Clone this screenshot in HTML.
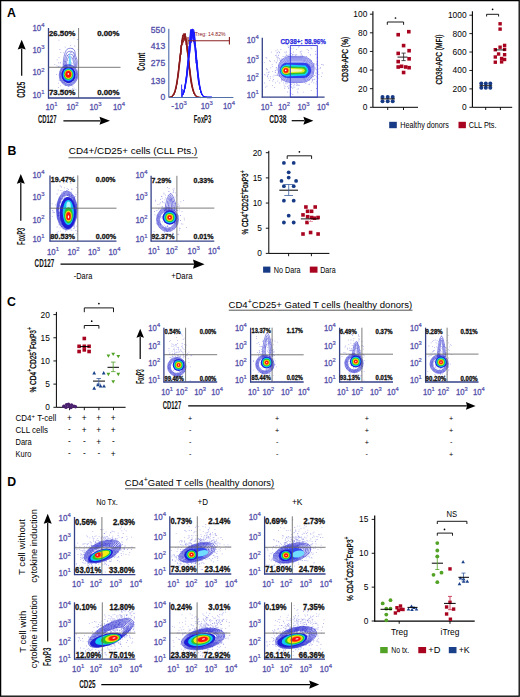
<!DOCTYPE html>
<html><head><meta charset="utf-8"><style>
html,body{margin:0;padding:0;background:#fff;}
body{width:520px;height:697px;overflow:hidden;font-family:"Liberation Sans", sans-serif;}
svg{display:block;}
</style></head><body>
<svg width="520" height="697" viewBox="0 0 520 697" font-family='"Liberation Sans", sans-serif'>
<rect x="0" y="0" width="520" height="697" fill="#fff"/>
<text x="7.00" y="17.20" font-size="12.3" font-weight="bold" fill="#000">A</text>
<path d="M66.7,76.1h0.8v0.8h-0.8zM66.9,66.2h0.8v0.8h-0.8zM63.3,67.4h0.8v0.8h-0.8zM73.6,75.1h0.8v0.8h-0.8zM73.2,73.0h0.8v0.8h-0.8zM70.0,72.2h0.8v0.8h-0.8zM59.7,80.3h0.8v0.8h-0.8zM70.5,76.0h0.8v0.8h-0.8zM59.5,49.1h0.8v0.8h-0.8zM63.6,64.4h0.8v0.8h-0.8zM69.5,69.4h0.8v0.8h-0.8zM70.6,62.3h0.8v0.8h-0.8zM69.5,74.7h0.8v0.8h-0.8zM64.7,90.6h0.8v0.8h-0.8zM70.8,84.4h0.8v0.8h-0.8zM64.9,61.1h0.8v0.8h-0.8zM66.3,68.7h0.8v0.8h-0.8zM71.2,73.0h0.8v0.8h-0.8zM65.8,58.5h0.8v0.8h-0.8zM65.4,84.7h0.8v0.8h-0.8zM64.0,72.9h0.8v0.8h-0.8zM70.1,52.1h0.8v0.8h-0.8zM68.2,85.7h0.8v0.8h-0.8zM57.9,66.1h0.8v0.8h-0.8zM67.5,60.2h0.8v0.8h-0.8zM70.5,69.3h0.8v0.8h-0.8zM60.7,79.9h0.8v0.8h-0.8zM71.3,81.4h0.8v0.8h-0.8zM75.2,74.3h0.8v0.8h-0.8zM68.6,54.4h0.8v0.8h-0.8zM71.1,62.7h0.8v0.8h-0.8zM65.7,54.8h0.8v0.8h-0.8zM63.2,63.6h0.8v0.8h-0.8zM74.4,45.6h0.8v0.8h-0.8zM60.7,72.9h0.8v0.8h-0.8zM75.2,76.9h0.8v0.8h-0.8zM58.5,39.8h0.8v0.8h-0.8zM69.8,61.2h0.8v0.8h-0.8zM62.4,81.7h0.8v0.8h-0.8zM73.5,71.9h0.8v0.8h-0.8zM69.2,75.2h0.8v0.8h-0.8zM76.0,77.4h0.8v0.8h-0.8zM70.6,76.6h0.8v0.8h-0.8zM60.2,85.4h0.8v0.8h-0.8zM72.8,76.4h0.8v0.8h-0.8zM58.1,62.4h0.8v0.8h-0.8zM72.2,48.3h0.8v0.8h-0.8zM67.1,82.2h0.8v0.8h-0.8zM61.4,89.3h0.8v0.8h-0.8zM70.8,68.2h0.8v0.8h-0.8zM69.6,77.8h0.8v0.8h-0.8zM68.6,83.7h0.8v0.8h-0.8zM64.7,65.0h0.8v0.8h-0.8zM73.2,70.3h0.8v0.8h-0.8zM63.6,81.4h0.8v0.8h-0.8zM75.3,64.7h0.8v0.8h-0.8zM61.1,68.4h0.8v0.8h-0.8zM67.3,66.4h0.8v0.8h-0.8zM75.0,57.7h0.8v0.8h-0.8zM74.3,54.8h0.8v0.8h-0.8zM64.1,77.6h0.8v0.8h-0.8zM73.6,80.3h0.8v0.8h-0.8zM69.7,71.7h0.8v0.8h-0.8zM68.8,76.9h0.8v0.8h-0.8zM67.1,73.3h0.8v0.8h-0.8zM70.9,70.0h0.8v0.8h-0.8zM71.8,76.8h0.8v0.8h-0.8zM65.9,65.5h0.8v0.8h-0.8zM67.9,81.1h0.8v0.8h-0.8zM66.3,74.6h0.8v0.8h-0.8zM77.2,39.2h0.8v0.8h-0.8zM62.4,72.9h0.8v0.8h-0.8zM70.0,72.9h0.8v0.8h-0.8zM65.8,77.9h0.8v0.8h-0.8zM69.4,63.7h0.8v0.8h-0.8zM65.2,68.8h0.8v0.8h-0.8zM66.9,69.2h0.8v0.8h-0.8zM54.4,64.2h0.8v0.8h-0.8zM73.0,56.0h0.8v0.8h-0.8zM67.7,81.4h0.8v0.8h-0.8zM72.3,87.9h0.8v0.8h-0.8zM59.5,65.8h0.8v0.8h-0.8zM66.3,77.5h0.8v0.8h-0.8zM73.5,37.8h0.8v0.8h-0.8zM73.4,52.6h0.8v0.8h-0.8zM71.4,52.1h0.8v0.8h-0.8zM68.9,84.3h0.8v0.8h-0.8zM67.3,72.3h0.8v0.8h-0.8zM72.0,71.7h0.8v0.8h-0.8zM67.6,88.4h0.8v0.8h-0.8zM73.2,66.5h0.8v0.8h-0.8zM72.6,66.8h0.8v0.8h-0.8zM68.7,78.5h0.8v0.8h-0.8zM69.1,77.7h0.8v0.8h-0.8zM60.4,51.9h0.8v0.8h-0.8zM71.1,58.4h0.8v0.8h-0.8zM62.9,52.4h0.8v0.8h-0.8zM74.3,79.0h0.8v0.8h-0.8zM75.4,58.7h0.8v0.8h-0.8zM68.0,56.3h0.8v0.8h-0.8zM71.8,89.1h0.8v0.8h-0.8zM63.5,88.7h0.8v0.8h-0.8zM72.9,67.9h0.8v0.8h-0.8zM58.1,86.9h0.8v0.8h-0.8zM67.5,62.8h0.8v0.8h-0.8zM70.0,74.9h0.8v0.8h-0.8zM75.5,57.8h0.8v0.8h-0.8zM73.7,87.8h0.8v0.8h-0.8zM75.3,67.8h0.8v0.8h-0.8zM64.3,82.2h0.8v0.8h-0.8zM68.6,71.5h0.8v0.8h-0.8zM75.1,66.8h0.8v0.8h-0.8zM56.5,65.4h0.8v0.8h-0.8zM58.7,79.8h0.8v0.8h-0.8zM69.6,62.7h0.8v0.8h-0.8zM68.0,80.0h0.8v0.8h-0.8zM68.4,85.9h0.8v0.8h-0.8zM67.7,82.5h0.8v0.8h-0.8zM75.5,89.3h0.8v0.8h-0.8zM64.6,80.6h0.8v0.8h-0.8zM58.6,57.0h0.8v0.8h-0.8zM58.2,82.8h0.8v0.8h-0.8zM61.8,69.8h0.8v0.8h-0.8zM67.0,69.7h0.8v0.8h-0.8zM65.0,72.8h0.8v0.8h-0.8zM77.0,70.5h0.8v0.8h-0.8zM70.7,82.0h0.8v0.8h-0.8zM67.0,54.9h0.8v0.8h-0.8zM65.2,82.9h0.8v0.8h-0.8zM59.8,62.8h0.8v0.8h-0.8zM73.0,79.5h0.8v0.8h-0.8zM68.0,79.7h0.8v0.8h-0.8zM68.8,55.9h0.8v0.8h-0.8zM60.2,62.3h0.8v0.8h-0.8zM72.6,63.2h0.8v0.8h-0.8zM63.5,60.7h0.8v0.8h-0.8zM60.3,68.6h0.8v0.8h-0.8zM62.1,74.4h0.8v0.8h-0.8zM56.2,73.9h0.8v0.8h-0.8zM64.8,46.7h0.8v0.8h-0.8zM71.6,66.7h0.8v0.8h-0.8zM56.8,59.5h0.8v0.8h-0.8zM69.5,64.5h0.8v0.8h-0.8zM71.9,79.0h0.8v0.8h-0.8zM71.3,73.9h0.8v0.8h-0.8zM74.7,77.9h0.8v0.8h-0.8zM70.3,45.0h0.8v0.8h-0.8zM72.5,85.7h0.8v0.8h-0.8zM66.5,64.4h0.8v0.8h-0.8zM77.7,48.9h0.8v0.8h-0.8zM63.4,78.3h0.8v0.8h-0.8zM77.4,68.6h0.8v0.8h-0.8zM70.8,80.8h0.8v0.8h-0.8zM63.5,68.9h0.8v0.8h-0.8zM69.5,79.9h0.8v0.8h-0.8zM67.8,67.7h0.8v0.8h-0.8z" fill="#3a3ad0" opacity="0.5"/>
<path d="M63.30,68.00 C62.80,60.00 64.50,52.00 67.00,49.30 C69.00,47.80 72.50,47.80 74.30,50.00 C75.50,52.00 74.80,55.00 76.20,57.50 C77.60,60.00 77.30,64.00 76.50,68.00" fill="none" stroke="#3030d0" stroke-width="0.55"/>
<path d="M64.33,68.00 C63.91,61.20 65.36,54.40 67.48,52.10 C69.18,50.83 72.16,50.83 73.69,52.70 C74.70,54.40 74.11,56.95 75.30,59.08 C76.49,61.20 76.23,64.60 75.56,68.00" fill="none" stroke="#3030d0" stroke-width="0.55"/>
<path d="M65.37,68.00 C65.02,62.40 66.21,56.80 67.96,54.91 C69.36,53.86 71.81,53.86 73.07,55.40 C73.91,56.80 73.42,58.90 74.40,60.65 C75.38,62.40 75.17,65.20 74.61,68.00" fill="none" stroke="#3030d0" stroke-width="0.55"/>
<path d="M66.34,68.00 C66.06,63.52 67.01,59.04 68.41,57.53 C69.53,56.69 71.49,56.69 72.50,57.92 C73.17,59.04 72.78,60.72 73.56,62.12 C74.34,63.52 74.18,65.76 73.73,68.00" fill="none" stroke="#3030d0" stroke-width="0.55"/>
<path d="M68.8,66 C68.6,61 69,56 69.8,52.5 C70.6,56 71.3,61 71.2,66 Z" fill="#70d8ff"/>
<ellipse cx="68.50" cy="75.20" rx="9.30" ry="10.80" transform="rotate(0 68.50 75.20)" fill="none" stroke="#2f2fd0" stroke-width="0.55" opacity="0.9"/>
<ellipse cx="68.49" cy="75.12" rx="8.79" ry="10.21" transform="rotate(0 68.49 75.12)" fill="none" stroke="#2f2fd0" stroke-width="0.55" opacity="0.9"/>
<ellipse cx="68.48" cy="75.05" rx="8.28" ry="9.61" transform="rotate(0 68.48 75.05)" fill="none" stroke="#2f2fd0" stroke-width="0.55" opacity="0.9"/>
<ellipse cx="68.47" cy="74.97" rx="7.77" ry="9.02" transform="rotate(0 68.47 74.97)" fill="none" stroke="#2f2fd0" stroke-width="0.55" opacity="0.9"/>
<ellipse cx="68.46" cy="74.89" rx="7.25" ry="8.42" transform="rotate(0 68.46 74.89)" fill="#1a1ad0" stroke="none" stroke-width="0.5" opacity="1"/>
<ellipse cx="68.42" cy="74.67" rx="5.77" ry="6.70" transform="rotate(0 68.42 74.67)" fill="#2a50ff" stroke="none" stroke-width="0.5" opacity="1"/>
<ellipse cx="68.41" cy="74.58" rx="5.21" ry="6.05" transform="rotate(0 68.41 74.58)" fill="#10d8f8" stroke="none" stroke-width="0.5" opacity="1"/>
<ellipse cx="68.40" cy="74.49" rx="4.56" ry="5.29" transform="rotate(0 68.40 74.49)" fill="#28c428" stroke="none" stroke-width="0.5" opacity="1"/>
<ellipse cx="68.38" cy="74.37" rx="3.81" ry="4.43" transform="rotate(0 68.38 74.37)" fill="#f0f010" stroke="none" stroke-width="0.5" opacity="1"/>
<ellipse cx="68.37" cy="74.29" rx="3.25" ry="3.78" transform="rotate(0 68.37 74.29)" fill="#ff8a10" stroke="none" stroke-width="0.5" opacity="1"/>
<ellipse cx="68.36" cy="74.23" rx="2.88" ry="3.35" transform="rotate(0 68.36 74.23)" fill="#ff1010" stroke="none" stroke-width="0.5" opacity="1"/>
<ellipse cx="68.32" cy="73.91" rx="0.74" ry="0.86" transform="rotate(0 68.32 73.91)" fill="#fff0f0" stroke="none" stroke-width="0.5" opacity="1"/>
<line x1="48.50" y1="28.00" x2="48.50" y2="98.50" stroke="#34428a" stroke-width="1.3"/>
<line x1="48.00" y1="98.00" x2="120.50" y2="98.00" stroke="#34428a" stroke-width="1.3"/>
<line x1="78.60" y1="28.00" x2="78.60" y2="98.00" stroke="#5a5a5a" stroke-width="0.8"/>
<line x1="48.50" y1="67.30" x2="120.50" y2="67.30" stroke="#5a5a5a" stroke-width="0.8"/>
<text x="32.39" y="30.90" font-size="8.40" textLength="8.74" lengthAdjust="spacingAndGlyphs" fill="#5450aa" stroke="#5450aa" stroke-width="0.3">10</text>
<text x="41.23" y="27.04" font-size="5.88" fill="#5450aa" stroke="#5450aa" stroke-width="0.22">4</text>
<text x="32.39" y="53.10" font-size="8.40" textLength="8.74" lengthAdjust="spacingAndGlyphs" fill="#5450aa" stroke="#5450aa" stroke-width="0.3">10</text>
<text x="41.23" y="49.24" font-size="5.88" fill="#5450aa" stroke="#5450aa" stroke-width="0.22">3</text>
<text x="32.39" y="75.40" font-size="8.40" textLength="8.74" lengthAdjust="spacingAndGlyphs" fill="#5450aa" stroke="#5450aa" stroke-width="0.3">10</text>
<text x="41.23" y="71.54" font-size="5.88" fill="#5450aa" stroke="#5450aa" stroke-width="0.22">2</text>
<text x="32.39" y="97.70" font-size="8.40" textLength="8.74" lengthAdjust="spacingAndGlyphs" fill="#5450aa" stroke="#5450aa" stroke-width="0.3">10</text>
<text x="41.23" y="93.84" font-size="5.88" fill="#5450aa" stroke="#5450aa" stroke-width="0.22">1</text>
<text x="45.45" y="109.80" font-size="8.40" textLength="8.74" lengthAdjust="spacingAndGlyphs" fill="#5450aa" stroke="#5450aa" stroke-width="0.3">10</text>
<text x="54.28" y="105.94" font-size="5.88" fill="#5450aa" stroke="#5450aa" stroke-width="0.22">1</text>
<text x="66.45" y="109.80" font-size="8.40" textLength="8.74" lengthAdjust="spacingAndGlyphs" fill="#5450aa" stroke="#5450aa" stroke-width="0.3">10</text>
<text x="75.28" y="105.94" font-size="5.88" fill="#5450aa" stroke="#5450aa" stroke-width="0.22">2</text>
<text x="89.45" y="109.80" font-size="8.40" textLength="8.74" lengthAdjust="spacingAndGlyphs" fill="#5450aa" stroke="#5450aa" stroke-width="0.3">10</text>
<text x="98.28" y="105.94" font-size="5.88" fill="#5450aa" stroke="#5450aa" stroke-width="0.22">3</text>
<text x="112.95" y="109.80" font-size="8.40" textLength="8.74" lengthAdjust="spacingAndGlyphs" fill="#5450aa" stroke="#5450aa" stroke-width="0.3">10</text>
<text x="121.78" y="105.94" font-size="5.88" fill="#5450aa" stroke="#5450aa" stroke-width="0.22">4</text>
<text x="49.00" y="36.30" font-size="7.8" font-weight="bold" textLength="26.4" lengthAdjust="spacingAndGlyphs" fill="#111" stroke="#111" stroke-width="0.3">26.50%</text>
<text x="97.20" y="36.30" font-size="7.8" font-weight="bold" textLength="22.2" lengthAdjust="spacingAndGlyphs" fill="#111" stroke="#111" stroke-width="0.3">0.00%</text>
<text x="49.00" y="94.90" font-size="7.8" font-weight="bold" textLength="26.4" lengthAdjust="spacingAndGlyphs" fill="#111" stroke="#111" stroke-width="0.3">73.50%</text>
<text x="97.20" y="94.90" font-size="7.8" font-weight="bold" textLength="22.2" lengthAdjust="spacingAndGlyphs" fill="#111" stroke="#111" stroke-width="0.3">0.00%</text>
<text x="37.90" y="123.00" font-size="10.5" font-weight="bold" textLength="18.6" lengthAdjust="spacingAndGlyphs" fill="#111">CD127</text>
<line x1="63.40" y1="120.80" x2="100.50" y2="120.80" stroke="#000" stroke-width="1.2"/>
<path d="M110.00,120.80 L99.50,116.80 L100.70,120.80 L99.50,124.80 Z" fill="#000"/>
<text x="25.00" y="97.80" font-size="10.5" font-weight="bold" textLength="16.1" lengthAdjust="spacingAndGlyphs" transform="rotate(-90 25.0 97.8)" fill="#111">CD25</text>
<line x1="21.70" y1="75.70" x2="21.70" y2="48.50" stroke="#000" stroke-width="1.2"/>
<path d="M21.70,39.80 L17.70,49.50 L21.70,48.30 L25.70,49.50 Z" fill="#000"/>
<path d="M169.0,97.4 169.8,97.3 170.6,97.2 171.4,96.9 172.2,96.4 173.0,95.7 173.8,94.6 174.6,92.9 175.4,90.5 176.2,87.5 177.0,83.8 177.8,79.1 178.6,74.1 179.4,66.5 180.2,61.2 181.0,45.4 181.8,43.6 182.6,44.7 183.4,37.7 184.2,40.1 185.0,33.5 185.8,38.5 186.6,41.0 187.4,50.8 188.2,58.1 189.0,61.2 189.8,70.0 190.6,76.8 191.4,84.3 192.2,87.8 193.0,90.5 193.8,92.9 194.6,94.6 195.4,95.7 196.2,96.4 197.0,96.9 197.8,97.2 198.6,97.3 199.4,97.4 200.2,97.5" fill="none" stroke="#8b1a1a" stroke-width="0.8" stroke-linejoin="round"/>
<path d="M169.0,97.4 169.8,97.3 170.6,97.2 171.4,96.9 172.2,96.4 173.0,95.7 173.8,94.6 174.6,92.9 175.4,90.5 176.2,86.5 177.0,84.0 177.8,76.2 178.6,72.3 179.4,62.0 180.2,53.0 181.0,54.3 181.8,40.5 182.6,35.2 183.4,42.3 184.2,39.7 185.0,33.5 185.8,44.9 186.6,44.5 187.4,52.2 188.2,54.8 189.0,67.9 189.8,72.7 190.6,79.8 191.4,84.3 192.2,86.8 193.0,90.5 193.8,92.9 194.6,94.6 195.4,95.7 196.2,96.4 197.0,96.9 197.8,97.2 198.6,97.3 199.4,97.4 200.2,97.5" fill="none" stroke="#8b1a1a" stroke-width="0.8" stroke-linejoin="round"/>
<path d="M169.0,97.4 169.8,97.3 170.6,97.2 171.4,96.9 172.2,96.4 173.0,95.7 173.8,94.6 174.6,92.9 175.4,90.5 176.2,86.9 177.0,81.9 177.8,76.2 178.6,69.1 179.4,63.3 180.2,58.4 181.0,45.2 181.8,46.1 182.6,36.8 183.4,33.5 184.2,39.0 185.0,35.4 185.8,36.5 186.6,43.8 187.4,52.5 188.2,53.5 189.0,68.2 189.8,68.9 190.6,78.9 191.4,84.1 192.2,86.1 193.0,90.5 193.8,92.9 194.6,94.6 195.4,95.7 196.2,96.4 197.0,96.9 197.8,97.2 198.6,97.3 199.4,97.4 200.2,97.5" fill="none" stroke="#8b1a1a" stroke-width="0.8" stroke-linejoin="round"/>
<path d="M169.0,97.4 169.8,97.3 170.6,97.2 171.4,96.9 172.2,96.4 173.0,95.7 173.8,94.6 174.6,92.9 175.4,90.5 176.2,87.9 177.0,82.6 177.8,78.1 178.6,68.8 179.4,61.4 180.2,54.6 181.0,55.1 181.8,40.4 182.6,42.2 183.4,41.5 184.2,40.7 185.0,33.5 185.8,37.0 186.6,44.3 187.4,53.3 188.2,54.0 189.0,66.5 189.8,73.3 190.6,79.3 191.4,81.5 192.2,88.2 193.0,90.5 193.8,92.9 194.6,94.6 195.4,95.7 196.2,96.4 197.0,96.9 197.8,97.2 198.6,97.3 199.4,97.4 200.2,97.5" fill="none" stroke="#8b1a1a" stroke-width="0.8" stroke-linejoin="round"/>
<path d="M169.0,97.3 169.5,97.3 170.0,97.2 170.5,97.0 171.0,96.8 171.5,96.5 172.0,96.2 172.5,95.7 173.0,95.0 173.5,94.2 174.0,93.2 174.5,92.0 175.0,90.4 175.5,88.6 176.0,86.4 176.5,83.9 177.0,81.0 177.5,77.7 178.0,74.2 178.5,70.3 179.0,66.2 179.5,61.9 180.0,57.6 180.5,53.3 181.0,49.1 181.5,45.3 182.0,41.9 182.5,39.0 183.0,36.8 183.5,35.3 184.0,34.6 184.5,34.6 185.0,35.5 185.5,37.2 186.0,39.6 186.5,42.5 187.0,46.0 187.5,49.9 188.0,54.1 188.5,58.4 189.0,62.8 189.5,67.0 190.0,71.1 190.5,74.9 191.0,78.4 191.5,81.6 192.0,84.4 192.5,86.9 193.0,89.0 193.5,90.8 194.0,92.2 194.5,93.4 195.0,94.4 195.5,95.2 196.0,95.8 196.5,96.2 197.0,96.6 197.5,96.8 198.0,97.0 198.5,97.2 199.0,97.3 199.5,97.4 200.0,97.4 200.5,97.4 201.0,97.5" fill="none" stroke="#8b1a1a" stroke-width="1.3"/>
<path d="M182.5,95.2 183.3,93.7 184.1,91.3 184.9,87.9 185.7,81.3 186.5,76.3 187.3,71.4 188.1,67.5 188.9,51.1 189.7,53.4 190.5,39.3 191.3,29.5 192.1,29.5 192.9,29.5 193.7,29.5 194.5,32.8 195.3,50.8 196.1,63.2 196.9,60.2 197.7,68.1 198.5,82.2 199.3,84.8 200.1,88.9 200.9,92.0 201.7,94.1 202.5,95.5 203.3,96.4 204.1,96.9 204.9,97.2 205.7,97.4 206.5,97.4 207.3,97.5 208.1,97.5 208.9,97.5 209.7,97.5 210.5,97.5 211.3,97.5" fill="none" stroke="#1a1aff" stroke-width="0.8" stroke-linejoin="round"/>
<path d="M182.5,95.2 183.3,93.7 184.1,91.3 184.9,87.9 185.7,82.9 186.5,75.5 187.3,71.2 188.1,66.3 188.9,53.0 189.7,44.0 190.5,29.5 191.3,42.8 192.1,29.5 192.9,30.9 193.7,42.0 194.5,32.4 195.3,51.6 196.1,62.5 196.9,65.8 197.7,74.8 198.5,76.4 199.3,84.3 200.1,88.9 200.9,92.0 201.7,94.1 202.5,95.5 203.3,96.4 204.1,96.9 204.9,97.2 205.7,97.4 206.5,97.4 207.3,97.5 208.1,97.5 208.9,97.5 209.7,97.5 210.5,97.5 211.3,97.5" fill="none" stroke="#1a1aff" stroke-width="0.8" stroke-linejoin="round"/>
<path d="M182.5,95.2 183.3,93.7 184.1,91.3 184.9,87.9 185.7,81.6 186.5,79.9 187.3,68.3 188.1,61.6 188.9,61.5 189.7,52.0 190.5,48.5 191.3,32.2 192.1,30.4 192.9,36.5 193.7,33.8 194.5,35.7 195.3,45.7 196.1,50.5 196.9,62.8 197.7,76.6 198.5,82.1 199.3,85.2 200.1,88.9 200.9,92.0 201.7,94.1 202.5,95.5 203.3,96.4 204.1,96.9 204.9,97.2 205.7,97.4 206.5,97.4 207.3,97.5 208.1,97.5 208.9,97.5 209.7,97.5 210.5,97.5 211.3,97.5" fill="none" stroke="#1a1aff" stroke-width="0.8" stroke-linejoin="round"/>
<path d="M182.5,95.2 183.3,93.7 184.1,91.3 184.9,87.9 185.7,83.3 186.5,76.3 187.3,66.3 188.1,59.3 188.9,58.1 189.7,52.3 190.5,35.4 191.3,39.8 192.1,37.3 192.9,35.7 193.7,38.0 194.5,45.3 195.3,45.0 196.1,58.8 196.9,61.7 197.7,72.0 198.5,80.8 199.3,85.5 200.1,88.9 200.9,92.0 201.7,94.1 202.5,95.5 203.3,96.4 204.1,96.9 204.9,97.2 205.7,97.4 206.5,97.4 207.3,97.5 208.1,97.5 208.9,97.5 209.7,97.5 210.5,97.5 211.3,97.5" fill="none" stroke="#1a1aff" stroke-width="0.8" stroke-linejoin="round"/>
<path d="M182.5,95.2 183.3,93.7 184.1,91.3 184.9,87.9 185.7,82.3 186.5,80.6 187.3,71.7 188.1,63.2 188.9,46.0 189.7,46.3 190.5,33.1 191.3,37.2 192.1,29.8 192.9,38.6 193.7,37.6 194.5,46.1 195.3,44.7 196.1,57.9 196.9,67.1 197.7,75.1 198.5,78.0 199.3,86.2 200.1,88.9 200.9,92.0 201.7,94.1 202.5,95.5 203.3,96.4 204.1,96.9 204.9,97.2 205.7,97.4 206.5,97.4 207.3,97.5 208.1,97.5 208.9,97.5 209.7,97.5 210.5,97.5 211.3,97.5" fill="none" stroke="#1a1aff" stroke-width="0.8" stroke-linejoin="round"/>
<path d="M182.5,95.2 183.3,93.7 184.1,91.3 184.9,87.9 185.7,85.2 186.5,78.8 187.3,74.9 188.1,68.0 188.9,53.9 189.7,46.0 190.5,31.3 191.3,41.0 192.1,41.2 192.9,30.5 193.7,38.6 194.5,44.5 195.3,51.6 196.1,50.9 196.9,67.6 197.7,72.9 198.5,80.1 199.3,84.2 200.1,88.9 200.9,92.0 201.7,94.1 202.5,95.5 203.3,96.4 204.1,96.9 204.9,97.2 205.7,97.4 206.5,97.4 207.3,97.5 208.1,97.5 208.9,97.5 209.7,97.5 210.5,97.5 211.3,97.5" fill="none" stroke="#1a1aff" stroke-width="0.8" stroke-linejoin="round"/>
<path d="M183.0,93.8 183.5,92.5 184.0,90.8 184.5,88.8 185.0,86.3 185.5,83.3 186.0,79.8 186.5,75.8 187.0,71.4 187.5,66.6 188.0,61.5 188.5,56.3 189.0,51.0 189.5,45.9 190.0,41.2 190.5,37.1 191.0,33.7 191.5,31.3 192.0,29.9 192.5,29.5 193.0,30.3 193.5,32.2 194.0,35.0 194.5,38.7 195.0,43.0 195.5,47.9 196.0,53.1 196.5,58.4 197.0,63.6 197.5,68.6 198.0,73.2 198.5,77.5 199.0,81.3 199.5,84.5 200.0,87.3 200.5,89.6 201.0,91.5 201.5,93.0 202.0,94.2 202.5,95.1 203.0,95.8 203.5,96.3 204.0,96.7 204.5,96.9 205.0,97.1 205.5,97.3 206.0,97.3 206.5,97.4 207.0,97.4 207.5,97.5 208.0,97.5 208.5,97.5 209.0,97.5 209.5,97.5 210.0,97.5 210.5,97.5 211.0,97.5 211.5,97.5" fill="none" stroke="#1a1aff" stroke-width="1.3"/>
<path d="M181.6,97.3 V84.5 M182.3,97.3 V89" stroke="#1a1aff" stroke-width="0.9"/>
<path d="M203,97 H212" stroke="#1a1aff" stroke-width="1"/>
<line x1="168.80" y1="28.70" x2="168.80" y2="97.50" stroke="#4a6aa8" stroke-width="1.1"/>
<line x1="168.80" y1="97.50" x2="233.40" y2="97.50" stroke="#5070a8" stroke-width="1.0"/>
<text x="165.20" y="32.60" font-size="8.6" text-anchor="end" fill="#5450aa" stroke="#5450aa" stroke-width="0.3">550</text>
<text x="165.20" y="49.00" font-size="8.6" text-anchor="end" fill="#5450aa" stroke="#5450aa" stroke-width="0.3">413</text>
<text x="165.20" y="66.30" font-size="8.6" text-anchor="end" fill="#5450aa" stroke="#5450aa" stroke-width="0.3">275</text>
<text x="165.20" y="83.60" font-size="8.6" text-anchor="end" fill="#5450aa" stroke="#5450aa" stroke-width="0.3">139</text>
<text x="165.20" y="100.40" font-size="8.6" text-anchor="end" fill="#5450aa" stroke="#5450aa" stroke-width="0.3">0</text>
<line x1="188.00" y1="40.80" x2="229.40" y2="40.80" stroke="#8b2020" stroke-width="1.1"/>
<line x1="188.00" y1="37.00" x2="188.00" y2="44.60" stroke="#8b2020" stroke-width="1.1"/>
<line x1="229.40" y1="37.00" x2="229.40" y2="44.60" stroke="#8b2020" stroke-width="1.1"/>
<text x="194.80" y="36.20" font-size="5.4" textLength="30.8" lengthAdjust="spacingAndGlyphs" fill="#8b2020">Treg: 14.82%</text>
<text x="171.20" y="109.30" font-size="8.4" fill="#5450aa" stroke="#5450aa" stroke-width="0.3">-</text>
<text x="174.60" y="109.30" font-size="8.40" textLength="8.74" lengthAdjust="spacingAndGlyphs" fill="#5450aa" stroke="#5450aa" stroke-width="0.3">10</text>
<text x="183.44" y="105.44" font-size="5.88" fill="#5450aa" stroke="#5450aa" stroke-width="0.22">3</text>
<text x="200.75" y="109.30" font-size="8.40" textLength="8.74" lengthAdjust="spacingAndGlyphs" fill="#5450aa" stroke="#5450aa" stroke-width="0.3">10</text>
<text x="209.58" y="105.44" font-size="5.88" fill="#5450aa" stroke="#5450aa" stroke-width="0.22">3</text>
<text x="222.95" y="109.30" font-size="8.40" textLength="8.74" lengthAdjust="spacingAndGlyphs" fill="#5450aa" stroke="#5450aa" stroke-width="0.3">10</text>
<text x="231.78" y="105.44" font-size="5.88" fill="#5450aa" stroke="#5450aa" stroke-width="0.22">4</text>
<text x="193.80" y="123.00" font-size="10.5" font-weight="bold" textLength="17.4" lengthAdjust="spacingAndGlyphs" fill="#111">FoxP3</text>
<text x="145.30" y="70.70" font-size="10.5" font-weight="bold" textLength="18" lengthAdjust="spacingAndGlyphs" transform="rotate(-90 145.3 70.7)" fill="#111">Count</text>
<path d="M279.0,57.9h0.8v0.8h-0.8zM281.5,57.9h0.8v0.8h-0.8zM302.6,71.0h0.8v0.8h-0.8zM277.4,75.2h0.8v0.8h-0.8zM298.8,84.9h0.8v0.8h-0.8zM292.4,67.9h0.8v0.8h-0.8zM285.8,71.3h0.8v0.8h-0.8zM301.6,71.8h0.8v0.8h-0.8zM291.6,75.8h0.8v0.8h-0.8zM296.2,72.5h0.8v0.8h-0.8zM282.6,72.1h0.8v0.8h-0.8zM281.7,61.4h0.8v0.8h-0.8zM297.1,91.5h0.8v0.8h-0.8zM308.3,70.0h0.8v0.8h-0.8zM292.6,80.1h0.8v0.8h-0.8zM313.4,82.5h0.8v0.8h-0.8zM292.5,71.9h0.8v0.8h-0.8zM290.6,67.1h0.8v0.8h-0.8zM283.6,67.4h0.8v0.8h-0.8zM266.4,57.7h0.8v0.8h-0.8zM300.7,60.5h0.8v0.8h-0.8zM302.2,56.8h0.8v0.8h-0.8zM290.1,74.0h0.8v0.8h-0.8zM281.2,62.7h0.8v0.8h-0.8zM285.6,64.1h0.8v0.8h-0.8zM295.4,69.7h0.8v0.8h-0.8zM308.1,78.1h0.8v0.8h-0.8zM289.6,66.4h0.8v0.8h-0.8zM276.2,54.7h0.8v0.8h-0.8zM285.2,77.5h0.8v0.8h-0.8zM296.6,78.2h0.8v0.8h-0.8zM307.5,68.3h0.8v0.8h-0.8zM322.9,64.6h0.8v0.8h-0.8zM286.7,65.6h0.8v0.8h-0.8zM310.1,68.6h0.8v0.8h-0.8zM285.2,74.4h0.8v0.8h-0.8zM310.1,68.9h0.8v0.8h-0.8zM291.6,81.1h0.8v0.8h-0.8zM308.1,79.7h0.8v0.8h-0.8zM284.8,72.9h0.8v0.8h-0.8zM299.8,51.6h0.8v0.8h-0.8zM311.0,71.0h0.8v0.8h-0.8zM290.5,93.1h0.8v0.8h-0.8zM296.9,62.6h0.8v0.8h-0.8zM294.2,75.8h0.8v0.8h-0.8zM305.8,69.4h0.8v0.8h-0.8zM283.5,62.9h0.8v0.8h-0.8zM284.1,59.3h0.8v0.8h-0.8zM294.7,65.0h0.8v0.8h-0.8zM295.7,61.6h0.8v0.8h-0.8zM283.5,68.1h0.8v0.8h-0.8zM290.4,81.8h0.8v0.8h-0.8zM283.0,72.1h0.8v0.8h-0.8zM294.5,56.6h0.8v0.8h-0.8zM304.7,71.7h0.8v0.8h-0.8zM267.1,76.1h0.8v0.8h-0.8zM307.4,61.9h0.8v0.8h-0.8zM317.5,71.6h0.8v0.8h-0.8zM279.7,75.7h0.8v0.8h-0.8zM290.2,56.3h0.8v0.8h-0.8zM266.5,72.5h0.8v0.8h-0.8zM285.2,76.6h0.8v0.8h-0.8zM300.1,64.7h0.8v0.8h-0.8zM288.0,88.0h0.8v0.8h-0.8zM317.6,77.7h0.8v0.8h-0.8zM290.3,60.0h0.8v0.8h-0.8zM289.9,87.0h0.8v0.8h-0.8zM301.1,67.0h0.8v0.8h-0.8zM278.7,71.7h0.8v0.8h-0.8zM283.4,70.1h0.8v0.8h-0.8zM304.8,80.9h0.8v0.8h-0.8zM296.9,66.5h0.8v0.8h-0.8zM298.0,88.4h0.8v0.8h-0.8zM300.0,55.7h0.8v0.8h-0.8zM315.6,72.6h0.8v0.8h-0.8zM293.8,67.0h0.8v0.8h-0.8zM300.0,64.1h0.8v0.8h-0.8zM275.5,50.4h0.8v0.8h-0.8zM293.4,64.8h0.8v0.8h-0.8zM287.3,91.6h0.8v0.8h-0.8zM305.5,81.1h0.8v0.8h-0.8zM288.4,73.1h0.8v0.8h-0.8zM292.2,67.9h0.8v0.8h-0.8zM304.9,76.1h0.8v0.8h-0.8zM299.0,71.5h0.8v0.8h-0.8zM275.9,62.5h0.8v0.8h-0.8zM300.0,66.3h0.8v0.8h-0.8zM284.7,73.6h0.8v0.8h-0.8zM282.8,63.2h0.8v0.8h-0.8zM306.7,66.4h0.8v0.8h-0.8zM313.9,75.3h0.8v0.8h-0.8zM305.7,81.5h0.8v0.8h-0.8zM266.5,69.2h0.8v0.8h-0.8zM278.0,65.3h0.8v0.8h-0.8zM293.6,82.6h0.8v0.8h-0.8zM294.4,86.7h0.8v0.8h-0.8zM288.1,69.4h0.8v0.8h-0.8zM296.2,79.6h0.8v0.8h-0.8zM294.3,63.7h0.8v0.8h-0.8zM290.7,55.8h0.8v0.8h-0.8zM311.6,77.6h0.8v0.8h-0.8zM300.6,72.8h0.8v0.8h-0.8zM287.0,65.9h0.8v0.8h-0.8zM305.6,62.0h0.8v0.8h-0.8zM284.7,86.0h0.8v0.8h-0.8zM315.5,73.0h0.8v0.8h-0.8zM302.0,71.9h0.8v0.8h-0.8zM313.8,65.5h0.8v0.8h-0.8zM296.1,74.9h0.8v0.8h-0.8zM313.9,67.5h0.8v0.8h-0.8zM298.1,65.0h0.8v0.8h-0.8zM286.4,63.4h0.8v0.8h-0.8zM296.1,79.0h0.8v0.8h-0.8zM285.9,63.9h0.8v0.8h-0.8zM289.7,73.6h0.8v0.8h-0.8zM304.2,57.4h0.8v0.8h-0.8zM299.7,60.0h0.8v0.8h-0.8zM304.4,60.3h0.8v0.8h-0.8zM280.8,62.8h0.8v0.8h-0.8zM294.2,60.0h0.8v0.8h-0.8zM297.8,71.5h0.8v0.8h-0.8zM296.1,72.7h0.8v0.8h-0.8zM306.4,62.7h0.8v0.8h-0.8zM295.0,69.7h0.8v0.8h-0.8zM268.2,73.9h0.8v0.8h-0.8zM284.9,62.8h0.8v0.8h-0.8zM289.2,71.0h0.8v0.8h-0.8zM299.3,74.9h0.8v0.8h-0.8zM285.9,77.0h0.8v0.8h-0.8zM300.5,66.1h0.8v0.8h-0.8zM294.7,78.1h0.8v0.8h-0.8zM300.6,77.0h0.8v0.8h-0.8zM296.4,81.4h0.8v0.8h-0.8zM274.2,87.3h0.8v0.8h-0.8zM287.6,56.2h0.8v0.8h-0.8zM264.1,74.3h0.8v0.8h-0.8zM309.3,80.0h0.8v0.8h-0.8zM290.0,84.5h0.8v0.8h-0.8zM294.0,64.1h0.8v0.8h-0.8zM295.9,72.1h0.8v0.8h-0.8zM295.6,74.0h0.8v0.8h-0.8zM266.5,85.7h0.8v0.8h-0.8zM287.6,76.5h0.8v0.8h-0.8zM284.6,71.6h0.8v0.8h-0.8zM292.7,54.2h0.8v0.8h-0.8zM300.0,76.3h0.8v0.8h-0.8zM280.5,49.0h0.8v0.8h-0.8zM286.6,61.6h0.8v0.8h-0.8zM296.4,69.8h0.8v0.8h-0.8zM316.0,76.5h0.8v0.8h-0.8zM291.7,71.6h0.8v0.8h-0.8zM283.0,68.9h0.8v0.8h-0.8zM299.2,72.1h0.8v0.8h-0.8zM307.2,63.1h0.8v0.8h-0.8zM299.0,68.7h0.8v0.8h-0.8zM295.2,73.2h0.8v0.8h-0.8zM291.3,72.1h0.8v0.8h-0.8zM294.5,80.2h0.8v0.8h-0.8zM293.5,73.0h0.8v0.8h-0.8zM301.7,80.8h0.8v0.8h-0.8zM281.9,77.1h0.8v0.8h-0.8zM304.7,74.4h0.8v0.8h-0.8zM307.6,77.8h0.8v0.8h-0.8zM310.5,63.6h0.8v0.8h-0.8zM300.6,64.6h0.8v0.8h-0.8zM311.1,71.4h0.8v0.8h-0.8zM278.1,71.1h0.8v0.8h-0.8zM282.0,79.8h0.8v0.8h-0.8zM290.6,48.2h0.8v0.8h-0.8zM290.0,80.2h0.8v0.8h-0.8zM299.3,63.7h0.8v0.8h-0.8zM303.4,75.7h0.8v0.8h-0.8zM314.1,79.0h0.8v0.8h-0.8zM299.8,62.1h0.8v0.8h-0.8zM298.7,73.0h0.8v0.8h-0.8zM295.2,74.2h0.8v0.8h-0.8zM279.6,75.7h0.8v0.8h-0.8zM295.1,73.6h0.8v0.8h-0.8zM293.8,67.0h0.8v0.8h-0.8zM298.3,77.8h0.8v0.8h-0.8zM290.8,73.2h0.8v0.8h-0.8zM285.1,74.2h0.8v0.8h-0.8zM295.2,57.3h0.8v0.8h-0.8zM310.0,61.1h0.8v0.8h-0.8zM296.0,56.9h0.8v0.8h-0.8zM272.6,76.5h0.8v0.8h-0.8zM276.9,49.4h0.8v0.8h-0.8zM292.2,54.6h0.8v0.8h-0.8zM292.4,88.2h0.8v0.8h-0.8zM289.9,73.6h0.8v0.8h-0.8zM302.2,72.5h0.8v0.8h-0.8zM293.5,85.0h0.8v0.8h-0.8zM294.0,73.5h0.8v0.8h-0.8zM296.4,57.3h0.8v0.8h-0.8zM299.1,70.6h0.8v0.8h-0.8zM303.4,76.9h0.8v0.8h-0.8zM315.2,51.2h0.8v0.8h-0.8zM287.8,65.3h0.8v0.8h-0.8zM283.9,74.1h0.8v0.8h-0.8zM294.0,71.4h0.8v0.8h-0.8zM274.0,60.5h0.8v0.8h-0.8zM294.2,65.6h0.8v0.8h-0.8zM287.2,68.8h0.8v0.8h-0.8zM291.4,59.5h0.8v0.8h-0.8zM316.4,63.3h0.8v0.8h-0.8zM303.4,75.9h0.8v0.8h-0.8zM307.4,64.3h0.8v0.8h-0.8zM282.2,74.3h0.8v0.8h-0.8zM298.3,46.7h0.8v0.8h-0.8zM290.0,67.3h0.8v0.8h-0.8zM300.3,60.4h0.8v0.8h-0.8zM311.7,72.7h0.8v0.8h-0.8zM268.3,72.3h0.8v0.8h-0.8zM287.9,74.4h0.8v0.8h-0.8zM293.5,76.6h0.8v0.8h-0.8zM283.7,66.4h0.8v0.8h-0.8zM295.1,62.6h0.8v0.8h-0.8zM289.1,76.1h0.8v0.8h-0.8zM319.7,67.9h0.8v0.8h-0.8zM305.6,58.8h0.8v0.8h-0.8zM289.1,73.2h0.8v0.8h-0.8zM302.4,59.9h0.8v0.8h-0.8zM302.7,71.4h0.8v0.8h-0.8zM311.8,79.2h0.8v0.8h-0.8zM302.0,66.1h0.8v0.8h-0.8zM298.4,61.5h0.8v0.8h-0.8zM284.4,51.8h0.8v0.8h-0.8zM278.3,57.5h0.8v0.8h-0.8zM293.7,71.0h0.8v0.8h-0.8zM277.8,69.0h0.8v0.8h-0.8zM300.1,79.1h0.8v0.8h-0.8zM293.8,72.1h0.8v0.8h-0.8zM290.1,79.1h0.8v0.8h-0.8zM275.0,72.3h0.8v0.8h-0.8zM265.2,86.8h0.8v0.8h-0.8zM306.8,49.2h0.8v0.8h-0.8zM288.2,56.1h0.8v0.8h-0.8zM272.3,65.9h0.8v0.8h-0.8zM283.6,80.2h0.8v0.8h-0.8zM288.2,59.0h0.8v0.8h-0.8zM293.9,73.9h0.8v0.8h-0.8zM305.4,74.9h0.8v0.8h-0.8zM275.8,61.8h0.8v0.8h-0.8zM292.5,61.7h0.8v0.8h-0.8zM304.4,66.6h0.8v0.8h-0.8zM293.9,66.2h0.8v0.8h-0.8zM295.4,55.1h0.8v0.8h-0.8zM321.7,64.3h0.8v0.8h-0.8zM285.5,52.4h0.8v0.8h-0.8zM293.7,56.3h0.8v0.8h-0.8zM299.0,81.7h0.8v0.8h-0.8zM302.6,65.5h0.8v0.8h-0.8zM311.1,68.0h0.8v0.8h-0.8zM294.2,70.5h0.8v0.8h-0.8zM288.7,74.0h0.8v0.8h-0.8zM279.1,52.4h0.8v0.8h-0.8zM310.1,62.6h0.8v0.8h-0.8zM290.3,73.1h0.8v0.8h-0.8zM288.8,58.2h0.8v0.8h-0.8zM292.3,60.6h0.8v0.8h-0.8zM301.8,65.5h0.8v0.8h-0.8zM291.5,77.4h0.8v0.8h-0.8zM275.0,55.2h0.8v0.8h-0.8zM304.1,82.3h0.8v0.8h-0.8zM296.0,62.9h0.8v0.8h-0.8zM310.5,75.0h0.8v0.8h-0.8zM307.9,52.0h0.8v0.8h-0.8zM293.1,59.7h0.8v0.8h-0.8zM280.8,75.5h0.8v0.8h-0.8zM304.1,65.2h0.8v0.8h-0.8zM291.6,83.4h0.8v0.8h-0.8zM303.2,68.7h0.8v0.8h-0.8zM301.3,70.9h0.8v0.8h-0.8zM278.7,64.8h0.8v0.8h-0.8zM298.4,75.9h0.8v0.8h-0.8zM279.5,61.9h0.8v0.8h-0.8zM287.3,55.0h0.8v0.8h-0.8zM308.9,74.3h0.8v0.8h-0.8zM311.5,48.4h0.8v0.8h-0.8zM284.4,87.7h0.8v0.8h-0.8zM276.8,51.9h0.8v0.8h-0.8zM297.6,85.3h0.8v0.8h-0.8zM303.0,60.4h0.8v0.8h-0.8zM301.9,73.9h0.8v0.8h-0.8zM298.2,73.7h0.8v0.8h-0.8zM305.4,81.3h0.8v0.8h-0.8zM312.3,80.3h0.8v0.8h-0.8zM292.9,51.7h0.8v0.8h-0.8zM301.8,55.1h0.8v0.8h-0.8zM271.2,51.7h0.8v0.8h-0.8zM299.8,72.8h0.8v0.8h-0.8zM303.1,72.7h0.8v0.8h-0.8zM284.9,77.9h0.8v0.8h-0.8zM285.9,55.1h0.8v0.8h-0.8zM306.4,75.1h0.8v0.8h-0.8zM282.9,67.4h0.8v0.8h-0.8zM308.0,79.1h0.8v0.8h-0.8zM281.1,80.8h0.8v0.8h-0.8zM299.7,68.7h0.8v0.8h-0.8zM296.3,54.0h0.8v0.8h-0.8zM293.2,74.8h0.8v0.8h-0.8zM282.9,71.2h0.8v0.8h-0.8zM292.7,47.7h0.8v0.8h-0.8zM287.1,75.6h0.8v0.8h-0.8zM274.9,70.1h0.8v0.8h-0.8zM299.1,57.3h0.8v0.8h-0.8zM291.6,78.7h0.8v0.8h-0.8zM304.1,60.1h0.8v0.8h-0.8zM307.9,73.3h0.8v0.8h-0.8zM296.5,84.8h0.8v0.8h-0.8zM304.3,73.5h0.8v0.8h-0.8zM307.2,76.5h0.8v0.8h-0.8zM311.2,68.8h0.8v0.8h-0.8zM272.1,85.3h0.8v0.8h-0.8zM305.2,75.1h0.8v0.8h-0.8zM295.5,69.1h0.8v0.8h-0.8zM296.2,60.6h0.8v0.8h-0.8zM304.8,70.8h0.8v0.8h-0.8zM282.7,72.5h0.8v0.8h-0.8zM290.7,69.7h0.8v0.8h-0.8zM281.3,74.0h0.8v0.8h-0.8zM304.0,74.1h0.8v0.8h-0.8zM314.0,65.7h0.8v0.8h-0.8zM290.7,69.8h0.8v0.8h-0.8zM277.4,80.8h0.8v0.8h-0.8zM279.0,75.4h0.8v0.8h-0.8zM310.3,61.7h0.8v0.8h-0.8zM292.7,68.0h0.8v0.8h-0.8zM317.0,72.6h0.8v0.8h-0.8zM272.4,80.6h0.8v0.8h-0.8zM308.2,50.2h0.8v0.8h-0.8zM296.1,48.9h0.8v0.8h-0.8zM308.5,84.0h0.8v0.8h-0.8zM264.3,82.6h0.8v0.8h-0.8zM304.1,69.7h0.8v0.8h-0.8zM285.9,73.8h0.8v0.8h-0.8zM284.5,71.5h0.8v0.8h-0.8zM291.7,65.6h0.8v0.8h-0.8zM302.0,79.7h0.8v0.8h-0.8zM306.4,74.4h0.8v0.8h-0.8zM316.6,57.5h0.8v0.8h-0.8zM295.8,71.8h0.8v0.8h-0.8zM310.6,47.6h0.8v0.8h-0.8zM289.3,66.8h0.8v0.8h-0.8zM297.5,92.4h0.8v0.8h-0.8zM298.0,69.0h0.8v0.8h-0.8zM300.5,79.7h0.8v0.8h-0.8zM292.7,86.7h0.8v0.8h-0.8zM279.3,82.4h0.8v0.8h-0.8zM304.1,79.9h0.8v0.8h-0.8zM315.0,67.6h0.8v0.8h-0.8zM300.3,72.6h0.8v0.8h-0.8zM287.2,62.4h0.8v0.8h-0.8zM284.9,78.4h0.8v0.8h-0.8zM265.6,57.2h0.8v0.8h-0.8zM296.0,82.9h0.8v0.8h-0.8zM293.7,82.5h0.8v0.8h-0.8zM294.2,64.7h0.8v0.8h-0.8zM274.8,71.8h0.8v0.8h-0.8zM317.3,70.9h0.8v0.8h-0.8zM281.6,75.8h0.8v0.8h-0.8zM277.3,58.6h0.8v0.8h-0.8zM309.4,74.1h0.8v0.8h-0.8zM307.5,72.4h0.8v0.8h-0.8zM293.5,71.7h0.8v0.8h-0.8zM290.8,80.4h0.8v0.8h-0.8zM278.4,51.2h0.8v0.8h-0.8zM284.0,78.9h0.8v0.8h-0.8zM288.0,47.1h0.8v0.8h-0.8zM292.5,75.7h0.8v0.8h-0.8zM299.7,68.3h0.8v0.8h-0.8zM274.9,75.2h0.8v0.8h-0.8zM282.3,68.2h0.8v0.8h-0.8zM304.8,66.1h0.8v0.8h-0.8zM271.8,64.0h0.8v0.8h-0.8zM302.8,77.1h0.8v0.8h-0.8zM278.2,70.5h0.8v0.8h-0.8zM298.8,80.6h0.8v0.8h-0.8zM300.2,71.6h0.8v0.8h-0.8zM291.0,74.7h0.8v0.8h-0.8zM305.0,68.4h0.8v0.8h-0.8zM291.3,87.3h0.8v0.8h-0.8zM294.4,62.2h0.8v0.8h-0.8zM303.7,57.7h0.8v0.8h-0.8zM281.0,79.1h0.8v0.8h-0.8zM295.3,77.8h0.8v0.8h-0.8zM305.0,62.5h0.8v0.8h-0.8zM301.5,66.2h0.8v0.8h-0.8zM297.8,72.5h0.8v0.8h-0.8zM293.9,57.2h0.8v0.8h-0.8zM298.9,70.2h0.8v0.8h-0.8zM301.8,59.6h0.8v0.8h-0.8zM297.6,67.9h0.8v0.8h-0.8zM289.5,67.4h0.8v0.8h-0.8zM291.8,56.5h0.8v0.8h-0.8zM288.0,65.4h0.8v0.8h-0.8zM301.0,68.5h0.8v0.8h-0.8zM313.2,75.9h0.8v0.8h-0.8zM299.0,72.0h0.8v0.8h-0.8zM276.8,73.6h0.8v0.8h-0.8zM311.2,60.0h0.8v0.8h-0.8zM311.9,76.1h0.8v0.8h-0.8zM298.7,65.8h0.8v0.8h-0.8zM295.3,62.3h0.8v0.8h-0.8zM294.8,70.5h0.8v0.8h-0.8zM295.8,58.0h0.8v0.8h-0.8zM306.9,63.5h0.8v0.8h-0.8zM300.1,75.8h0.8v0.8h-0.8zM292.4,94.1h0.8v0.8h-0.8zM296.6,74.1h0.8v0.8h-0.8zM291.8,73.2h0.8v0.8h-0.8zM278.8,76.3h0.8v0.8h-0.8zM290.3,65.0h0.8v0.8h-0.8zM304.7,78.9h0.8v0.8h-0.8zM289.6,59.9h0.8v0.8h-0.8zM269.3,60.2h0.8v0.8h-0.8zM301.3,76.2h0.8v0.8h-0.8zM278.9,70.5h0.8v0.8h-0.8zM308.4,62.5h0.8v0.8h-0.8zM287.9,61.1h0.8v0.8h-0.8zM300.3,51.4h0.8v0.8h-0.8zM293.3,74.6h0.8v0.8h-0.8zM294.3,79.4h0.8v0.8h-0.8zM302.8,65.0h0.8v0.8h-0.8zM282.2,59.6h0.8v0.8h-0.8zM301.2,68.6h0.8v0.8h-0.8zM296.5,61.0h0.8v0.8h-0.8zM309.7,78.5h0.8v0.8h-0.8zM304.6,59.0h0.8v0.8h-0.8zM281.2,79.5h0.8v0.8h-0.8zM293.4,62.3h0.8v0.8h-0.8zM285.3,74.9h0.8v0.8h-0.8zM298.9,72.1h0.8v0.8h-0.8zM292.2,59.9h0.8v0.8h-0.8zM298.2,67.4h0.8v0.8h-0.8zM292.4,76.0h0.8v0.8h-0.8zM316.5,63.8h0.8v0.8h-0.8zM307.3,62.8h0.8v0.8h-0.8zM305.7,76.3h0.8v0.8h-0.8zM295.5,72.3h0.8v0.8h-0.8zM285.1,66.7h0.8v0.8h-0.8zM307.1,77.5h0.8v0.8h-0.8zM289.1,71.0h0.8v0.8h-0.8zM295.8,65.1h0.8v0.8h-0.8zM289.7,69.0h0.8v0.8h-0.8zM311.2,69.0h0.8v0.8h-0.8zM285.4,73.1h0.8v0.8h-0.8zM287.0,73.0h0.8v0.8h-0.8zM266.0,67.9h0.8v0.8h-0.8zM281.4,79.6h0.8v0.8h-0.8zM305.1,65.7h0.8v0.8h-0.8zM301.0,58.6h0.8v0.8h-0.8zM297.8,72.6h0.8v0.8h-0.8zM308.5,65.8h0.8v0.8h-0.8zM267.8,77.8h0.8v0.8h-0.8zM281.3,64.7h0.8v0.8h-0.8zM290.4,86.1h0.8v0.8h-0.8zM294.4,81.3h0.8v0.8h-0.8zM295.9,56.4h0.8v0.8h-0.8zM300.8,75.0h0.8v0.8h-0.8zM287.9,54.8h0.8v0.8h-0.8zM300.3,74.5h0.8v0.8h-0.8zM306.9,75.8h0.8v0.8h-0.8zM276.3,56.5h0.8v0.8h-0.8zM305.4,83.2h0.8v0.8h-0.8zM308.5,78.1h0.8v0.8h-0.8zM294.9,79.4h0.8v0.8h-0.8zM314.6,75.2h0.8v0.8h-0.8zM310.9,81.8h0.8v0.8h-0.8zM286.0,81.5h0.8v0.8h-0.8zM285.3,61.1h0.8v0.8h-0.8zM315.5,54.0h0.8v0.8h-0.8zM292.7,78.8h0.8v0.8h-0.8zM300.0,66.3h0.8v0.8h-0.8zM283.2,75.0h0.8v0.8h-0.8zM301.7,69.2h0.8v0.8h-0.8zM282.7,56.1h0.8v0.8h-0.8zM294.9,69.5h0.8v0.8h-0.8zM305.6,67.0h0.8v0.8h-0.8zM306.5,58.3h0.8v0.8h-0.8zM273.2,79.1h0.8v0.8h-0.8zM289.7,61.9h0.8v0.8h-0.8zM293.2,58.2h0.8v0.8h-0.8zM290.7,56.6h0.8v0.8h-0.8zM297.2,64.4h0.8v0.8h-0.8zM294.4,70.0h0.8v0.8h-0.8zM300.7,53.4h0.8v0.8h-0.8zM297.0,67.5h0.8v0.8h-0.8zM280.5,67.5h0.8v0.8h-0.8zM301.4,74.6h0.8v0.8h-0.8zM320.1,66.9h0.8v0.8h-0.8zM296.8,88.7h0.8v0.8h-0.8zM287.5,62.0h0.8v0.8h-0.8zM289.2,64.3h0.8v0.8h-0.8zM294.7,71.4h0.8v0.8h-0.8zM285.5,59.0h0.8v0.8h-0.8zM294.4,58.2h0.8v0.8h-0.8zM284.8,73.4h0.8v0.8h-0.8zM293.8,60.4h0.8v0.8h-0.8zM277.0,60.4h0.8v0.8h-0.8zM276.4,75.2h0.8v0.8h-0.8zM304.4,72.9h0.8v0.8h-0.8zM299.0,65.2h0.8v0.8h-0.8zM297.1,70.6h0.8v0.8h-0.8zM295.6,65.3h0.8v0.8h-0.8zM281.5,72.8h0.8v0.8h-0.8zM299.8,59.2h0.8v0.8h-0.8zM292.1,69.7h0.8v0.8h-0.8zM301.2,53.6h0.8v0.8h-0.8zM277.4,56.7h0.8v0.8h-0.8zM279.4,59.6h0.8v0.8h-0.8zM305.7,58.8h0.8v0.8h-0.8zM321.8,72.6h0.8v0.8h-0.8zM303.7,69.6h0.8v0.8h-0.8zM305.8,73.7h0.8v0.8h-0.8zM305.1,75.7h0.8v0.8h-0.8zM302.8,73.7h0.8v0.8h-0.8zM308.8,70.2h0.8v0.8h-0.8zM288.5,85.4h0.8v0.8h-0.8zM289.0,73.9h0.8v0.8h-0.8zM321.4,63.9h0.8v0.8h-0.8zM291.6,63.5h0.8v0.8h-0.8zM283.3,76.3h0.8v0.8h-0.8zM292.5,71.3h0.8v0.8h-0.8zM273.6,74.7h0.8v0.8h-0.8zM286.0,51.4h0.8v0.8h-0.8zM286.0,54.5h0.8v0.8h-0.8zM315.0,53.8h0.8v0.8h-0.8zM298.6,60.0h0.8v0.8h-0.8zM284.8,57.6h0.8v0.8h-0.8zM310.2,59.4h0.8v0.8h-0.8zM287.1,72.3h0.8v0.8h-0.8zM290.4,76.7h0.8v0.8h-0.8zM285.8,54.4h0.8v0.8h-0.8zM300.7,81.5h0.8v0.8h-0.8zM301.7,62.0h0.8v0.8h-0.8zM309.7,77.6h0.8v0.8h-0.8zM290.3,74.2h0.8v0.8h-0.8zM294.6,71.1h0.8v0.8h-0.8zM303.1,78.5h0.8v0.8h-0.8zM296.1,70.7h0.8v0.8h-0.8zM263.9,62.2h0.8v0.8h-0.8zM300.8,62.3h0.8v0.8h-0.8zM299.7,68.1h0.8v0.8h-0.8zM295.9,70.9h0.8v0.8h-0.8zM311.5,74.9h0.8v0.8h-0.8zM295.6,58.6h0.8v0.8h-0.8zM299.7,59.7h0.8v0.8h-0.8zM310.5,63.3h0.8v0.8h-0.8zM287.3,68.6h0.8v0.8h-0.8zM282.5,74.8h0.8v0.8h-0.8zM299.1,63.5h0.8v0.8h-0.8zM288.4,87.7h0.8v0.8h-0.8zM309.6,75.3h0.8v0.8h-0.8zM298.6,84.5h0.8v0.8h-0.8zM290.2,67.5h0.8v0.8h-0.8zM293.4,59.9h0.8v0.8h-0.8zM284.0,87.8h0.8v0.8h-0.8zM297.0,61.5h0.8v0.8h-0.8zM292.1,65.4h0.8v0.8h-0.8zM289.6,69.5h0.8v0.8h-0.8zM276.7,52.8h0.8v0.8h-0.8zM292.5,67.8h0.8v0.8h-0.8zM280.4,69.1h0.8v0.8h-0.8zM288.0,72.0h0.8v0.8h-0.8zM292.5,80.8h0.8v0.8h-0.8zM312.6,76.5h0.8v0.8h-0.8zM295.4,78.3h0.8v0.8h-0.8zM304.3,74.6h0.8v0.8h-0.8zM304.8,66.5h0.8v0.8h-0.8zM304.9,75.2h0.8v0.8h-0.8zM300.2,68.5h0.8v0.8h-0.8zM290.1,75.7h0.8v0.8h-0.8zM289.0,59.9h0.8v0.8h-0.8zM316.1,81.5h0.8v0.8h-0.8zM285.7,83.4h0.8v0.8h-0.8zM269.8,75.9h0.8v0.8h-0.8zM303.7,72.6h0.8v0.8h-0.8zM292.7,77.6h0.8v0.8h-0.8zM301.7,59.4h0.8v0.8h-0.8zM286.2,79.8h0.8v0.8h-0.8zM304.6,59.3h0.8v0.8h-0.8zM276.9,74.4h0.8v0.8h-0.8zM285.1,63.3h0.8v0.8h-0.8zM288.8,72.4h0.8v0.8h-0.8zM270.2,77.7h0.8v0.8h-0.8zM290.7,78.9h0.8v0.8h-0.8zM281.2,61.9h0.8v0.8h-0.8zM301.4,79.7h0.8v0.8h-0.8zM294.6,67.1h0.8v0.8h-0.8zM311.9,80.6h0.8v0.8h-0.8zM299.0,67.9h0.8v0.8h-0.8zM310.9,76.9h0.8v0.8h-0.8zM290.9,84.3h0.8v0.8h-0.8zM309.0,72.4h0.8v0.8h-0.8zM301.2,77.6h0.8v0.8h-0.8zM289.6,58.8h0.8v0.8h-0.8zM310.1,54.7h0.8v0.8h-0.8zM276.6,56.8h0.8v0.8h-0.8zM301.5,80.2h0.8v0.8h-0.8zM287.3,82.7h0.8v0.8h-0.8zM315.7,83.4h0.8v0.8h-0.8zM279.4,82.7h0.8v0.8h-0.8zM275.2,82.5h0.8v0.8h-0.8zM301.9,69.9h0.8v0.8h-0.8zM294.7,53.9h0.8v0.8h-0.8zM284.9,72.1h0.8v0.8h-0.8zM301.2,79.1h0.8v0.8h-0.8zM307.0,65.8h0.8v0.8h-0.8zM294.4,83.9h0.8v0.8h-0.8zM278.4,75.3h0.8v0.8h-0.8zM284.8,72.3h0.8v0.8h-0.8zM318.4,74.1h0.8v0.8h-0.8zM289.7,63.7h0.8v0.8h-0.8zM277.9,70.1h0.8v0.8h-0.8zM267.1,69.5h0.8v0.8h-0.8zM297.0,61.6h0.8v0.8h-0.8zM285.5,81.7h0.8v0.8h-0.8zM310.9,89.9h0.8v0.8h-0.8zM309.7,73.3h0.8v0.8h-0.8zM292.7,82.1h0.8v0.8h-0.8zM303.9,72.0h0.8v0.8h-0.8zM317.8,68.8h0.8v0.8h-0.8zM297.6,80.9h0.8v0.8h-0.8zM301.5,71.0h0.8v0.8h-0.8zM291.3,77.0h0.8v0.8h-0.8zM300.8,71.9h0.8v0.8h-0.8zM316.3,69.5h0.8v0.8h-0.8zM316.7,60.9h0.8v0.8h-0.8zM297.0,62.5h0.8v0.8h-0.8zM300.0,76.9h0.8v0.8h-0.8zM302.4,72.5h0.8v0.8h-0.8zM292.2,58.6h0.8v0.8h-0.8zM306.1,70.6h0.8v0.8h-0.8zM309.9,54.2h0.8v0.8h-0.8zM292.3,53.9h0.8v0.8h-0.8zM309.1,63.3h0.8v0.8h-0.8zM282.4,78.7h0.8v0.8h-0.8zM294.3,72.7h0.8v0.8h-0.8zM294.1,81.0h0.8v0.8h-0.8zM298.9,72.8h0.8v0.8h-0.8zM295.2,79.6h0.8v0.8h-0.8zM309.5,66.9h0.8v0.8h-0.8zM306.2,55.9h0.8v0.8h-0.8zM285.4,65.2h0.8v0.8h-0.8zM286.1,75.5h0.8v0.8h-0.8zM278.0,55.3h0.8v0.8h-0.8zM297.7,61.9h0.8v0.8h-0.8zM296.0,71.1h0.8v0.8h-0.8zM286.9,66.4h0.8v0.8h-0.8zM306.0,70.3h0.8v0.8h-0.8zM296.2,76.7h0.8v0.8h-0.8zM286.2,58.6h0.8v0.8h-0.8zM290.8,85.9h0.8v0.8h-0.8zM302.9,91.7h0.8v0.8h-0.8zM307.8,79.1h0.8v0.8h-0.8zM289.1,54.4h0.8v0.8h-0.8zM268.7,71.6h0.8v0.8h-0.8zM281.3,58.9h0.8v0.8h-0.8zM302.3,73.1h0.8v0.8h-0.8zM279.1,72.7h0.8v0.8h-0.8zM312.7,79.3h0.8v0.8h-0.8zM286.6,79.3h0.8v0.8h-0.8zM270.4,67.4h0.8v0.8h-0.8zM289.6,82.1h0.8v0.8h-0.8zM280.0,61.0h0.8v0.8h-0.8zM291.0,77.5h0.8v0.8h-0.8zM277.7,72.5h0.8v0.8h-0.8zM290.7,65.8h0.8v0.8h-0.8zM279.3,74.3h0.8v0.8h-0.8zM297.1,74.4h0.8v0.8h-0.8zM297.4,69.1h0.8v0.8h-0.8zM284.1,70.1h0.8v0.8h-0.8zM305.1,71.5h0.8v0.8h-0.8zM301.9,78.6h0.8v0.8h-0.8zM299.5,67.8h0.8v0.8h-0.8zM283.1,82.4h0.8v0.8h-0.8zM293.1,68.6h0.8v0.8h-0.8zM296.4,78.1h0.8v0.8h-0.8zM306.1,63.4h0.8v0.8h-0.8zM294.3,81.4h0.8v0.8h-0.8zM287.6,70.5h0.8v0.8h-0.8zM284.7,56.1h0.8v0.8h-0.8zM279.0,71.8h0.8v0.8h-0.8zM299.2,45.2h0.8v0.8h-0.8zM292.0,68.0h0.8v0.8h-0.8zM275.9,69.5h0.8v0.8h-0.8zM285.4,83.3h0.8v0.8h-0.8zM282.9,80.2h0.8v0.8h-0.8zM280.4,60.2h0.8v0.8h-0.8zM313.2,62.9h0.8v0.8h-0.8zM289.9,54.9h0.8v0.8h-0.8zM297.2,83.7h0.8v0.8h-0.8zM291.6,67.6h0.8v0.8h-0.8zM295.3,62.8h0.8v0.8h-0.8zM279.2,70.6h0.8v0.8h-0.8zM291.2,53.2h0.8v0.8h-0.8zM264.8,74.7h0.8v0.8h-0.8zM279.3,74.5h0.8v0.8h-0.8zM306.5,69.5h0.8v0.8h-0.8zM287.7,45.6h0.8v0.8h-0.8zM314.4,78.8h0.8v0.8h-0.8zM285.6,59.8h0.8v0.8h-0.8zM301.3,50.8h0.8v0.8h-0.8zM304.1,79.2h0.8v0.8h-0.8zM279.9,59.7h0.8v0.8h-0.8zM317.6,65.3h0.8v0.8h-0.8zM297.2,66.8h0.8v0.8h-0.8zM269.3,79.9h0.8v0.8h-0.8zM315.6,64.4h0.8v0.8h-0.8zM283.8,84.8h0.8v0.8h-0.8zM276.1,67.1h0.8v0.8h-0.8zM278.1,54.8h0.8v0.8h-0.8zM287.3,44.1h0.8v0.8h-0.8zM279.8,70.5h0.8v0.8h-0.8zM285.8,59.3h0.8v0.8h-0.8zM288.6,80.7h0.8v0.8h-0.8zM303.2,71.7h0.8v0.8h-0.8zM304.4,66.5h0.8v0.8h-0.8zM287.9,87.4h0.8v0.8h-0.8zM296.0,84.8h0.8v0.8h-0.8zM269.8,61.1h0.8v0.8h-0.8zM283.5,71.3h0.8v0.8h-0.8zM294.3,79.5h0.8v0.8h-0.8zM301.6,70.0h0.8v0.8h-0.8zM301.7,77.0h0.8v0.8h-0.8zM298.6,46.3h0.8v0.8h-0.8zM289.0,76.0h0.8v0.8h-0.8zM290.1,83.6h0.8v0.8h-0.8zM288.6,70.7h0.8v0.8h-0.8zM284.8,68.8h0.8v0.8h-0.8zM309.1,83.8h0.8v0.8h-0.8zM306.0,76.6h0.8v0.8h-0.8zM296.6,57.6h0.8v0.8h-0.8zM303.0,63.8h0.8v0.8h-0.8zM298.7,69.0h0.8v0.8h-0.8zM305.8,63.6h0.8v0.8h-0.8zM305.1,70.2h0.8v0.8h-0.8zM315.6,68.9h0.8v0.8h-0.8zM293.1,51.8h0.8v0.8h-0.8zM306.1,70.3h0.8v0.8h-0.8zM267.2,74.7h0.8v0.8h-0.8zM301.2,66.9h0.8v0.8h-0.8zM311.5,69.0h0.8v0.8h-0.8zM293.2,73.9h0.8v0.8h-0.8zM280.9,75.4h0.8v0.8h-0.8zM284.3,72.5h0.8v0.8h-0.8zM309.0,66.3h0.8v0.8h-0.8zM287.0,86.2h0.8v0.8h-0.8zM295.5,80.5h0.8v0.8h-0.8zM302.6,74.5h0.8v0.8h-0.8zM313.1,69.7h0.8v0.8h-0.8zM275.8,67.8h0.8v0.8h-0.8zM287.6,59.3h0.8v0.8h-0.8zM290.1,74.2h0.8v0.8h-0.8zM301.5,70.9h0.8v0.8h-0.8zM293.5,70.8h0.8v0.8h-0.8zM289.6,61.9h0.8v0.8h-0.8zM296.2,78.6h0.8v0.8h-0.8zM286.1,70.3h0.8v0.8h-0.8zM304.0,60.8h0.8v0.8h-0.8zM300.0,71.8h0.8v0.8h-0.8zM308.2,61.6h0.8v0.8h-0.8zM289.7,85.3h0.8v0.8h-0.8zM321.1,76.0h0.8v0.8h-0.8zM312.7,64.3h0.8v0.8h-0.8zM308.0,73.3h0.8v0.8h-0.8zM304.1,58.5h0.8v0.8h-0.8zM297.4,77.1h0.8v0.8h-0.8zM309.5,74.7h0.8v0.8h-0.8zM300.9,79.9h0.8v0.8h-0.8zM317.1,56.9h0.8v0.8h-0.8zM272.3,70.9h0.8v0.8h-0.8zM316.0,88.1h0.8v0.8h-0.8zM304.9,61.4h0.8v0.8h-0.8zM303.2,64.5h0.8v0.8h-0.8zM306.4,68.9h0.8v0.8h-0.8zM317.0,61.3h0.8v0.8h-0.8zM314.2,63.6h0.8v0.8h-0.8zM304.4,73.6h0.8v0.8h-0.8zM279.1,51.9h0.8v0.8h-0.8z" fill="#3a3ad0" opacity="0.5"/>
<rect x="278.20" y="56.40" width="35.80" height="26.00" rx="12.00" ry="12.00" fill="#e8eaff" stroke="#3434d4" stroke-width="0.6" opacity="1"/>
<rect x="279.35" y="57.55" width="33.50" height="23.70" rx="10.85" ry="10.85" fill="none" stroke="#3434d4" stroke-width="0.55" opacity="1"/>
<rect x="280.50" y="58.70" width="31.20" height="21.40" rx="9.70" ry="9.70" fill="none" stroke="#3434d4" stroke-width="0.55" opacity="1"/>
<rect x="281.65" y="59.85" width="28.90" height="19.10" rx="8.55" ry="8.55" fill="none" stroke="#3434d4" stroke-width="0.55" opacity="1"/>
<rect x="282.80" y="61.00" width="26.60" height="16.80" rx="7.40" ry="7.40" fill="none" stroke="#3434d4" stroke-width="0.55" opacity="1"/>
<rect x="279.80" y="62.40" width="31.40" height="15.60" rx="7.80" ry="7.80" fill="#3040ea" stroke="none" stroke-width="0.6" opacity="1"/>
<circle cx="285.90" cy="70.50" r="5.40" fill="#10d0f8"/>
<path d="M286,64.6 L305.5,65.4 Q311.2,70.5 305.5,75.6 L286,76.4 Z" fill="#10d0f8"/>
<circle cx="285.90" cy="70.50" r="4.40" fill="#30c030"/>
<path d="M286,66.2 L304.5,67 Q309.2,70.5 304.5,74 L286,74.8 Z" fill="#30c030"/>
<circle cx="285.90" cy="70.50" r="3.60" fill="#f0f020"/>
<path d="M286,67.7 L303,68.5 Q306.8,70.5 303,72.5 L286,73.3 Z" fill="#e8ec20"/>
<path d="M290.5,69.1 L301.5,69.6 Q303.3,70.5 301.5,71.4 L290.5,71.9 Z" fill="#f6f6b8"/>
<circle cx="285.90" cy="70.50" r="2.90" fill="#ff8a10"/>
<circle cx="285.90" cy="70.50" r="2.30" fill="#ff1010"/>
<circle cx="285.70" cy="70.40" r="0.80" fill="#fff0f0"/>
<rect x="290.3" y="45.6" width="27" height="51.6" fill="none" stroke="#3030e0" stroke-width="0.9"/>
<line x1="262.30" y1="37.80" x2="262.30" y2="97.70" stroke="#34428a" stroke-width="1.3"/>
<line x1="261.80" y1="97.20" x2="324.60" y2="97.20" stroke="#34428a" stroke-width="1.3"/>
<text x="246.69" y="42.50" font-size="8.40" textLength="8.74" lengthAdjust="spacingAndGlyphs" fill="#5450aa" stroke="#5450aa" stroke-width="0.3">10</text>
<text x="255.53" y="38.64" font-size="5.88" fill="#5450aa" stroke="#5450aa" stroke-width="0.22">4</text>
<text x="246.69" y="62.50" font-size="8.40" textLength="8.74" lengthAdjust="spacingAndGlyphs" fill="#5450aa" stroke="#5450aa" stroke-width="0.3">10</text>
<text x="255.53" y="58.64" font-size="5.88" fill="#5450aa" stroke="#5450aa" stroke-width="0.22">3</text>
<text x="246.69" y="80.70" font-size="8.40" textLength="8.74" lengthAdjust="spacingAndGlyphs" fill="#5450aa" stroke="#5450aa" stroke-width="0.3">10</text>
<text x="255.53" y="76.84" font-size="5.88" fill="#5450aa" stroke="#5450aa" stroke-width="0.22">2</text>
<text x="246.69" y="98.00" font-size="8.40" textLength="8.74" lengthAdjust="spacingAndGlyphs" fill="#5450aa" stroke="#5450aa" stroke-width="0.3">10</text>
<text x="255.53" y="94.14" font-size="5.88" fill="#5450aa" stroke="#5450aa" stroke-width="0.22">1</text>
<text x="260.75" y="110.10" font-size="8.40" textLength="8.74" lengthAdjust="spacingAndGlyphs" fill="#5450aa" stroke="#5450aa" stroke-width="0.3">10</text>
<text x="269.58" y="106.24" font-size="5.88" fill="#5450aa" stroke="#5450aa" stroke-width="0.22">1</text>
<text x="277.95" y="110.10" font-size="8.40" textLength="8.74" lengthAdjust="spacingAndGlyphs" fill="#5450aa" stroke="#5450aa" stroke-width="0.3">10</text>
<text x="286.78" y="106.24" font-size="5.88" fill="#5450aa" stroke="#5450aa" stroke-width="0.22">2</text>
<text x="297.45" y="110.10" font-size="8.40" textLength="8.74" lengthAdjust="spacingAndGlyphs" fill="#5450aa" stroke="#5450aa" stroke-width="0.3">10</text>
<text x="306.28" y="106.24" font-size="5.88" fill="#5450aa" stroke="#5450aa" stroke-width="0.22">3</text>
<text x="316.95" y="110.10" font-size="8.40" textLength="8.74" lengthAdjust="spacingAndGlyphs" fill="#5450aa" stroke="#5450aa" stroke-width="0.3">10</text>
<text x="325.78" y="106.24" font-size="5.88" fill="#5450aa" stroke="#5450aa" stroke-width="0.22">4</text>
<text x="280.50" y="44.40" font-size="7.2" font-weight="bold" textLength="45.5" lengthAdjust="spacingAndGlyphs" fill="#2a2ae0" stroke="#2a2ae0" stroke-width="0.25">CD38+: 58.96%</text>
<text x="269.20" y="123.20" font-size="10.5" font-weight="bold" textLength="17.3" lengthAdjust="spacingAndGlyphs" fill="#111">CD38</text>
<line x1="291.70" y1="120.70" x2="304.40" y2="120.70" stroke="#000" stroke-width="1.2"/>
<path d="M313.40,120.70 L303.40,116.70 L304.60,120.70 L303.40,124.70 Z" fill="#000"/>
<line x1="372.90" y1="11.30" x2="372.90" y2="107.30" stroke="#000" stroke-width="1.1"/>
<line x1="372.90" y1="107.30" x2="418.00" y2="107.30" stroke="#000" stroke-width="1"/>
<line x1="369.90" y1="107.30" x2="372.90" y2="107.30" stroke="#000" stroke-width="0.9"/>
<text x="367.30" y="110.20" font-size="8.4" text-anchor="end" fill="#000">0</text>
<line x1="369.90" y1="88.68" x2="372.90" y2="88.68" stroke="#000" stroke-width="0.9"/>
<text x="367.30" y="91.58" font-size="8.4" text-anchor="end" fill="#000">20</text>
<line x1="369.90" y1="70.06" x2="372.90" y2="70.06" stroke="#000" stroke-width="0.9"/>
<text x="367.30" y="72.96" font-size="8.4" text-anchor="end" fill="#000">40</text>
<line x1="369.90" y1="51.44" x2="372.90" y2="51.44" stroke="#000" stroke-width="0.9"/>
<text x="367.30" y="54.34" font-size="8.4" text-anchor="end" fill="#000">60</text>
<line x1="369.90" y1="32.82" x2="372.90" y2="32.82" stroke="#000" stroke-width="0.9"/>
<text x="367.30" y="35.72" font-size="8.4" text-anchor="end" fill="#000">80</text>
<line x1="369.90" y1="14.20" x2="372.90" y2="14.20" stroke="#000" stroke-width="0.9"/>
<text x="367.30" y="17.10" font-size="8.4" text-anchor="end" fill="#000">100</text>
<line x1="387.70" y1="107.30" x2="387.70" y2="110.00" stroke="#000" stroke-width="0.9"/>
<line x1="403.50" y1="107.30" x2="403.50" y2="110.00" stroke="#000" stroke-width="0.9"/>
<text transform="translate(347.80 81.70) rotate(-90) scale(0.7122 1)" font-size="9.3" fill="#000" stroke="#000" stroke-width="0.3"><tspan>CD38-APC (%)</tspan></text>
<path d="M387.3,24.8 V22 H403.6 V24.8" fill="none" stroke="#000" stroke-width="0.9"/>
<circle cx="395.50" cy="18.00" r="0.85" fill="#000"/>
<rect x="396.40" y="32.90" width="3.60" height="3.60" fill="#a8041f"/>
<rect x="407.00" y="29.90" width="3.60" height="3.60" fill="#a8041f"/>
<rect x="401.80" y="43.80" width="3.60" height="3.60" fill="#a8041f"/>
<rect x="407.30" y="48.90" width="3.60" height="3.60" fill="#a8041f"/>
<rect x="396.40" y="51.60" width="3.60" height="3.60" fill="#a8041f"/>
<rect x="407.30" y="57.00" width="3.60" height="3.60" fill="#a8041f"/>
<rect x="396.40" y="59.80" width="3.60" height="3.60" fill="#a8041f"/>
<rect x="396.40" y="65.20" width="3.60" height="3.60" fill="#a8041f"/>
<rect x="399.80" y="64.50" width="3.60" height="3.60" fill="#a8041f"/>
<rect x="403.90" y="65.20" width="3.60" height="3.60" fill="#a8041f"/>
<rect x="407.30" y="65.90" width="3.60" height="3.60" fill="#a8041f"/>
<rect x="401.80" y="70.70" width="3.60" height="3.60" fill="#a8041f"/>
<line x1="397.50" y1="57.10" x2="407.50" y2="57.10" stroke="#000" stroke-width="0.9"/>
<path d="M401.5,53.1 H405.7 M403.6,53.1 V60.6 M401.5,60.6 H405.7" stroke="#222" stroke-width="0.8" fill="none"/>
<circle cx="382.50" cy="97.00" r="2.00" fill="#163a85"/>
<circle cx="387.70" cy="97.00" r="2.00" fill="#163a85"/>
<circle cx="392.70" cy="97.00" r="2.00" fill="#163a85"/>
<circle cx="382.50" cy="101.20" r="2.00" fill="#163a85"/>
<circle cx="387.70" cy="101.20" r="2.00" fill="#163a85"/>
<circle cx="392.70" cy="101.20" r="2.00" fill="#163a85"/>
<line x1="380.50" y1="98.90" x2="395.00" y2="98.90" stroke="#000" stroke-width="0.9"/>
<line x1="472.40" y1="11.30" x2="472.40" y2="107.30" stroke="#000" stroke-width="1.1"/>
<line x1="472.40" y1="107.30" x2="512.20" y2="107.30" stroke="#000" stroke-width="1"/>
<line x1="469.40" y1="107.30" x2="472.40" y2="107.30" stroke="#000" stroke-width="0.9"/>
<text x="466.60" y="110.20" font-size="8.4" text-anchor="end" fill="#000">0</text>
<line x1="469.40" y1="88.88" x2="472.40" y2="88.88" stroke="#000" stroke-width="0.9"/>
<text x="466.60" y="91.78" font-size="8.4" text-anchor="end" fill="#000">200</text>
<line x1="469.40" y1="70.46" x2="472.40" y2="70.46" stroke="#000" stroke-width="0.9"/>
<text x="466.60" y="73.36" font-size="8.4" text-anchor="end" fill="#000">400</text>
<line x1="469.40" y1="52.04" x2="472.40" y2="52.04" stroke="#000" stroke-width="0.9"/>
<text x="466.60" y="54.94" font-size="8.4" text-anchor="end" fill="#000">600</text>
<line x1="469.40" y1="33.62" x2="472.40" y2="33.62" stroke="#000" stroke-width="0.9"/>
<text x="466.60" y="36.52" font-size="8.4" text-anchor="end" fill="#000">800</text>
<line x1="469.40" y1="15.20" x2="472.40" y2="15.20" stroke="#000" stroke-width="0.9"/>
<text x="466.60" y="18.10" font-size="8.4" text-anchor="end" fill="#000">1000</text>
<line x1="485.70" y1="107.30" x2="485.70" y2="110.00" stroke="#000" stroke-width="0.9"/>
<line x1="500.40" y1="107.30" x2="500.40" y2="110.00" stroke="#000" stroke-width="0.9"/>
<text transform="translate(442.40 84.50) rotate(-90) scale(0.7063 1)" font-size="9.3" fill="#000" stroke="#000" stroke-width="0.3"><tspan>CD38-APC (MFI)</tspan></text>
<path d="M486.6,16.5 V14.3 H498.6 V16.5" fill="none" stroke="#000" stroke-width="0.9"/>
<circle cx="492.60" cy="9.30" r="0.85" fill="#000"/>
<rect x="498.40" y="22.10" width="3.40" height="3.40" fill="#a8041f"/>
<rect x="498.40" y="27.40" width="3.40" height="3.40" fill="#a8041f"/>
<rect x="502.90" y="43.70" width="3.40" height="3.40" fill="#a8041f"/>
<rect x="498.40" y="45.50" width="3.40" height="3.40" fill="#a8041f"/>
<rect x="493.60" y="48.00" width="3.40" height="3.40" fill="#a8041f"/>
<rect x="502.90" y="47.70" width="3.40" height="3.40" fill="#a8041f"/>
<rect x="496.90" y="52.30" width="3.40" height="3.40" fill="#a8041f"/>
<rect x="502.90" y="53.00" width="3.40" height="3.40" fill="#a8041f"/>
<rect x="493.60" y="55.30" width="3.40" height="3.40" fill="#a8041f"/>
<rect x="499.90" y="56.80" width="3.40" height="3.40" fill="#a8041f"/>
<rect x="502.90" y="57.80" width="3.40" height="3.40" fill="#a8041f"/>
<rect x="493.60" y="60.50" width="3.40" height="3.40" fill="#a8041f"/>
<rect x="499.90" y="60.20" width="3.40" height="3.40" fill="#a8041f"/>
<line x1="495.00" y1="49.90" x2="505.50" y2="49.90" stroke="#000" stroke-width="0.9"/>
<circle cx="481.30" cy="83.60" r="2.00" fill="#163a85"/>
<circle cx="485.80" cy="83.60" r="2.00" fill="#163a85"/>
<circle cx="490.30" cy="83.60" r="2.00" fill="#163a85"/>
<circle cx="481.30" cy="87.80" r="2.00" fill="#163a85"/>
<circle cx="485.80" cy="87.80" r="2.00" fill="#163a85"/>
<circle cx="490.30" cy="87.80" r="2.00" fill="#163a85"/>
<line x1="479.50" y1="85.70" x2="492.20" y2="85.70" stroke="#000" stroke-width="0.9"/>
<rect x="389.20" y="121.80" width="7.60" height="6.40" fill="#163a85"/>
<text x="400.30" y="128.00" font-size="8.2" textLength="48.5" lengthAdjust="spacingAndGlyphs" fill="#000">Healthy donors</text>
<rect x="458.50" y="121.80" width="7.40" height="6.40" fill="#a8041f"/>
<text x="468.80" y="128.00" font-size="8.2" textLength="27.7" lengthAdjust="spacingAndGlyphs" fill="#000">CLL Pts.</text>
<text x="7.40" y="155.00" font-size="12.3" font-weight="bold" fill="#000">B</text>
<text x="68.80" y="154.40" font-size="9.6" textLength="128.5" lengthAdjust="spacingAndGlyphs" fill="#000">CD4+/CD25+ cells (CLL Pts.)</text>
<line x1="68.50" y1="157.80" x2="197.70" y2="157.80" stroke="#555" stroke-width="1.1"/>
<path d="M66.3,206.9h0.8v0.8h-0.8zM63.8,219.0h0.8v0.8h-0.8zM69.0,217.5h0.8v0.8h-0.8zM61.2,208.8h0.8v0.8h-0.8zM66.3,222.3h0.8v0.8h-0.8zM74.6,204.7h0.8v0.8h-0.8zM67.2,182.1h0.8v0.8h-0.8zM70.3,214.5h0.8v0.8h-0.8zM66.3,190.0h0.8v0.8h-0.8zM61.9,201.0h0.8v0.8h-0.8zM65.9,197.5h0.8v0.8h-0.8zM68.4,217.9h0.8v0.8h-0.8zM68.2,212.1h0.8v0.8h-0.8zM63.4,220.1h0.8v0.8h-0.8zM65.1,230.6h0.8v0.8h-0.8zM63.3,210.4h0.8v0.8h-0.8zM77.3,191.7h0.8v0.8h-0.8zM73.4,213.8h0.8v0.8h-0.8zM68.6,226.8h0.8v0.8h-0.8zM63.8,217.8h0.8v0.8h-0.8zM64.3,225.5h0.8v0.8h-0.8zM60.1,209.7h0.8v0.8h-0.8zM64.1,197.7h0.8v0.8h-0.8zM73.1,205.8h0.8v0.8h-0.8zM70.6,183.2h0.8v0.8h-0.8zM61.2,198.9h0.8v0.8h-0.8zM69.3,191.7h0.8v0.8h-0.8zM69.2,221.7h0.8v0.8h-0.8zM67.7,212.1h0.8v0.8h-0.8zM64.9,200.1h0.8v0.8h-0.8zM67.0,212.8h0.8v0.8h-0.8zM75.9,212.5h0.8v0.8h-0.8zM63.0,220.0h0.8v0.8h-0.8zM61.1,186.6h0.8v0.8h-0.8zM65.7,202.0h0.8v0.8h-0.8zM70.8,209.5h0.8v0.8h-0.8zM59.5,201.6h0.8v0.8h-0.8zM64.1,234.5h0.8v0.8h-0.8zM59.7,198.0h0.8v0.8h-0.8zM74.3,227.3h0.8v0.8h-0.8zM65.1,226.2h0.8v0.8h-0.8zM66.6,199.5h0.8v0.8h-0.8zM66.5,220.7h0.8v0.8h-0.8zM75.7,207.6h0.8v0.8h-0.8zM59.4,212.8h0.8v0.8h-0.8zM64.4,202.2h0.8v0.8h-0.8zM69.6,212.6h0.8v0.8h-0.8zM59.9,202.0h0.8v0.8h-0.8zM75.3,207.7h0.8v0.8h-0.8zM60.7,210.3h0.8v0.8h-0.8zM61.3,212.1h0.8v0.8h-0.8zM67.5,194.3h0.8v0.8h-0.8zM57.2,206.7h0.8v0.8h-0.8zM59.4,205.3h0.8v0.8h-0.8zM64.4,207.3h0.8v0.8h-0.8zM73.6,224.2h0.8v0.8h-0.8zM65.2,215.1h0.8v0.8h-0.8zM71.0,191.7h0.8v0.8h-0.8zM67.5,198.2h0.8v0.8h-0.8zM73.9,224.9h0.8v0.8h-0.8zM68.9,227.4h0.8v0.8h-0.8zM65.4,200.9h0.8v0.8h-0.8zM75.0,210.2h0.8v0.8h-0.8zM69.0,194.5h0.8v0.8h-0.8zM71.3,209.2h0.8v0.8h-0.8zM66.2,197.3h0.8v0.8h-0.8zM62.5,205.1h0.8v0.8h-0.8zM67.9,225.0h0.8v0.8h-0.8zM56.7,193.6h0.8v0.8h-0.8zM61.4,201.4h0.8v0.8h-0.8zM62.1,196.3h0.8v0.8h-0.8zM63.0,215.2h0.8v0.8h-0.8zM64.6,199.2h0.8v0.8h-0.8zM70.6,211.7h0.8v0.8h-0.8zM61.2,224.2h0.8v0.8h-0.8zM63.1,198.4h0.8v0.8h-0.8zM69.2,200.2h0.8v0.8h-0.8zM61.1,226.1h0.8v0.8h-0.8zM64.3,198.6h0.8v0.8h-0.8zM68.1,208.2h0.8v0.8h-0.8zM55.4,204.6h0.8v0.8h-0.8zM69.8,204.6h0.8v0.8h-0.8zM69.6,196.1h0.8v0.8h-0.8zM71.9,205.8h0.8v0.8h-0.8zM62.6,195.2h0.8v0.8h-0.8zM72.5,209.3h0.8v0.8h-0.8zM64.6,214.0h0.8v0.8h-0.8zM66.1,205.8h0.8v0.8h-0.8zM69.0,204.5h0.8v0.8h-0.8zM72.4,237.4h0.8v0.8h-0.8zM56.9,210.2h0.8v0.8h-0.8zM64.5,217.4h0.8v0.8h-0.8zM55.4,235.1h0.8v0.8h-0.8zM71.6,234.3h0.8v0.8h-0.8zM73.7,197.8h0.8v0.8h-0.8zM66.0,229.3h0.8v0.8h-0.8zM73.7,201.0h0.8v0.8h-0.8zM68.5,226.2h0.8v0.8h-0.8zM74.7,205.7h0.8v0.8h-0.8zM69.4,216.5h0.8v0.8h-0.8zM65.7,207.3h0.8v0.8h-0.8zM72.8,210.1h0.8v0.8h-0.8zM66.7,224.0h0.8v0.8h-0.8zM73.9,216.8h0.8v0.8h-0.8zM64.6,200.6h0.8v0.8h-0.8zM60.6,202.8h0.8v0.8h-0.8zM68.9,194.7h0.8v0.8h-0.8zM62.0,198.2h0.8v0.8h-0.8zM68.2,205.2h0.8v0.8h-0.8zM76.1,225.8h0.8v0.8h-0.8zM67.4,208.7h0.8v0.8h-0.8zM73.5,199.8h0.8v0.8h-0.8zM72.8,195.3h0.8v0.8h-0.8zM64.9,214.1h0.8v0.8h-0.8zM67.9,191.2h0.8v0.8h-0.8zM62.3,211.8h0.8v0.8h-0.8zM57.8,231.2h0.8v0.8h-0.8zM63.0,211.9h0.8v0.8h-0.8zM68.8,217.1h0.8v0.8h-0.8zM66.2,198.2h0.8v0.8h-0.8zM58.0,213.0h0.8v0.8h-0.8zM65.8,225.9h0.8v0.8h-0.8zM68.2,218.1h0.8v0.8h-0.8zM60.9,206.4h0.8v0.8h-0.8zM69.6,205.9h0.8v0.8h-0.8zM71.0,205.3h0.8v0.8h-0.8zM65.4,214.7h0.8v0.8h-0.8zM59.6,227.4h0.8v0.8h-0.8zM76.2,207.3h0.8v0.8h-0.8zM69.6,221.7h0.8v0.8h-0.8zM69.3,217.9h0.8v0.8h-0.8zM65.2,216.2h0.8v0.8h-0.8zM63.9,196.8h0.8v0.8h-0.8zM65.8,218.9h0.8v0.8h-0.8zM68.9,214.6h0.8v0.8h-0.8zM64.8,211.8h0.8v0.8h-0.8zM62.4,208.7h0.8v0.8h-0.8zM67.7,200.6h0.8v0.8h-0.8zM75.9,187.3h0.8v0.8h-0.8zM70.9,206.3h0.8v0.8h-0.8zM73.1,204.2h0.8v0.8h-0.8zM72.0,201.1h0.8v0.8h-0.8zM62.5,207.6h0.8v0.8h-0.8zM67.3,198.5h0.8v0.8h-0.8zM74.0,197.5h0.8v0.8h-0.8zM65.6,211.3h0.8v0.8h-0.8zM66.3,222.4h0.8v0.8h-0.8zM61.6,221.5h0.8v0.8h-0.8zM73.7,210.4h0.8v0.8h-0.8zM63.6,193.1h0.8v0.8h-0.8zM68.7,197.1h0.8v0.8h-0.8zM52.8,210.8h0.8v0.8h-0.8zM59.3,204.8h0.8v0.8h-0.8zM63.9,226.6h0.8v0.8h-0.8zM52.7,212.1h0.8v0.8h-0.8zM68.7,208.9h0.8v0.8h-0.8zM71.9,214.8h0.8v0.8h-0.8zM70.6,196.4h0.8v0.8h-0.8zM66.9,215.5h0.8v0.8h-0.8zM67.0,216.3h0.8v0.8h-0.8zM73.1,225.6h0.8v0.8h-0.8zM68.3,216.8h0.8v0.8h-0.8zM64.7,205.7h0.8v0.8h-0.8zM71.3,194.9h0.8v0.8h-0.8zM73.9,196.6h0.8v0.8h-0.8zM66.4,200.6h0.8v0.8h-0.8zM61.8,215.5h0.8v0.8h-0.8zM56.7,226.6h0.8v0.8h-0.8zM57.1,218.4h0.8v0.8h-0.8zM65.3,206.3h0.8v0.8h-0.8zM68.9,225.3h0.8v0.8h-0.8zM68.1,201.5h0.8v0.8h-0.8zM67.0,221.7h0.8v0.8h-0.8zM60.9,213.2h0.8v0.8h-0.8zM74.3,202.5h0.8v0.8h-0.8zM66.0,220.8h0.8v0.8h-0.8zM63.5,209.7h0.8v0.8h-0.8zM65.3,212.8h0.8v0.8h-0.8zM60.3,189.9h0.8v0.8h-0.8zM73.5,200.4h0.8v0.8h-0.8zM61.2,220.2h0.8v0.8h-0.8zM63.5,207.4h0.8v0.8h-0.8zM60.2,206.5h0.8v0.8h-0.8zM69.1,222.3h0.8v0.8h-0.8zM71.4,195.3h0.8v0.8h-0.8zM64.9,217.8h0.8v0.8h-0.8zM61.8,198.9h0.8v0.8h-0.8zM65.0,222.9h0.8v0.8h-0.8zM60.0,219.3h0.8v0.8h-0.8zM71.2,202.0h0.8v0.8h-0.8zM59.5,206.3h0.8v0.8h-0.8zM64.8,202.2h0.8v0.8h-0.8zM67.3,237.1h0.8v0.8h-0.8zM72.5,224.4h0.8v0.8h-0.8zM66.6,223.9h0.8v0.8h-0.8zM62.8,212.7h0.8v0.8h-0.8zM73.7,237.0h0.8v0.8h-0.8zM70.2,211.6h0.8v0.8h-0.8zM66.6,198.5h0.8v0.8h-0.8zM70.5,229.5h0.8v0.8h-0.8zM71.1,209.1h0.8v0.8h-0.8zM65.4,198.4h0.8v0.8h-0.8zM75.1,209.8h0.8v0.8h-0.8zM74.0,199.1h0.8v0.8h-0.8zM71.4,219.5h0.8v0.8h-0.8zM66.0,203.4h0.8v0.8h-0.8zM74.7,202.0h0.8v0.8h-0.8zM75.6,217.2h0.8v0.8h-0.8zM77.5,208.5h0.8v0.8h-0.8zM65.6,197.4h0.8v0.8h-0.8zM57.8,189.8h0.8v0.8h-0.8zM64.6,210.0h0.8v0.8h-0.8zM76.1,233.4h0.8v0.8h-0.8zM63.5,182.8h0.8v0.8h-0.8zM68.7,214.5h0.8v0.8h-0.8zM64.4,198.4h0.8v0.8h-0.8zM62.8,212.0h0.8v0.8h-0.8zM67.9,189.1h0.8v0.8h-0.8zM66.0,197.4h0.8v0.8h-0.8zM61.0,210.7h0.8v0.8h-0.8zM61.8,212.3h0.8v0.8h-0.8zM51.9,216.0h0.8v0.8h-0.8zM68.0,203.9h0.8v0.8h-0.8zM61.7,190.5h0.8v0.8h-0.8zM59.9,230.8h0.8v0.8h-0.8zM69.1,208.3h0.8v0.8h-0.8zM62.9,201.7h0.8v0.8h-0.8zM59.6,213.2h0.8v0.8h-0.8zM72.4,196.9h0.8v0.8h-0.8zM70.5,204.1h0.8v0.8h-0.8zM68.7,198.5h0.8v0.8h-0.8zM71.5,229.7h0.8v0.8h-0.8zM63.2,206.0h0.8v0.8h-0.8zM72.5,201.3h0.8v0.8h-0.8zM59.0,179.0h0.8v0.8h-0.8zM63.5,223.3h0.8v0.8h-0.8zM62.3,207.2h0.8v0.8h-0.8zM51.8,203.4h0.8v0.8h-0.8zM65.5,201.1h0.8v0.8h-0.8zM63.6,194.8h0.8v0.8h-0.8zM60.9,223.1h0.8v0.8h-0.8zM59.6,224.7h0.8v0.8h-0.8zM58.5,224.5h0.8v0.8h-0.8zM65.9,217.0h0.8v0.8h-0.8zM65.5,215.5h0.8v0.8h-0.8zM63.2,214.5h0.8v0.8h-0.8zM75.6,194.2h0.8v0.8h-0.8zM67.2,220.2h0.8v0.8h-0.8zM63.8,210.1h0.8v0.8h-0.8zM68.5,221.7h0.8v0.8h-0.8zM69.5,214.6h0.8v0.8h-0.8zM63.0,203.8h0.8v0.8h-0.8zM64.7,201.6h0.8v0.8h-0.8zM67.3,199.1h0.8v0.8h-0.8zM71.3,200.8h0.8v0.8h-0.8zM63.4,191.3h0.8v0.8h-0.8zM64.1,190.8h0.8v0.8h-0.8zM65.1,215.8h0.8v0.8h-0.8zM56.7,232.3h0.8v0.8h-0.8zM71.8,212.2h0.8v0.8h-0.8zM64.6,222.0h0.8v0.8h-0.8zM69.5,204.6h0.8v0.8h-0.8zM67.9,211.4h0.8v0.8h-0.8zM61.8,226.3h0.8v0.8h-0.8zM58.7,215.1h0.8v0.8h-0.8zM61.3,209.1h0.8v0.8h-0.8zM65.6,211.9h0.8v0.8h-0.8zM76.3,204.2h0.8v0.8h-0.8zM70.3,214.6h0.8v0.8h-0.8zM68.5,196.0h0.8v0.8h-0.8zM66.9,190.0h0.8v0.8h-0.8zM73.8,227.7h0.8v0.8h-0.8zM68.0,216.2h0.8v0.8h-0.8zM66.8,188.0h0.8v0.8h-0.8zM65.1,221.2h0.8v0.8h-0.8zM66.5,200.0h0.8v0.8h-0.8zM76.9,230.9h0.8v0.8h-0.8zM67.1,218.0h0.8v0.8h-0.8zM63.6,212.8h0.8v0.8h-0.8zM73.9,202.9h0.8v0.8h-0.8zM70.8,198.3h0.8v0.8h-0.8zM52.0,210.3h0.8v0.8h-0.8zM70.0,216.1h0.8v0.8h-0.8zM72.0,197.4h0.8v0.8h-0.8zM68.1,193.7h0.8v0.8h-0.8zM67.1,195.2h0.8v0.8h-0.8zM68.0,220.4h0.8v0.8h-0.8zM73.5,203.3h0.8v0.8h-0.8zM75.4,213.4h0.8v0.8h-0.8zM75.4,209.3h0.8v0.8h-0.8zM60.4,210.7h0.8v0.8h-0.8zM61.4,197.9h0.8v0.8h-0.8zM54.1,211.9h0.8v0.8h-0.8zM74.9,196.3h0.8v0.8h-0.8zM65.5,191.1h0.8v0.8h-0.8zM69.3,223.2h0.8v0.8h-0.8zM66.6,218.1h0.8v0.8h-0.8zM71.1,207.3h0.8v0.8h-0.8zM71.5,189.1h0.8v0.8h-0.8zM65.9,211.5h0.8v0.8h-0.8zM70.8,225.5h0.8v0.8h-0.8zM65.6,199.1h0.8v0.8h-0.8zM64.1,205.8h0.8v0.8h-0.8zM61.3,192.5h0.8v0.8h-0.8zM68.6,194.9h0.8v0.8h-0.8zM66.7,209.7h0.8v0.8h-0.8zM66.4,222.2h0.8v0.8h-0.8zM69.1,212.1h0.8v0.8h-0.8zM75.8,205.2h0.8v0.8h-0.8zM58.5,203.0h0.8v0.8h-0.8zM72.8,197.5h0.8v0.8h-0.8zM61.6,215.3h0.8v0.8h-0.8zM73.4,228.1h0.8v0.8h-0.8zM63.6,201.4h0.8v0.8h-0.8zM65.4,201.0h0.8v0.8h-0.8zM66.8,194.7h0.8v0.8h-0.8zM65.2,207.9h0.8v0.8h-0.8zM67.3,200.0h0.8v0.8h-0.8zM66.5,204.1h0.8v0.8h-0.8zM61.7,206.8h0.8v0.8h-0.8zM62.1,211.8h0.8v0.8h-0.8zM72.8,215.5h0.8v0.8h-0.8zM67.3,217.4h0.8v0.8h-0.8zM65.5,215.4h0.8v0.8h-0.8zM64.3,212.9h0.8v0.8h-0.8zM60.6,216.2h0.8v0.8h-0.8zM74.1,215.1h0.8v0.8h-0.8zM72.0,210.5h0.8v0.8h-0.8zM64.2,187.5h0.8v0.8h-0.8zM69.7,221.0h0.8v0.8h-0.8zM71.9,206.6h0.8v0.8h-0.8zM70.3,216.1h0.8v0.8h-0.8zM70.7,201.8h0.8v0.8h-0.8zM59.8,185.6h0.8v0.8h-0.8zM64.1,204.5h0.8v0.8h-0.8zM61.7,211.3h0.8v0.8h-0.8zM58.8,212.1h0.8v0.8h-0.8zM76.1,207.3h0.8v0.8h-0.8zM56.1,208.8h0.8v0.8h-0.8zM63.1,209.6h0.8v0.8h-0.8zM64.7,201.6h0.8v0.8h-0.8zM68.4,221.6h0.8v0.8h-0.8zM65.5,210.3h0.8v0.8h-0.8zM57.2,233.5h0.8v0.8h-0.8zM61.3,209.3h0.8v0.8h-0.8zM58.0,215.0h0.8v0.8h-0.8zM60.9,209.8h0.8v0.8h-0.8zM62.8,205.3h0.8v0.8h-0.8zM64.4,198.5h0.8v0.8h-0.8zM65.5,199.3h0.8v0.8h-0.8zM64.4,203.9h0.8v0.8h-0.8zM60.0,211.3h0.8v0.8h-0.8zM70.1,210.6h0.8v0.8h-0.8zM57.1,215.0h0.8v0.8h-0.8zM71.4,188.6h0.8v0.8h-0.8zM72.4,180.6h0.8v0.8h-0.8zM68.1,216.5h0.8v0.8h-0.8zM73.9,226.3h0.8v0.8h-0.8zM68.9,219.7h0.8v0.8h-0.8zM75.5,230.1h0.8v0.8h-0.8zM68.1,218.5h0.8v0.8h-0.8z" fill="#3a3ad0" opacity="0.5"/>
<ellipse cx="66.80" cy="210.50" rx="10.30" ry="19.50" transform="rotate(0 66.80 210.50)" fill="none" stroke="#2828d0" stroke-width="0.6" opacity="0.9"/>
<ellipse cx="66.80" cy="210.50" rx="9.85" ry="18.64" transform="rotate(0 66.80 210.50)" fill="none" stroke="#2828d0" stroke-width="0.6" opacity="0.9"/>
<ellipse cx="66.80" cy="210.50" rx="9.39" ry="17.78" transform="rotate(0 66.80 210.50)" fill="none" stroke="#2828d0" stroke-width="0.6" opacity="0.9"/>
<ellipse cx="66.80" cy="210.50" rx="8.94" ry="16.93" transform="rotate(0 66.80 210.50)" fill="none" stroke="#2828d0" stroke-width="0.6" opacity="0.9"/>
<ellipse cx="66.80" cy="210.50" rx="8.49" ry="16.07" transform="rotate(0 66.80 210.50)" fill="none" stroke="#2828d0" stroke-width="0.6" opacity="0.9"/>
<ellipse cx="66.80" cy="210.50" rx="8.03" ry="15.21" transform="rotate(0 66.80 210.50)" fill="none" stroke="#2828d0" stroke-width="0.6" opacity="0.9"/>
<ellipse cx="67.80" cy="213.00" rx="8.20" ry="16.00" transform="rotate(0 67.80 213.00)" fill="#1e1ed6" stroke="none" stroke-width="0.5" opacity="1"/>
<ellipse cx="68.30" cy="212.50" rx="5.60" ry="12.50" transform="rotate(0 68.30 212.50)" fill="#10c8f0" stroke="none" stroke-width="0.5" opacity="1"/>
<ellipse cx="68.50" cy="206.00" rx="2.20" ry="4.50" transform="rotate(0 68.50 206.00)" fill="#b8f4ff" stroke="none" stroke-width="0.5" opacity="1"/>
<ellipse cx="68.50" cy="215.20" rx="4.30" ry="8.00" transform="rotate(0 68.50 215.20)" fill="#28c428" stroke="none" stroke-width="0.5" opacity="1"/>
<ellipse cx="68.50" cy="216.00" rx="3.30" ry="5.60" transform="rotate(0 68.50 216.00)" fill="#f0f010" stroke="none" stroke-width="0.5" opacity="1"/>
<ellipse cx="68.50" cy="216.00" rx="2.70" ry="4.60" transform="rotate(0 68.50 216.00)" fill="#ff8a10" stroke="none" stroke-width="0.5" opacity="1"/>
<ellipse cx="68.50" cy="216.20" rx="2.20" ry="3.90" transform="rotate(0 68.50 216.20)" fill="#ff1010" stroke="none" stroke-width="0.5" opacity="1"/>
<ellipse cx="68.50" cy="216.80" rx="0.70" ry="1.60" transform="rotate(0 68.50 216.80)" fill="#fff0f0" stroke="none" stroke-width="0.5" opacity="1"/>
<line x1="50.00" y1="175.40" x2="50.00" y2="241.60" stroke="#34428a" stroke-width="1.3"/>
<line x1="49.50" y1="241.10" x2="116.50" y2="241.10" stroke="#34428a" stroke-width="1.3"/>
<line x1="77.80" y1="175.40" x2="77.80" y2="241.10" stroke="#5a5a5a" stroke-width="0.8"/>
<line x1="50.00" y1="208.20" x2="116.50" y2="208.20" stroke="#5a5a5a" stroke-width="0.8"/>
<text x="32.39" y="178.20" font-size="8.40" textLength="8.74" lengthAdjust="spacingAndGlyphs" fill="#5450aa" stroke="#5450aa" stroke-width="0.3">10</text>
<text x="41.23" y="174.34" font-size="5.88" fill="#5450aa" stroke="#5450aa" stroke-width="0.22">4</text>
<text x="32.39" y="200.10" font-size="8.40" textLength="8.74" lengthAdjust="spacingAndGlyphs" fill="#5450aa" stroke="#5450aa" stroke-width="0.3">10</text>
<text x="41.23" y="196.24" font-size="5.88" fill="#5450aa" stroke="#5450aa" stroke-width="0.22">3</text>
<text x="32.39" y="223.20" font-size="8.40" textLength="8.74" lengthAdjust="spacingAndGlyphs" fill="#5450aa" stroke="#5450aa" stroke-width="0.3">10</text>
<text x="41.23" y="219.34" font-size="5.88" fill="#5450aa" stroke="#5450aa" stroke-width="0.22">2</text>
<text x="32.39" y="241.80" font-size="8.40" textLength="8.74" lengthAdjust="spacingAndGlyphs" fill="#5450aa" stroke="#5450aa" stroke-width="0.3">10</text>
<text x="41.23" y="237.94" font-size="5.88" fill="#5450aa" stroke="#5450aa" stroke-width="0.22">1</text>
<text x="46.95" y="254.70" font-size="8.40" textLength="8.74" lengthAdjust="spacingAndGlyphs" fill="#5450aa" stroke="#5450aa" stroke-width="0.3">10</text>
<text x="55.78" y="250.84" font-size="5.88" fill="#5450aa" stroke="#5450aa" stroke-width="0.22">1</text>
<text x="67.45" y="254.70" font-size="8.40" textLength="8.74" lengthAdjust="spacingAndGlyphs" fill="#5450aa" stroke="#5450aa" stroke-width="0.3">10</text>
<text x="76.28" y="250.84" font-size="5.88" fill="#5450aa" stroke="#5450aa" stroke-width="0.22">2</text>
<text x="87.95" y="254.70" font-size="8.40" textLength="8.74" lengthAdjust="spacingAndGlyphs" fill="#5450aa" stroke="#5450aa" stroke-width="0.3">10</text>
<text x="96.78" y="250.84" font-size="5.88" fill="#5450aa" stroke="#5450aa" stroke-width="0.22">3</text>
<text x="108.45" y="254.70" font-size="8.40" textLength="8.74" lengthAdjust="spacingAndGlyphs" fill="#5450aa" stroke="#5450aa" stroke-width="0.3">10</text>
<text x="117.28" y="250.84" font-size="5.88" fill="#5450aa" stroke="#5450aa" stroke-width="0.22">4</text>
<text x="50.80" y="182.30" font-size="7.8" font-weight="bold" textLength="24.2" lengthAdjust="spacingAndGlyphs" fill="#111" stroke="#111" stroke-width="0.3">19.47%</text>
<text x="95.80" y="182.30" font-size="7.8" font-weight="bold" textLength="19.6" lengthAdjust="spacingAndGlyphs" fill="#111" stroke="#111" stroke-width="0.3">0.00%</text>
<text x="50.30" y="238.80" font-size="7.8" font-weight="bold" textLength="24.7" lengthAdjust="spacingAndGlyphs" fill="#111" stroke="#111" stroke-width="0.3">80.53%</text>
<text x="95.80" y="238.80" font-size="7.8" font-weight="bold" textLength="20.2" lengthAdjust="spacingAndGlyphs" fill="#111" stroke="#111" stroke-width="0.3">0.00%</text>
<path d="M160.0,202.4h0.8v0.8h-0.8zM178.0,215.5h0.8v0.8h-0.8zM160.3,209.4h0.8v0.8h-0.8zM156.5,210.1h0.8v0.8h-0.8zM175.1,192.4h0.8v0.8h-0.8zM168.0,214.8h0.8v0.8h-0.8zM167.4,212.5h0.8v0.8h-0.8zM163.8,202.5h0.8v0.8h-0.8zM168.7,191.2h0.8v0.8h-0.8zM167.8,195.2h0.8v0.8h-0.8zM163.4,227.4h0.8v0.8h-0.8zM165.8,206.1h0.8v0.8h-0.8zM174.4,202.9h0.8v0.8h-0.8zM164.4,210.6h0.8v0.8h-0.8zM172.9,201.1h0.8v0.8h-0.8zM168.3,190.9h0.8v0.8h-0.8zM159.8,210.3h0.8v0.8h-0.8zM164.0,213.8h0.8v0.8h-0.8zM173.8,188.4h0.8v0.8h-0.8zM170.8,212.6h0.8v0.8h-0.8zM166.2,212.8h0.8v0.8h-0.8zM163.1,215.8h0.8v0.8h-0.8zM169.7,231.0h0.8v0.8h-0.8zM155.2,199.8h0.8v0.8h-0.8zM171.3,222.1h0.8v0.8h-0.8zM160.1,199.3h0.8v0.8h-0.8zM165.0,215.1h0.8v0.8h-0.8zM162.2,221.4h0.8v0.8h-0.8zM178.9,208.7h0.8v0.8h-0.8zM176.4,194.7h0.8v0.8h-0.8zM161.5,217.7h0.8v0.8h-0.8zM174.6,196.7h0.8v0.8h-0.8zM165.3,216.2h0.8v0.8h-0.8zM168.3,202.9h0.8v0.8h-0.8zM168.5,220.3h0.8v0.8h-0.8zM165.1,197.4h0.8v0.8h-0.8zM177.6,206.3h0.8v0.8h-0.8zM154.5,214.4h0.8v0.8h-0.8zM175.0,223.2h0.8v0.8h-0.8zM175.3,211.2h0.8v0.8h-0.8zM171.0,216.4h0.8v0.8h-0.8zM180.2,215.1h0.8v0.8h-0.8zM157.9,222.7h0.8v0.8h-0.8zM169.8,209.8h0.8v0.8h-0.8zM167.1,220.1h0.8v0.8h-0.8zM168.9,214.6h0.8v0.8h-0.8zM168.8,222.0h0.8v0.8h-0.8zM160.8,216.0h0.8v0.8h-0.8zM172.3,211.5h0.8v0.8h-0.8zM179.1,229.8h0.8v0.8h-0.8zM167.0,225.3h0.8v0.8h-0.8zM164.0,234.0h0.8v0.8h-0.8zM177.3,206.3h0.8v0.8h-0.8zM174.6,217.9h0.8v0.8h-0.8zM166.4,198.4h0.8v0.8h-0.8zM167.7,222.9h0.8v0.8h-0.8zM175.6,216.2h0.8v0.8h-0.8zM172.1,202.3h0.8v0.8h-0.8zM164.9,213.4h0.8v0.8h-0.8zM167.3,200.9h0.8v0.8h-0.8zM159.9,224.5h0.8v0.8h-0.8zM168.2,216.2h0.8v0.8h-0.8zM161.8,198.0h0.8v0.8h-0.8zM175.1,215.3h0.8v0.8h-0.8zM175.3,203.4h0.8v0.8h-0.8zM165.9,215.2h0.8v0.8h-0.8zM166.8,226.2h0.8v0.8h-0.8zM177.9,203.8h0.8v0.8h-0.8zM176.0,209.8h0.8v0.8h-0.8zM174.8,216.2h0.8v0.8h-0.8zM167.4,214.8h0.8v0.8h-0.8zM182.4,223.8h0.8v0.8h-0.8zM172.0,208.4h0.8v0.8h-0.8zM186.1,227.2h0.8v0.8h-0.8zM172.0,220.1h0.8v0.8h-0.8zM169.7,219.4h0.8v0.8h-0.8zM176.6,214.4h0.8v0.8h-0.8zM169.4,207.8h0.8v0.8h-0.8zM165.3,212.3h0.8v0.8h-0.8zM172.6,188.8h0.8v0.8h-0.8zM175.1,202.4h0.8v0.8h-0.8zM176.0,225.6h0.8v0.8h-0.8zM180.0,220.1h0.8v0.8h-0.8zM164.5,234.1h0.8v0.8h-0.8zM166.5,229.6h0.8v0.8h-0.8zM163.8,212.2h0.8v0.8h-0.8zM161.6,212.6h0.8v0.8h-0.8zM173.9,223.5h0.8v0.8h-0.8zM158.4,208.6h0.8v0.8h-0.8zM163.8,224.8h0.8v0.8h-0.8zM171.7,224.7h0.8v0.8h-0.8zM169.8,231.3h0.8v0.8h-0.8zM171.1,220.5h0.8v0.8h-0.8zM174.3,215.9h0.8v0.8h-0.8zM164.1,210.0h0.8v0.8h-0.8zM179.7,228.0h0.8v0.8h-0.8zM167.2,219.1h0.8v0.8h-0.8zM158.2,224.5h0.8v0.8h-0.8zM168.7,188.3h0.8v0.8h-0.8zM162.9,209.2h0.8v0.8h-0.8zM166.6,212.0h0.8v0.8h-0.8zM163.5,192.8h0.8v0.8h-0.8zM180.4,201.5h0.8v0.8h-0.8zM161.4,196.1h0.8v0.8h-0.8zM166.7,225.7h0.8v0.8h-0.8zM177.5,234.1h0.8v0.8h-0.8zM164.7,211.5h0.8v0.8h-0.8zM178.7,210.5h0.8v0.8h-0.8zM172.2,232.7h0.8v0.8h-0.8zM162.1,201.1h0.8v0.8h-0.8zM173.4,205.3h0.8v0.8h-0.8zM167.4,226.1h0.8v0.8h-0.8zM172.1,228.3h0.8v0.8h-0.8zM164.4,213.1h0.8v0.8h-0.8zM172.0,216.6h0.8v0.8h-0.8zM155.2,200.8h0.8v0.8h-0.8zM173.0,191.6h0.8v0.8h-0.8zM157.5,204.0h0.8v0.8h-0.8zM165.8,221.2h0.8v0.8h-0.8zM173.5,207.2h0.8v0.8h-0.8zM162.5,202.0h0.8v0.8h-0.8zM177.6,216.6h0.8v0.8h-0.8zM173.3,189.9h0.8v0.8h-0.8zM155.9,223.5h0.8v0.8h-0.8zM183.8,217.7h0.8v0.8h-0.8zM163.6,193.8h0.8v0.8h-0.8zM160.2,216.7h0.8v0.8h-0.8zM171.3,205.0h0.8v0.8h-0.8zM173.8,228.8h0.8v0.8h-0.8zM172.6,206.4h0.8v0.8h-0.8zM161.0,208.2h0.8v0.8h-0.8zM164.0,231.6h0.8v0.8h-0.8zM166.5,230.7h0.8v0.8h-0.8zM165.6,215.2h0.8v0.8h-0.8zM172.8,210.5h0.8v0.8h-0.8zM170.4,213.6h0.8v0.8h-0.8zM168.0,214.1h0.8v0.8h-0.8zM178.4,233.7h0.8v0.8h-0.8zM168.7,229.4h0.8v0.8h-0.8zM169.3,213.8h0.8v0.8h-0.8zM172.6,212.2h0.8v0.8h-0.8zM176.4,208.5h0.8v0.8h-0.8zM169.0,215.4h0.8v0.8h-0.8zM165.2,204.6h0.8v0.8h-0.8zM172.2,222.7h0.8v0.8h-0.8zM167.5,202.2h0.8v0.8h-0.8zM164.8,209.3h0.8v0.8h-0.8zM167.1,210.8h0.8v0.8h-0.8zM183.2,200.2h0.8v0.8h-0.8zM162.0,206.3h0.8v0.8h-0.8zM159.7,223.0h0.8v0.8h-0.8zM159.3,203.8h0.8v0.8h-0.8zM162.4,215.9h0.8v0.8h-0.8zM168.3,205.1h0.8v0.8h-0.8zM166.2,218.8h0.8v0.8h-0.8zM172.8,233.1h0.8v0.8h-0.8zM164.7,228.6h0.8v0.8h-0.8zM184.2,219.5h0.8v0.8h-0.8zM157.7,215.5h0.8v0.8h-0.8zM176.5,221.3h0.8v0.8h-0.8zM171.2,203.6h0.8v0.8h-0.8zM174.7,218.0h0.8v0.8h-0.8zM170.4,193.5h0.8v0.8h-0.8zM174.7,215.8h0.8v0.8h-0.8zM174.0,207.4h0.8v0.8h-0.8zM181.1,223.4h0.8v0.8h-0.8zM172.2,201.2h0.8v0.8h-0.8zM165.2,194.7h0.8v0.8h-0.8zM171.3,205.9h0.8v0.8h-0.8zM167.0,187.3h0.8v0.8h-0.8zM171.1,199.0h0.8v0.8h-0.8zM153.6,231.0h0.8v0.8h-0.8zM181.6,211.2h0.8v0.8h-0.8zM154.2,211.1h0.8v0.8h-0.8zM174.8,202.8h0.8v0.8h-0.8zM175.5,223.2h0.8v0.8h-0.8zM173.2,219.4h0.8v0.8h-0.8zM161.5,206.6h0.8v0.8h-0.8zM161.0,196.0h0.8v0.8h-0.8zM174.7,209.0h0.8v0.8h-0.8zM174.9,209.2h0.8v0.8h-0.8zM162.2,227.0h0.8v0.8h-0.8zM177.2,210.0h0.8v0.8h-0.8zM172.7,192.3h0.8v0.8h-0.8zM165.1,226.0h0.8v0.8h-0.8zM170.3,211.2h0.8v0.8h-0.8zM179.1,227.7h0.8v0.8h-0.8zM162.3,207.4h0.8v0.8h-0.8zM171.0,200.5h0.8v0.8h-0.8zM173.2,219.8h0.8v0.8h-0.8zM169.7,196.3h0.8v0.8h-0.8zM168.0,212.0h0.8v0.8h-0.8zM171.8,211.9h0.8v0.8h-0.8zM166.8,231.1h0.8v0.8h-0.8zM178.9,205.6h0.8v0.8h-0.8zM160.4,224.3h0.8v0.8h-0.8zM164.5,199.4h0.8v0.8h-0.8zM171.0,198.4h0.8v0.8h-0.8zM163.7,210.0h0.8v0.8h-0.8zM169.6,206.8h0.8v0.8h-0.8z" fill="#3a3ad0" opacity="0.5"/>
<path d="M165.10,211.00 C165.10,202.25 168.67,193.50 170.60,193.50 C172.53,193.50 176.10,202.25 176.10,211.00" fill="none" stroke="#2f2fd0" stroke-width="0.55"/>
<path d="M166.64,211.00 C166.64,203.11 169.21,195.22 170.60,195.22 C171.99,195.22 174.56,203.11 174.56,211.00" fill="none" stroke="#2f2fd0" stroke-width="0.55"/>
<path d="M168.18,211.00 C168.18,203.97 169.75,196.93 170.60,196.93 C171.45,196.93 173.02,203.97 173.02,211.00" fill="none" stroke="#2f2fd0" stroke-width="0.55"/>
<path d="M169.72,211.00 C169.72,204.82 170.29,198.65 170.60,198.65 C170.91,198.65 171.48,204.82 171.48,211.00" fill="none" stroke="#2f2fd0" stroke-width="0.55"/>
<ellipse cx="167.50" cy="219.50" rx="11.00" ry="12.00" transform="rotate(0 167.50 219.50)" fill="none" stroke="#2828d0" stroke-width="0.6" opacity="0.9"/>
<ellipse cx="167.50" cy="219.50" rx="10.23" ry="11.16" transform="rotate(0 167.50 219.50)" fill="none" stroke="#2828d0" stroke-width="0.6" opacity="0.9"/>
<ellipse cx="167.50" cy="219.50" rx="9.46" ry="10.32" transform="rotate(0 167.50 219.50)" fill="none" stroke="#2828d0" stroke-width="0.6" opacity="0.9"/>
<ellipse cx="167.50" cy="219.50" rx="8.69" ry="9.48" transform="rotate(0 167.50 219.50)" fill="none" stroke="#2828d0" stroke-width="0.6" opacity="0.9"/>
<ellipse cx="167.50" cy="219.50" rx="7.92" ry="8.64" transform="rotate(0 167.50 219.50)" fill="none" stroke="#2828d0" stroke-width="0.6" opacity="0.9"/>
<circle cx="169.70" cy="217.50" r="7.20" fill="#1e1ed6"/>
<circle cx="169.70" cy="217.50" r="5.76" fill="#10c8f0"/>
<circle cx="169.70" cy="217.50" r="4.54" fill="#28c428"/>
<circle cx="169.70" cy="217.50" r="3.46" fill="#f0f010"/>
<circle cx="169.70" cy="217.50" r="2.74" fill="#ff8a10"/>
<circle cx="169.70" cy="217.50" r="2.16" fill="#ff1010"/>
<circle cx="169.70" cy="217.50" r="0.72" fill="#fff0f0"/>
<line x1="151.10" y1="175.80" x2="151.10" y2="241.60" stroke="#34428a" stroke-width="1.3"/>
<line x1="150.60" y1="241.10" x2="214.30" y2="241.10" stroke="#34428a" stroke-width="1.3"/>
<line x1="176.90" y1="175.80" x2="176.90" y2="241.10" stroke="#5a5a5a" stroke-width="0.8"/>
<line x1="151.10" y1="208.10" x2="214.30" y2="208.10" stroke="#5a5a5a" stroke-width="0.8"/>
<text x="135.39" y="177.70" font-size="8.40" textLength="8.74" lengthAdjust="spacingAndGlyphs" fill="#5450aa" stroke="#5450aa" stroke-width="0.3">10</text>
<text x="144.23" y="173.84" font-size="5.88" fill="#5450aa" stroke="#5450aa" stroke-width="0.22">4</text>
<text x="135.39" y="200.10" font-size="8.40" textLength="8.74" lengthAdjust="spacingAndGlyphs" fill="#5450aa" stroke="#5450aa" stroke-width="0.3">10</text>
<text x="144.23" y="196.24" font-size="5.88" fill="#5450aa" stroke="#5450aa" stroke-width="0.22">3</text>
<text x="135.39" y="223.20" font-size="8.40" textLength="8.74" lengthAdjust="spacingAndGlyphs" fill="#5450aa" stroke="#5450aa" stroke-width="0.3">10</text>
<text x="144.23" y="219.34" font-size="5.88" fill="#5450aa" stroke="#5450aa" stroke-width="0.22">2</text>
<text x="135.39" y="241.80" font-size="8.40" textLength="8.74" lengthAdjust="spacingAndGlyphs" fill="#5450aa" stroke="#5450aa" stroke-width="0.3">10</text>
<text x="144.23" y="237.94" font-size="5.88" fill="#5450aa" stroke="#5450aa" stroke-width="0.22">1</text>
<text x="147.95" y="254.00" font-size="8.40" textLength="8.74" lengthAdjust="spacingAndGlyphs" fill="#5450aa" stroke="#5450aa" stroke-width="0.3">10</text>
<text x="156.78" y="250.14" font-size="5.88" fill="#5450aa" stroke="#5450aa" stroke-width="0.22">1</text>
<text x="165.65" y="254.00" font-size="8.40" textLength="8.74" lengthAdjust="spacingAndGlyphs" fill="#5450aa" stroke="#5450aa" stroke-width="0.3">10</text>
<text x="174.48" y="250.14" font-size="5.88" fill="#5450aa" stroke="#5450aa" stroke-width="0.22">2</text>
<text x="187.55" y="254.00" font-size="8.40" textLength="8.74" lengthAdjust="spacingAndGlyphs" fill="#5450aa" stroke="#5450aa" stroke-width="0.3">10</text>
<text x="196.38" y="250.14" font-size="5.88" fill="#5450aa" stroke="#5450aa" stroke-width="0.22">3</text>
<text x="207.95" y="254.00" font-size="8.40" textLength="8.74" lengthAdjust="spacingAndGlyphs" fill="#5450aa" stroke="#5450aa" stroke-width="0.3">10</text>
<text x="216.78" y="250.14" font-size="5.88" fill="#5450aa" stroke="#5450aa" stroke-width="0.22">4</text>
<text x="151.50" y="182.70" font-size="7.8" font-weight="bold" textLength="19.7" lengthAdjust="spacingAndGlyphs" fill="#111" stroke="#111" stroke-width="0.3">7.29%</text>
<text x="193.50" y="182.70" font-size="7.8" font-weight="bold" textLength="19.9" lengthAdjust="spacingAndGlyphs" fill="#111" stroke="#111" stroke-width="0.3">0.33%</text>
<text x="151.50" y="238.80" font-size="7.8" font-weight="bold" textLength="23.1" lengthAdjust="spacingAndGlyphs" fill="#111" stroke="#111" stroke-width="0.3">92.37%</text>
<text x="193.50" y="238.80" font-size="7.8" font-weight="bold" textLength="19.9" lengthAdjust="spacingAndGlyphs" fill="#111" stroke="#111" stroke-width="0.3">0.01%</text>
<text x="24.80" y="245.00" font-size="10.5" font-weight="bold" textLength="17.3" lengthAdjust="spacingAndGlyphs" transform="rotate(-90 24.8 245)" fill="#111">FoxP3</text>
<line x1="20.80" y1="220.80" x2="20.80" y2="182.70" stroke="#000" stroke-width="1.2"/>
<path d="M20.80,174.00 L16.80,183.70 L20.80,182.50 L24.80,183.70 Z" fill="#000"/>
<text x="34.60" y="267.20" font-size="10.5" font-weight="bold" textLength="19.6" lengthAdjust="spacingAndGlyphs" fill="#111">CD127</text>
<line x1="60.50" y1="264.20" x2="194.00" y2="264.20" stroke="#000" stroke-width="1.2"/>
<path d="M204.60,264.20 L193.00,259.55 L194.20,264.20 L193.00,268.85 Z" fill="#000"/>
<text x="73.80" y="279.00" font-size="8.6" textLength="18.5" lengthAdjust="spacingAndGlyphs" fill="#000">-Dara</text>
<text x="171.20" y="279.40" font-size="8.6" textLength="21.4" lengthAdjust="spacingAndGlyphs" fill="#000">+Dara</text>
<line x1="268.80" y1="150.80" x2="268.80" y2="253.40" stroke="#000" stroke-width="1"/>
<line x1="268.80" y1="253.40" x2="329.40" y2="253.40" stroke="#000" stroke-width="1"/>
<line x1="265.80" y1="253.40" x2="268.80" y2="253.40" stroke="#000" stroke-width="0.9"/>
<text x="262.00" y="256.30" font-size="8.4" text-anchor="end" fill="#000">0</text>
<line x1="265.80" y1="228.22" x2="268.80" y2="228.22" stroke="#000" stroke-width="0.9"/>
<text x="262.00" y="231.12" font-size="8.4" text-anchor="end" fill="#000">5</text>
<line x1="265.80" y1="203.05" x2="268.80" y2="203.05" stroke="#000" stroke-width="0.9"/>
<text x="262.00" y="205.95" font-size="8.4" text-anchor="end" fill="#000">10</text>
<line x1="265.80" y1="177.88" x2="268.80" y2="177.88" stroke="#000" stroke-width="0.9"/>
<text x="262.00" y="180.78" font-size="8.4" text-anchor="end" fill="#000">15</text>
<line x1="265.80" y1="152.70" x2="268.80" y2="152.70" stroke="#000" stroke-width="0.9"/>
<text x="262.00" y="155.60" font-size="8.4" text-anchor="end" fill="#000">20</text>
<line x1="288.60" y1="253.40" x2="288.60" y2="256.20" stroke="#000" stroke-width="0.9"/>
<line x1="311.40" y1="253.40" x2="311.40" y2="256.20" stroke="#000" stroke-width="0.9"/>
<path d="M287.2,158.9 V155.8 H311.6 V158.9" fill="none" stroke="#000" stroke-width="0.9"/>
<circle cx="299.40" cy="151.80" r="0.85" fill="#000"/>
<circle cx="283.90" cy="162.90" r="1.90" fill="#163a85"/>
<circle cx="293.70" cy="162.90" r="1.90" fill="#163a85"/>
<circle cx="288.70" cy="172.30" r="1.90" fill="#163a85"/>
<circle cx="288.70" cy="177.60" r="1.90" fill="#163a85"/>
<circle cx="281.50" cy="180.90" r="1.90" fill="#163a85"/>
<circle cx="296.10" cy="180.90" r="1.90" fill="#163a85"/>
<circle cx="283.90" cy="186.20" r="1.90" fill="#163a85"/>
<circle cx="293.70" cy="186.20" r="1.90" fill="#163a85"/>
<circle cx="283.90" cy="200.70" r="1.90" fill="#163a85"/>
<circle cx="293.70" cy="200.70" r="1.90" fill="#163a85"/>
<circle cx="288.70" cy="215.70" r="1.90" fill="#163a85"/>
<circle cx="283.90" cy="222.50" r="1.90" fill="#163a85"/>
<circle cx="293.70" cy="222.50" r="1.90" fill="#163a85"/>
<line x1="279.30" y1="190.20" x2="298.00" y2="190.20" stroke="#000" stroke-width="1"/>
<path d="M284.3,184.5 H293 M288.7,184.5 V195.5 M284.3,195.5 H293" stroke="#3a5ea0" stroke-width="0.8" fill="none"/>
<rect x="304.10" y="205.20" width="3.60" height="3.60" fill="#a8041f"/>
<rect x="313.40" y="205.20" width="3.60" height="3.60" fill="#a8041f"/>
<rect x="305.80" y="209.50" width="3.60" height="3.60" fill="#a8041f"/>
<rect x="309.80" y="209.50" width="3.60" height="3.60" fill="#a8041f"/>
<rect x="301.20" y="213.10" width="3.60" height="3.60" fill="#a8041f"/>
<rect x="305.80" y="214.90" width="3.60" height="3.60" fill="#a8041f"/>
<rect x="309.80" y="215.70" width="3.60" height="3.60" fill="#a8041f"/>
<rect x="316.30" y="215.70" width="3.60" height="3.60" fill="#a8041f"/>
<rect x="312.70" y="216.40" width="3.60" height="3.60" fill="#a8041f"/>
<rect x="305.20" y="220.70" width="3.60" height="3.60" fill="#a8041f"/>
<rect x="301.20" y="232.20" width="3.60" height="3.60" fill="#a8041f"/>
<rect x="308.80" y="230.70" width="3.60" height="3.60" fill="#a8041f"/>
<rect x="316.30" y="232.20" width="3.60" height="3.60" fill="#a8041f"/>
<line x1="300.80" y1="218.90" x2="318.80" y2="218.90" stroke="#000" stroke-width="0.9"/>
<path d="M308,221.5 H313 M310.5,219 V222" stroke="#e090a0" stroke-width="0.8" fill="none"/>
<text transform="translate(248.30 234.60) rotate(-90) scale(0.6953 1)" font-size="9.3" fill="#000" stroke="#000" stroke-width="0.3"><tspan>% CD4</tspan><tspan font-size="6.98" dy="-3.53">+</tspan><tspan font-size="9.30" dy="3.53">CD25</tspan><tspan font-size="6.98" dy="-3.53">+</tspan><tspan font-size="9.30" dy="3.53">FoxP3</tspan><tspan font-size="6.98" dy="-3.53">+</tspan></text>
<rect x="263.10" y="266.60" width="7.30" height="6.10" fill="#163a85"/>
<text x="273.70" y="273.00" font-size="8.3" textLength="26.9" lengthAdjust="spacingAndGlyphs" fill="#000">No Dara</text>
<rect x="309.80" y="266.60" width="7.70" height="6.10" fill="#a8041f"/>
<text x="320.20" y="273.00" font-size="8.3" textLength="15.4" lengthAdjust="spacingAndGlyphs" fill="#000">Dara</text>
<text x="6.90" y="306.40" font-size="12.3" font-weight="bold" fill="#000">C</text>
<line x1="56.40" y1="311.90" x2="56.40" y2="407.30" stroke="#000" stroke-width="1"/>
<line x1="56.40" y1="407.30" x2="125.60" y2="407.30" stroke="#000" stroke-width="1"/>
<line x1="53.40" y1="407.30" x2="56.40" y2="407.30" stroke="#000" stroke-width="0.9"/>
<text x="49.80" y="410.20" font-size="8.4" text-anchor="end" fill="#000">0</text>
<line x1="53.40" y1="384.12" x2="56.40" y2="384.12" stroke="#000" stroke-width="0.9"/>
<text x="49.80" y="387.02" font-size="8.4" text-anchor="end" fill="#000">5</text>
<line x1="53.40" y1="360.95" x2="56.40" y2="360.95" stroke="#000" stroke-width="0.9"/>
<text x="49.80" y="363.85" font-size="8.4" text-anchor="end" fill="#000">10</text>
<line x1="53.40" y1="337.78" x2="56.40" y2="337.78" stroke="#000" stroke-width="0.9"/>
<text x="49.80" y="340.68" font-size="8.4" text-anchor="end" fill="#000">15</text>
<line x1="53.40" y1="314.60" x2="56.40" y2="314.60" stroke="#000" stroke-width="0.9"/>
<text x="49.80" y="317.50" font-size="8.4" text-anchor="end" fill="#000">20</text>
<line x1="69.60" y1="407.30" x2="69.60" y2="410.20" stroke="#000" stroke-width="0.9"/>
<line x1="84.30" y1="407.30" x2="84.30" y2="410.20" stroke="#000" stroke-width="0.9"/>
<line x1="98.90" y1="407.30" x2="98.90" y2="410.20" stroke="#000" stroke-width="0.9"/>
<line x1="113.50" y1="407.30" x2="113.50" y2="410.20" stroke="#000" stroke-width="0.9"/>
<path d="M84.3,312.2 V307.9 H113.5 V312.2" fill="none" stroke="#000" stroke-width="0.9"/>
<circle cx="98.90" cy="303.60" r="0.85" fill="#000"/>
<path d="M84.3,328.6 V325.5 H98.9 V328.6" fill="none" stroke="#000" stroke-width="0.9"/>
<circle cx="91.70" cy="321.20" r="0.85" fill="#000"/>
<circle cx="63.80" cy="406.20" r="1.70" fill="#4a1f6e"/>
<circle cx="66.50" cy="404.60" r="1.70" fill="#4a1f6e"/>
<circle cx="69.00" cy="406.50" r="1.70" fill="#4a1f6e"/>
<circle cx="71.50" cy="405.00" r="1.70" fill="#4a1f6e"/>
<circle cx="74.00" cy="406.30" r="1.70" fill="#4a1f6e"/>
<circle cx="66.00" cy="407.40" r="1.70" fill="#4a1f6e"/>
<circle cx="71.00" cy="407.50" r="1.70" fill="#4a1f6e"/>
<circle cx="75.50" cy="406.80" r="1.70" fill="#4a1f6e"/>
<circle cx="68.50" cy="404.20" r="1.70" fill="#4a1f6e"/>
<rect x="82.50" y="336.70" width="3.60" height="3.60" fill="#a8041f"/>
<rect x="77.30" y="344.50" width="3.60" height="3.60" fill="#a8041f"/>
<rect x="82.50" y="344.50" width="3.60" height="3.60" fill="#a8041f"/>
<rect x="87.30" y="344.50" width="3.60" height="3.60" fill="#a8041f"/>
<rect x="77.30" y="349.70" width="3.60" height="3.60" fill="#a8041f"/>
<rect x="82.50" y="348.10" width="3.60" height="3.60" fill="#a8041f"/>
<rect x="87.30" y="349.70" width="3.60" height="3.60" fill="#a8041f"/>
<line x1="80.00" y1="346.60" x2="89.50" y2="346.60" stroke="#000" stroke-width="1"/>
<path d="M92.30,374.51 H96.10 L94.20,371.09 Z" fill="#1a408a"/>
<path d="M101.80,374.51 H105.60 L103.70,371.09 Z" fill="#1a408a"/>
<path d="M92.30,389.71 H96.10 L94.20,386.29 Z" fill="#1a408a"/>
<path d="M96.10,386.21 H99.90 L98.00,382.79 Z" fill="#1a408a"/>
<path d="M98.70,387.61 H102.50 L100.60,384.19 Z" fill="#1a408a"/>
<path d="M102.10,387.61 H105.90 L104.00,384.19 Z" fill="#1a408a"/>
<line x1="93.00" y1="381.10" x2="105.00" y2="381.10" stroke="#000" stroke-width="1"/>
<path d="M96.5,378.5 H101 M98.8,378.5 V384.2 M96.5,384.2 H101" stroke="#3a5ea0" stroke-width="0.8" fill="none"/>
<path d="M106.50,354.39 H110.30 L108.40,357.81 Z" fill="#52a226"/>
<path d="M111.30,352.69 H115.10 L113.20,356.11 Z" fill="#52a226"/>
<path d="M116.40,354.89 H120.20 L118.30,358.31 Z" fill="#52a226"/>
<path d="M106.50,372.79 H110.30 L108.40,376.21 Z" fill="#52a226"/>
<path d="M116.40,372.79 H120.20 L118.30,376.21 Z" fill="#52a226"/>
<path d="M111.30,380.19 H115.10 L113.20,383.61 Z" fill="#52a226"/>
<line x1="107.50" y1="367.30" x2="119.00" y2="367.30" stroke="#000" stroke-width="1"/>
<path d="M111,362.1 H115.5 M113.2,362.1 V371.6 M111,371.6 H115.5" stroke="#52a226" stroke-width="0.8" fill="none"/>
<text transform="translate(35.60 392.60) rotate(-90) scale(0.7094 1)" font-size="9.3" fill="#000" stroke="#000" stroke-width="0.3"><tspan>% CD4</tspan><tspan font-size="6.98" dy="-3.53">+</tspan><tspan font-size="9.30" dy="3.53">CD25</tspan><tspan font-size="6.98" dy="-3.53">+</tspan><tspan font-size="9.30" dy="3.53">FoxP3</tspan><tspan font-size="6.98" dy="-3.53">+</tspan></text>
<text transform="translate(15.50 421.00) rotate(0) scale(0.9662 1)" font-size="8.3" fill="#000"><tspan>CD4</tspan><tspan font-size="6.23" dy="-3.15">+</tspan><tspan font-size="8.30" dy="3.15"> T-cell</tspan></text>
<text x="69.50" y="421.00" font-size="8.3" text-anchor="middle" fill="#000">+</text>
<text x="84.30" y="421.00" font-size="8.3" text-anchor="middle" fill="#000">+</text>
<text x="98.80" y="421.00" font-size="8.3" text-anchor="middle" fill="#000">+</text>
<text x="113.30" y="421.00" font-size="8.3" text-anchor="middle" fill="#000">+</text>
<text x="190.20" y="420.80" font-size="7.2" text-anchor="middle" fill="#000">+</text>
<text x="277.20" y="420.80" font-size="7.2" text-anchor="middle" fill="#000">+</text>
<text x="366.80" y="420.80" font-size="7.2" text-anchor="middle" fill="#000">+</text>
<text x="451.10" y="420.80" font-size="7.2" text-anchor="middle" fill="#000">+</text>
<text transform="translate(15.50 433.00) rotate(0) scale(0.9607 1)" font-size="8.3" fill="#000"><tspan>CLL cells</tspan></text>
<text x="69.50" y="432.20" font-size="8.3" text-anchor="middle" fill="#000">-</text>
<text x="84.30" y="433.00" font-size="8.3" text-anchor="middle" fill="#000">+</text>
<text x="98.80" y="433.00" font-size="8.3" text-anchor="middle" fill="#000">+</text>
<text x="113.30" y="433.00" font-size="8.3" text-anchor="middle" fill="#000">+</text>
<text x="190.20" y="432.20" font-size="7.2" text-anchor="middle" fill="#000">-</text>
<text x="277.20" y="432.80" font-size="7.2" text-anchor="middle" fill="#000">+</text>
<text x="366.80" y="432.80" font-size="7.2" text-anchor="middle" fill="#000">+</text>
<text x="451.10" y="432.80" font-size="7.2" text-anchor="middle" fill="#000">+</text>
<text transform="translate(15.50 445.00) rotate(0) scale(0.9060 1)" font-size="8.3" fill="#000"><tspan>Dara</tspan></text>
<text x="69.50" y="444.20" font-size="8.3" text-anchor="middle" fill="#000">-</text>
<text x="84.30" y="444.20" font-size="8.3" text-anchor="middle" fill="#000">-</text>
<text x="98.80" y="445.00" font-size="8.3" text-anchor="middle" fill="#000">+</text>
<text x="113.30" y="444.20" font-size="8.3" text-anchor="middle" fill="#000">-</text>
<text x="190.20" y="444.20" font-size="7.2" text-anchor="middle" fill="#000">-</text>
<text x="277.20" y="444.20" font-size="7.2" text-anchor="middle" fill="#000">-</text>
<text x="366.80" y="444.80" font-size="7.2" text-anchor="middle" fill="#000">+</text>
<text x="451.10" y="444.20" font-size="7.2" text-anchor="middle" fill="#000">-</text>
<text transform="translate(15.50 456.80) rotate(0) scale(0.9012 1)" font-size="8.3" fill="#000"><tspan>Kuro</tspan></text>
<text x="69.50" y="456.00" font-size="8.3" text-anchor="middle" fill="#000">-</text>
<text x="84.30" y="456.00" font-size="8.3" text-anchor="middle" fill="#000">-</text>
<text x="98.80" y="456.00" font-size="8.3" text-anchor="middle" fill="#000">-</text>
<text x="113.30" y="456.80" font-size="8.3" text-anchor="middle" fill="#000">+</text>
<text x="190.20" y="456.00" font-size="7.2" text-anchor="middle" fill="#000">-</text>
<text x="277.20" y="456.00" font-size="7.2" text-anchor="middle" fill="#000">-</text>
<text x="366.80" y="456.00" font-size="7.2" text-anchor="middle" fill="#000">-</text>
<text x="451.10" y="456.60" font-size="7.2" text-anchor="middle" fill="#000">+</text>
<text transform="translate(228.50 307.60) rotate(0) scale(1.0296 1)" font-size="9.3" fill="#000"><tspan>CD4</tspan><tspan font-size="6.98" dy="-3.53">+</tspan><tspan font-size="9.30" dy="3.53">CD25+ Gated T cells (healthy donors)</tspan></text>
<line x1="228.80" y1="310.20" x2="412.50" y2="310.20" stroke="#555" stroke-width="1"/>
<path d="M171.5,363.5h0.8v0.8h-0.8zM182.6,352.8h0.8v0.8h-0.8zM171.0,358.2h0.8v0.8h-0.8zM180.0,372.2h0.8v0.8h-0.8zM171.5,343.5h0.8v0.8h-0.8zM181.1,364.7h0.8v0.8h-0.8zM185.3,370.8h0.8v0.8h-0.8zM177.1,355.7h0.8v0.8h-0.8zM190.5,355.5h0.8v0.8h-0.8zM173.7,345.3h0.8v0.8h-0.8zM178.1,360.7h0.8v0.8h-0.8zM175.9,358.3h0.8v0.8h-0.8zM179.0,367.3h0.8v0.8h-0.8zM183.1,361.5h0.8v0.8h-0.8zM168.7,367.4h0.8v0.8h-0.8zM170.5,356.9h0.8v0.8h-0.8zM170.2,359.0h0.8v0.8h-0.8zM173.7,361.6h0.8v0.8h-0.8zM181.8,343.1h0.8v0.8h-0.8zM176.2,366.9h0.8v0.8h-0.8zM177.1,363.4h0.8v0.8h-0.8zM178.1,346.9h0.8v0.8h-0.8zM180.4,349.3h0.8v0.8h-0.8zM187.0,352.9h0.8v0.8h-0.8zM181.0,359.0h0.8v0.8h-0.8zM182.4,351.8h0.8v0.8h-0.8zM182.6,357.5h0.8v0.8h-0.8zM183.9,366.5h0.8v0.8h-0.8zM178.3,349.6h0.8v0.8h-0.8zM181.4,364.6h0.8v0.8h-0.8zM185.8,354.5h0.8v0.8h-0.8zM180.4,365.1h0.8v0.8h-0.8zM179.0,361.5h0.8v0.8h-0.8zM178.5,351.8h0.8v0.8h-0.8zM172.5,354.2h0.8v0.8h-0.8zM180.6,377.1h0.8v0.8h-0.8zM182.5,371.6h0.8v0.8h-0.8zM181.5,367.4h0.8v0.8h-0.8zM178.5,368.3h0.8v0.8h-0.8zM186.5,355.1h0.8v0.8h-0.8zM178.8,370.7h0.8v0.8h-0.8zM182.0,345.4h0.8v0.8h-0.8zM189.8,380.3h0.8v0.8h-0.8zM178.5,368.0h0.8v0.8h-0.8zM178.2,348.4h0.8v0.8h-0.8zM177.0,363.5h0.8v0.8h-0.8zM183.2,367.5h0.8v0.8h-0.8zM177.9,375.3h0.8v0.8h-0.8zM173.8,368.5h0.8v0.8h-0.8zM183.2,355.5h0.8v0.8h-0.8zM168.6,348.1h0.8v0.8h-0.8zM178.8,365.3h0.8v0.8h-0.8zM185.3,346.9h0.8v0.8h-0.8zM177.6,366.8h0.8v0.8h-0.8zM182.6,348.0h0.8v0.8h-0.8zM175.5,361.7h0.8v0.8h-0.8zM190.0,366.4h0.8v0.8h-0.8zM178.2,377.7h0.8v0.8h-0.8zM174.2,353.3h0.8v0.8h-0.8zM181.2,376.1h0.8v0.8h-0.8zM180.9,362.6h0.8v0.8h-0.8zM168.5,350.4h0.8v0.8h-0.8zM174.5,352.6h0.8v0.8h-0.8zM180.5,355.0h0.8v0.8h-0.8zM181.5,360.0h0.8v0.8h-0.8zM175.9,360.4h0.8v0.8h-0.8zM179.7,369.3h0.8v0.8h-0.8zM175.2,356.2h0.8v0.8h-0.8zM170.8,378.2h0.8v0.8h-0.8zM184.9,356.9h0.8v0.8h-0.8zM175.2,344.2h0.8v0.8h-0.8zM178.4,361.5h0.8v0.8h-0.8zM188.5,362.0h0.8v0.8h-0.8zM184.6,361.3h0.8v0.8h-0.8zM169.6,361.2h0.8v0.8h-0.8zM183.2,365.9h0.8v0.8h-0.8zM176.7,333.3h0.8v0.8h-0.8zM177.0,340.3h0.8v0.8h-0.8zM180.6,333.3h0.8v0.8h-0.8zM173.1,373.6h0.8v0.8h-0.8zM185.8,344.8h0.8v0.8h-0.8zM169.9,369.6h0.8v0.8h-0.8zM181.9,347.2h0.8v0.8h-0.8zM174.1,350.7h0.8v0.8h-0.8zM171.7,350.8h0.8v0.8h-0.8zM183.9,367.3h0.8v0.8h-0.8zM187.9,358.0h0.8v0.8h-0.8zM176.9,347.2h0.8v0.8h-0.8zM177.0,343.2h0.8v0.8h-0.8zM168.7,367.4h0.8v0.8h-0.8zM184.8,369.0h0.8v0.8h-0.8zM184.3,362.0h0.8v0.8h-0.8zM174.0,360.0h0.8v0.8h-0.8zM175.7,345.7h0.8v0.8h-0.8zM169.1,341.2h0.8v0.8h-0.8zM177.6,360.8h0.8v0.8h-0.8zM175.2,376.1h0.8v0.8h-0.8zM178.5,366.0h0.8v0.8h-0.8zM183.7,349.2h0.8v0.8h-0.8zM167.8,368.0h0.8v0.8h-0.8zM174.2,374.7h0.8v0.8h-0.8zM179.3,371.1h0.8v0.8h-0.8zM181.4,334.0h0.8v0.8h-0.8zM181.2,350.9h0.8v0.8h-0.8zM173.8,353.8h0.8v0.8h-0.8zM181.4,369.6h0.8v0.8h-0.8zM182.7,339.1h0.8v0.8h-0.8zM177.1,366.2h0.8v0.8h-0.8zM173.8,361.9h0.8v0.8h-0.8zM178.8,371.1h0.8v0.8h-0.8zM173.5,349.1h0.8v0.8h-0.8zM173.8,380.0h0.8v0.8h-0.8zM183.1,357.5h0.8v0.8h-0.8zM178.7,360.4h0.8v0.8h-0.8zM178.6,356.5h0.8v0.8h-0.8zM175.9,343.9h0.8v0.8h-0.8zM174.4,378.8h0.8v0.8h-0.8zM180.3,359.8h0.8v0.8h-0.8zM176.5,359.8h0.8v0.8h-0.8zM179.4,351.2h0.8v0.8h-0.8zM178.6,361.9h0.8v0.8h-0.8zM173.9,349.5h0.8v0.8h-0.8zM172.6,346.2h0.8v0.8h-0.8zM176.3,351.7h0.8v0.8h-0.8zM174.5,360.2h0.8v0.8h-0.8zM183.2,359.9h0.8v0.8h-0.8zM176.9,351.7h0.8v0.8h-0.8zM177.0,369.9h0.8v0.8h-0.8zM175.6,345.2h0.8v0.8h-0.8zM171.3,345.7h0.8v0.8h-0.8zM170.7,372.2h0.8v0.8h-0.8zM179.4,356.2h0.8v0.8h-0.8zM184.9,351.1h0.8v0.8h-0.8zM181.4,368.6h0.8v0.8h-0.8zM169.9,340.3h0.8v0.8h-0.8zM173.0,369.9h0.8v0.8h-0.8zM184.1,344.3h0.8v0.8h-0.8zM182.8,354.4h0.8v0.8h-0.8zM175.6,352.4h0.8v0.8h-0.8zM176.0,337.2h0.8v0.8h-0.8zM172.6,344.2h0.8v0.8h-0.8zM191.3,355.0h0.8v0.8h-0.8zM169.0,354.1h0.8v0.8h-0.8zM180.5,350.3h0.8v0.8h-0.8zM182.3,365.4h0.8v0.8h-0.8zM169.5,352.6h0.8v0.8h-0.8zM176.4,359.2h0.8v0.8h-0.8zM178.3,354.9h0.8v0.8h-0.8zM178.5,352.0h0.8v0.8h-0.8zM173.1,377.2h0.8v0.8h-0.8zM179.4,364.3h0.8v0.8h-0.8zM169.6,357.0h0.8v0.8h-0.8zM181.7,343.5h0.8v0.8h-0.8zM183.1,354.3h0.8v0.8h-0.8zM179.6,357.4h0.8v0.8h-0.8zM178.7,373.4h0.8v0.8h-0.8zM175.6,377.8h0.8v0.8h-0.8zM173.7,347.8h0.8v0.8h-0.8zM181.2,346.2h0.8v0.8h-0.8zM175.7,369.9h0.8v0.8h-0.8zM183.7,337.7h0.8v0.8h-0.8zM183.6,356.1h0.8v0.8h-0.8zM174.6,355.4h0.8v0.8h-0.8zM171.8,355.8h0.8v0.8h-0.8zM176.7,357.3h0.8v0.8h-0.8zM183.5,356.2h0.8v0.8h-0.8zM170.3,371.6h0.8v0.8h-0.8zM172.2,353.6h0.8v0.8h-0.8zM176.9,354.9h0.8v0.8h-0.8zM172.6,356.0h0.8v0.8h-0.8zM188.5,351.7h0.8v0.8h-0.8zM176.9,372.5h0.8v0.8h-0.8zM181.3,368.2h0.8v0.8h-0.8zM181.9,335.4h0.8v0.8h-0.8zM173.3,360.5h0.8v0.8h-0.8zM180.1,374.5h0.8v0.8h-0.8zM179.9,356.1h0.8v0.8h-0.8zM177.8,356.5h0.8v0.8h-0.8zM178.8,367.1h0.8v0.8h-0.8zM175.9,349.2h0.8v0.8h-0.8zM173.3,372.2h0.8v0.8h-0.8zM184.0,370.9h0.8v0.8h-0.8zM181.9,369.0h0.8v0.8h-0.8zM177.6,367.0h0.8v0.8h-0.8zM172.3,356.6h0.8v0.8h-0.8zM173.9,367.7h0.8v0.8h-0.8zM174.7,357.7h0.8v0.8h-0.8zM179.6,375.3h0.8v0.8h-0.8z" fill="#3a3ad0" opacity="0.45"/>
<ellipse cx="176.80" cy="366.80" rx="9.20" ry="9.40" transform="rotate(0 176.80 366.80)" fill="none" stroke="#2828d0" stroke-width="0.6" opacity="0.9"/>
<ellipse cx="176.80" cy="366.80" rx="8.51" ry="8.70" transform="rotate(0 176.80 366.80)" fill="none" stroke="#2828d0" stroke-width="0.6" opacity="0.9"/>
<ellipse cx="176.80" cy="366.80" rx="7.82" ry="7.99" transform="rotate(0 176.80 366.80)" fill="none" stroke="#2828d0" stroke-width="0.6" opacity="0.9"/>
<ellipse cx="176.80" cy="366.80" rx="7.13" ry="7.28" transform="rotate(0 176.80 366.80)" fill="none" stroke="#2828d0" stroke-width="0.6" opacity="0.9"/>
<ellipse cx="176.80" cy="366.80" rx="6.44" ry="6.58" transform="rotate(0 176.80 366.80)" fill="none" stroke="#2828d0" stroke-width="0.6" opacity="0.9"/>
<circle cx="178.60" cy="365.00" r="5.90" fill="#1e1ed6"/>
<circle cx="178.60" cy="365.00" r="4.78" fill="#10c8f0"/>
<circle cx="178.60" cy="365.00" r="3.78" fill="#28c428"/>
<circle cx="178.60" cy="365.00" r="2.95" fill="#f0f010"/>
<circle cx="178.60" cy="365.00" r="2.36" fill="#ff8a10"/>
<circle cx="178.60" cy="365.00" r="1.83" fill="#ff1010"/>
<circle cx="178.60" cy="365.00" r="0.65" fill="#fff0f0"/>
<line x1="163.90" y1="327.70" x2="163.90" y2="382.50" stroke="#34428a" stroke-width="1.3"/>
<line x1="163.40" y1="382.00" x2="217.20" y2="382.00" stroke="#34428a" stroke-width="1.3"/>
<line x1="185.60" y1="327.70" x2="185.60" y2="382.00" stroke="#5a5a5a" stroke-width="0.8"/>
<line x1="163.90" y1="354.70" x2="217.20" y2="354.70" stroke="#5a5a5a" stroke-width="0.8"/>
<text x="148.29" y="330.80" font-size="8.19" textLength="8.52" lengthAdjust="spacingAndGlyphs" fill="#5450aa" stroke="#5450aa" stroke-width="0.3">10</text>
<text x="156.91" y="327.02" font-size="5.73" fill="#5450aa" stroke="#5450aa" stroke-width="0.22">4</text>
<text x="148.29" y="349.10" font-size="8.19" textLength="8.52" lengthAdjust="spacingAndGlyphs" fill="#5450aa" stroke="#5450aa" stroke-width="0.3">10</text>
<text x="156.91" y="345.32" font-size="5.73" fill="#5450aa" stroke="#5450aa" stroke-width="0.22">3</text>
<text x="148.29" y="366.00" font-size="8.19" textLength="8.52" lengthAdjust="spacingAndGlyphs" fill="#5450aa" stroke="#5450aa" stroke-width="0.3">10</text>
<text x="156.91" y="362.22" font-size="5.73" fill="#5450aa" stroke="#5450aa" stroke-width="0.22">2</text>
<text x="148.29" y="382.80" font-size="8.19" textLength="8.52" lengthAdjust="spacingAndGlyphs" fill="#5450aa" stroke="#5450aa" stroke-width="0.3">10</text>
<text x="156.91" y="379.02" font-size="5.73" fill="#5450aa" stroke="#5450aa" stroke-width="0.22">1</text>
<text x="161.20" y="394.90" font-size="8.19" textLength="8.52" lengthAdjust="spacingAndGlyphs" fill="#5450aa" stroke="#5450aa" stroke-width="0.3">10</text>
<text x="169.82" y="391.12" font-size="5.73" fill="#5450aa" stroke="#5450aa" stroke-width="0.22">1</text>
<text x="175.80" y="394.90" font-size="8.19" textLength="8.52" lengthAdjust="spacingAndGlyphs" fill="#5450aa" stroke="#5450aa" stroke-width="0.3">10</text>
<text x="184.42" y="391.12" font-size="5.73" fill="#5450aa" stroke="#5450aa" stroke-width="0.22">2</text>
<text x="194.20" y="394.90" font-size="8.19" textLength="8.52" lengthAdjust="spacingAndGlyphs" fill="#5450aa" stroke="#5450aa" stroke-width="0.3">10</text>
<text x="202.82" y="391.12" font-size="5.73" fill="#5450aa" stroke="#5450aa" stroke-width="0.22">3</text>
<text x="211.20" y="394.90" font-size="8.19" textLength="8.52" lengthAdjust="spacingAndGlyphs" fill="#5450aa" stroke="#5450aa" stroke-width="0.3">10</text>
<text x="219.82" y="391.12" font-size="5.73" fill="#5450aa" stroke="#5450aa" stroke-width="0.22">4</text>
<text x="164.50" y="333.50" font-size="6.5" font-weight="bold" textLength="16.2" lengthAdjust="spacingAndGlyphs" fill="#111" stroke="#111" stroke-width="0.3">0.54%</text>
<text x="199.80" y="333.50" font-size="6.5" font-weight="bold" textLength="16.5" lengthAdjust="spacingAndGlyphs" fill="#111" stroke="#111" stroke-width="0.3">0.00%</text>
<text x="164.50" y="380.60" font-size="6.5" font-weight="bold" textLength="19.3" lengthAdjust="spacingAndGlyphs" fill="#111" stroke="#111" stroke-width="0.3">99.46%</text>
<text x="199.80" y="380.60" font-size="6.5" font-weight="bold" textLength="16.5" lengthAdjust="spacingAndGlyphs" fill="#111" stroke="#111" stroke-width="0.3">0.00%</text>
<path d="M258.5,359.4h0.8v0.8h-0.8zM264.3,350.8h0.8v0.8h-0.8zM270.5,357.4h0.8v0.8h-0.8zM264.3,378.2h0.8v0.8h-0.8zM263.2,341.4h0.8v0.8h-0.8zM258.8,350.3h0.8v0.8h-0.8zM269.0,366.8h0.8v0.8h-0.8zM271.4,378.8h0.8v0.8h-0.8zM274.3,364.6h0.8v0.8h-0.8zM272.5,364.9h0.8v0.8h-0.8zM263.1,367.0h0.8v0.8h-0.8zM266.2,354.7h0.8v0.8h-0.8zM276.0,366.5h0.8v0.8h-0.8zM263.5,356.3h0.8v0.8h-0.8zM277.8,354.3h0.8v0.8h-0.8zM269.7,364.8h0.8v0.8h-0.8zM268.6,364.4h0.8v0.8h-0.8zM263.5,351.6h0.8v0.8h-0.8zM265.2,352.9h0.8v0.8h-0.8zM270.1,376.0h0.8v0.8h-0.8zM261.5,363.9h0.8v0.8h-0.8zM261.0,348.9h0.8v0.8h-0.8zM264.8,358.6h0.8v0.8h-0.8zM273.0,354.0h0.8v0.8h-0.8zM262.8,365.5h0.8v0.8h-0.8zM263.0,339.9h0.8v0.8h-0.8zM268.5,362.4h0.8v0.8h-0.8zM261.8,367.5h0.8v0.8h-0.8zM267.9,343.5h0.8v0.8h-0.8zM274.9,360.5h0.8v0.8h-0.8zM260.2,362.8h0.8v0.8h-0.8zM266.6,369.1h0.8v0.8h-0.8zM259.1,369.9h0.8v0.8h-0.8zM270.8,365.7h0.8v0.8h-0.8zM269.1,373.3h0.8v0.8h-0.8zM269.6,358.8h0.8v0.8h-0.8zM261.7,370.8h0.8v0.8h-0.8zM271.0,360.9h0.8v0.8h-0.8zM266.7,366.0h0.8v0.8h-0.8zM253.2,361.1h0.8v0.8h-0.8zM253.3,360.2h0.8v0.8h-0.8zM271.3,380.3h0.8v0.8h-0.8zM263.6,362.5h0.8v0.8h-0.8zM269.6,357.0h0.8v0.8h-0.8zM266.3,345.7h0.8v0.8h-0.8zM265.7,358.2h0.8v0.8h-0.8zM272.4,360.7h0.8v0.8h-0.8zM264.6,356.5h0.8v0.8h-0.8zM261.8,375.6h0.8v0.8h-0.8zM269.2,341.7h0.8v0.8h-0.8zM266.5,371.2h0.8v0.8h-0.8zM258.7,359.0h0.8v0.8h-0.8zM268.0,352.2h0.8v0.8h-0.8zM263.1,380.2h0.8v0.8h-0.8zM258.0,354.8h0.8v0.8h-0.8zM264.7,348.6h0.8v0.8h-0.8zM264.9,365.6h0.8v0.8h-0.8zM262.6,339.7h0.8v0.8h-0.8zM272.8,375.0h0.8v0.8h-0.8zM262.4,360.9h0.8v0.8h-0.8zM252.9,369.8h0.8v0.8h-0.8zM259.2,350.4h0.8v0.8h-0.8zM276.9,341.8h0.8v0.8h-0.8zM266.0,344.1h0.8v0.8h-0.8zM256.6,343.0h0.8v0.8h-0.8zM267.3,341.3h0.8v0.8h-0.8zM262.9,366.0h0.8v0.8h-0.8zM265.1,341.2h0.8v0.8h-0.8zM273.5,358.6h0.8v0.8h-0.8zM273.1,344.4h0.8v0.8h-0.8zM274.5,340.8h0.8v0.8h-0.8zM257.1,352.0h0.8v0.8h-0.8zM264.0,360.3h0.8v0.8h-0.8zM263.1,364.9h0.8v0.8h-0.8zM272.7,349.2h0.8v0.8h-0.8zM259.0,352.3h0.8v0.8h-0.8zM270.1,367.1h0.8v0.8h-0.8zM264.2,345.2h0.8v0.8h-0.8zM265.8,368.9h0.8v0.8h-0.8zM262.3,372.9h0.8v0.8h-0.8zM267.1,360.7h0.8v0.8h-0.8zM262.7,373.7h0.8v0.8h-0.8zM266.1,339.0h0.8v0.8h-0.8zM270.1,352.0h0.8v0.8h-0.8zM271.4,359.2h0.8v0.8h-0.8zM262.8,359.2h0.8v0.8h-0.8zM263.4,347.1h0.8v0.8h-0.8zM266.0,367.3h0.8v0.8h-0.8zM266.3,356.1h0.8v0.8h-0.8zM263.1,364.1h0.8v0.8h-0.8zM267.3,368.8h0.8v0.8h-0.8zM258.0,356.5h0.8v0.8h-0.8zM268.6,368.0h0.8v0.8h-0.8zM258.2,342.3h0.8v0.8h-0.8zM265.7,369.9h0.8v0.8h-0.8zM271.5,338.7h0.8v0.8h-0.8zM266.6,371.4h0.8v0.8h-0.8zM266.1,344.6h0.8v0.8h-0.8zM262.3,340.9h0.8v0.8h-0.8zM272.0,354.0h0.8v0.8h-0.8zM263.7,346.5h0.8v0.8h-0.8zM265.2,346.1h0.8v0.8h-0.8zM261.0,356.6h0.8v0.8h-0.8zM264.7,362.7h0.8v0.8h-0.8zM266.7,371.5h0.8v0.8h-0.8zM265.7,360.3h0.8v0.8h-0.8zM267.1,347.3h0.8v0.8h-0.8zM271.9,350.3h0.8v0.8h-0.8zM257.9,372.3h0.8v0.8h-0.8zM269.2,350.2h0.8v0.8h-0.8zM270.7,368.8h0.8v0.8h-0.8zM269.5,342.9h0.8v0.8h-0.8zM266.8,344.5h0.8v0.8h-0.8zM262.8,350.3h0.8v0.8h-0.8zM261.6,363.1h0.8v0.8h-0.8zM261.9,364.6h0.8v0.8h-0.8zM266.8,349.7h0.8v0.8h-0.8zM266.8,365.4h0.8v0.8h-0.8zM271.7,354.0h0.8v0.8h-0.8zM274.7,364.0h0.8v0.8h-0.8zM272.2,340.7h0.8v0.8h-0.8zM260.6,371.8h0.8v0.8h-0.8zM264.8,362.7h0.8v0.8h-0.8zM272.0,339.6h0.8v0.8h-0.8zM268.2,380.6h0.8v0.8h-0.8zM269.9,358.2h0.8v0.8h-0.8zM268.8,357.2h0.8v0.8h-0.8zM269.8,372.9h0.8v0.8h-0.8zM264.8,364.1h0.8v0.8h-0.8zM267.4,366.1h0.8v0.8h-0.8zM270.1,344.1h0.8v0.8h-0.8zM271.8,367.5h0.8v0.8h-0.8zM260.4,353.6h0.8v0.8h-0.8zM258.5,353.6h0.8v0.8h-0.8zM267.6,343.1h0.8v0.8h-0.8zM262.0,346.5h0.8v0.8h-0.8zM262.4,347.7h0.8v0.8h-0.8zM260.5,364.0h0.8v0.8h-0.8zM264.8,347.1h0.8v0.8h-0.8zM270.9,350.3h0.8v0.8h-0.8zM270.4,342.1h0.8v0.8h-0.8zM273.0,351.7h0.8v0.8h-0.8zM261.1,362.0h0.8v0.8h-0.8zM259.2,344.0h0.8v0.8h-0.8zM267.1,351.2h0.8v0.8h-0.8zM267.9,358.8h0.8v0.8h-0.8zM267.2,358.7h0.8v0.8h-0.8zM269.5,357.1h0.8v0.8h-0.8zM271.5,368.5h0.8v0.8h-0.8zM256.0,335.9h0.8v0.8h-0.8zM273.7,351.7h0.8v0.8h-0.8zM266.8,355.7h0.8v0.8h-0.8zM262.3,357.9h0.8v0.8h-0.8zM265.9,344.0h0.8v0.8h-0.8zM261.5,353.8h0.8v0.8h-0.8zM265.8,361.7h0.8v0.8h-0.8zM256.0,338.2h0.8v0.8h-0.8zM274.2,354.9h0.8v0.8h-0.8zM270.0,352.0h0.8v0.8h-0.8zM259.7,346.1h0.8v0.8h-0.8zM269.3,357.3h0.8v0.8h-0.8zM257.6,358.7h0.8v0.8h-0.8zM269.6,338.7h0.8v0.8h-0.8zM263.1,366.5h0.8v0.8h-0.8zM262.4,357.3h0.8v0.8h-0.8zM261.3,346.1h0.8v0.8h-0.8zM263.4,363.2h0.8v0.8h-0.8zM260.5,367.5h0.8v0.8h-0.8zM270.1,367.3h0.8v0.8h-0.8zM273.6,350.7h0.8v0.8h-0.8zM265.6,369.1h0.8v0.8h-0.8zM272.2,368.4h0.8v0.8h-0.8zM263.6,351.2h0.8v0.8h-0.8zM259.3,351.8h0.8v0.8h-0.8zM261.4,351.1h0.8v0.8h-0.8zM264.0,367.1h0.8v0.8h-0.8zM270.2,356.4h0.8v0.8h-0.8zM260.2,356.4h0.8v0.8h-0.8zM268.0,367.3h0.8v0.8h-0.8zM266.9,366.8h0.8v0.8h-0.8zM262.6,364.9h0.8v0.8h-0.8zM269.6,352.8h0.8v0.8h-0.8zM262.1,371.9h0.8v0.8h-0.8zM260.9,365.3h0.8v0.8h-0.8zM264.5,352.8h0.8v0.8h-0.8zM264.6,351.7h0.8v0.8h-0.8zM265.7,378.5h0.8v0.8h-0.8zM273.2,355.4h0.8v0.8h-0.8zM268.2,368.0h0.8v0.8h-0.8zM263.7,379.1h0.8v0.8h-0.8zM266.0,364.5h0.8v0.8h-0.8z" fill="#3a3ad0" opacity="0.45"/>
<path d="M262.30,357.00 C262.30,345.00 265.55,333.00 267.30,333.00 C269.05,333.00 272.30,345.00 272.30,357.00" fill="none" stroke="#2f2fd0" stroke-width="0.55"/>
<path d="M263.70,357.00 C263.70,346.18 266.04,335.35 267.30,335.35 C268.56,335.35 270.90,346.18 270.90,357.00" fill="none" stroke="#2f2fd0" stroke-width="0.55"/>
<path d="M265.10,357.00 C265.10,347.35 266.53,337.70 267.30,337.70 C268.07,337.70 269.50,347.35 269.50,357.00" fill="none" stroke="#2f2fd0" stroke-width="0.55"/>
<ellipse cx="264.90" cy="364.40" rx="9.20" ry="9.40" transform="rotate(0 264.90 364.40)" fill="none" stroke="#2828d0" stroke-width="0.6" opacity="0.9"/>
<ellipse cx="264.90" cy="364.40" rx="8.51" ry="8.70" transform="rotate(0 264.90 364.40)" fill="none" stroke="#2828d0" stroke-width="0.6" opacity="0.9"/>
<ellipse cx="264.90" cy="364.40" rx="7.82" ry="7.99" transform="rotate(0 264.90 364.40)" fill="none" stroke="#2828d0" stroke-width="0.6" opacity="0.9"/>
<ellipse cx="264.90" cy="364.40" rx="7.13" ry="7.28" transform="rotate(0 264.90 364.40)" fill="none" stroke="#2828d0" stroke-width="0.6" opacity="0.9"/>
<ellipse cx="264.90" cy="364.40" rx="6.44" ry="6.58" transform="rotate(0 264.90 364.40)" fill="none" stroke="#2828d0" stroke-width="0.6" opacity="0.9"/>
<circle cx="266.70" cy="362.60" r="5.90" fill="#1e1ed6"/>
<circle cx="266.70" cy="362.60" r="4.78" fill="#10c8f0"/>
<circle cx="266.70" cy="362.60" r="3.78" fill="#28c428"/>
<circle cx="266.70" cy="362.60" r="2.95" fill="#f0f010"/>
<circle cx="266.70" cy="362.60" r="2.36" fill="#ff8a10"/>
<circle cx="266.70" cy="362.60" r="1.83" fill="#ff1010"/>
<circle cx="266.70" cy="362.60" r="0.65" fill="#fff0f0"/>
<line x1="250.60" y1="327.70" x2="250.60" y2="382.50" stroke="#34428a" stroke-width="1.3"/>
<line x1="250.10" y1="382.00" x2="303.70" y2="382.00" stroke="#34428a" stroke-width="1.3"/>
<line x1="272.10" y1="327.70" x2="272.10" y2="382.00" stroke="#5a5a5a" stroke-width="0.8"/>
<line x1="250.60" y1="354.80" x2="303.70" y2="354.80" stroke="#5a5a5a" stroke-width="0.8"/>
<text x="234.99" y="330.80" font-size="8.19" textLength="8.52" lengthAdjust="spacingAndGlyphs" fill="#5450aa" stroke="#5450aa" stroke-width="0.3">10</text>
<text x="243.61" y="327.02" font-size="5.73" fill="#5450aa" stroke="#5450aa" stroke-width="0.22">4</text>
<text x="234.99" y="349.10" font-size="8.19" textLength="8.52" lengthAdjust="spacingAndGlyphs" fill="#5450aa" stroke="#5450aa" stroke-width="0.3">10</text>
<text x="243.61" y="345.32" font-size="5.73" fill="#5450aa" stroke="#5450aa" stroke-width="0.22">3</text>
<text x="234.99" y="366.00" font-size="8.19" textLength="8.52" lengthAdjust="spacingAndGlyphs" fill="#5450aa" stroke="#5450aa" stroke-width="0.3">10</text>
<text x="243.61" y="362.22" font-size="5.73" fill="#5450aa" stroke="#5450aa" stroke-width="0.22">2</text>
<text x="234.99" y="382.80" font-size="8.19" textLength="8.52" lengthAdjust="spacingAndGlyphs" fill="#5450aa" stroke="#5450aa" stroke-width="0.3">10</text>
<text x="243.61" y="379.02" font-size="5.73" fill="#5450aa" stroke="#5450aa" stroke-width="0.22">1</text>
<text x="247.90" y="394.90" font-size="8.19" textLength="8.52" lengthAdjust="spacingAndGlyphs" fill="#5450aa" stroke="#5450aa" stroke-width="0.3">10</text>
<text x="256.52" y="391.12" font-size="5.73" fill="#5450aa" stroke="#5450aa" stroke-width="0.22">1</text>
<text x="262.50" y="394.90" font-size="8.19" textLength="8.52" lengthAdjust="spacingAndGlyphs" fill="#5450aa" stroke="#5450aa" stroke-width="0.3">10</text>
<text x="271.12" y="391.12" font-size="5.73" fill="#5450aa" stroke="#5450aa" stroke-width="0.22">2</text>
<text x="280.90" y="394.90" font-size="8.19" textLength="8.52" lengthAdjust="spacingAndGlyphs" fill="#5450aa" stroke="#5450aa" stroke-width="0.3">10</text>
<text x="289.52" y="391.12" font-size="5.73" fill="#5450aa" stroke="#5450aa" stroke-width="0.22">3</text>
<text x="297.90" y="394.90" font-size="8.19" textLength="8.52" lengthAdjust="spacingAndGlyphs" fill="#5450aa" stroke="#5450aa" stroke-width="0.3">10</text>
<text x="306.52" y="391.12" font-size="5.73" fill="#5450aa" stroke="#5450aa" stroke-width="0.22">4</text>
<text x="251.50" y="333.30" font-size="6.5" font-weight="bold" textLength="19.3" lengthAdjust="spacingAndGlyphs" fill="#111" stroke="#111" stroke-width="0.3">13.37%</text>
<text x="286.70" y="333.30" font-size="6.5" font-weight="bold" textLength="16.2" lengthAdjust="spacingAndGlyphs" fill="#111" stroke="#111" stroke-width="0.3">1.17%</text>
<text x="251.50" y="380.40" font-size="6.5" font-weight="bold" textLength="19.3" lengthAdjust="spacingAndGlyphs" fill="#111" stroke="#111" stroke-width="0.3">85.44%</text>
<text x="286.70" y="380.40" font-size="6.5" font-weight="bold" textLength="16.2" lengthAdjust="spacingAndGlyphs" fill="#111" stroke="#111" stroke-width="0.3">0.02%</text>
<path d="M354.4,373.7h0.8v0.8h-0.8zM350.9,334.1h0.8v0.8h-0.8zM356.2,363.5h0.8v0.8h-0.8zM357.0,362.3h0.8v0.8h-0.8zM354.5,349.2h0.8v0.8h-0.8zM351.4,353.9h0.8v0.8h-0.8zM353.3,367.8h0.8v0.8h-0.8zM358.4,341.5h0.8v0.8h-0.8zM358.8,356.4h0.8v0.8h-0.8zM360.9,374.9h0.8v0.8h-0.8zM358.1,335.3h0.8v0.8h-0.8zM358.6,337.9h0.8v0.8h-0.8zM363.2,348.8h0.8v0.8h-0.8zM354.4,378.9h0.8v0.8h-0.8zM346.4,357.2h0.8v0.8h-0.8zM349.9,350.5h0.8v0.8h-0.8zM351.3,365.1h0.8v0.8h-0.8zM353.8,361.0h0.8v0.8h-0.8zM358.6,336.1h0.8v0.8h-0.8zM362.4,353.8h0.8v0.8h-0.8zM347.0,348.8h0.8v0.8h-0.8zM359.8,369.0h0.8v0.8h-0.8zM351.9,358.1h0.8v0.8h-0.8zM356.6,369.5h0.8v0.8h-0.8zM354.7,368.8h0.8v0.8h-0.8zM350.8,348.1h0.8v0.8h-0.8zM358.8,365.7h0.8v0.8h-0.8zM355.1,364.3h0.8v0.8h-0.8zM356.4,366.3h0.8v0.8h-0.8zM361.3,363.2h0.8v0.8h-0.8zM359.6,352.1h0.8v0.8h-0.8zM357.5,357.3h0.8v0.8h-0.8zM358.1,334.0h0.8v0.8h-0.8zM352.9,350.1h0.8v0.8h-0.8zM346.2,368.0h0.8v0.8h-0.8zM361.6,341.3h0.8v0.8h-0.8zM357.6,378.0h0.8v0.8h-0.8zM349.2,369.0h0.8v0.8h-0.8zM363.5,379.8h0.8v0.8h-0.8zM348.4,343.9h0.8v0.8h-0.8zM356.5,371.7h0.8v0.8h-0.8zM349.0,347.7h0.8v0.8h-0.8zM349.7,370.5h0.8v0.8h-0.8zM352.5,363.9h0.8v0.8h-0.8zM358.7,371.1h0.8v0.8h-0.8zM357.5,361.1h0.8v0.8h-0.8zM361.3,362.8h0.8v0.8h-0.8zM348.9,350.3h0.8v0.8h-0.8zM360.0,358.6h0.8v0.8h-0.8zM353.6,359.9h0.8v0.8h-0.8zM357.9,362.5h0.8v0.8h-0.8zM354.0,371.6h0.8v0.8h-0.8zM359.8,361.8h0.8v0.8h-0.8zM348.5,372.4h0.8v0.8h-0.8zM359.3,355.9h0.8v0.8h-0.8zM341.6,356.2h0.8v0.8h-0.8zM349.2,354.1h0.8v0.8h-0.8zM352.8,346.7h0.8v0.8h-0.8zM360.6,358.3h0.8v0.8h-0.8zM361.7,345.0h0.8v0.8h-0.8zM354.4,373.7h0.8v0.8h-0.8zM357.1,348.0h0.8v0.8h-0.8zM350.8,349.6h0.8v0.8h-0.8zM354.9,365.4h0.8v0.8h-0.8zM356.1,366.2h0.8v0.8h-0.8zM359.7,358.4h0.8v0.8h-0.8zM362.0,366.0h0.8v0.8h-0.8zM354.4,354.9h0.8v0.8h-0.8zM355.3,347.8h0.8v0.8h-0.8zM348.5,357.3h0.8v0.8h-0.8zM352.7,364.1h0.8v0.8h-0.8zM352.3,358.1h0.8v0.8h-0.8zM356.4,351.1h0.8v0.8h-0.8zM356.4,348.0h0.8v0.8h-0.8zM353.2,366.7h0.8v0.8h-0.8zM357.4,356.8h0.8v0.8h-0.8zM351.3,365.4h0.8v0.8h-0.8zM360.8,359.5h0.8v0.8h-0.8zM361.0,371.2h0.8v0.8h-0.8zM350.1,378.3h0.8v0.8h-0.8zM352.3,353.8h0.8v0.8h-0.8zM358.6,355.8h0.8v0.8h-0.8zM356.7,350.5h0.8v0.8h-0.8zM350.0,357.0h0.8v0.8h-0.8zM349.7,373.4h0.8v0.8h-0.8zM356.6,374.1h0.8v0.8h-0.8zM348.9,331.2h0.8v0.8h-0.8zM343.6,352.1h0.8v0.8h-0.8zM348.7,361.2h0.8v0.8h-0.8zM347.9,339.7h0.8v0.8h-0.8zM356.8,351.9h0.8v0.8h-0.8zM358.8,366.8h0.8v0.8h-0.8zM357.2,341.8h0.8v0.8h-0.8zM354.2,360.4h0.8v0.8h-0.8zM356.0,356.5h0.8v0.8h-0.8zM354.5,349.8h0.8v0.8h-0.8zM352.7,332.0h0.8v0.8h-0.8zM363.9,355.4h0.8v0.8h-0.8zM348.6,363.2h0.8v0.8h-0.8zM358.8,339.0h0.8v0.8h-0.8zM352.7,375.2h0.8v0.8h-0.8zM358.1,362.0h0.8v0.8h-0.8zM360.4,355.2h0.8v0.8h-0.8zM353.8,376.4h0.8v0.8h-0.8zM354.4,355.8h0.8v0.8h-0.8zM358.6,357.2h0.8v0.8h-0.8zM349.0,380.1h0.8v0.8h-0.8zM355.0,378.9h0.8v0.8h-0.8zM357.9,345.6h0.8v0.8h-0.8zM363.3,354.6h0.8v0.8h-0.8zM350.9,356.4h0.8v0.8h-0.8zM344.3,361.8h0.8v0.8h-0.8zM351.6,353.7h0.8v0.8h-0.8zM350.8,365.1h0.8v0.8h-0.8zM357.2,370.1h0.8v0.8h-0.8zM363.9,360.2h0.8v0.8h-0.8zM355.8,360.5h0.8v0.8h-0.8zM351.2,350.1h0.8v0.8h-0.8zM359.2,346.2h0.8v0.8h-0.8zM345.4,352.5h0.8v0.8h-0.8zM356.6,374.9h0.8v0.8h-0.8zM351.7,345.3h0.8v0.8h-0.8zM355.8,354.9h0.8v0.8h-0.8zM356.6,350.4h0.8v0.8h-0.8zM356.3,349.6h0.8v0.8h-0.8zM360.4,360.2h0.8v0.8h-0.8zM358.2,351.3h0.8v0.8h-0.8zM348.0,356.9h0.8v0.8h-0.8zM355.0,370.2h0.8v0.8h-0.8zM360.3,356.3h0.8v0.8h-0.8zM355.1,344.6h0.8v0.8h-0.8zM355.1,359.3h0.8v0.8h-0.8zM353.2,343.4h0.8v0.8h-0.8zM361.8,345.4h0.8v0.8h-0.8zM363.7,371.2h0.8v0.8h-0.8zM363.2,346.3h0.8v0.8h-0.8zM358.5,339.7h0.8v0.8h-0.8zM353.4,338.0h0.8v0.8h-0.8zM351.6,350.5h0.8v0.8h-0.8zM360.2,369.9h0.8v0.8h-0.8zM353.4,353.2h0.8v0.8h-0.8zM350.5,342.7h0.8v0.8h-0.8zM346.2,354.0h0.8v0.8h-0.8zM358.3,347.3h0.8v0.8h-0.8zM357.1,342.5h0.8v0.8h-0.8zM350.2,350.1h0.8v0.8h-0.8zM359.7,350.2h0.8v0.8h-0.8zM359.1,352.3h0.8v0.8h-0.8zM349.6,332.1h0.8v0.8h-0.8zM352.8,344.9h0.8v0.8h-0.8zM359.8,361.9h0.8v0.8h-0.8zM346.9,366.8h0.8v0.8h-0.8zM349.9,359.5h0.8v0.8h-0.8zM347.1,347.7h0.8v0.8h-0.8zM357.9,359.5h0.8v0.8h-0.8zM357.5,363.9h0.8v0.8h-0.8zM353.9,363.3h0.8v0.8h-0.8zM356.9,354.7h0.8v0.8h-0.8zM356.8,359.6h0.8v0.8h-0.8zM359.3,360.3h0.8v0.8h-0.8zM355.5,362.4h0.8v0.8h-0.8zM362.5,357.3h0.8v0.8h-0.8zM358.3,358.2h0.8v0.8h-0.8zM345.3,345.6h0.8v0.8h-0.8zM350.6,339.6h0.8v0.8h-0.8zM352.1,335.1h0.8v0.8h-0.8zM356.6,349.9h0.8v0.8h-0.8zM361.4,361.1h0.8v0.8h-0.8zM348.8,353.8h0.8v0.8h-0.8zM355.4,348.2h0.8v0.8h-0.8zM353.4,343.3h0.8v0.8h-0.8zM351.5,359.8h0.8v0.8h-0.8zM353.5,371.0h0.8v0.8h-0.8zM344.5,346.8h0.8v0.8h-0.8zM353.3,374.2h0.8v0.8h-0.8zM360.8,365.5h0.8v0.8h-0.8zM360.1,375.6h0.8v0.8h-0.8zM358.5,353.5h0.8v0.8h-0.8zM356.1,347.6h0.8v0.8h-0.8zM354.0,360.8h0.8v0.8h-0.8zM352.6,357.5h0.8v0.8h-0.8zM352.9,340.4h0.8v0.8h-0.8zM347.9,364.6h0.8v0.8h-0.8zM355.3,366.2h0.8v0.8h-0.8zM354.6,356.1h0.8v0.8h-0.8zM356.4,352.1h0.8v0.8h-0.8zM362.0,368.2h0.8v0.8h-0.8zM357.1,343.6h0.8v0.8h-0.8zM352.4,358.6h0.8v0.8h-0.8zM360.9,355.6h0.8v0.8h-0.8zM354.9,362.4h0.8v0.8h-0.8zM355.6,354.2h0.8v0.8h-0.8zM349.4,370.7h0.8v0.8h-0.8z" fill="#3a3ad0" opacity="0.45"/>
<path d="M352.30,357.00 C352.30,349.25 354.90,341.50 356.30,341.50 C357.70,341.50 360.30,349.25 360.30,357.00" fill="none" stroke="#2f2fd0" stroke-width="0.55"/>
<path d="M353.42,357.00 C353.42,350.01 355.29,343.02 356.30,343.02 C357.31,343.02 359.18,350.01 359.18,357.00" fill="none" stroke="#2f2fd0" stroke-width="0.55"/>
<path d="M354.54,357.00 C354.54,350.77 355.68,344.54 356.30,344.54 C356.92,344.54 358.06,350.77 358.06,357.00" fill="none" stroke="#2f2fd0" stroke-width="0.55"/>
<ellipse cx="354.00" cy="363.30" rx="9.20" ry="9.40" transform="rotate(0 354.00 363.30)" fill="none" stroke="#2828d0" stroke-width="0.6" opacity="0.9"/>
<ellipse cx="354.00" cy="363.30" rx="8.51" ry="8.70" transform="rotate(0 354.00 363.30)" fill="none" stroke="#2828d0" stroke-width="0.6" opacity="0.9"/>
<ellipse cx="354.00" cy="363.30" rx="7.82" ry="7.99" transform="rotate(0 354.00 363.30)" fill="none" stroke="#2828d0" stroke-width="0.6" opacity="0.9"/>
<ellipse cx="354.00" cy="363.30" rx="7.13" ry="7.28" transform="rotate(0 354.00 363.30)" fill="none" stroke="#2828d0" stroke-width="0.6" opacity="0.9"/>
<ellipse cx="354.00" cy="363.30" rx="6.44" ry="6.58" transform="rotate(0 354.00 363.30)" fill="none" stroke="#2828d0" stroke-width="0.6" opacity="0.9"/>
<circle cx="355.80" cy="361.50" r="5.90" fill="#1e1ed6"/>
<circle cx="355.80" cy="361.50" r="4.78" fill="#10c8f0"/>
<circle cx="355.80" cy="361.50" r="3.78" fill="#28c428"/>
<circle cx="355.80" cy="361.50" r="2.95" fill="#f0f010"/>
<circle cx="355.80" cy="361.50" r="2.36" fill="#ff8a10"/>
<circle cx="355.80" cy="361.50" r="1.83" fill="#ff1010"/>
<circle cx="355.80" cy="361.50" r="0.65" fill="#fff0f0"/>
<line x1="339.60" y1="327.70" x2="339.60" y2="382.50" stroke="#34428a" stroke-width="1.3"/>
<line x1="339.10" y1="382.00" x2="393.00" y2="382.00" stroke="#34428a" stroke-width="1.3"/>
<line x1="361.90" y1="327.70" x2="361.90" y2="382.00" stroke="#5a5a5a" stroke-width="0.8"/>
<line x1="339.60" y1="354.20" x2="393.00" y2="354.20" stroke="#5a5a5a" stroke-width="0.8"/>
<text x="323.99" y="330.80" font-size="8.19" textLength="8.52" lengthAdjust="spacingAndGlyphs" fill="#5450aa" stroke="#5450aa" stroke-width="0.3">10</text>
<text x="332.61" y="327.02" font-size="5.73" fill="#5450aa" stroke="#5450aa" stroke-width="0.22">4</text>
<text x="323.99" y="349.10" font-size="8.19" textLength="8.52" lengthAdjust="spacingAndGlyphs" fill="#5450aa" stroke="#5450aa" stroke-width="0.3">10</text>
<text x="332.61" y="345.32" font-size="5.73" fill="#5450aa" stroke="#5450aa" stroke-width="0.22">3</text>
<text x="323.99" y="366.00" font-size="8.19" textLength="8.52" lengthAdjust="spacingAndGlyphs" fill="#5450aa" stroke="#5450aa" stroke-width="0.3">10</text>
<text x="332.61" y="362.22" font-size="5.73" fill="#5450aa" stroke="#5450aa" stroke-width="0.22">2</text>
<text x="323.99" y="382.80" font-size="8.19" textLength="8.52" lengthAdjust="spacingAndGlyphs" fill="#5450aa" stroke="#5450aa" stroke-width="0.3">10</text>
<text x="332.61" y="379.02" font-size="5.73" fill="#5450aa" stroke="#5450aa" stroke-width="0.22">1</text>
<text x="336.90" y="394.90" font-size="8.19" textLength="8.52" lengthAdjust="spacingAndGlyphs" fill="#5450aa" stroke="#5450aa" stroke-width="0.3">10</text>
<text x="345.52" y="391.12" font-size="5.73" fill="#5450aa" stroke="#5450aa" stroke-width="0.22">1</text>
<text x="351.50" y="394.90" font-size="8.19" textLength="8.52" lengthAdjust="spacingAndGlyphs" fill="#5450aa" stroke="#5450aa" stroke-width="0.3">10</text>
<text x="360.12" y="391.12" font-size="5.73" fill="#5450aa" stroke="#5450aa" stroke-width="0.22">2</text>
<text x="369.90" y="394.90" font-size="8.19" textLength="8.52" lengthAdjust="spacingAndGlyphs" fill="#5450aa" stroke="#5450aa" stroke-width="0.3">10</text>
<text x="378.52" y="391.12" font-size="5.73" fill="#5450aa" stroke="#5450aa" stroke-width="0.22">3</text>
<text x="386.90" y="394.90" font-size="8.19" textLength="8.52" lengthAdjust="spacingAndGlyphs" fill="#5450aa" stroke="#5450aa" stroke-width="0.3">10</text>
<text x="395.52" y="391.12" font-size="5.73" fill="#5450aa" stroke="#5450aa" stroke-width="0.22">4</text>
<text x="339.80" y="333.50" font-size="6.5" font-weight="bold" textLength="16.9" lengthAdjust="spacingAndGlyphs" fill="#111" stroke="#111" stroke-width="0.3">6.49%</text>
<text x="375.60" y="333.50" font-size="6.5" font-weight="bold" textLength="16.9" lengthAdjust="spacingAndGlyphs" fill="#111" stroke="#111" stroke-width="0.3">0.37%</text>
<text x="339.80" y="380.40" font-size="6.5" font-weight="bold" textLength="20.2" lengthAdjust="spacingAndGlyphs" fill="#111" stroke="#111" stroke-width="0.3">93.13%</text>
<text x="375.60" y="380.40" font-size="6.5" font-weight="bold" textLength="16.9" lengthAdjust="spacingAndGlyphs" fill="#111" stroke="#111" stroke-width="0.3">0.01%</text>
<path d="M446.1,367.8h0.8v0.8h-0.8zM433.1,332.9h0.8v0.8h-0.8zM439.5,365.3h0.8v0.8h-0.8zM439.3,338.7h0.8v0.8h-0.8zM437.5,373.4h0.8v0.8h-0.8zM433.1,368.8h0.8v0.8h-0.8zM442.6,362.0h0.8v0.8h-0.8zM443.8,349.6h0.8v0.8h-0.8zM439.4,377.8h0.8v0.8h-0.8zM438.1,351.2h0.8v0.8h-0.8zM433.0,350.6h0.8v0.8h-0.8zM443.7,371.2h0.8v0.8h-0.8zM443.2,363.8h0.8v0.8h-0.8zM442.9,360.3h0.8v0.8h-0.8zM445.0,354.5h0.8v0.8h-0.8zM445.4,355.4h0.8v0.8h-0.8zM432.1,341.0h0.8v0.8h-0.8zM439.1,350.8h0.8v0.8h-0.8zM434.0,347.2h0.8v0.8h-0.8zM440.9,361.1h0.8v0.8h-0.8zM444.2,346.0h0.8v0.8h-0.8zM441.9,368.6h0.8v0.8h-0.8zM441.8,377.2h0.8v0.8h-0.8zM437.7,356.2h0.8v0.8h-0.8zM440.9,351.5h0.8v0.8h-0.8zM439.8,359.0h0.8v0.8h-0.8zM439.9,350.3h0.8v0.8h-0.8zM437.8,355.3h0.8v0.8h-0.8zM432.5,358.4h0.8v0.8h-0.8zM434.6,353.3h0.8v0.8h-0.8zM434.7,357.4h0.8v0.8h-0.8zM438.2,353.2h0.8v0.8h-0.8zM436.4,357.6h0.8v0.8h-0.8zM447.8,335.0h0.8v0.8h-0.8zM442.5,358.9h0.8v0.8h-0.8zM438.1,341.2h0.8v0.8h-0.8zM447.8,358.4h0.8v0.8h-0.8zM444.9,351.9h0.8v0.8h-0.8zM436.3,368.9h0.8v0.8h-0.8zM443.6,352.7h0.8v0.8h-0.8zM439.0,363.5h0.8v0.8h-0.8zM436.1,346.4h0.8v0.8h-0.8zM439.8,368.1h0.8v0.8h-0.8zM444.2,358.5h0.8v0.8h-0.8zM446.6,354.5h0.8v0.8h-0.8zM437.6,363.3h0.8v0.8h-0.8zM442.7,357.7h0.8v0.8h-0.8zM441.1,364.4h0.8v0.8h-0.8zM442.7,349.5h0.8v0.8h-0.8zM440.1,372.5h0.8v0.8h-0.8zM443.6,351.2h0.8v0.8h-0.8zM440.3,344.7h0.8v0.8h-0.8zM433.8,350.1h0.8v0.8h-0.8zM447.9,349.0h0.8v0.8h-0.8zM430.4,355.0h0.8v0.8h-0.8zM436.7,365.0h0.8v0.8h-0.8zM446.1,352.4h0.8v0.8h-0.8zM440.6,345.9h0.8v0.8h-0.8zM445.9,347.8h0.8v0.8h-0.8zM435.5,358.3h0.8v0.8h-0.8zM439.8,361.8h0.8v0.8h-0.8zM442.3,373.7h0.8v0.8h-0.8zM442.5,363.4h0.8v0.8h-0.8zM434.1,361.1h0.8v0.8h-0.8zM433.6,370.6h0.8v0.8h-0.8zM439.8,367.7h0.8v0.8h-0.8zM437.7,359.1h0.8v0.8h-0.8zM440.5,362.9h0.8v0.8h-0.8zM439.6,349.5h0.8v0.8h-0.8zM438.3,348.8h0.8v0.8h-0.8zM435.6,342.2h0.8v0.8h-0.8zM433.0,378.4h0.8v0.8h-0.8zM436.5,343.4h0.8v0.8h-0.8zM444.9,359.7h0.8v0.8h-0.8zM439.4,369.7h0.8v0.8h-0.8zM449.1,346.5h0.8v0.8h-0.8zM447.0,363.1h0.8v0.8h-0.8zM445.7,350.2h0.8v0.8h-0.8zM448.2,370.0h0.8v0.8h-0.8zM427.4,371.2h0.8v0.8h-0.8zM446.6,340.2h0.8v0.8h-0.8zM441.7,354.3h0.8v0.8h-0.8zM441.2,346.3h0.8v0.8h-0.8zM443.2,365.0h0.8v0.8h-0.8zM439.6,355.6h0.8v0.8h-0.8zM431.7,362.7h0.8v0.8h-0.8zM433.9,356.6h0.8v0.8h-0.8zM440.1,374.3h0.8v0.8h-0.8zM439.9,355.9h0.8v0.8h-0.8zM443.7,356.0h0.8v0.8h-0.8zM451.5,354.3h0.8v0.8h-0.8zM448.0,342.4h0.8v0.8h-0.8zM435.7,364.0h0.8v0.8h-0.8zM433.4,379.4h0.8v0.8h-0.8zM442.7,357.4h0.8v0.8h-0.8zM448.7,350.3h0.8v0.8h-0.8zM430.6,352.8h0.8v0.8h-0.8zM429.9,365.3h0.8v0.8h-0.8zM444.9,361.7h0.8v0.8h-0.8zM432.1,346.3h0.8v0.8h-0.8zM433.3,364.7h0.8v0.8h-0.8zM445.1,353.7h0.8v0.8h-0.8zM440.4,359.0h0.8v0.8h-0.8zM443.7,345.8h0.8v0.8h-0.8zM435.4,365.6h0.8v0.8h-0.8zM442.6,362.0h0.8v0.8h-0.8zM440.3,365.4h0.8v0.8h-0.8zM442.4,349.2h0.8v0.8h-0.8zM448.5,369.2h0.8v0.8h-0.8zM438.9,355.2h0.8v0.8h-0.8zM436.6,339.9h0.8v0.8h-0.8zM434.9,339.5h0.8v0.8h-0.8zM436.8,360.1h0.8v0.8h-0.8zM439.7,339.4h0.8v0.8h-0.8zM439.1,348.9h0.8v0.8h-0.8zM434.7,369.4h0.8v0.8h-0.8zM434.9,367.0h0.8v0.8h-0.8zM431.7,359.6h0.8v0.8h-0.8zM436.6,367.7h0.8v0.8h-0.8zM442.0,347.1h0.8v0.8h-0.8zM443.2,371.4h0.8v0.8h-0.8zM446.6,373.8h0.8v0.8h-0.8zM437.2,354.7h0.8v0.8h-0.8zM432.5,353.8h0.8v0.8h-0.8zM432.9,357.7h0.8v0.8h-0.8zM431.4,378.5h0.8v0.8h-0.8zM444.1,375.3h0.8v0.8h-0.8zM445.9,358.3h0.8v0.8h-0.8zM442.4,358.8h0.8v0.8h-0.8zM430.8,342.5h0.8v0.8h-0.8zM438.2,367.5h0.8v0.8h-0.8zM433.3,358.7h0.8v0.8h-0.8zM437.3,365.2h0.8v0.8h-0.8zM443.9,344.0h0.8v0.8h-0.8zM434.5,373.9h0.8v0.8h-0.8zM445.3,356.1h0.8v0.8h-0.8zM444.2,357.2h0.8v0.8h-0.8zM442.5,351.8h0.8v0.8h-0.8zM442.8,376.4h0.8v0.8h-0.8zM447.3,371.6h0.8v0.8h-0.8zM440.7,368.0h0.8v0.8h-0.8zM438.0,352.9h0.8v0.8h-0.8zM440.8,343.5h0.8v0.8h-0.8zM441.1,336.0h0.8v0.8h-0.8zM448.2,366.6h0.8v0.8h-0.8zM441.6,348.1h0.8v0.8h-0.8zM437.2,351.8h0.8v0.8h-0.8zM431.9,351.4h0.8v0.8h-0.8zM435.6,366.5h0.8v0.8h-0.8zM446.8,373.8h0.8v0.8h-0.8zM433.4,340.1h0.8v0.8h-0.8zM447.2,365.8h0.8v0.8h-0.8zM445.4,364.4h0.8v0.8h-0.8zM444.4,364.6h0.8v0.8h-0.8zM435.1,358.4h0.8v0.8h-0.8zM446.8,363.2h0.8v0.8h-0.8zM444.7,354.2h0.8v0.8h-0.8zM443.7,349.7h0.8v0.8h-0.8zM439.2,369.3h0.8v0.8h-0.8zM448.6,352.7h0.8v0.8h-0.8zM439.0,353.7h0.8v0.8h-0.8zM439.2,356.8h0.8v0.8h-0.8zM444.5,360.6h0.8v0.8h-0.8zM440.1,361.8h0.8v0.8h-0.8zM431.3,354.7h0.8v0.8h-0.8zM449.9,344.2h0.8v0.8h-0.8zM437.2,359.6h0.8v0.8h-0.8zM445.1,353.3h0.8v0.8h-0.8zM434.9,374.9h0.8v0.8h-0.8zM428.5,345.6h0.8v0.8h-0.8zM446.8,379.8h0.8v0.8h-0.8zM432.5,351.4h0.8v0.8h-0.8zM438.8,364.7h0.8v0.8h-0.8zM439.1,363.2h0.8v0.8h-0.8zM442.4,354.7h0.8v0.8h-0.8zM440.3,373.2h0.8v0.8h-0.8zM441.0,364.2h0.8v0.8h-0.8zM439.9,365.0h0.8v0.8h-0.8zM448.2,357.5h0.8v0.8h-0.8zM437.7,347.5h0.8v0.8h-0.8zM445.2,347.1h0.8v0.8h-0.8zM441.2,377.9h0.8v0.8h-0.8zM440.2,355.4h0.8v0.8h-0.8zM443.0,345.9h0.8v0.8h-0.8zM427.9,355.8h0.8v0.8h-0.8zM436.5,358.9h0.8v0.8h-0.8zM449.9,363.8h0.8v0.8h-0.8zM432.4,361.5h0.8v0.8h-0.8zM450.8,345.2h0.8v0.8h-0.8zM429.0,355.5h0.8v0.8h-0.8zM439.1,362.0h0.8v0.8h-0.8z" fill="#3a3ad0" opacity="0.45"/>
<path d="M437.50,357.00 C437.50,346.50 440.10,336.00 441.50,336.00 C442.90,336.00 445.50,346.50 445.50,357.00" fill="none" stroke="#2f2fd0" stroke-width="0.55"/>
<path d="M438.62,357.00 C438.62,347.53 440.49,338.06 441.50,338.06 C442.51,338.06 444.38,347.53 444.38,357.00" fill="none" stroke="#2f2fd0" stroke-width="0.55"/>
<path d="M439.74,357.00 C439.74,348.56 440.88,340.12 441.50,340.12 C442.12,340.12 443.26,348.56 443.26,357.00" fill="none" stroke="#2f2fd0" stroke-width="0.55"/>
<ellipse cx="439.20" cy="364.00" rx="9.20" ry="9.40" transform="rotate(0 439.20 364.00)" fill="none" stroke="#2828d0" stroke-width="0.6" opacity="0.9"/>
<ellipse cx="439.20" cy="364.00" rx="8.51" ry="8.70" transform="rotate(0 439.20 364.00)" fill="none" stroke="#2828d0" stroke-width="0.6" opacity="0.9"/>
<ellipse cx="439.20" cy="364.00" rx="7.82" ry="7.99" transform="rotate(0 439.20 364.00)" fill="none" stroke="#2828d0" stroke-width="0.6" opacity="0.9"/>
<ellipse cx="439.20" cy="364.00" rx="7.13" ry="7.28" transform="rotate(0 439.20 364.00)" fill="none" stroke="#2828d0" stroke-width="0.6" opacity="0.9"/>
<ellipse cx="439.20" cy="364.00" rx="6.44" ry="6.58" transform="rotate(0 439.20 364.00)" fill="none" stroke="#2828d0" stroke-width="0.6" opacity="0.9"/>
<circle cx="441.00" cy="362.20" r="5.90" fill="#1e1ed6"/>
<circle cx="441.00" cy="362.20" r="4.78" fill="#10c8f0"/>
<circle cx="441.00" cy="362.20" r="3.78" fill="#28c428"/>
<circle cx="441.00" cy="362.20" r="2.95" fill="#f0f010"/>
<circle cx="441.00" cy="362.20" r="2.36" fill="#ff8a10"/>
<circle cx="441.00" cy="362.20" r="1.83" fill="#ff1010"/>
<circle cx="441.00" cy="362.20" r="0.65" fill="#fff0f0"/>
<line x1="425.60" y1="327.70" x2="425.60" y2="382.50" stroke="#34428a" stroke-width="1.3"/>
<line x1="425.10" y1="382.00" x2="478.50" y2="382.00" stroke="#34428a" stroke-width="1.3"/>
<line x1="447.10" y1="327.70" x2="447.10" y2="382.00" stroke="#5a5a5a" stroke-width="0.8"/>
<line x1="425.60" y1="354.10" x2="478.50" y2="354.10" stroke="#5a5a5a" stroke-width="0.8"/>
<text x="409.99" y="330.80" font-size="8.19" textLength="8.52" lengthAdjust="spacingAndGlyphs" fill="#5450aa" stroke="#5450aa" stroke-width="0.3">10</text>
<text x="418.61" y="327.02" font-size="5.73" fill="#5450aa" stroke="#5450aa" stroke-width="0.22">4</text>
<text x="409.99" y="349.10" font-size="8.19" textLength="8.52" lengthAdjust="spacingAndGlyphs" fill="#5450aa" stroke="#5450aa" stroke-width="0.3">10</text>
<text x="418.61" y="345.32" font-size="5.73" fill="#5450aa" stroke="#5450aa" stroke-width="0.22">3</text>
<text x="409.99" y="366.00" font-size="8.19" textLength="8.52" lengthAdjust="spacingAndGlyphs" fill="#5450aa" stroke="#5450aa" stroke-width="0.3">10</text>
<text x="418.61" y="362.22" font-size="5.73" fill="#5450aa" stroke="#5450aa" stroke-width="0.22">2</text>
<text x="409.99" y="382.80" font-size="8.19" textLength="8.52" lengthAdjust="spacingAndGlyphs" fill="#5450aa" stroke="#5450aa" stroke-width="0.3">10</text>
<text x="418.61" y="379.02" font-size="5.73" fill="#5450aa" stroke="#5450aa" stroke-width="0.22">1</text>
<text x="422.90" y="394.90" font-size="8.19" textLength="8.52" lengthAdjust="spacingAndGlyphs" fill="#5450aa" stroke="#5450aa" stroke-width="0.3">10</text>
<text x="431.52" y="391.12" font-size="5.73" fill="#5450aa" stroke="#5450aa" stroke-width="0.22">1</text>
<text x="437.50" y="394.90" font-size="8.19" textLength="8.52" lengthAdjust="spacingAndGlyphs" fill="#5450aa" stroke="#5450aa" stroke-width="0.3">10</text>
<text x="446.12" y="391.12" font-size="5.73" fill="#5450aa" stroke="#5450aa" stroke-width="0.22">2</text>
<text x="455.90" y="394.90" font-size="8.19" textLength="8.52" lengthAdjust="spacingAndGlyphs" fill="#5450aa" stroke="#5450aa" stroke-width="0.3">10</text>
<text x="464.52" y="391.12" font-size="5.73" fill="#5450aa" stroke="#5450aa" stroke-width="0.22">3</text>
<text x="472.90" y="394.90" font-size="8.19" textLength="8.52" lengthAdjust="spacingAndGlyphs" fill="#5450aa" stroke="#5450aa" stroke-width="0.3">10</text>
<text x="481.52" y="391.12" font-size="5.73" fill="#5450aa" stroke="#5450aa" stroke-width="0.22">4</text>
<text x="425.60" y="334.10" font-size="6.5" font-weight="bold" textLength="17.1" lengthAdjust="spacingAndGlyphs" fill="#111" stroke="#111" stroke-width="0.3">9.28%</text>
<text x="460.50" y="334.10" font-size="6.5" font-weight="bold" textLength="17.1" lengthAdjust="spacingAndGlyphs" fill="#111" stroke="#111" stroke-width="0.3">0.51%</text>
<text x="425.60" y="380.50" font-size="6.5" font-weight="bold" textLength="20.7" lengthAdjust="spacingAndGlyphs" fill="#111" stroke="#111" stroke-width="0.3">90.20%</text>
<text x="460.50" y="380.50" font-size="6.5" font-weight="bold" textLength="17.1" lengthAdjust="spacingAndGlyphs" fill="#111" stroke="#111" stroke-width="0.3">0.00%</text>
<text x="143.60" y="383.70" font-size="10.5" font-weight="bold" textLength="14.4" lengthAdjust="spacingAndGlyphs" transform="rotate(-90 143.6 383.7)" fill="#111">FoxP3</text>
<line x1="140.20" y1="359.00" x2="140.20" y2="336.70" stroke="#000" stroke-width="1.2"/>
<path d="M140.20,328.70 L136.45,337.70 L140.20,336.50 L143.95,337.70 Z" fill="#000"/>
<text x="162.70" y="408.80" font-size="10.5" font-weight="bold" textLength="18.5" lengthAdjust="spacingAndGlyphs" fill="#111">CD127</text>
<line x1="188.20" y1="405.90" x2="466.90" y2="405.90" stroke="#000" stroke-width="1.2"/>
<path d="M475.60,405.90 L465.90,402.00 L467.10,405.90 L465.90,409.80 Z" fill="#000"/>
<text x="7.30" y="485.80" font-size="12.3" font-weight="bold" fill="#000">D</text>
<text transform="translate(124.80 485.70) rotate(0) scale(1.0176 1)" font-size="9.3" fill="#000"><tspan>CD4</tspan><tspan font-size="6.98" dy="-3.53">+</tspan><tspan font-size="9.30" dy="3.53">Gated T cells (healthy donors)</tspan></text>
<line x1="125.00" y1="488.80" x2="274.50" y2="488.80" stroke="#555" stroke-width="1"/>
<text x="96.20" y="505.20" font-size="8.2" textLength="21.5" lengthAdjust="spacingAndGlyphs" fill="#000">No Tx.</text>
<text x="197.60" y="505.20" font-size="8.2" textLength="10.5" lengthAdjust="spacingAndGlyphs" fill="#000">+D</text>
<text x="291.90" y="505.20" font-size="8.2" textLength="10.6" lengthAdjust="spacingAndGlyphs" fill="#000">+K</text>
<text transform="translate(25.20 575.00) rotate(-90) scale(0.9805 1)" font-size="9.8" fill="#000"><tspan>T cell without</tspan></text>
<text transform="translate(37.20 582.80) rotate(-90) scale(0.9473 1)" font-size="9.8" fill="#000"><tspan>cytokine induction</tspan></text>
<text transform="translate(25.90 652.80) rotate(-90) scale(0.9703 1)" font-size="9.8" fill="#000"><tspan>T cell with</tspan></text>
<text transform="translate(37.40 668.20) rotate(-90) scale(0.9409 1)" font-size="9.8" fill="#000"><tspan>cytokine induction</tspan></text>
<line x1="47.70" y1="641.50" x2="47.70" y2="522.80" stroke="#000" stroke-width="1.2"/>
<path d="M47.70,513.80 L43.70,523.80 L47.70,522.60 L51.70,523.80 Z" fill="#000"/>
<text x="51.40" y="666.00" font-size="10.5" font-weight="bold" textLength="18.3" lengthAdjust="spacingAndGlyphs" transform="rotate(-90 51.4 666)" fill="#111">FoxP3</text>
<text x="79.20" y="687.60" font-size="10.5" font-weight="bold" textLength="16.4" lengthAdjust="spacingAndGlyphs" fill="#111">CD25</text>
<line x1="101.30" y1="684.60" x2="310.20" y2="684.60" stroke="#000" stroke-width="1.2"/>
<path d="M319.20,684.60 L309.20,680.50 L310.40,684.60 L309.20,688.70 Z" fill="#000"/>
<path d="M114.6,556.1h0.8v0.8h-0.8zM90.8,550.5h0.8v0.8h-0.8zM110.8,560.6h0.8v0.8h-0.8zM104.4,543.2h0.8v0.8h-0.8zM93.1,555.4h0.8v0.8h-0.8zM113.7,547.4h0.8v0.8h-0.8zM97.6,552.4h0.8v0.8h-0.8zM102.7,546.8h0.8v0.8h-0.8zM103.1,553.6h0.8v0.8h-0.8zM121.7,543.9h0.8v0.8h-0.8zM111.4,541.3h0.8v0.8h-0.8zM113.0,548.9h0.8v0.8h-0.8zM96.0,554.5h0.8v0.8h-0.8zM112.3,545.8h0.8v0.8h-0.8zM118.2,556.1h0.8v0.8h-0.8zM125.5,553.9h0.8v0.8h-0.8zM88.3,560.1h0.8v0.8h-0.8zM96.7,560.9h0.8v0.8h-0.8zM103.9,553.0h0.8v0.8h-0.8zM106.5,546.3h0.8v0.8h-0.8zM101.9,547.3h0.8v0.8h-0.8zM126.0,539.4h0.8v0.8h-0.8zM98.5,541.5h0.8v0.8h-0.8zM83.0,554.1h0.8v0.8h-0.8zM113.8,552.8h0.8v0.8h-0.8zM104.3,546.9h0.8v0.8h-0.8zM122.0,537.1h0.8v0.8h-0.8zM93.6,559.0h0.8v0.8h-0.8zM91.4,558.4h0.8v0.8h-0.8zM113.8,547.0h0.8v0.8h-0.8zM107.4,550.3h0.8v0.8h-0.8zM87.0,536.5h0.8v0.8h-0.8zM88.1,557.8h0.8v0.8h-0.8zM81.7,556.6h0.8v0.8h-0.8zM108.2,559.0h0.8v0.8h-0.8zM85.0,555.5h0.8v0.8h-0.8zM106.5,554.1h0.8v0.8h-0.8zM90.6,569.7h0.8v0.8h-0.8zM95.4,562.4h0.8v0.8h-0.8zM101.1,555.4h0.8v0.8h-0.8zM124.0,548.2h0.8v0.8h-0.8zM101.6,545.4h0.8v0.8h-0.8zM91.3,546.7h0.8v0.8h-0.8zM122.8,533.1h0.8v0.8h-0.8zM116.9,543.7h0.8v0.8h-0.8zM110.5,543.1h0.8v0.8h-0.8zM96.8,557.8h0.8v0.8h-0.8zM106.1,547.4h0.8v0.8h-0.8zM123.6,548.6h0.8v0.8h-0.8zM101.3,544.3h0.8v0.8h-0.8zM103.4,549.5h0.8v0.8h-0.8zM103.5,557.2h0.8v0.8h-0.8zM96.3,556.4h0.8v0.8h-0.8zM112.9,550.3h0.8v0.8h-0.8zM125.7,530.5h0.8v0.8h-0.8zM98.9,545.3h0.8v0.8h-0.8zM107.7,567.4h0.8v0.8h-0.8zM82.2,558.2h0.8v0.8h-0.8zM110.5,549.4h0.8v0.8h-0.8zM109.6,538.3h0.8v0.8h-0.8zM111.8,541.6h0.8v0.8h-0.8zM89.2,561.3h0.8v0.8h-0.8zM106.3,545.4h0.8v0.8h-0.8zM92.1,554.8h0.8v0.8h-0.8zM101.9,551.1h0.8v0.8h-0.8zM84.6,543.0h0.8v0.8h-0.8zM118.5,546.7h0.8v0.8h-0.8zM83.7,548.6h0.8v0.8h-0.8zM93.0,552.9h0.8v0.8h-0.8zM80.2,570.7h0.8v0.8h-0.8zM106.6,548.0h0.8v0.8h-0.8zM107.0,551.7h0.8v0.8h-0.8zM115.4,547.8h0.8v0.8h-0.8zM121.1,555.2h0.8v0.8h-0.8zM97.4,550.8h0.8v0.8h-0.8zM91.1,554.9h0.8v0.8h-0.8zM93.6,555.6h0.8v0.8h-0.8zM107.2,553.8h0.8v0.8h-0.8zM91.0,564.1h0.8v0.8h-0.8zM98.2,552.9h0.8v0.8h-0.8zM91.2,542.5h0.8v0.8h-0.8zM101.0,540.2h0.8v0.8h-0.8zM115.6,546.9h0.8v0.8h-0.8zM122.5,548.4h0.8v0.8h-0.8zM114.0,557.0h0.8v0.8h-0.8zM105.4,561.4h0.8v0.8h-0.8zM101.3,554.2h0.8v0.8h-0.8zM95.4,558.5h0.8v0.8h-0.8zM109.0,545.8h0.8v0.8h-0.8zM86.7,558.0h0.8v0.8h-0.8zM106.8,549.0h0.8v0.8h-0.8zM88.7,552.4h0.8v0.8h-0.8zM92.6,537.6h0.8v0.8h-0.8zM98.6,563.5h0.8v0.8h-0.8zM86.2,556.9h0.8v0.8h-0.8zM124.1,548.1h0.8v0.8h-0.8zM112.8,546.7h0.8v0.8h-0.8zM106.3,552.0h0.8v0.8h-0.8zM123.8,548.9h0.8v0.8h-0.8zM100.2,545.1h0.8v0.8h-0.8zM99.9,551.9h0.8v0.8h-0.8zM91.9,550.1h0.8v0.8h-0.8zM89.8,556.2h0.8v0.8h-0.8zM96.0,557.3h0.8v0.8h-0.8zM115.0,549.0h0.8v0.8h-0.8zM106.1,561.3h0.8v0.8h-0.8zM106.4,540.0h0.8v0.8h-0.8zM94.0,556.6h0.8v0.8h-0.8zM93.4,560.8h0.8v0.8h-0.8zM76.5,549.1h0.8v0.8h-0.8zM115.3,550.7h0.8v0.8h-0.8zM83.1,560.2h0.8v0.8h-0.8zM115.5,538.8h0.8v0.8h-0.8zM84.9,550.5h0.8v0.8h-0.8zM86.1,546.4h0.8v0.8h-0.8zM92.7,545.7h0.8v0.8h-0.8zM108.2,565.1h0.8v0.8h-0.8zM91.7,562.5h0.8v0.8h-0.8zM110.5,532.5h0.8v0.8h-0.8zM103.3,551.4h0.8v0.8h-0.8zM99.9,558.4h0.8v0.8h-0.8zM97.6,556.3h0.8v0.8h-0.8zM97.0,553.1h0.8v0.8h-0.8zM98.1,569.5h0.8v0.8h-0.8zM98.6,545.6h0.8v0.8h-0.8zM129.3,552.0h0.8v0.8h-0.8zM98.1,549.0h0.8v0.8h-0.8zM96.2,563.0h0.8v0.8h-0.8zM96.4,549.3h0.8v0.8h-0.8zM111.5,546.3h0.8v0.8h-0.8zM106.1,563.9h0.8v0.8h-0.8zM115.4,555.3h0.8v0.8h-0.8zM110.2,557.7h0.8v0.8h-0.8zM102.3,558.6h0.8v0.8h-0.8zM113.6,544.5h0.8v0.8h-0.8zM87.9,561.4h0.8v0.8h-0.8zM102.1,556.2h0.8v0.8h-0.8zM96.1,558.1h0.8v0.8h-0.8zM119.3,561.5h0.8v0.8h-0.8zM124.4,545.7h0.8v0.8h-0.8zM117.7,541.3h0.8v0.8h-0.8zM116.5,547.1h0.8v0.8h-0.8zM118.8,547.6h0.8v0.8h-0.8zM97.5,548.9h0.8v0.8h-0.8zM117.2,546.3h0.8v0.8h-0.8zM111.8,551.4h0.8v0.8h-0.8zM79.0,565.5h0.8v0.8h-0.8zM98.5,556.2h0.8v0.8h-0.8zM103.4,538.8h0.8v0.8h-0.8zM98.1,553.2h0.8v0.8h-0.8zM109.0,555.8h0.8v0.8h-0.8zM93.3,553.9h0.8v0.8h-0.8zM105.1,538.0h0.8v0.8h-0.8zM122.0,537.3h0.8v0.8h-0.8zM118.2,546.5h0.8v0.8h-0.8zM127.1,549.1h0.8v0.8h-0.8zM97.5,542.0h0.8v0.8h-0.8zM104.4,553.3h0.8v0.8h-0.8zM105.5,541.8h0.8v0.8h-0.8zM90.2,551.3h0.8v0.8h-0.8zM103.3,545.4h0.8v0.8h-0.8zM102.9,558.1h0.8v0.8h-0.8zM100.2,562.1h0.8v0.8h-0.8zM105.0,549.1h0.8v0.8h-0.8zM116.4,549.7h0.8v0.8h-0.8zM97.2,549.9h0.8v0.8h-0.8zM102.3,554.3h0.8v0.8h-0.8zM116.4,548.1h0.8v0.8h-0.8zM91.4,547.0h0.8v0.8h-0.8zM106.0,553.1h0.8v0.8h-0.8zM114.3,543.4h0.8v0.8h-0.8zM88.5,563.3h0.8v0.8h-0.8zM97.0,545.5h0.8v0.8h-0.8zM124.1,549.3h0.8v0.8h-0.8zM103.5,553.4h0.8v0.8h-0.8zM95.5,561.5h0.8v0.8h-0.8zM95.8,551.4h0.8v0.8h-0.8zM95.7,546.6h0.8v0.8h-0.8zM118.4,557.0h0.8v0.8h-0.8zM106.2,536.0h0.8v0.8h-0.8zM96.8,549.7h0.8v0.8h-0.8zM101.3,537.4h0.8v0.8h-0.8zM113.3,546.1h0.8v0.8h-0.8zM126.4,536.3h0.8v0.8h-0.8zM102.1,550.9h0.8v0.8h-0.8zM94.8,562.7h0.8v0.8h-0.8zM83.6,552.1h0.8v0.8h-0.8zM96.5,550.9h0.8v0.8h-0.8zM114.3,543.4h0.8v0.8h-0.8zM106.9,546.8h0.8v0.8h-0.8zM117.3,545.7h0.8v0.8h-0.8zM101.2,541.0h0.8v0.8h-0.8zM108.9,544.7h0.8v0.8h-0.8zM113.9,550.7h0.8v0.8h-0.8zM111.3,556.1h0.8v0.8h-0.8zM104.4,544.9h0.8v0.8h-0.8zM104.3,552.3h0.8v0.8h-0.8zM89.4,561.4h0.8v0.8h-0.8zM120.2,546.4h0.8v0.8h-0.8zM104.5,554.2h0.8v0.8h-0.8zM113.9,543.5h0.8v0.8h-0.8zM111.7,542.9h0.8v0.8h-0.8zM109.7,552.5h0.8v0.8h-0.8zM88.3,562.1h0.8v0.8h-0.8zM100.6,541.0h0.8v0.8h-0.8zM95.1,550.4h0.8v0.8h-0.8zM92.4,558.8h0.8v0.8h-0.8zM92.7,556.1h0.8v0.8h-0.8zM88.4,555.7h0.8v0.8h-0.8zM124.9,545.6h0.8v0.8h-0.8zM81.1,553.9h0.8v0.8h-0.8zM96.4,542.9h0.8v0.8h-0.8zM113.6,547.0h0.8v0.8h-0.8zM101.3,552.7h0.8v0.8h-0.8zM91.1,548.5h0.8v0.8h-0.8zM106.5,554.9h0.8v0.8h-0.8zM95.4,541.9h0.8v0.8h-0.8zM98.1,553.8h0.8v0.8h-0.8zM89.8,566.5h0.8v0.8h-0.8zM88.6,557.4h0.8v0.8h-0.8zM91.2,562.7h0.8v0.8h-0.8zM84.7,552.7h0.8v0.8h-0.8zM112.3,539.1h0.8v0.8h-0.8zM96.8,557.9h0.8v0.8h-0.8zM102.0,539.8h0.8v0.8h-0.8zM108.5,547.3h0.8v0.8h-0.8zM112.4,535.7h0.8v0.8h-0.8zM112.1,550.7h0.8v0.8h-0.8zM96.5,551.3h0.8v0.8h-0.8zM104.9,546.0h0.8v0.8h-0.8zM96.0,549.1h0.8v0.8h-0.8zM105.3,555.4h0.8v0.8h-0.8zM83.0,559.8h0.8v0.8h-0.8zM109.3,559.5h0.8v0.8h-0.8zM96.1,563.1h0.8v0.8h-0.8zM97.8,557.1h0.8v0.8h-0.8zM105.3,552.5h0.8v0.8h-0.8zM95.5,547.8h0.8v0.8h-0.8zM123.3,553.5h0.8v0.8h-0.8zM100.2,551.5h0.8v0.8h-0.8zM96.2,545.0h0.8v0.8h-0.8zM89.7,559.8h0.8v0.8h-0.8zM112.8,546.0h0.8v0.8h-0.8zM88.2,550.1h0.8v0.8h-0.8zM96.3,559.1h0.8v0.8h-0.8zM99.1,543.2h0.8v0.8h-0.8zM88.8,559.6h0.8v0.8h-0.8zM109.8,561.1h0.8v0.8h-0.8zM119.6,546.1h0.8v0.8h-0.8zM94.3,556.5h0.8v0.8h-0.8zM86.7,553.4h0.8v0.8h-0.8zM115.4,550.8h0.8v0.8h-0.8zM116.7,556.9h0.8v0.8h-0.8zM98.9,558.8h0.8v0.8h-0.8zM103.6,553.5h0.8v0.8h-0.8zM106.0,554.1h0.8v0.8h-0.8zM82.1,550.5h0.8v0.8h-0.8zM104.2,554.5h0.8v0.8h-0.8zM95.9,553.7h0.8v0.8h-0.8zM87.4,564.5h0.8v0.8h-0.8zM111.0,558.8h0.8v0.8h-0.8zM96.8,553.4h0.8v0.8h-0.8zM106.1,559.8h0.8v0.8h-0.8zM109.6,551.6h0.8v0.8h-0.8zM80.2,554.8h0.8v0.8h-0.8zM83.9,558.0h0.8v0.8h-0.8zM112.3,548.2h0.8v0.8h-0.8zM95.8,568.6h0.8v0.8h-0.8zM92.1,565.6h0.8v0.8h-0.8zM116.4,547.9h0.8v0.8h-0.8zM115.4,539.0h0.8v0.8h-0.8zM94.6,552.9h0.8v0.8h-0.8zM106.0,549.1h0.8v0.8h-0.8zM121.4,541.5h0.8v0.8h-0.8zM96.3,545.9h0.8v0.8h-0.8zM109.6,554.4h0.8v0.8h-0.8zM89.9,548.1h0.8v0.8h-0.8zM88.2,565.7h0.8v0.8h-0.8zM112.0,549.8h0.8v0.8h-0.8zM112.2,551.2h0.8v0.8h-0.8zM103.4,540.1h0.8v0.8h-0.8zM109.8,553.7h0.8v0.8h-0.8zM117.8,552.3h0.8v0.8h-0.8zM94.4,556.9h0.8v0.8h-0.8zM88.5,567.4h0.8v0.8h-0.8zM87.2,562.8h0.8v0.8h-0.8zM90.5,550.9h0.8v0.8h-0.8zM90.4,554.4h0.8v0.8h-0.8zM109.2,556.9h0.8v0.8h-0.8zM100.4,558.5h0.8v0.8h-0.8zM117.3,560.1h0.8v0.8h-0.8zM95.5,556.7h0.8v0.8h-0.8zM110.5,549.5h0.8v0.8h-0.8zM107.8,545.0h0.8v0.8h-0.8zM96.1,550.0h0.8v0.8h-0.8zM92.1,549.8h0.8v0.8h-0.8zM97.8,545.1h0.8v0.8h-0.8zM96.5,558.2h0.8v0.8h-0.8zM80.5,553.3h0.8v0.8h-0.8zM94.5,547.6h0.8v0.8h-0.8zM94.5,568.0h0.8v0.8h-0.8zM104.7,547.7h0.8v0.8h-0.8zM89.3,546.2h0.8v0.8h-0.8zM82.4,543.8h0.8v0.8h-0.8zM107.3,546.2h0.8v0.8h-0.8zM112.7,547.6h0.8v0.8h-0.8zM82.5,573.0h0.8v0.8h-0.8zM110.1,554.8h0.8v0.8h-0.8zM93.9,551.3h0.8v0.8h-0.8zM104.0,563.6h0.8v0.8h-0.8zM84.3,551.7h0.8v0.8h-0.8zM103.3,537.7h0.8v0.8h-0.8zM116.8,537.9h0.8v0.8h-0.8zM115.7,545.4h0.8v0.8h-0.8zM94.9,546.8h0.8v0.8h-0.8zM118.6,543.3h0.8v0.8h-0.8zM87.4,562.3h0.8v0.8h-0.8zM101.5,555.8h0.8v0.8h-0.8zM97.9,556.1h0.8v0.8h-0.8zM107.3,549.9h0.8v0.8h-0.8zM83.5,562.8h0.8v0.8h-0.8zM119.4,548.0h0.8v0.8h-0.8zM114.9,552.2h0.8v0.8h-0.8zM100.8,559.8h0.8v0.8h-0.8zM96.6,547.1h0.8v0.8h-0.8zM89.3,564.2h0.8v0.8h-0.8zM111.8,552.3h0.8v0.8h-0.8zM90.8,543.8h0.8v0.8h-0.8zM111.0,547.7h0.8v0.8h-0.8zM93.1,551.3h0.8v0.8h-0.8zM90.6,543.7h0.8v0.8h-0.8zM111.0,553.2h0.8v0.8h-0.8zM111.5,545.6h0.8v0.8h-0.8zM83.7,549.9h0.8v0.8h-0.8zM102.4,563.9h0.8v0.8h-0.8zM113.0,547.7h0.8v0.8h-0.8zM109.5,554.6h0.8v0.8h-0.8zM103.2,553.1h0.8v0.8h-0.8zM103.0,547.5h0.8v0.8h-0.8zM86.9,554.1h0.8v0.8h-0.8zM111.8,537.0h0.8v0.8h-0.8zM95.7,551.6h0.8v0.8h-0.8zM101.3,549.1h0.8v0.8h-0.8zM110.4,546.0h0.8v0.8h-0.8zM103.6,556.3h0.8v0.8h-0.8zM87.7,565.3h0.8v0.8h-0.8zM111.0,539.2h0.8v0.8h-0.8zM99.0,548.0h0.8v0.8h-0.8zM99.4,558.4h0.8v0.8h-0.8zM81.6,566.1h0.8v0.8h-0.8zM107.0,549.9h0.8v0.8h-0.8zM127.1,538.4h0.8v0.8h-0.8zM84.9,561.5h0.8v0.8h-0.8zM102.1,547.5h0.8v0.8h-0.8zM117.7,535.1h0.8v0.8h-0.8zM120.4,550.2h0.8v0.8h-0.8zM76.1,563.7h0.8v0.8h-0.8zM112.2,555.5h0.8v0.8h-0.8zM120.8,553.1h0.8v0.8h-0.8zM100.9,550.7h0.8v0.8h-0.8zM100.8,556.1h0.8v0.8h-0.8zM88.2,550.1h0.8v0.8h-0.8zM131.6,546.6h0.8v0.8h-0.8zM114.1,545.5h0.8v0.8h-0.8zM90.7,553.6h0.8v0.8h-0.8zM90.9,552.1h0.8v0.8h-0.8zM84.8,563.2h0.8v0.8h-0.8zM107.8,555.1h0.8v0.8h-0.8zM101.0,547.4h0.8v0.8h-0.8zM128.4,547.8h0.8v0.8h-0.8zM110.8,554.5h0.8v0.8h-0.8zM100.1,557.8h0.8v0.8h-0.8zM95.4,561.6h0.8v0.8h-0.8zM115.1,552.5h0.8v0.8h-0.8zM106.9,550.9h0.8v0.8h-0.8zM106.4,555.2h0.8v0.8h-0.8zM98.3,558.4h0.8v0.8h-0.8zM108.1,540.8h0.8v0.8h-0.8zM82.3,562.0h0.8v0.8h-0.8zM95.9,548.8h0.8v0.8h-0.8zM84.4,551.4h0.8v0.8h-0.8zM81.5,557.8h0.8v0.8h-0.8zM79.3,549.3h0.8v0.8h-0.8zM104.0,561.6h0.8v0.8h-0.8zM116.2,545.0h0.8v0.8h-0.8zM105.8,548.7h0.8v0.8h-0.8zM98.5,548.0h0.8v0.8h-0.8zM99.5,545.7h0.8v0.8h-0.8zM92.7,554.6h0.8v0.8h-0.8zM105.8,564.5h0.8v0.8h-0.8zM88.8,549.6h0.8v0.8h-0.8zM110.8,552.3h0.8v0.8h-0.8zM109.6,548.0h0.8v0.8h-0.8zM83.0,557.1h0.8v0.8h-0.8zM86.5,557.7h0.8v0.8h-0.8zM121.9,541.7h0.8v0.8h-0.8zM105.6,558.0h0.8v0.8h-0.8zM87.8,562.9h0.8v0.8h-0.8zM96.1,549.5h0.8v0.8h-0.8zM95.0,547.8h0.8v0.8h-0.8zM112.2,548.5h0.8v0.8h-0.8zM97.4,557.1h0.8v0.8h-0.8zM77.3,542.7h0.8v0.8h-0.8zM116.0,542.2h0.8v0.8h-0.8zM108.5,543.0h0.8v0.8h-0.8zM77.5,554.2h0.8v0.8h-0.8zM113.5,549.8h0.8v0.8h-0.8zM95.8,559.0h0.8v0.8h-0.8zM98.6,554.4h0.8v0.8h-0.8zM83.5,543.6h0.8v0.8h-0.8zM104.3,555.5h0.8v0.8h-0.8zM94.8,565.7h0.8v0.8h-0.8zM109.2,561.0h0.8v0.8h-0.8zM112.5,556.1h0.8v0.8h-0.8zM95.2,544.4h0.8v0.8h-0.8zM131.1,549.1h0.8v0.8h-0.8zM107.7,543.1h0.8v0.8h-0.8zM109.8,541.5h0.8v0.8h-0.8zM110.1,554.9h0.8v0.8h-0.8zM105.3,543.6h0.8v0.8h-0.8zM109.4,550.1h0.8v0.8h-0.8zM111.2,556.8h0.8v0.8h-0.8zM91.8,550.1h0.8v0.8h-0.8zM80.1,571.1h0.8v0.8h-0.8zM95.1,563.5h0.8v0.8h-0.8zM108.9,557.3h0.8v0.8h-0.8zM105.6,553.6h0.8v0.8h-0.8zM99.9,555.8h0.8v0.8h-0.8zM91.5,563.2h0.8v0.8h-0.8zM80.2,557.0h0.8v0.8h-0.8zM97.1,554.4h0.8v0.8h-0.8zM97.8,546.7h0.8v0.8h-0.8zM95.7,535.5h0.8v0.8h-0.8zM92.7,555.0h0.8v0.8h-0.8zM95.4,561.1h0.8v0.8h-0.8zM100.7,555.5h0.8v0.8h-0.8zM90.0,563.0h0.8v0.8h-0.8zM106.5,539.3h0.8v0.8h-0.8zM115.3,538.3h0.8v0.8h-0.8zM89.1,562.5h0.8v0.8h-0.8zM123.6,547.4h0.8v0.8h-0.8zM97.7,548.4h0.8v0.8h-0.8zM92.9,556.7h0.8v0.8h-0.8zM103.1,544.5h0.8v0.8h-0.8zM101.9,536.4h0.8v0.8h-0.8zM101.7,545.4h0.8v0.8h-0.8zM90.9,570.6h0.8v0.8h-0.8zM107.6,547.2h0.8v0.8h-0.8zM91.5,565.6h0.8v0.8h-0.8zM100.4,546.9h0.8v0.8h-0.8zM111.2,551.3h0.8v0.8h-0.8zM84.0,546.2h0.8v0.8h-0.8zM113.9,544.6h0.8v0.8h-0.8zM103.8,533.1h0.8v0.8h-0.8zM99.4,557.5h0.8v0.8h-0.8zM105.0,563.0h0.8v0.8h-0.8zM114.1,553.9h0.8v0.8h-0.8zM108.6,547.3h0.8v0.8h-0.8zM89.6,550.8h0.8v0.8h-0.8zM115.5,544.8h0.8v0.8h-0.8zM76.3,563.3h0.8v0.8h-0.8zM100.7,548.6h0.8v0.8h-0.8zM103.7,544.6h0.8v0.8h-0.8zM131.1,536.7h0.8v0.8h-0.8zM89.6,557.3h0.8v0.8h-0.8zM105.3,556.2h0.8v0.8h-0.8zM105.4,554.7h0.8v0.8h-0.8zM100.7,550.3h0.8v0.8h-0.8zM86.9,552.6h0.8v0.8h-0.8zM97.4,544.8h0.8v0.8h-0.8zM109.9,546.3h0.8v0.8h-0.8zM117.1,551.0h0.8v0.8h-0.8zM104.8,571.6h0.8v0.8h-0.8zM116.5,541.1h0.8v0.8h-0.8zM105.0,546.3h0.8v0.8h-0.8zM90.4,557.3h0.8v0.8h-0.8zM97.4,559.5h0.8v0.8h-0.8zM85.1,560.2h0.8v0.8h-0.8zM117.3,547.2h0.8v0.8h-0.8zM128.6,554.5h0.8v0.8h-0.8zM85.7,555.6h0.8v0.8h-0.8zM98.0,563.7h0.8v0.8h-0.8zM90.2,541.8h0.8v0.8h-0.8zM92.7,553.1h0.8v0.8h-0.8zM98.8,551.7h0.8v0.8h-0.8zM99.5,547.0h0.8v0.8h-0.8zM99.5,549.3h0.8v0.8h-0.8zM95.1,552.3h0.8v0.8h-0.8zM111.6,549.4h0.8v0.8h-0.8zM107.0,544.3h0.8v0.8h-0.8zM80.3,559.0h0.8v0.8h-0.8zM111.0,547.6h0.8v0.8h-0.8zM90.8,545.1h0.8v0.8h-0.8zM102.9,545.4h0.8v0.8h-0.8z" fill="#3a3ad0" opacity="0.45"/>
<path d="M90.1,550.2h0.8v0.8h-0.8zM106.7,550.6h0.8v0.8h-0.8zM89.5,537.5h0.8v0.8h-0.8zM108.0,552.5h0.8v0.8h-0.8zM106.4,546.4h0.8v0.8h-0.8zM92.4,548.8h0.8v0.8h-0.8zM86.4,535.4h0.8v0.8h-0.8zM111.9,548.0h0.8v0.8h-0.8zM97.7,546.0h0.8v0.8h-0.8zM107.4,539.7h0.8v0.8h-0.8zM104.5,544.9h0.8v0.8h-0.8zM93.6,538.2h0.8v0.8h-0.8zM112.5,556.5h0.8v0.8h-0.8zM99.0,541.1h0.8v0.8h-0.8zM117.8,532.8h0.8v0.8h-0.8zM101.8,557.5h0.8v0.8h-0.8zM111.0,545.5h0.8v0.8h-0.8zM88.5,557.7h0.8v0.8h-0.8zM103.7,550.1h0.8v0.8h-0.8zM112.4,553.2h0.8v0.8h-0.8zM114.9,552.2h0.8v0.8h-0.8zM100.8,552.1h0.8v0.8h-0.8zM107.4,537.6h0.8v0.8h-0.8zM91.6,545.6h0.8v0.8h-0.8zM95.2,542.6h0.8v0.8h-0.8zM97.9,540.1h0.8v0.8h-0.8zM104.9,543.5h0.8v0.8h-0.8zM93.4,540.9h0.8v0.8h-0.8zM104.2,538.8h0.8v0.8h-0.8zM97.3,538.2h0.8v0.8h-0.8zM87.5,546.8h0.8v0.8h-0.8zM94.7,545.4h0.8v0.8h-0.8zM100.0,541.1h0.8v0.8h-0.8zM109.0,534.7h0.8v0.8h-0.8zM114.1,541.6h0.8v0.8h-0.8zM123.9,528.8h0.8v0.8h-0.8zM98.9,547.5h0.8v0.8h-0.8zM109.6,538.6h0.8v0.8h-0.8zM110.5,541.3h0.8v0.8h-0.8zM92.2,549.3h0.8v0.8h-0.8zM111.8,542.9h0.8v0.8h-0.8zM100.7,537.4h0.8v0.8h-0.8zM113.4,550.1h0.8v0.8h-0.8zM93.4,551.3h0.8v0.8h-0.8zM89.0,549.8h0.8v0.8h-0.8zM80.6,550.0h0.8v0.8h-0.8zM105.7,531.4h0.8v0.8h-0.8zM92.6,547.8h0.8v0.8h-0.8zM102.3,545.7h0.8v0.8h-0.8zM112.6,530.9h0.8v0.8h-0.8zM101.1,529.4h0.8v0.8h-0.8zM75.7,545.8h0.8v0.8h-0.8zM81.7,554.6h0.8v0.8h-0.8zM112.3,543.5h0.8v0.8h-0.8zM88.0,542.9h0.8v0.8h-0.8zM88.6,546.9h0.8v0.8h-0.8zM97.6,553.3h0.8v0.8h-0.8zM104.2,533.3h0.8v0.8h-0.8zM116.7,539.8h0.8v0.8h-0.8zM111.2,540.4h0.8v0.8h-0.8zM117.5,546.4h0.8v0.8h-0.8zM113.9,549.7h0.8v0.8h-0.8zM109.9,543.1h0.8v0.8h-0.8zM92.4,531.3h0.8v0.8h-0.8zM116.0,543.1h0.8v0.8h-0.8zM96.6,551.9h0.8v0.8h-0.8zM105.6,543.1h0.8v0.8h-0.8zM122.1,543.9h0.8v0.8h-0.8zM92.6,547.8h0.8v0.8h-0.8zM115.3,547.3h0.8v0.8h-0.8zM107.6,538.8h0.8v0.8h-0.8zM102.6,529.3h0.8v0.8h-0.8zM114.8,538.6h0.8v0.8h-0.8zM97.5,540.0h0.8v0.8h-0.8zM103.4,536.9h0.8v0.8h-0.8zM93.2,539.6h0.8v0.8h-0.8zM118.6,536.8h0.8v0.8h-0.8zM109.2,543.7h0.8v0.8h-0.8zM100.6,550.1h0.8v0.8h-0.8zM100.8,538.5h0.8v0.8h-0.8zM94.4,543.5h0.8v0.8h-0.8zM103.1,553.4h0.8v0.8h-0.8zM85.1,558.3h0.8v0.8h-0.8zM120.2,548.7h0.8v0.8h-0.8zM95.9,539.7h0.8v0.8h-0.8zM116.4,543.5h0.8v0.8h-0.8zM104.5,536.3h0.8v0.8h-0.8zM98.7,536.0h0.8v0.8h-0.8zM120.7,544.9h0.8v0.8h-0.8zM102.9,551.3h0.8v0.8h-0.8zM100.4,529.1h0.8v0.8h-0.8zM107.1,536.2h0.8v0.8h-0.8zM105.7,538.9h0.8v0.8h-0.8zM94.7,543.9h0.8v0.8h-0.8zM110.2,531.9h0.8v0.8h-0.8zM92.0,535.9h0.8v0.8h-0.8zM100.8,550.7h0.8v0.8h-0.8zM111.6,544.4h0.8v0.8h-0.8zM112.0,551.6h0.8v0.8h-0.8zM120.8,548.9h0.8v0.8h-0.8zM95.0,541.5h0.8v0.8h-0.8zM112.5,545.4h0.8v0.8h-0.8zM99.1,543.1h0.8v0.8h-0.8zM111.6,539.2h0.8v0.8h-0.8zM98.4,547.5h0.8v0.8h-0.8zM100.6,548.5h0.8v0.8h-0.8zM105.3,540.3h0.8v0.8h-0.8zM98.9,552.4h0.8v0.8h-0.8zM96.8,546.5h0.8v0.8h-0.8zM101.1,544.3h0.8v0.8h-0.8zM103.2,550.7h0.8v0.8h-0.8zM102.4,535.7h0.8v0.8h-0.8zM95.2,551.7h0.8v0.8h-0.8zM105.2,551.8h0.8v0.8h-0.8zM111.1,550.1h0.8v0.8h-0.8zM91.2,545.0h0.8v0.8h-0.8zM111.6,530.8h0.8v0.8h-0.8zM110.0,540.4h0.8v0.8h-0.8zM112.1,537.8h0.8v0.8h-0.8zM99.7,550.7h0.8v0.8h-0.8zM119.7,528.5h0.8v0.8h-0.8zM104.5,536.9h0.8v0.8h-0.8zM109.3,544.5h0.8v0.8h-0.8zM94.5,536.2h0.8v0.8h-0.8zM104.7,543.0h0.8v0.8h-0.8zM111.6,540.0h0.8v0.8h-0.8zM113.8,541.6h0.8v0.8h-0.8zM119.2,545.3h0.8v0.8h-0.8zM92.0,545.5h0.8v0.8h-0.8zM107.4,540.1h0.8v0.8h-0.8zM111.3,553.1h0.8v0.8h-0.8zM95.3,541.2h0.8v0.8h-0.8zM99.3,552.8h0.8v0.8h-0.8zM121.4,530.5h0.8v0.8h-0.8zM121.1,526.6h0.8v0.8h-0.8zM105.8,543.7h0.8v0.8h-0.8zM105.5,537.5h0.8v0.8h-0.8zM94.2,545.4h0.8v0.8h-0.8zM112.6,538.5h0.8v0.8h-0.8zM109.0,545.0h0.8v0.8h-0.8zM114.3,531.5h0.8v0.8h-0.8zM122.6,551.0h0.8v0.8h-0.8zM97.3,554.1h0.8v0.8h-0.8zM86.8,543.5h0.8v0.8h-0.8zM102.0,543.9h0.8v0.8h-0.8zM86.9,544.1h0.8v0.8h-0.8zM93.0,554.4h0.8v0.8h-0.8zM97.2,547.8h0.8v0.8h-0.8zM101.5,548.1h0.8v0.8h-0.8zM82.6,550.7h0.8v0.8h-0.8zM89.6,541.4h0.8v0.8h-0.8zM109.6,547.4h0.8v0.8h-0.8zM95.6,542.5h0.8v0.8h-0.8zM121.3,537.5h0.8v0.8h-0.8zM115.1,546.9h0.8v0.8h-0.8zM110.7,539.8h0.8v0.8h-0.8zM105.2,549.2h0.8v0.8h-0.8zM79.4,546.5h0.8v0.8h-0.8zM109.3,545.5h0.8v0.8h-0.8zM108.2,537.8h0.8v0.8h-0.8z" fill="#3a3ad0" opacity="0.45"/>
<ellipse cx="102.50" cy="551.50" rx="19.50" ry="9.50" transform="rotate(-22 102.50 551.50)" fill="none" stroke="#2828d0" stroke-width="0.6" opacity="0.9"/>
<ellipse cx="102.30" cy="551.70" rx="18.39" ry="8.96" transform="rotate(-22 102.30 551.70)" fill="none" stroke="#2828d0" stroke-width="0.6" opacity="0.9"/>
<ellipse cx="102.10" cy="551.90" rx="17.27" ry="8.41" transform="rotate(-22 102.10 551.90)" fill="none" stroke="#2828d0" stroke-width="0.6" opacity="0.9"/>
<ellipse cx="101.90" cy="552.10" rx="16.16" ry="7.87" transform="rotate(-22 101.90 552.10)" fill="none" stroke="#2828d0" stroke-width="0.6" opacity="0.9"/>
<ellipse cx="101.70" cy="552.30" rx="15.04" ry="7.33" transform="rotate(-22 101.70 552.30)" fill="none" stroke="#2828d0" stroke-width="0.6" opacity="0.9"/>
<ellipse cx="101.50" cy="552.50" rx="13.93" ry="6.79" transform="rotate(-22 101.50 552.50)" fill="none" stroke="#2828d0" stroke-width="0.6" opacity="0.9"/>
<ellipse cx="101.30" cy="552.70" rx="12.81" ry="6.24" transform="rotate(-22 101.30 552.70)" fill="none" stroke="#2828d0" stroke-width="0.6" opacity="0.9"/>
<ellipse cx="101.10" cy="552.90" rx="11.70" ry="5.70" transform="rotate(-22 101.10 552.90)" fill="none" stroke="#2828d0" stroke-width="0.6" opacity="0.9"/>
<ellipse cx="100.50" cy="555.50" rx="13.00" ry="5.60" transform="rotate(-20 100.50 555.50)" fill="#1e1ed6" stroke="none" stroke-width="0.5" opacity="1"/>
<ellipse cx="100.80" cy="555.20" rx="11.00" ry="4.60" transform="rotate(-20 100.80 555.20)" fill="#10c8f0" stroke="none" stroke-width="0.5" opacity="1"/>
<ellipse cx="101.50" cy="554.80" rx="9.50" ry="3.90" transform="rotate(-20 101.50 554.80)" fill="#28c428" stroke="none" stroke-width="0.5" opacity="1"/>
<ellipse cx="102.20" cy="554.50" rx="7.50" ry="2.90" transform="rotate(-20 102.20 554.50)" fill="#f0f010" stroke="none" stroke-width="0.5" opacity="1"/>
<ellipse cx="99.20" cy="555.00" rx="3.90" ry="2.60" transform="rotate(-20 99.20 555.00)" fill="#ff8a10" stroke="none" stroke-width="0.5" opacity="1"/>
<ellipse cx="97.80" cy="555.00" rx="2.90" ry="2.20" transform="rotate(-20 97.80 555.00)" fill="#ff1010" stroke="none" stroke-width="0.5" opacity="1"/>
<ellipse cx="97.40" cy="555.00" rx="0.90" ry="0.60" transform="rotate(-20 97.40 555.00)" fill="#fff0f0" stroke="none" stroke-width="0.5" opacity="1"/>
<line x1="74.50" y1="517.00" x2="74.50" y2="575.10" stroke="#34428a" stroke-width="1.3"/>
<line x1="74.00" y1="574.60" x2="135.40" y2="574.60" stroke="#34428a" stroke-width="1.3"/>
<line x1="101.90" y1="517.00" x2="101.90" y2="574.60" stroke="#5a5a5a" stroke-width="0.8"/>
<line x1="74.50" y1="547.80" x2="135.40" y2="547.80" stroke="#5a5a5a" stroke-width="0.8"/>
<text x="58.54" y="521.00" font-size="8.51" textLength="8.85" lengthAdjust="spacingAndGlyphs" fill="#5450aa" stroke="#5450aa" stroke-width="0.3">10</text>
<text x="67.49" y="517.10" font-size="5.95" fill="#5450aa" stroke="#5450aa" stroke-width="0.22">4</text>
<text x="58.54" y="540.60" font-size="8.51" textLength="8.85" lengthAdjust="spacingAndGlyphs" fill="#5450aa" stroke="#5450aa" stroke-width="0.3">10</text>
<text x="67.49" y="536.70" font-size="5.95" fill="#5450aa" stroke="#5450aa" stroke-width="0.22">3</text>
<text x="58.54" y="559.40" font-size="8.51" textLength="8.85" lengthAdjust="spacingAndGlyphs" fill="#5450aa" stroke="#5450aa" stroke-width="0.3">10</text>
<text x="67.49" y="555.50" font-size="5.95" fill="#5450aa" stroke="#5450aa" stroke-width="0.22">2</text>
<text x="58.54" y="575.80" font-size="8.51" textLength="8.85" lengthAdjust="spacingAndGlyphs" fill="#5450aa" stroke="#5450aa" stroke-width="0.3">10</text>
<text x="67.49" y="571.90" font-size="5.95" fill="#5450aa" stroke="#5450aa" stroke-width="0.22">1</text>
<text x="72.07" y="586.80" font-size="8.51" textLength="8.85" lengthAdjust="spacingAndGlyphs" fill="#5450aa" stroke="#5450aa" stroke-width="0.3">10</text>
<text x="81.02" y="582.90" font-size="5.95" fill="#5450aa" stroke="#5450aa" stroke-width="0.22">1</text>
<text x="89.87" y="586.80" font-size="8.51" textLength="8.85" lengthAdjust="spacingAndGlyphs" fill="#5450aa" stroke="#5450aa" stroke-width="0.3">10</text>
<text x="98.82" y="582.90" font-size="5.95" fill="#5450aa" stroke="#5450aa" stroke-width="0.22">2</text>
<text x="109.57" y="586.80" font-size="8.51" textLength="8.85" lengthAdjust="spacingAndGlyphs" fill="#5450aa" stroke="#5450aa" stroke-width="0.3">10</text>
<text x="118.52" y="582.90" font-size="5.95" fill="#5450aa" stroke="#5450aa" stroke-width="0.22">3</text>
<text x="129.77" y="586.80" font-size="8.51" textLength="8.85" lengthAdjust="spacingAndGlyphs" fill="#5450aa" stroke="#5450aa" stroke-width="0.3">10</text>
<text x="138.72" y="582.90" font-size="5.95" fill="#5450aa" stroke="#5450aa" stroke-width="0.22">4</text>
<text x="75.10" y="524.90" font-size="8.2" font-weight="bold" textLength="21.5" lengthAdjust="spacingAndGlyphs" fill="#111" stroke="#111" stroke-width="0.3">0.56%</text>
<text x="112.90" y="524.90" font-size="8.2" font-weight="bold" textLength="22.1" lengthAdjust="spacingAndGlyphs" fill="#111" stroke="#111" stroke-width="0.3">2.63%</text>
<text x="75.10" y="573.10" font-size="8.2" font-weight="bold" textLength="26.2" lengthAdjust="spacingAndGlyphs" fill="#111" stroke="#111" stroke-width="0.3">63.01%</text>
<text x="109.00" y="573.10" font-size="8.2" font-weight="bold" textLength="25.6" lengthAdjust="spacingAndGlyphs" fill="#111" stroke="#111" stroke-width="0.3">33.80%</text>
<path d="M203.3,548.9h0.8v0.8h-0.8zM200.5,554.3h0.8v0.8h-0.8zM188.8,549.2h0.8v0.8h-0.8zM202.9,546.7h0.8v0.8h-0.8zM207.0,547.1h0.8v0.8h-0.8zM170.9,550.3h0.8v0.8h-0.8zM181.4,541.7h0.8v0.8h-0.8zM195.3,550.3h0.8v0.8h-0.8zM207.2,542.0h0.8v0.8h-0.8zM195.3,557.0h0.8v0.8h-0.8zM204.3,541.8h0.8v0.8h-0.8zM215.3,541.2h0.8v0.8h-0.8zM211.8,544.9h0.8v0.8h-0.8zM188.8,545.1h0.8v0.8h-0.8zM200.8,569.2h0.8v0.8h-0.8zM192.2,565.4h0.8v0.8h-0.8zM213.3,543.7h0.8v0.8h-0.8zM214.6,557.0h0.8v0.8h-0.8zM191.9,549.6h0.8v0.8h-0.8zM212.3,549.8h0.8v0.8h-0.8zM225.6,546.1h0.8v0.8h-0.8zM182.0,556.5h0.8v0.8h-0.8zM183.4,562.3h0.8v0.8h-0.8zM205.2,546.2h0.8v0.8h-0.8zM187.6,562.0h0.8v0.8h-0.8zM194.9,562.1h0.8v0.8h-0.8zM183.7,554.2h0.8v0.8h-0.8zM187.6,547.1h0.8v0.8h-0.8zM190.7,560.2h0.8v0.8h-0.8zM176.5,568.4h0.8v0.8h-0.8zM210.4,545.0h0.8v0.8h-0.8zM193.0,555.2h0.8v0.8h-0.8zM202.2,547.6h0.8v0.8h-0.8zM185.5,553.8h0.8v0.8h-0.8zM193.3,559.3h0.8v0.8h-0.8zM198.8,553.3h0.8v0.8h-0.8zM174.7,556.4h0.8v0.8h-0.8zM190.8,550.1h0.8v0.8h-0.8zM194.9,550.4h0.8v0.8h-0.8zM179.5,565.0h0.8v0.8h-0.8zM207.9,544.6h0.8v0.8h-0.8zM203.2,542.9h0.8v0.8h-0.8zM180.4,555.9h0.8v0.8h-0.8zM217.2,544.8h0.8v0.8h-0.8zM177.9,560.2h0.8v0.8h-0.8zM188.2,549.5h0.8v0.8h-0.8zM198.0,538.4h0.8v0.8h-0.8zM211.8,548.2h0.8v0.8h-0.8zM188.0,549.9h0.8v0.8h-0.8zM208.9,558.1h0.8v0.8h-0.8zM188.7,557.0h0.8v0.8h-0.8zM229.7,546.4h0.8v0.8h-0.8zM194.2,555.9h0.8v0.8h-0.8zM200.6,556.3h0.8v0.8h-0.8zM201.2,547.2h0.8v0.8h-0.8zM197.0,555.3h0.8v0.8h-0.8zM189.0,555.5h0.8v0.8h-0.8zM188.7,564.7h0.8v0.8h-0.8zM216.0,539.5h0.8v0.8h-0.8zM209.2,549.7h0.8v0.8h-0.8zM198.4,550.0h0.8v0.8h-0.8zM203.6,558.0h0.8v0.8h-0.8zM184.2,564.4h0.8v0.8h-0.8zM191.9,545.6h0.8v0.8h-0.8zM198.6,556.8h0.8v0.8h-0.8zM197.3,554.6h0.8v0.8h-0.8zM192.2,549.8h0.8v0.8h-0.8zM208.7,541.4h0.8v0.8h-0.8zM211.5,550.3h0.8v0.8h-0.8zM193.7,551.8h0.8v0.8h-0.8zM194.0,553.1h0.8v0.8h-0.8zM196.9,551.4h0.8v0.8h-0.8zM200.8,546.3h0.8v0.8h-0.8zM190.1,553.4h0.8v0.8h-0.8zM187.1,567.5h0.8v0.8h-0.8zM197.4,551.0h0.8v0.8h-0.8zM186.2,562.7h0.8v0.8h-0.8zM210.5,559.4h0.8v0.8h-0.8zM207.5,542.8h0.8v0.8h-0.8zM184.7,566.9h0.8v0.8h-0.8zM188.9,554.2h0.8v0.8h-0.8zM197.0,556.3h0.8v0.8h-0.8zM202.6,542.7h0.8v0.8h-0.8zM185.7,542.8h0.8v0.8h-0.8zM204.7,548.7h0.8v0.8h-0.8zM178.6,566.4h0.8v0.8h-0.8zM195.8,545.1h0.8v0.8h-0.8zM191.3,549.8h0.8v0.8h-0.8zM199.7,553.1h0.8v0.8h-0.8zM191.5,557.5h0.8v0.8h-0.8zM208.3,556.0h0.8v0.8h-0.8zM205.8,541.7h0.8v0.8h-0.8zM175.6,556.8h0.8v0.8h-0.8zM227.6,544.5h0.8v0.8h-0.8zM184.7,543.7h0.8v0.8h-0.8zM198.7,548.5h0.8v0.8h-0.8zM204.6,551.4h0.8v0.8h-0.8zM206.5,544.8h0.8v0.8h-0.8zM180.0,549.1h0.8v0.8h-0.8zM185.7,572.6h0.8v0.8h-0.8zM214.4,542.1h0.8v0.8h-0.8zM212.8,539.2h0.8v0.8h-0.8zM189.2,549.2h0.8v0.8h-0.8zM196.8,557.4h0.8v0.8h-0.8zM225.1,548.8h0.8v0.8h-0.8zM196.6,553.7h0.8v0.8h-0.8zM195.6,555.6h0.8v0.8h-0.8zM187.2,557.4h0.8v0.8h-0.8zM205.5,556.7h0.8v0.8h-0.8zM188.1,558.4h0.8v0.8h-0.8zM199.4,545.4h0.8v0.8h-0.8zM171.4,556.5h0.8v0.8h-0.8zM208.1,546.6h0.8v0.8h-0.8zM227.7,546.6h0.8v0.8h-0.8zM188.2,554.4h0.8v0.8h-0.8zM204.5,553.5h0.8v0.8h-0.8zM195.6,556.2h0.8v0.8h-0.8zM198.6,548.2h0.8v0.8h-0.8zM175.4,560.6h0.8v0.8h-0.8zM192.3,553.4h0.8v0.8h-0.8zM192.3,559.6h0.8v0.8h-0.8zM209.6,542.9h0.8v0.8h-0.8zM180.9,559.9h0.8v0.8h-0.8zM215.9,549.2h0.8v0.8h-0.8zM200.6,540.6h0.8v0.8h-0.8zM191.9,558.3h0.8v0.8h-0.8zM202.2,550.5h0.8v0.8h-0.8zM206.6,555.5h0.8v0.8h-0.8zM197.0,546.9h0.8v0.8h-0.8zM180.2,559.3h0.8v0.8h-0.8zM194.9,551.6h0.8v0.8h-0.8zM210.0,543.1h0.8v0.8h-0.8zM195.5,557.6h0.8v0.8h-0.8zM181.6,541.1h0.8v0.8h-0.8zM192.4,559.8h0.8v0.8h-0.8zM189.3,552.9h0.8v0.8h-0.8zM176.8,567.7h0.8v0.8h-0.8zM174.0,554.7h0.8v0.8h-0.8zM199.5,566.0h0.8v0.8h-0.8zM197.3,546.8h0.8v0.8h-0.8zM178.0,556.1h0.8v0.8h-0.8zM180.6,552.9h0.8v0.8h-0.8zM200.7,560.1h0.8v0.8h-0.8zM186.6,565.8h0.8v0.8h-0.8zM188.5,552.2h0.8v0.8h-0.8zM192.0,555.6h0.8v0.8h-0.8zM196.0,550.1h0.8v0.8h-0.8zM187.5,551.2h0.8v0.8h-0.8zM197.0,548.2h0.8v0.8h-0.8zM185.6,545.1h0.8v0.8h-0.8zM198.8,555.3h0.8v0.8h-0.8zM186.8,563.0h0.8v0.8h-0.8zM197.2,552.9h0.8v0.8h-0.8zM177.4,563.2h0.8v0.8h-0.8zM217.4,560.0h0.8v0.8h-0.8zM189.6,554.2h0.8v0.8h-0.8zM207.9,552.6h0.8v0.8h-0.8zM189.6,555.1h0.8v0.8h-0.8zM210.9,551.9h0.8v0.8h-0.8zM199.0,559.3h0.8v0.8h-0.8zM179.8,561.0h0.8v0.8h-0.8zM188.4,552.3h0.8v0.8h-0.8zM211.3,560.5h0.8v0.8h-0.8zM203.4,551.1h0.8v0.8h-0.8zM219.7,550.5h0.8v0.8h-0.8zM187.8,550.3h0.8v0.8h-0.8zM180.3,562.5h0.8v0.8h-0.8zM203.5,563.1h0.8v0.8h-0.8zM194.3,554.1h0.8v0.8h-0.8zM190.5,562.0h0.8v0.8h-0.8zM217.0,558.2h0.8v0.8h-0.8zM209.1,544.1h0.8v0.8h-0.8zM210.8,541.2h0.8v0.8h-0.8zM189.7,553.4h0.8v0.8h-0.8zM222.1,539.0h0.8v0.8h-0.8zM186.0,557.7h0.8v0.8h-0.8zM213.7,551.1h0.8v0.8h-0.8zM202.8,544.3h0.8v0.8h-0.8zM195.8,562.2h0.8v0.8h-0.8zM197.8,547.4h0.8v0.8h-0.8zM196.5,562.5h0.8v0.8h-0.8zM220.0,548.0h0.8v0.8h-0.8zM191.4,566.6h0.8v0.8h-0.8zM190.2,555.4h0.8v0.8h-0.8zM203.1,550.4h0.8v0.8h-0.8zM199.3,563.6h0.8v0.8h-0.8zM198.8,541.4h0.8v0.8h-0.8zM193.6,563.3h0.8v0.8h-0.8zM193.6,546.1h0.8v0.8h-0.8zM210.3,551.7h0.8v0.8h-0.8zM199.8,555.8h0.8v0.8h-0.8zM193.8,554.9h0.8v0.8h-0.8zM204.0,546.2h0.8v0.8h-0.8zM211.1,540.2h0.8v0.8h-0.8zM223.7,544.4h0.8v0.8h-0.8zM200.0,542.6h0.8v0.8h-0.8zM205.9,543.5h0.8v0.8h-0.8zM204.2,550.3h0.8v0.8h-0.8zM191.9,567.2h0.8v0.8h-0.8zM199.0,548.1h0.8v0.8h-0.8zM194.3,555.8h0.8v0.8h-0.8zM200.6,557.6h0.8v0.8h-0.8zM191.6,555.9h0.8v0.8h-0.8zM190.6,549.5h0.8v0.8h-0.8zM206.3,543.6h0.8v0.8h-0.8zM179.5,563.0h0.8v0.8h-0.8zM193.0,558.0h0.8v0.8h-0.8zM205.7,553.5h0.8v0.8h-0.8zM202.5,562.2h0.8v0.8h-0.8zM187.8,564.1h0.8v0.8h-0.8zM197.1,554.7h0.8v0.8h-0.8zM194.9,559.6h0.8v0.8h-0.8zM203.2,547.4h0.8v0.8h-0.8zM199.9,555.2h0.8v0.8h-0.8zM201.9,569.1h0.8v0.8h-0.8zM204.4,547.4h0.8v0.8h-0.8zM211.3,550.0h0.8v0.8h-0.8zM191.3,552.0h0.8v0.8h-0.8zM180.4,563.6h0.8v0.8h-0.8zM216.7,545.7h0.8v0.8h-0.8zM184.9,544.1h0.8v0.8h-0.8zM183.4,557.1h0.8v0.8h-0.8zM190.2,553.7h0.8v0.8h-0.8zM187.7,554.5h0.8v0.8h-0.8zM196.0,554.3h0.8v0.8h-0.8zM199.9,553.1h0.8v0.8h-0.8zM187.8,553.6h0.8v0.8h-0.8zM182.4,553.8h0.8v0.8h-0.8zM198.8,555.2h0.8v0.8h-0.8zM179.9,551.3h0.8v0.8h-0.8zM189.2,546.4h0.8v0.8h-0.8zM194.4,552.1h0.8v0.8h-0.8zM192.9,565.7h0.8v0.8h-0.8zM193.6,555.5h0.8v0.8h-0.8zM178.4,564.7h0.8v0.8h-0.8zM202.5,552.3h0.8v0.8h-0.8zM172.0,560.3h0.8v0.8h-0.8zM190.8,557.5h0.8v0.8h-0.8zM196.7,548.9h0.8v0.8h-0.8zM195.1,562.2h0.8v0.8h-0.8zM207.9,536.6h0.8v0.8h-0.8zM194.1,558.1h0.8v0.8h-0.8zM193.7,555.9h0.8v0.8h-0.8zM197.7,564.2h0.8v0.8h-0.8zM206.5,548.1h0.8v0.8h-0.8zM216.8,550.9h0.8v0.8h-0.8zM217.7,542.5h0.8v0.8h-0.8zM181.4,563.4h0.8v0.8h-0.8zM194.8,540.6h0.8v0.8h-0.8zM197.2,546.7h0.8v0.8h-0.8zM192.5,554.8h0.8v0.8h-0.8zM183.7,565.9h0.8v0.8h-0.8zM182.2,557.6h0.8v0.8h-0.8zM197.0,548.9h0.8v0.8h-0.8zM190.4,560.9h0.8v0.8h-0.8zM178.4,558.5h0.8v0.8h-0.8zM216.0,540.7h0.8v0.8h-0.8zM178.1,555.0h0.8v0.8h-0.8zM181.7,551.3h0.8v0.8h-0.8zM188.1,559.5h0.8v0.8h-0.8zM196.0,545.3h0.8v0.8h-0.8zM211.4,540.6h0.8v0.8h-0.8zM214.7,543.1h0.8v0.8h-0.8zM185.4,552.8h0.8v0.8h-0.8zM215.4,547.2h0.8v0.8h-0.8zM193.7,541.3h0.8v0.8h-0.8zM196.6,550.1h0.8v0.8h-0.8zM191.4,548.4h0.8v0.8h-0.8zM180.8,566.8h0.8v0.8h-0.8zM186.9,559.9h0.8v0.8h-0.8zM204.9,550.9h0.8v0.8h-0.8zM200.6,555.8h0.8v0.8h-0.8zM193.1,552.9h0.8v0.8h-0.8zM201.9,552.1h0.8v0.8h-0.8zM187.9,535.5h0.8v0.8h-0.8zM194.4,544.0h0.8v0.8h-0.8zM214.5,555.7h0.8v0.8h-0.8zM201.0,552.8h0.8v0.8h-0.8zM172.1,559.0h0.8v0.8h-0.8zM191.8,567.3h0.8v0.8h-0.8zM186.0,572.2h0.8v0.8h-0.8zM190.9,539.3h0.8v0.8h-0.8zM219.3,543.4h0.8v0.8h-0.8zM204.4,558.0h0.8v0.8h-0.8zM177.0,555.2h0.8v0.8h-0.8zM201.9,560.0h0.8v0.8h-0.8zM196.7,556.7h0.8v0.8h-0.8zM177.0,562.6h0.8v0.8h-0.8zM185.4,553.5h0.8v0.8h-0.8zM200.8,557.6h0.8v0.8h-0.8zM190.1,557.7h0.8v0.8h-0.8zM195.1,557.5h0.8v0.8h-0.8zM195.1,563.2h0.8v0.8h-0.8zM182.6,549.4h0.8v0.8h-0.8zM211.8,542.2h0.8v0.8h-0.8zM207.2,554.1h0.8v0.8h-0.8zM176.2,556.9h0.8v0.8h-0.8zM191.5,553.2h0.8v0.8h-0.8zM179.6,559.3h0.8v0.8h-0.8zM197.7,544.0h0.8v0.8h-0.8zM198.3,553.5h0.8v0.8h-0.8zM176.3,558.5h0.8v0.8h-0.8zM210.2,553.4h0.8v0.8h-0.8zM182.4,551.3h0.8v0.8h-0.8zM198.6,554.7h0.8v0.8h-0.8zM207.7,549.4h0.8v0.8h-0.8zM205.9,544.5h0.8v0.8h-0.8zM219.7,543.5h0.8v0.8h-0.8zM184.3,552.1h0.8v0.8h-0.8zM173.5,554.2h0.8v0.8h-0.8zM194.4,556.5h0.8v0.8h-0.8zM209.2,541.9h0.8v0.8h-0.8zM189.5,559.6h0.8v0.8h-0.8zM211.5,552.9h0.8v0.8h-0.8zM197.8,543.3h0.8v0.8h-0.8zM187.1,543.8h0.8v0.8h-0.8zM191.1,563.1h0.8v0.8h-0.8zM215.7,543.9h0.8v0.8h-0.8zM207.4,558.5h0.8v0.8h-0.8zM180.9,547.2h0.8v0.8h-0.8zM184.3,540.6h0.8v0.8h-0.8zM205.2,548.6h0.8v0.8h-0.8zM193.3,553.5h0.8v0.8h-0.8zM202.8,549.8h0.8v0.8h-0.8zM183.0,561.1h0.8v0.8h-0.8zM190.7,556.0h0.8v0.8h-0.8zM188.2,554.8h0.8v0.8h-0.8zM177.7,559.0h0.8v0.8h-0.8zM195.2,560.2h0.8v0.8h-0.8zM184.7,549.3h0.8v0.8h-0.8zM200.9,536.0h0.8v0.8h-0.8zM204.0,548.8h0.8v0.8h-0.8zM191.0,554.4h0.8v0.8h-0.8zM191.0,546.9h0.8v0.8h-0.8zM203.3,543.1h0.8v0.8h-0.8zM197.4,550.1h0.8v0.8h-0.8zM185.9,550.7h0.8v0.8h-0.8zM199.0,548.4h0.8v0.8h-0.8zM214.7,552.2h0.8v0.8h-0.8zM193.0,560.3h0.8v0.8h-0.8zM170.9,572.6h0.8v0.8h-0.8zM177.5,548.6h0.8v0.8h-0.8zM206.4,536.6h0.8v0.8h-0.8zM187.9,556.9h0.8v0.8h-0.8zM205.8,543.5h0.8v0.8h-0.8zM212.4,540.1h0.8v0.8h-0.8zM214.7,548.9h0.8v0.8h-0.8zM197.4,549.8h0.8v0.8h-0.8zM186.4,562.8h0.8v0.8h-0.8zM181.7,556.6h0.8v0.8h-0.8zM206.0,552.1h0.8v0.8h-0.8zM203.3,544.9h0.8v0.8h-0.8zM181.0,558.5h0.8v0.8h-0.8zM196.6,559.6h0.8v0.8h-0.8zM171.9,559.6h0.8v0.8h-0.8zM200.1,547.2h0.8v0.8h-0.8zM176.3,558.5h0.8v0.8h-0.8zM207.5,543.1h0.8v0.8h-0.8zM182.6,548.9h0.8v0.8h-0.8zM180.1,544.0h0.8v0.8h-0.8zM213.3,554.9h0.8v0.8h-0.8zM190.5,558.0h0.8v0.8h-0.8zM221.8,553.4h0.8v0.8h-0.8zM207.3,543.1h0.8v0.8h-0.8zM188.6,554.8h0.8v0.8h-0.8zM214.1,541.0h0.8v0.8h-0.8zM207.5,556.9h0.8v0.8h-0.8zM206.6,548.7h0.8v0.8h-0.8zM190.3,559.2h0.8v0.8h-0.8zM193.5,555.8h0.8v0.8h-0.8zM189.4,550.5h0.8v0.8h-0.8zM188.9,547.1h0.8v0.8h-0.8zM205.3,539.1h0.8v0.8h-0.8zM200.5,547.5h0.8v0.8h-0.8zM199.3,539.0h0.8v0.8h-0.8zM197.0,552.3h0.8v0.8h-0.8zM216.4,553.1h0.8v0.8h-0.8zM201.4,550.0h0.8v0.8h-0.8zM199.7,558.6h0.8v0.8h-0.8zM214.4,550.7h0.8v0.8h-0.8zM208.7,537.2h0.8v0.8h-0.8zM213.1,561.4h0.8v0.8h-0.8zM197.4,547.7h0.8v0.8h-0.8zM210.3,534.1h0.8v0.8h-0.8zM209.5,539.5h0.8v0.8h-0.8zM200.8,542.5h0.8v0.8h-0.8zM215.8,546.5h0.8v0.8h-0.8zM190.0,554.3h0.8v0.8h-0.8zM217.5,556.7h0.8v0.8h-0.8zM199.9,549.7h0.8v0.8h-0.8zM216.4,547.0h0.8v0.8h-0.8zM194.8,567.1h0.8v0.8h-0.8zM178.8,560.6h0.8v0.8h-0.8zM218.6,548.7h0.8v0.8h-0.8zM203.3,557.4h0.8v0.8h-0.8zM186.3,556.1h0.8v0.8h-0.8zM199.9,559.1h0.8v0.8h-0.8zM204.3,551.0h0.8v0.8h-0.8zM216.7,556.1h0.8v0.8h-0.8zM202.3,547.7h0.8v0.8h-0.8zM214.5,529.3h0.8v0.8h-0.8zM184.6,559.0h0.8v0.8h-0.8zM188.2,547.3h0.8v0.8h-0.8zM198.9,563.3h0.8v0.8h-0.8zM201.4,557.7h0.8v0.8h-0.8zM208.1,549.3h0.8v0.8h-0.8zM198.2,547.8h0.8v0.8h-0.8zM203.6,556.7h0.8v0.8h-0.8zM196.8,552.9h0.8v0.8h-0.8zM205.3,551.0h0.8v0.8h-0.8zM199.1,539.0h0.8v0.8h-0.8zM200.5,540.2h0.8v0.8h-0.8zM206.5,548.8h0.8v0.8h-0.8zM191.2,546.1h0.8v0.8h-0.8zM209.4,546.0h0.8v0.8h-0.8zM189.8,541.8h0.8v0.8h-0.8zM216.7,542.8h0.8v0.8h-0.8zM191.4,563.2h0.8v0.8h-0.8zM200.6,534.2h0.8v0.8h-0.8zM200.9,562.6h0.8v0.8h-0.8zM194.5,548.6h0.8v0.8h-0.8zM210.5,554.0h0.8v0.8h-0.8zM186.9,551.5h0.8v0.8h-0.8zM191.0,551.1h0.8v0.8h-0.8zM182.1,552.8h0.8v0.8h-0.8zM203.6,539.6h0.8v0.8h-0.8zM212.2,551.6h0.8v0.8h-0.8zM209.5,554.4h0.8v0.8h-0.8zM185.6,545.4h0.8v0.8h-0.8zM212.4,547.5h0.8v0.8h-0.8zM206.0,556.9h0.8v0.8h-0.8zM182.8,557.0h0.8v0.8h-0.8zM196.1,546.1h0.8v0.8h-0.8zM188.0,555.7h0.8v0.8h-0.8zM205.5,559.1h0.8v0.8h-0.8zM212.3,558.1h0.8v0.8h-0.8zM193.5,555.7h0.8v0.8h-0.8zM197.2,550.5h0.8v0.8h-0.8zM195.0,563.0h0.8v0.8h-0.8zM216.5,546.8h0.8v0.8h-0.8zM191.9,566.5h0.8v0.8h-0.8zM211.1,546.4h0.8v0.8h-0.8zM207.9,551.6h0.8v0.8h-0.8zM197.0,551.9h0.8v0.8h-0.8zM185.0,549.3h0.8v0.8h-0.8zM194.2,545.8h0.8v0.8h-0.8zM202.2,548.9h0.8v0.8h-0.8zM188.8,557.8h0.8v0.8h-0.8zM188.4,552.9h0.8v0.8h-0.8zM188.3,560.1h0.8v0.8h-0.8zM199.4,550.4h0.8v0.8h-0.8zM196.7,556.2h0.8v0.8h-0.8zM188.7,542.3h0.8v0.8h-0.8zM218.9,546.2h0.8v0.8h-0.8zM205.5,543.7h0.8v0.8h-0.8zM176.7,551.2h0.8v0.8h-0.8zM204.2,547.3h0.8v0.8h-0.8zM194.8,549.8h0.8v0.8h-0.8zM182.7,568.8h0.8v0.8h-0.8zM184.5,549.5h0.8v0.8h-0.8zM184.9,558.6h0.8v0.8h-0.8zM213.1,548.6h0.8v0.8h-0.8zM202.4,548.9h0.8v0.8h-0.8zM214.6,548.5h0.8v0.8h-0.8zM200.7,543.8h0.8v0.8h-0.8zM213.9,551.8h0.8v0.8h-0.8zM190.7,549.6h0.8v0.8h-0.8zM200.5,542.4h0.8v0.8h-0.8zM197.5,546.6h0.8v0.8h-0.8zM187.6,563.3h0.8v0.8h-0.8zM181.6,544.6h0.8v0.8h-0.8zM214.3,542.3h0.8v0.8h-0.8zM211.0,548.0h0.8v0.8h-0.8zM182.9,545.5h0.8v0.8h-0.8zM196.0,554.7h0.8v0.8h-0.8zM189.2,552.2h0.8v0.8h-0.8zM187.9,554.4h0.8v0.8h-0.8zM198.8,550.1h0.8v0.8h-0.8zM171.7,554.8h0.8v0.8h-0.8zM191.7,550.5h0.8v0.8h-0.8zM173.7,555.5h0.8v0.8h-0.8zM175.3,547.3h0.8v0.8h-0.8zM199.9,544.4h0.8v0.8h-0.8zM212.8,554.8h0.8v0.8h-0.8zM174.8,560.8h0.8v0.8h-0.8z" fill="#3a3ad0" opacity="0.45"/>
<path d="M186.5,547.5h0.8v0.8h-0.8zM212.4,546.2h0.8v0.8h-0.8zM209.2,527.6h0.8v0.8h-0.8zM199.6,529.4h0.8v0.8h-0.8zM205.6,544.2h0.8v0.8h-0.8zM199.9,545.9h0.8v0.8h-0.8zM191.2,538.9h0.8v0.8h-0.8zM185.7,531.0h0.8v0.8h-0.8zM200.8,539.7h0.8v0.8h-0.8zM188.7,537.0h0.8v0.8h-0.8zM186.9,548.4h0.8v0.8h-0.8zM204.4,535.1h0.8v0.8h-0.8zM195.5,538.0h0.8v0.8h-0.8zM192.2,544.6h0.8v0.8h-0.8zM205.4,524.1h0.8v0.8h-0.8zM206.5,531.9h0.8v0.8h-0.8zM194.0,531.4h0.8v0.8h-0.8zM194.7,540.4h0.8v0.8h-0.8zM201.6,557.6h0.8v0.8h-0.8zM195.5,539.2h0.8v0.8h-0.8zM197.6,543.7h0.8v0.8h-0.8zM207.9,542.9h0.8v0.8h-0.8zM199.9,541.4h0.8v0.8h-0.8zM177.9,546.4h0.8v0.8h-0.8zM190.9,544.1h0.8v0.8h-0.8zM195.4,545.1h0.8v0.8h-0.8zM198.1,544.7h0.8v0.8h-0.8zM182.4,551.7h0.8v0.8h-0.8zM189.6,553.9h0.8v0.8h-0.8zM186.3,543.7h0.8v0.8h-0.8zM190.6,543.3h0.8v0.8h-0.8zM208.1,531.4h0.8v0.8h-0.8zM204.5,544.6h0.8v0.8h-0.8zM191.7,548.1h0.8v0.8h-0.8zM195.6,545.2h0.8v0.8h-0.8zM195.2,563.0h0.8v0.8h-0.8zM195.1,526.9h0.8v0.8h-0.8zM203.6,536.6h0.8v0.8h-0.8zM184.2,541.6h0.8v0.8h-0.8zM188.4,543.8h0.8v0.8h-0.8zM188.9,535.4h0.8v0.8h-0.8zM202.0,541.6h0.8v0.8h-0.8zM200.1,541.9h0.8v0.8h-0.8zM199.5,542.0h0.8v0.8h-0.8zM212.8,543.1h0.8v0.8h-0.8zM207.9,548.7h0.8v0.8h-0.8zM185.6,550.6h0.8v0.8h-0.8zM180.4,540.0h0.8v0.8h-0.8zM191.9,545.6h0.8v0.8h-0.8zM212.0,532.0h0.8v0.8h-0.8zM184.0,550.7h0.8v0.8h-0.8zM195.6,530.9h0.8v0.8h-0.8zM220.6,537.1h0.8v0.8h-0.8zM201.6,540.4h0.8v0.8h-0.8zM197.6,544.7h0.8v0.8h-0.8zM202.7,547.6h0.8v0.8h-0.8zM185.4,543.7h0.8v0.8h-0.8zM207.8,529.6h0.8v0.8h-0.8zM205.4,532.8h0.8v0.8h-0.8zM211.4,546.1h0.8v0.8h-0.8zM205.8,538.3h0.8v0.8h-0.8zM191.6,537.5h0.8v0.8h-0.8zM202.4,539.2h0.8v0.8h-0.8zM191.2,543.3h0.8v0.8h-0.8zM191.3,551.1h0.8v0.8h-0.8zM207.8,537.9h0.8v0.8h-0.8zM210.1,535.6h0.8v0.8h-0.8zM213.6,537.2h0.8v0.8h-0.8zM184.3,530.3h0.8v0.8h-0.8zM214.7,524.4h0.8v0.8h-0.8zM200.8,546.1h0.8v0.8h-0.8zM195.5,534.9h0.8v0.8h-0.8zM198.4,541.9h0.8v0.8h-0.8zM202.6,543.0h0.8v0.8h-0.8zM191.6,550.3h0.8v0.8h-0.8zM204.2,544.5h0.8v0.8h-0.8zM209.5,541.1h0.8v0.8h-0.8zM187.6,538.2h0.8v0.8h-0.8zM191.0,535.3h0.8v0.8h-0.8zM191.1,530.1h0.8v0.8h-0.8zM200.1,539.7h0.8v0.8h-0.8zM209.1,534.0h0.8v0.8h-0.8zM216.2,535.1h0.8v0.8h-0.8zM197.3,541.3h0.8v0.8h-0.8zM215.5,543.0h0.8v0.8h-0.8zM203.1,539.3h0.8v0.8h-0.8zM193.5,532.4h0.8v0.8h-0.8zM197.8,538.2h0.8v0.8h-0.8zM214.7,532.9h0.8v0.8h-0.8zM212.7,537.3h0.8v0.8h-0.8zM197.9,545.2h0.8v0.8h-0.8zM175.8,532.9h0.8v0.8h-0.8zM217.8,537.8h0.8v0.8h-0.8zM203.4,537.8h0.8v0.8h-0.8zM201.1,539.0h0.8v0.8h-0.8zM199.4,541.6h0.8v0.8h-0.8zM203.6,543.0h0.8v0.8h-0.8zM189.7,539.8h0.8v0.8h-0.8zM215.3,533.5h0.8v0.8h-0.8zM203.6,540.3h0.8v0.8h-0.8zM200.1,553.1h0.8v0.8h-0.8zM202.6,526.2h0.8v0.8h-0.8zM208.2,529.0h0.8v0.8h-0.8zM181.5,539.9h0.8v0.8h-0.8zM204.9,526.7h0.8v0.8h-0.8zM207.1,532.0h0.8v0.8h-0.8zM212.9,541.8h0.8v0.8h-0.8zM188.6,526.2h0.8v0.8h-0.8zM195.8,525.7h0.8v0.8h-0.8zM206.5,534.9h0.8v0.8h-0.8zM210.2,533.1h0.8v0.8h-0.8zM191.2,545.5h0.8v0.8h-0.8zM190.1,542.8h0.8v0.8h-0.8zM197.3,535.2h0.8v0.8h-0.8zM188.2,547.3h0.8v0.8h-0.8zM214.8,533.9h0.8v0.8h-0.8zM190.6,540.1h0.8v0.8h-0.8zM184.8,530.2h0.8v0.8h-0.8zM209.7,538.2h0.8v0.8h-0.8zM199.6,552.4h0.8v0.8h-0.8zM199.5,539.7h0.8v0.8h-0.8zM206.8,533.7h0.8v0.8h-0.8zM203.5,541.6h0.8v0.8h-0.8zM207.2,540.5h0.8v0.8h-0.8zM214.5,541.7h0.8v0.8h-0.8zM208.1,543.7h0.8v0.8h-0.8zM192.6,535.4h0.8v0.8h-0.8zM199.2,547.9h0.8v0.8h-0.8zM188.3,545.5h0.8v0.8h-0.8zM192.0,538.8h0.8v0.8h-0.8zM188.8,530.1h0.8v0.8h-0.8zM212.6,534.5h0.8v0.8h-0.8zM200.0,540.2h0.8v0.8h-0.8zM175.9,555.8h0.8v0.8h-0.8zM215.0,535.3h0.8v0.8h-0.8zM203.4,543.7h0.8v0.8h-0.8zM207.4,544.4h0.8v0.8h-0.8zM205.9,536.9h0.8v0.8h-0.8zM202.8,530.9h0.8v0.8h-0.8zM200.8,547.7h0.8v0.8h-0.8zM213.8,539.7h0.8v0.8h-0.8zM206.1,534.7h0.8v0.8h-0.8zM207.5,536.8h0.8v0.8h-0.8zM193.2,550.7h0.8v0.8h-0.8zM201.1,541.7h0.8v0.8h-0.8zM188.8,543.0h0.8v0.8h-0.8zM204.1,542.7h0.8v0.8h-0.8zM205.5,541.6h0.8v0.8h-0.8zM210.3,545.7h0.8v0.8h-0.8zM208.5,531.5h0.8v0.8h-0.8zM203.9,548.0h0.8v0.8h-0.8zM208.3,535.9h0.8v0.8h-0.8zM199.7,539.3h0.8v0.8h-0.8zM198.3,526.2h0.8v0.8h-0.8zM179.2,541.4h0.8v0.8h-0.8zM184.3,537.0h0.8v0.8h-0.8zM190.6,543.0h0.8v0.8h-0.8zM200.6,549.0h0.8v0.8h-0.8zM199.9,538.1h0.8v0.8h-0.8zM198.4,538.8h0.8v0.8h-0.8z" fill="#3a3ad0" opacity="0.45"/>
<ellipse cx="197.00" cy="552.50" rx="19.00" ry="8.50" transform="rotate(-18 197.00 552.50)" fill="none" stroke="#2828d0" stroke-width="0.6" opacity="0.9"/>
<ellipse cx="196.64" cy="552.64" rx="17.64" ry="7.89" transform="rotate(-18 196.64 552.64)" fill="none" stroke="#2828d0" stroke-width="0.6" opacity="0.9"/>
<ellipse cx="196.29" cy="552.79" rx="16.29" ry="7.29" transform="rotate(-18 196.29 552.79)" fill="none" stroke="#2828d0" stroke-width="0.6" opacity="0.9"/>
<ellipse cx="195.93" cy="552.93" rx="14.93" ry="6.68" transform="rotate(-18 195.93 552.93)" fill="none" stroke="#2828d0" stroke-width="0.6" opacity="0.9"/>
<ellipse cx="195.57" cy="553.07" rx="13.57" ry="6.07" transform="rotate(-18 195.57 553.07)" fill="none" stroke="#2828d0" stroke-width="0.6" opacity="0.9"/>
<ellipse cx="195.21" cy="553.21" rx="12.21" ry="5.46" transform="rotate(-18 195.21 553.21)" fill="none" stroke="#2828d0" stroke-width="0.6" opacity="0.9"/>
<ellipse cx="194.86" cy="553.36" rx="10.86" ry="4.86" transform="rotate(-18 194.86 553.36)" fill="none" stroke="#2828d0" stroke-width="0.6" opacity="0.9"/>
<ellipse cx="194.50" cy="553.50" rx="9.50" ry="4.25" transform="rotate(-18 194.50 553.50)" fill="none" stroke="#2828d0" stroke-width="0.6" opacity="0.9"/>
<ellipse cx="197.00" cy="553.50" rx="11.00" ry="5.20" transform="rotate(-15 197.00 553.50)" fill="#3448f0" stroke="none" stroke-width="0.5" opacity="1"/>
<ellipse cx="202.00" cy="553.30" rx="6.50" ry="2.90" transform="rotate(-15 202.00 553.30)" fill="#70dcff" stroke="none" stroke-width="0.5" opacity="1"/>
<ellipse cx="191.20" cy="554.80" rx="7.00" ry="5.60" transform="rotate(-10 191.20 554.80)" fill="#1e1ed6" stroke="none" stroke-width="0.5" opacity="1"/>
<ellipse cx="191.30" cy="554.70" rx="4.90" ry="4.40" transform="rotate(-10 191.30 554.70)" fill="#10c8f0" stroke="none" stroke-width="0.5" opacity="1"/>
<ellipse cx="191.40" cy="554.60" rx="4.10" ry="3.70" transform="rotate(-10 191.40 554.60)" fill="#28c428" stroke="none" stroke-width="0.5" opacity="1"/>
<ellipse cx="191.50" cy="554.60" rx="3.20" ry="2.90" transform="rotate(-10 191.50 554.60)" fill="#f0f010" stroke="none" stroke-width="0.5" opacity="1"/>
<ellipse cx="191.50" cy="554.60" rx="2.60" ry="2.40" transform="rotate(-10 191.50 554.60)" fill="#ff8a10" stroke="none" stroke-width="0.5" opacity="1"/>
<ellipse cx="191.50" cy="554.60" rx="2.10" ry="1.90" transform="rotate(-10 191.50 554.60)" fill="#ff1010" stroke="none" stroke-width="0.5" opacity="1"/>
<ellipse cx="191.50" cy="554.60" rx="0.70" ry="0.60" transform="rotate(-10 191.50 554.60)" fill="#fff0f0" stroke="none" stroke-width="0.5" opacity="1"/>
<line x1="169.80" y1="516.30" x2="169.80" y2="574.50" stroke="#34428a" stroke-width="1.3"/>
<line x1="169.30" y1="574.00" x2="231.30" y2="574.00" stroke="#34428a" stroke-width="1.3"/>
<line x1="197.30" y1="516.30" x2="197.30" y2="574.00" stroke="#5a5a5a" stroke-width="0.8"/>
<line x1="169.80" y1="547.10" x2="231.30" y2="547.10" stroke="#5a5a5a" stroke-width="0.8"/>
<text x="153.84" y="520.30" font-size="8.51" textLength="8.85" lengthAdjust="spacingAndGlyphs" fill="#5450aa" stroke="#5450aa" stroke-width="0.3">10</text>
<text x="162.79" y="516.40" font-size="5.95" fill="#5450aa" stroke="#5450aa" stroke-width="0.22">4</text>
<text x="153.84" y="539.90" font-size="8.51" textLength="8.85" lengthAdjust="spacingAndGlyphs" fill="#5450aa" stroke="#5450aa" stroke-width="0.3">10</text>
<text x="162.79" y="536.00" font-size="5.95" fill="#5450aa" stroke="#5450aa" stroke-width="0.22">3</text>
<text x="153.84" y="558.80" font-size="8.51" textLength="8.85" lengthAdjust="spacingAndGlyphs" fill="#5450aa" stroke="#5450aa" stroke-width="0.3">10</text>
<text x="162.79" y="554.90" font-size="5.95" fill="#5450aa" stroke="#5450aa" stroke-width="0.22">2</text>
<text x="153.84" y="575.20" font-size="8.51" textLength="8.85" lengthAdjust="spacingAndGlyphs" fill="#5450aa" stroke="#5450aa" stroke-width="0.3">10</text>
<text x="162.79" y="571.30" font-size="5.95" fill="#5450aa" stroke="#5450aa" stroke-width="0.22">1</text>
<text x="167.37" y="586.70" font-size="8.51" textLength="8.85" lengthAdjust="spacingAndGlyphs" fill="#5450aa" stroke="#5450aa" stroke-width="0.3">10</text>
<text x="176.32" y="582.80" font-size="5.95" fill="#5450aa" stroke="#5450aa" stroke-width="0.22">1</text>
<text x="185.17" y="586.70" font-size="8.51" textLength="8.85" lengthAdjust="spacingAndGlyphs" fill="#5450aa" stroke="#5450aa" stroke-width="0.3">10</text>
<text x="194.12" y="582.80" font-size="5.95" fill="#5450aa" stroke="#5450aa" stroke-width="0.22">2</text>
<text x="204.87" y="586.70" font-size="8.51" textLength="8.85" lengthAdjust="spacingAndGlyphs" fill="#5450aa" stroke="#5450aa" stroke-width="0.3">10</text>
<text x="213.82" y="582.80" font-size="5.95" fill="#5450aa" stroke="#5450aa" stroke-width="0.22">3</text>
<text x="225.07" y="586.70" font-size="8.51" textLength="8.85" lengthAdjust="spacingAndGlyphs" fill="#5450aa" stroke="#5450aa" stroke-width="0.3">10</text>
<text x="234.02" y="582.80" font-size="5.95" fill="#5450aa" stroke="#5450aa" stroke-width="0.22">4</text>
<text x="170.40" y="524.30" font-size="8.2" font-weight="bold" textLength="21.5" lengthAdjust="spacingAndGlyphs" fill="#111" stroke="#111" stroke-width="0.3">0.73%</text>
<text x="208.30" y="524.30" font-size="8.2" font-weight="bold" textLength="22.1" lengthAdjust="spacingAndGlyphs" fill="#111" stroke="#111" stroke-width="0.3">2.14%</text>
<text x="170.40" y="572.20" font-size="8.2" font-weight="bold" textLength="26.3" lengthAdjust="spacingAndGlyphs" fill="#111" stroke="#111" stroke-width="0.3">73.99%</text>
<text x="204.40" y="572.20" font-size="8.2" font-weight="bold" textLength="26" lengthAdjust="spacingAndGlyphs" fill="#111" stroke="#111" stroke-width="0.3">23.14%</text>
<path d="M316.4,535.9h0.8v0.8h-0.8zM295.5,549.0h0.8v0.8h-0.8zM279.9,551.7h0.8v0.8h-0.8zM285.4,553.4h0.8v0.8h-0.8zM299.0,557.2h0.8v0.8h-0.8zM296.8,558.4h0.8v0.8h-0.8zM297.3,550.8h0.8v0.8h-0.8zM286.6,546.3h0.8v0.8h-0.8zM271.7,557.7h0.8v0.8h-0.8zM289.9,554.7h0.8v0.8h-0.8zM292.6,542.2h0.8v0.8h-0.8zM280.1,547.3h0.8v0.8h-0.8zM303.2,547.1h0.8v0.8h-0.8zM290.7,545.4h0.8v0.8h-0.8zM274.3,553.0h0.8v0.8h-0.8zM290.8,555.3h0.8v0.8h-0.8zM273.1,560.0h0.8v0.8h-0.8zM279.4,551.8h0.8v0.8h-0.8zM286.0,550.3h0.8v0.8h-0.8zM298.5,555.8h0.8v0.8h-0.8zM294.0,546.9h0.8v0.8h-0.8zM296.9,552.6h0.8v0.8h-0.8zM302.1,550.2h0.8v0.8h-0.8zM269.7,553.2h0.8v0.8h-0.8zM288.0,559.5h0.8v0.8h-0.8zM291.3,558.3h0.8v0.8h-0.8zM292.0,542.9h0.8v0.8h-0.8zM292.7,555.3h0.8v0.8h-0.8zM292.8,540.5h0.8v0.8h-0.8zM294.9,546.3h0.8v0.8h-0.8zM313.8,562.3h0.8v0.8h-0.8zM304.8,550.5h0.8v0.8h-0.8zM314.9,546.5h0.8v0.8h-0.8zM273.8,539.6h0.8v0.8h-0.8zM297.2,533.4h0.8v0.8h-0.8zM289.9,545.9h0.8v0.8h-0.8zM303.5,547.1h0.8v0.8h-0.8zM294.5,553.9h0.8v0.8h-0.8zM284.3,555.5h0.8v0.8h-0.8zM317.6,536.4h0.8v0.8h-0.8zM294.2,554.6h0.8v0.8h-0.8zM284.3,553.7h0.8v0.8h-0.8zM269.1,555.8h0.8v0.8h-0.8zM294.0,559.0h0.8v0.8h-0.8zM301.5,544.2h0.8v0.8h-0.8zM281.4,568.4h0.8v0.8h-0.8zM298.0,535.7h0.8v0.8h-0.8zM285.1,547.2h0.8v0.8h-0.8zM280.0,542.9h0.8v0.8h-0.8zM284.9,550.1h0.8v0.8h-0.8zM290.6,559.7h0.8v0.8h-0.8zM291.4,542.9h0.8v0.8h-0.8zM268.7,555.3h0.8v0.8h-0.8zM307.5,553.5h0.8v0.8h-0.8zM286.6,562.0h0.8v0.8h-0.8zM295.4,546.1h0.8v0.8h-0.8zM296.5,549.6h0.8v0.8h-0.8zM276.7,553.5h0.8v0.8h-0.8zM296.2,560.0h0.8v0.8h-0.8zM279.1,557.6h0.8v0.8h-0.8zM291.6,551.5h0.8v0.8h-0.8zM279.1,565.2h0.8v0.8h-0.8zM311.0,557.3h0.8v0.8h-0.8zM300.5,559.9h0.8v0.8h-0.8zM300.4,556.4h0.8v0.8h-0.8zM287.9,554.8h0.8v0.8h-0.8zM285.2,546.2h0.8v0.8h-0.8zM283.7,546.2h0.8v0.8h-0.8zM276.9,553.8h0.8v0.8h-0.8zM288.6,568.2h0.8v0.8h-0.8zM315.9,552.0h0.8v0.8h-0.8zM299.6,543.0h0.8v0.8h-0.8zM291.9,541.2h0.8v0.8h-0.8zM282.8,551.2h0.8v0.8h-0.8zM289.0,559.2h0.8v0.8h-0.8zM287.1,571.3h0.8v0.8h-0.8zM287.2,559.7h0.8v0.8h-0.8zM274.0,564.4h0.8v0.8h-0.8zM276.8,558.2h0.8v0.8h-0.8zM293.4,557.5h0.8v0.8h-0.8zM300.1,552.1h0.8v0.8h-0.8zM294.1,565.7h0.8v0.8h-0.8zM286.0,553.9h0.8v0.8h-0.8zM286.1,554.8h0.8v0.8h-0.8zM278.8,553.1h0.8v0.8h-0.8zM296.7,546.0h0.8v0.8h-0.8zM296.2,546.2h0.8v0.8h-0.8zM309.1,545.3h0.8v0.8h-0.8zM314.7,548.2h0.8v0.8h-0.8zM292.1,558.8h0.8v0.8h-0.8zM309.5,557.5h0.8v0.8h-0.8zM311.0,552.3h0.8v0.8h-0.8zM279.2,562.9h0.8v0.8h-0.8zM291.5,555.0h0.8v0.8h-0.8zM305.9,542.0h0.8v0.8h-0.8zM313.5,562.6h0.8v0.8h-0.8zM298.0,547.6h0.8v0.8h-0.8zM309.2,547.6h0.8v0.8h-0.8zM307.6,556.1h0.8v0.8h-0.8zM273.6,560.2h0.8v0.8h-0.8zM271.2,553.4h0.8v0.8h-0.8zM296.7,541.5h0.8v0.8h-0.8zM281.7,551.8h0.8v0.8h-0.8zM296.3,553.0h0.8v0.8h-0.8zM296.1,546.8h0.8v0.8h-0.8zM283.2,557.7h0.8v0.8h-0.8zM279.0,550.0h0.8v0.8h-0.8zM298.6,543.8h0.8v0.8h-0.8zM282.8,563.1h0.8v0.8h-0.8zM286.2,537.1h0.8v0.8h-0.8zM286.4,568.0h0.8v0.8h-0.8zM301.9,554.0h0.8v0.8h-0.8zM291.5,538.5h0.8v0.8h-0.8zM304.5,549.7h0.8v0.8h-0.8zM285.0,542.0h0.8v0.8h-0.8zM283.4,553.7h0.8v0.8h-0.8zM288.8,554.4h0.8v0.8h-0.8zM288.9,560.1h0.8v0.8h-0.8zM296.7,541.7h0.8v0.8h-0.8zM284.9,557.2h0.8v0.8h-0.8zM287.6,563.5h0.8v0.8h-0.8zM285.3,555.7h0.8v0.8h-0.8zM296.5,541.9h0.8v0.8h-0.8zM306.5,545.4h0.8v0.8h-0.8zM281.1,550.1h0.8v0.8h-0.8zM267.4,549.6h0.8v0.8h-0.8zM309.7,545.0h0.8v0.8h-0.8zM288.3,554.3h0.8v0.8h-0.8zM296.8,544.3h0.8v0.8h-0.8zM289.4,554.6h0.8v0.8h-0.8zM304.5,549.5h0.8v0.8h-0.8zM311.5,543.8h0.8v0.8h-0.8zM284.2,544.0h0.8v0.8h-0.8zM292.2,556.4h0.8v0.8h-0.8zM287.9,551.7h0.8v0.8h-0.8zM278.0,551.9h0.8v0.8h-0.8zM285.6,553.1h0.8v0.8h-0.8zM305.8,551.0h0.8v0.8h-0.8zM305.3,556.0h0.8v0.8h-0.8zM288.5,562.7h0.8v0.8h-0.8zM289.1,542.9h0.8v0.8h-0.8zM283.7,553.7h0.8v0.8h-0.8zM292.6,557.8h0.8v0.8h-0.8zM276.6,557.4h0.8v0.8h-0.8zM292.9,545.8h0.8v0.8h-0.8zM294.4,550.8h0.8v0.8h-0.8zM293.3,542.3h0.8v0.8h-0.8zM297.1,547.9h0.8v0.8h-0.8zM276.0,540.6h0.8v0.8h-0.8zM288.1,550.2h0.8v0.8h-0.8zM318.0,534.3h0.8v0.8h-0.8zM312.4,554.2h0.8v0.8h-0.8zM296.9,551.9h0.8v0.8h-0.8zM294.2,540.0h0.8v0.8h-0.8zM308.0,544.0h0.8v0.8h-0.8zM282.0,554.8h0.8v0.8h-0.8zM273.2,546.1h0.8v0.8h-0.8zM301.9,560.1h0.8v0.8h-0.8zM290.6,549.6h0.8v0.8h-0.8zM294.1,547.2h0.8v0.8h-0.8zM293.6,554.0h0.8v0.8h-0.8zM287.4,550.0h0.8v0.8h-0.8zM292.1,552.0h0.8v0.8h-0.8zM296.2,539.1h0.8v0.8h-0.8zM276.2,553.1h0.8v0.8h-0.8zM294.3,541.3h0.8v0.8h-0.8zM309.1,556.5h0.8v0.8h-0.8zM284.3,562.2h0.8v0.8h-0.8zM273.4,565.4h0.8v0.8h-0.8zM302.5,551.8h0.8v0.8h-0.8zM281.2,546.6h0.8v0.8h-0.8zM294.9,546.7h0.8v0.8h-0.8zM295.7,538.4h0.8v0.8h-0.8zM297.2,553.5h0.8v0.8h-0.8zM280.6,550.6h0.8v0.8h-0.8zM269.3,558.8h0.8v0.8h-0.8zM276.4,555.8h0.8v0.8h-0.8zM295.4,537.5h0.8v0.8h-0.8zM293.2,561.5h0.8v0.8h-0.8zM297.6,539.7h0.8v0.8h-0.8zM316.8,539.1h0.8v0.8h-0.8zM304.1,554.4h0.8v0.8h-0.8zM287.9,557.2h0.8v0.8h-0.8zM291.7,548.8h0.8v0.8h-0.8zM294.2,558.3h0.8v0.8h-0.8zM300.7,543.8h0.8v0.8h-0.8zM302.7,556.4h0.8v0.8h-0.8zM292.7,553.8h0.8v0.8h-0.8zM291.8,540.2h0.8v0.8h-0.8zM303.4,556.0h0.8v0.8h-0.8zM275.6,547.9h0.8v0.8h-0.8zM288.4,554.0h0.8v0.8h-0.8zM300.0,546.9h0.8v0.8h-0.8zM288.6,544.9h0.8v0.8h-0.8zM292.1,545.4h0.8v0.8h-0.8zM304.2,552.3h0.8v0.8h-0.8zM270.7,560.5h0.8v0.8h-0.8zM278.8,562.5h0.8v0.8h-0.8zM280.1,564.2h0.8v0.8h-0.8zM307.6,560.4h0.8v0.8h-0.8zM294.4,550.7h0.8v0.8h-0.8zM302.6,538.6h0.8v0.8h-0.8zM289.0,549.7h0.8v0.8h-0.8zM286.0,541.4h0.8v0.8h-0.8zM265.7,547.0h0.8v0.8h-0.8zM307.6,543.5h0.8v0.8h-0.8zM297.6,548.3h0.8v0.8h-0.8zM290.0,561.3h0.8v0.8h-0.8zM278.4,548.7h0.8v0.8h-0.8zM266.8,547.9h0.8v0.8h-0.8zM277.6,563.7h0.8v0.8h-0.8zM280.6,551.3h0.8v0.8h-0.8zM289.3,556.5h0.8v0.8h-0.8zM303.3,548.8h0.8v0.8h-0.8zM291.3,555.1h0.8v0.8h-0.8zM280.7,556.3h0.8v0.8h-0.8zM309.6,540.5h0.8v0.8h-0.8zM276.2,544.9h0.8v0.8h-0.8zM292.1,555.6h0.8v0.8h-0.8zM284.2,551.2h0.8v0.8h-0.8zM304.7,547.1h0.8v0.8h-0.8zM297.9,546.4h0.8v0.8h-0.8zM308.1,552.5h0.8v0.8h-0.8zM287.1,548.3h0.8v0.8h-0.8zM319.2,534.4h0.8v0.8h-0.8zM273.0,539.0h0.8v0.8h-0.8zM298.8,549.3h0.8v0.8h-0.8zM285.9,541.9h0.8v0.8h-0.8zM288.8,546.4h0.8v0.8h-0.8zM275.4,554.8h0.8v0.8h-0.8zM293.8,549.5h0.8v0.8h-0.8zM285.7,558.6h0.8v0.8h-0.8zM292.5,548.3h0.8v0.8h-0.8zM298.1,551.4h0.8v0.8h-0.8zM303.4,553.5h0.8v0.8h-0.8zM298.2,544.8h0.8v0.8h-0.8zM308.7,553.1h0.8v0.8h-0.8zM286.5,562.1h0.8v0.8h-0.8zM289.4,544.7h0.8v0.8h-0.8zM287.2,543.4h0.8v0.8h-0.8zM301.6,538.9h0.8v0.8h-0.8zM306.6,540.2h0.8v0.8h-0.8zM291.6,560.7h0.8v0.8h-0.8zM291.3,539.5h0.8v0.8h-0.8zM284.9,540.2h0.8v0.8h-0.8zM296.6,542.3h0.8v0.8h-0.8zM289.2,551.2h0.8v0.8h-0.8zM272.8,559.9h0.8v0.8h-0.8zM310.4,538.6h0.8v0.8h-0.8zM284.3,556.5h0.8v0.8h-0.8zM303.5,541.2h0.8v0.8h-0.8zM293.8,553.3h0.8v0.8h-0.8zM301.7,542.2h0.8v0.8h-0.8zM272.3,551.9h0.8v0.8h-0.8zM293.7,546.1h0.8v0.8h-0.8zM284.3,553.9h0.8v0.8h-0.8zM280.5,550.6h0.8v0.8h-0.8zM292.5,548.3h0.8v0.8h-0.8zM297.4,557.2h0.8v0.8h-0.8zM304.7,548.0h0.8v0.8h-0.8zM315.1,541.1h0.8v0.8h-0.8zM305.6,560.1h0.8v0.8h-0.8zM295.0,556.4h0.8v0.8h-0.8zM283.9,549.9h0.8v0.8h-0.8zM294.4,554.2h0.8v0.8h-0.8zM296.9,554.7h0.8v0.8h-0.8zM294.7,550.0h0.8v0.8h-0.8zM283.4,553.5h0.8v0.8h-0.8zM291.7,551.5h0.8v0.8h-0.8zM280.6,564.4h0.8v0.8h-0.8zM304.9,549.0h0.8v0.8h-0.8zM287.7,560.9h0.8v0.8h-0.8zM287.9,551.2h0.8v0.8h-0.8zM297.2,545.9h0.8v0.8h-0.8zM291.8,548.2h0.8v0.8h-0.8zM299.5,552.2h0.8v0.8h-0.8zM300.9,551.9h0.8v0.8h-0.8zM296.1,553.1h0.8v0.8h-0.8zM298.9,542.5h0.8v0.8h-0.8zM277.3,557.0h0.8v0.8h-0.8zM292.8,549.6h0.8v0.8h-0.8zM310.5,549.1h0.8v0.8h-0.8zM306.8,547.6h0.8v0.8h-0.8zM272.0,548.4h0.8v0.8h-0.8zM304.5,548.0h0.8v0.8h-0.8zM288.4,562.1h0.8v0.8h-0.8zM313.0,547.7h0.8v0.8h-0.8zM306.3,544.9h0.8v0.8h-0.8zM276.7,544.9h0.8v0.8h-0.8zM301.4,537.6h0.8v0.8h-0.8zM286.8,553.9h0.8v0.8h-0.8zM294.6,537.5h0.8v0.8h-0.8zM286.9,547.5h0.8v0.8h-0.8zM308.6,545.0h0.8v0.8h-0.8zM287.2,565.5h0.8v0.8h-0.8zM295.1,556.4h0.8v0.8h-0.8zM295.0,549.6h0.8v0.8h-0.8zM298.9,544.4h0.8v0.8h-0.8zM273.5,553.1h0.8v0.8h-0.8zM298.3,547.0h0.8v0.8h-0.8zM305.8,552.4h0.8v0.8h-0.8zM296.3,558.2h0.8v0.8h-0.8zM296.7,552.5h0.8v0.8h-0.8zM288.0,552.3h0.8v0.8h-0.8zM292.9,559.0h0.8v0.8h-0.8zM312.7,552.8h0.8v0.8h-0.8zM294.3,550.2h0.8v0.8h-0.8zM293.4,547.2h0.8v0.8h-0.8zM290.7,549.8h0.8v0.8h-0.8zM286.2,536.8h0.8v0.8h-0.8zM292.9,556.1h0.8v0.8h-0.8zM282.4,567.4h0.8v0.8h-0.8zM292.1,547.7h0.8v0.8h-0.8zM306.5,540.3h0.8v0.8h-0.8zM322.4,536.9h0.8v0.8h-0.8zM305.8,557.5h0.8v0.8h-0.8zM300.2,550.1h0.8v0.8h-0.8zM282.9,553.7h0.8v0.8h-0.8zM296.3,557.4h0.8v0.8h-0.8zM266.5,564.4h0.8v0.8h-0.8zM276.9,552.3h0.8v0.8h-0.8zM289.1,548.3h0.8v0.8h-0.8zM295.4,539.1h0.8v0.8h-0.8zM295.1,543.6h0.8v0.8h-0.8zM287.1,552.8h0.8v0.8h-0.8zM275.6,560.0h0.8v0.8h-0.8zM315.6,539.5h0.8v0.8h-0.8zM284.0,565.1h0.8v0.8h-0.8zM307.2,532.3h0.8v0.8h-0.8zM285.6,548.1h0.8v0.8h-0.8zM293.3,550.6h0.8v0.8h-0.8zM278.5,553.0h0.8v0.8h-0.8zM302.7,541.6h0.8v0.8h-0.8zM295.5,555.1h0.8v0.8h-0.8zM312.9,548.0h0.8v0.8h-0.8zM292.4,544.9h0.8v0.8h-0.8zM297.3,559.5h0.8v0.8h-0.8zM299.6,558.0h0.8v0.8h-0.8zM287.6,558.8h0.8v0.8h-0.8zM287.1,548.4h0.8v0.8h-0.8zM286.6,562.0h0.8v0.8h-0.8zM298.1,548.5h0.8v0.8h-0.8zM290.2,558.1h0.8v0.8h-0.8zM288.6,560.9h0.8v0.8h-0.8zM294.1,547.1h0.8v0.8h-0.8zM287.2,545.9h0.8v0.8h-0.8zM277.7,552.8h0.8v0.8h-0.8zM285.0,551.5h0.8v0.8h-0.8zM281.2,550.5h0.8v0.8h-0.8zM292.7,542.1h0.8v0.8h-0.8zM293.2,552.7h0.8v0.8h-0.8zM307.8,554.7h0.8v0.8h-0.8zM310.8,552.4h0.8v0.8h-0.8zM301.8,552.1h0.8v0.8h-0.8zM289.9,551.6h0.8v0.8h-0.8zM288.2,546.0h0.8v0.8h-0.8zM303.9,542.9h0.8v0.8h-0.8zM294.4,545.0h0.8v0.8h-0.8zM280.1,563.6h0.8v0.8h-0.8zM290.0,541.4h0.8v0.8h-0.8zM301.4,555.2h0.8v0.8h-0.8zM289.7,557.6h0.8v0.8h-0.8zM309.7,554.4h0.8v0.8h-0.8zM300.8,554.5h0.8v0.8h-0.8zM311.6,547.0h0.8v0.8h-0.8zM287.9,551.2h0.8v0.8h-0.8zM288.1,539.9h0.8v0.8h-0.8zM290.8,550.9h0.8v0.8h-0.8zM292.3,557.3h0.8v0.8h-0.8zM309.9,547.6h0.8v0.8h-0.8zM281.0,551.8h0.8v0.8h-0.8zM290.3,547.2h0.8v0.8h-0.8zM291.9,555.6h0.8v0.8h-0.8zM298.4,564.2h0.8v0.8h-0.8zM272.1,559.2h0.8v0.8h-0.8zM302.0,540.7h0.8v0.8h-0.8zM275.5,572.1h0.8v0.8h-0.8zM304.3,551.7h0.8v0.8h-0.8zM303.9,540.8h0.8v0.8h-0.8zM281.2,566.5h0.8v0.8h-0.8zM289.5,541.0h0.8v0.8h-0.8zM293.3,562.6h0.8v0.8h-0.8zM275.4,545.7h0.8v0.8h-0.8zM289.0,548.0h0.8v0.8h-0.8zM284.1,552.3h0.8v0.8h-0.8zM282.6,550.7h0.8v0.8h-0.8zM303.3,548.2h0.8v0.8h-0.8zM293.8,537.8h0.8v0.8h-0.8zM282.5,562.1h0.8v0.8h-0.8zM295.4,558.0h0.8v0.8h-0.8zM275.2,561.8h0.8v0.8h-0.8zM284.6,554.2h0.8v0.8h-0.8zM281.1,548.4h0.8v0.8h-0.8zM278.4,555.2h0.8v0.8h-0.8zM301.7,540.9h0.8v0.8h-0.8zM282.1,547.8h0.8v0.8h-0.8zM282.7,559.5h0.8v0.8h-0.8zM284.2,547.4h0.8v0.8h-0.8zM300.6,551.4h0.8v0.8h-0.8zM295.9,551.5h0.8v0.8h-0.8zM286.0,559.5h0.8v0.8h-0.8zM284.4,555.8h0.8v0.8h-0.8zM295.8,558.7h0.8v0.8h-0.8zM291.2,557.8h0.8v0.8h-0.8zM271.2,559.4h0.8v0.8h-0.8zM294.0,551.8h0.8v0.8h-0.8zM268.7,564.6h0.8v0.8h-0.8zM282.5,549.9h0.8v0.8h-0.8zM309.8,544.3h0.8v0.8h-0.8zM299.1,537.1h0.8v0.8h-0.8zM300.2,550.5h0.8v0.8h-0.8zM293.0,544.6h0.8v0.8h-0.8zM295.4,549.2h0.8v0.8h-0.8zM306.8,543.3h0.8v0.8h-0.8zM274.4,565.0h0.8v0.8h-0.8zM278.1,554.7h0.8v0.8h-0.8zM304.2,559.9h0.8v0.8h-0.8zM299.8,554.4h0.8v0.8h-0.8zM294.1,552.0h0.8v0.8h-0.8zM291.5,554.3h0.8v0.8h-0.8zM281.2,556.8h0.8v0.8h-0.8zM306.0,548.4h0.8v0.8h-0.8zM291.5,557.4h0.8v0.8h-0.8zM280.8,554.0h0.8v0.8h-0.8zM320.6,548.4h0.8v0.8h-0.8zM300.7,548.2h0.8v0.8h-0.8zM280.7,547.4h0.8v0.8h-0.8zM294.8,560.2h0.8v0.8h-0.8zM292.8,557.6h0.8v0.8h-0.8zM288.6,553.8h0.8v0.8h-0.8zM302.6,569.5h0.8v0.8h-0.8zM291.5,545.6h0.8v0.8h-0.8zM303.0,548.3h0.8v0.8h-0.8zM296.9,545.2h0.8v0.8h-0.8zM301.2,544.0h0.8v0.8h-0.8zM295.8,547.9h0.8v0.8h-0.8zM284.3,558.7h0.8v0.8h-0.8zM292.7,537.3h0.8v0.8h-0.8zM302.0,554.4h0.8v0.8h-0.8zM294.8,553.5h0.8v0.8h-0.8zM295.9,552.8h0.8v0.8h-0.8zM290.0,560.1h0.8v0.8h-0.8zM305.1,541.7h0.8v0.8h-0.8zM290.8,545.8h0.8v0.8h-0.8zM288.5,560.0h0.8v0.8h-0.8zM292.7,553.2h0.8v0.8h-0.8zM292.4,568.6h0.8v0.8h-0.8zM306.7,550.0h0.8v0.8h-0.8zM298.0,562.4h0.8v0.8h-0.8zM307.0,549.2h0.8v0.8h-0.8zM287.5,545.4h0.8v0.8h-0.8zM311.6,557.7h0.8v0.8h-0.8zM320.7,544.7h0.8v0.8h-0.8zM298.6,536.0h0.8v0.8h-0.8zM298.3,544.7h0.8v0.8h-0.8zM280.5,549.8h0.8v0.8h-0.8zM280.5,552.1h0.8v0.8h-0.8zM297.0,545.4h0.8v0.8h-0.8zM287.4,552.5h0.8v0.8h-0.8zM317.6,549.2h0.8v0.8h-0.8zM286.2,559.5h0.8v0.8h-0.8zM311.4,544.6h0.8v0.8h-0.8zM302.9,556.1h0.8v0.8h-0.8zM275.6,558.4h0.8v0.8h-0.8zM292.3,557.8h0.8v0.8h-0.8zM306.7,543.9h0.8v0.8h-0.8zM273.0,554.6h0.8v0.8h-0.8zM290.7,547.8h0.8v0.8h-0.8zM292.5,543.6h0.8v0.8h-0.8zM299.8,554.7h0.8v0.8h-0.8zM315.6,543.5h0.8v0.8h-0.8zM302.5,543.6h0.8v0.8h-0.8zM282.2,549.6h0.8v0.8h-0.8zM287.9,544.3h0.8v0.8h-0.8zM288.4,553.1h0.8v0.8h-0.8zM293.3,548.5h0.8v0.8h-0.8zM291.8,560.0h0.8v0.8h-0.8zM297.5,558.0h0.8v0.8h-0.8zM278.9,559.6h0.8v0.8h-0.8zM278.5,547.3h0.8v0.8h-0.8zM301.1,550.7h0.8v0.8h-0.8zM301.6,553.3h0.8v0.8h-0.8z" fill="#3a3ad0" opacity="0.45"/>
<path d="M278.8,548.4h0.8v0.8h-0.8zM313.8,536.4h0.8v0.8h-0.8zM307.3,546.8h0.8v0.8h-0.8zM308.1,519.5h0.8v0.8h-0.8zM292.8,539.7h0.8v0.8h-0.8zM295.5,547.7h0.8v0.8h-0.8zM280.2,527.3h0.8v0.8h-0.8zM298.0,537.6h0.8v0.8h-0.8zM307.6,544.5h0.8v0.8h-0.8zM301.7,547.7h0.8v0.8h-0.8zM283.8,542.8h0.8v0.8h-0.8zM286.9,555.4h0.8v0.8h-0.8zM295.2,546.8h0.8v0.8h-0.8zM301.5,543.6h0.8v0.8h-0.8zM307.2,544.7h0.8v0.8h-0.8zM303.3,538.7h0.8v0.8h-0.8zM299.4,525.8h0.8v0.8h-0.8zM290.1,551.6h0.8v0.8h-0.8zM298.7,529.5h0.8v0.8h-0.8zM282.2,535.3h0.8v0.8h-0.8zM293.8,546.5h0.8v0.8h-0.8zM297.0,545.0h0.8v0.8h-0.8zM283.8,542.5h0.8v0.8h-0.8zM298.2,542.3h0.8v0.8h-0.8zM302.8,539.0h0.8v0.8h-0.8zM305.6,545.8h0.8v0.8h-0.8zM298.4,531.0h0.8v0.8h-0.8zM288.3,536.1h0.8v0.8h-0.8zM311.7,541.2h0.8v0.8h-0.8zM295.5,536.1h0.8v0.8h-0.8zM293.1,551.0h0.8v0.8h-0.8zM293.4,536.5h0.8v0.8h-0.8zM289.9,546.3h0.8v0.8h-0.8zM277.9,541.0h0.8v0.8h-0.8zM303.1,543.7h0.8v0.8h-0.8zM300.8,536.6h0.8v0.8h-0.8zM306.4,548.6h0.8v0.8h-0.8zM286.7,536.7h0.8v0.8h-0.8zM292.8,541.5h0.8v0.8h-0.8zM290.1,537.2h0.8v0.8h-0.8zM276.8,551.1h0.8v0.8h-0.8zM286.4,542.8h0.8v0.8h-0.8zM292.4,545.7h0.8v0.8h-0.8zM282.7,535.8h0.8v0.8h-0.8zM296.8,540.2h0.8v0.8h-0.8zM292.1,543.7h0.8v0.8h-0.8zM290.7,538.9h0.8v0.8h-0.8zM285.0,542.7h0.8v0.8h-0.8zM304.1,536.8h0.8v0.8h-0.8zM297.0,546.3h0.8v0.8h-0.8zM291.0,536.8h0.8v0.8h-0.8zM299.6,550.4h0.8v0.8h-0.8zM292.2,540.5h0.8v0.8h-0.8zM298.1,536.3h0.8v0.8h-0.8zM294.7,549.1h0.8v0.8h-0.8zM281.0,547.3h0.8v0.8h-0.8zM306.5,545.7h0.8v0.8h-0.8zM298.9,542.5h0.8v0.8h-0.8zM287.8,530.3h0.8v0.8h-0.8zM298.3,540.6h0.8v0.8h-0.8zM302.1,547.4h0.8v0.8h-0.8zM320.1,537.1h0.8v0.8h-0.8zM312.1,537.0h0.8v0.8h-0.8zM297.5,532.9h0.8v0.8h-0.8zM297.4,535.5h0.8v0.8h-0.8zM295.6,530.7h0.8v0.8h-0.8zM303.6,527.6h0.8v0.8h-0.8zM296.9,525.7h0.8v0.8h-0.8zM296.4,541.7h0.8v0.8h-0.8zM306.3,547.8h0.8v0.8h-0.8zM284.6,542.1h0.8v0.8h-0.8zM293.9,540.8h0.8v0.8h-0.8zM306.1,533.1h0.8v0.8h-0.8zM285.2,538.6h0.8v0.8h-0.8zM302.8,532.7h0.8v0.8h-0.8zM278.4,541.6h0.8v0.8h-0.8zM309.5,547.3h0.8v0.8h-0.8zM288.7,537.4h0.8v0.8h-0.8zM304.7,544.7h0.8v0.8h-0.8zM295.9,540.4h0.8v0.8h-0.8zM300.6,528.0h0.8v0.8h-0.8zM307.4,529.7h0.8v0.8h-0.8zM280.5,553.1h0.8v0.8h-0.8zM297.9,545.1h0.8v0.8h-0.8zM282.3,545.8h0.8v0.8h-0.8zM299.1,540.6h0.8v0.8h-0.8zM297.3,539.1h0.8v0.8h-0.8zM293.4,532.5h0.8v0.8h-0.8zM313.6,531.7h0.8v0.8h-0.8zM284.7,545.1h0.8v0.8h-0.8zM292.2,535.7h0.8v0.8h-0.8zM278.4,541.2h0.8v0.8h-0.8zM292.1,540.4h0.8v0.8h-0.8zM302.4,541.5h0.8v0.8h-0.8zM312.6,532.7h0.8v0.8h-0.8zM295.1,547.8h0.8v0.8h-0.8zM306.8,535.4h0.8v0.8h-0.8zM293.2,548.9h0.8v0.8h-0.8zM304.2,546.0h0.8v0.8h-0.8zM307.5,540.7h0.8v0.8h-0.8zM298.4,540.7h0.8v0.8h-0.8zM294.2,531.9h0.8v0.8h-0.8zM302.8,544.3h0.8v0.8h-0.8zM301.8,534.0h0.8v0.8h-0.8zM296.5,548.1h0.8v0.8h-0.8zM305.0,531.4h0.8v0.8h-0.8zM283.0,545.2h0.8v0.8h-0.8zM285.8,556.2h0.8v0.8h-0.8zM296.3,545.0h0.8v0.8h-0.8zM279.0,545.6h0.8v0.8h-0.8zM295.3,529.6h0.8v0.8h-0.8zM313.4,535.5h0.8v0.8h-0.8zM299.8,537.0h0.8v0.8h-0.8zM299.4,543.9h0.8v0.8h-0.8zM300.4,541.8h0.8v0.8h-0.8zM281.1,543.9h0.8v0.8h-0.8zM284.8,545.0h0.8v0.8h-0.8zM285.9,530.2h0.8v0.8h-0.8zM310.4,534.2h0.8v0.8h-0.8zM292.7,540.9h0.8v0.8h-0.8zM295.4,544.7h0.8v0.8h-0.8zM310.3,533.2h0.8v0.8h-0.8zM303.3,542.8h0.8v0.8h-0.8zM285.2,547.7h0.8v0.8h-0.8zM304.3,536.7h0.8v0.8h-0.8zM291.1,534.2h0.8v0.8h-0.8zM304.2,533.0h0.8v0.8h-0.8zM295.0,530.7h0.8v0.8h-0.8zM290.0,529.7h0.8v0.8h-0.8zM289.1,546.8h0.8v0.8h-0.8zM282.9,535.6h0.8v0.8h-0.8zM287.4,538.5h0.8v0.8h-0.8zM284.6,543.6h0.8v0.8h-0.8zM290.8,545.7h0.8v0.8h-0.8zM299.6,540.1h0.8v0.8h-0.8zM298.9,541.8h0.8v0.8h-0.8zM281.7,557.5h0.8v0.8h-0.8zM281.0,553.4h0.8v0.8h-0.8zM283.7,527.8h0.8v0.8h-0.8zM278.2,529.9h0.8v0.8h-0.8zM296.6,537.1h0.8v0.8h-0.8zM320.7,533.7h0.8v0.8h-0.8zM290.6,550.3h0.8v0.8h-0.8zM321.6,527.0h0.8v0.8h-0.8zM287.2,541.3h0.8v0.8h-0.8zM281.9,537.7h0.8v0.8h-0.8zM312.3,542.9h0.8v0.8h-0.8zM305.6,537.6h0.8v0.8h-0.8zM304.1,525.3h0.8v0.8h-0.8zM305.7,526.3h0.8v0.8h-0.8zM286.8,544.6h0.8v0.8h-0.8zM284.7,544.2h0.8v0.8h-0.8zM299.6,545.9h0.8v0.8h-0.8zM294.2,540.7h0.8v0.8h-0.8zM292.5,539.8h0.8v0.8h-0.8zM292.6,540.0h0.8v0.8h-0.8zM302.1,545.7h0.8v0.8h-0.8zM292.4,519.4h0.8v0.8h-0.8zM294.4,527.1h0.8v0.8h-0.8z" fill="#3a3ad0" opacity="0.45"/>
<ellipse cx="292.00" cy="553.00" rx="19.50" ry="9.00" transform="rotate(-16 292.00 553.00)" fill="none" stroke="#2828d0" stroke-width="0.6" opacity="0.9"/>
<ellipse cx="291.64" cy="553.14" rx="18.11" ry="8.36" transform="rotate(-16 291.64 553.14)" fill="none" stroke="#2828d0" stroke-width="0.6" opacity="0.9"/>
<ellipse cx="291.29" cy="553.29" rx="16.71" ry="7.71" transform="rotate(-16 291.29 553.29)" fill="none" stroke="#2828d0" stroke-width="0.6" opacity="0.9"/>
<ellipse cx="290.93" cy="553.43" rx="15.32" ry="7.07" transform="rotate(-16 290.93 553.43)" fill="none" stroke="#2828d0" stroke-width="0.6" opacity="0.9"/>
<ellipse cx="290.57" cy="553.57" rx="13.93" ry="6.43" transform="rotate(-16 290.57 553.57)" fill="none" stroke="#2828d0" stroke-width="0.6" opacity="0.9"/>
<ellipse cx="290.21" cy="553.71" rx="12.54" ry="5.79" transform="rotate(-16 290.21 553.71)" fill="none" stroke="#2828d0" stroke-width="0.6" opacity="0.9"/>
<ellipse cx="289.86" cy="553.86" rx="11.14" ry="5.14" transform="rotate(-16 289.86 553.86)" fill="none" stroke="#2828d0" stroke-width="0.6" opacity="0.9"/>
<ellipse cx="289.50" cy="554.00" rx="9.75" ry="4.50" transform="rotate(-16 289.50 554.00)" fill="none" stroke="#2828d0" stroke-width="0.6" opacity="0.9"/>
<ellipse cx="292.00" cy="554.00" rx="11.50" ry="5.50" transform="rotate(-12 292.00 554.00)" fill="#3448f0" stroke="none" stroke-width="0.5" opacity="1"/>
<ellipse cx="298.00" cy="554.00" rx="6.50" ry="3.20" transform="rotate(-12 298.00 554.00)" fill="#70dcff" stroke="none" stroke-width="0.5" opacity="1"/>
<ellipse cx="285.60" cy="555.30" rx="7.00" ry="5.70" transform="rotate(-10 285.60 555.30)" fill="#1e1ed6" stroke="none" stroke-width="0.5" opacity="1"/>
<ellipse cx="285.80" cy="555.40" rx="4.90" ry="4.40" transform="rotate(-10 285.80 555.40)" fill="#10c8f0" stroke="none" stroke-width="0.5" opacity="1"/>
<ellipse cx="285.90" cy="555.40" rx="4.10" ry="3.70" transform="rotate(-10 285.90 555.40)" fill="#28c428" stroke="none" stroke-width="0.5" opacity="1"/>
<ellipse cx="286.00" cy="555.40" rx="3.20" ry="2.90" transform="rotate(-10 286.00 555.40)" fill="#f0f010" stroke="none" stroke-width="0.5" opacity="1"/>
<ellipse cx="286.10" cy="555.40" rx="2.60" ry="2.40" transform="rotate(-10 286.10 555.40)" fill="#ff8a10" stroke="none" stroke-width="0.5" opacity="1"/>
<ellipse cx="286.10" cy="555.40" rx="2.10" ry="1.90" transform="rotate(-10 286.10 555.40)" fill="#ff1010" stroke="none" stroke-width="0.5" opacity="1"/>
<ellipse cx="286.10" cy="555.40" rx="0.70" ry="0.60" transform="rotate(-10 286.10 555.40)" fill="#fff0f0" stroke="none" stroke-width="0.5" opacity="1"/>
<line x1="264.60" y1="516.30" x2="264.60" y2="574.50" stroke="#34428a" stroke-width="1.3"/>
<line x1="264.10" y1="574.00" x2="325.60" y2="574.00" stroke="#34428a" stroke-width="1.3"/>
<line x1="292.30" y1="516.30" x2="292.30" y2="574.00" stroke="#5a5a5a" stroke-width="0.8"/>
<line x1="264.60" y1="547.30" x2="325.60" y2="547.30" stroke="#5a5a5a" stroke-width="0.8"/>
<text x="248.64" y="520.30" font-size="8.51" textLength="8.85" lengthAdjust="spacingAndGlyphs" fill="#5450aa" stroke="#5450aa" stroke-width="0.3">10</text>
<text x="257.59" y="516.40" font-size="5.95" fill="#5450aa" stroke="#5450aa" stroke-width="0.22">4</text>
<text x="248.64" y="539.90" font-size="8.51" textLength="8.85" lengthAdjust="spacingAndGlyphs" fill="#5450aa" stroke="#5450aa" stroke-width="0.3">10</text>
<text x="257.59" y="536.00" font-size="5.95" fill="#5450aa" stroke="#5450aa" stroke-width="0.22">3</text>
<text x="248.64" y="558.80" font-size="8.51" textLength="8.85" lengthAdjust="spacingAndGlyphs" fill="#5450aa" stroke="#5450aa" stroke-width="0.3">10</text>
<text x="257.59" y="554.90" font-size="5.95" fill="#5450aa" stroke="#5450aa" stroke-width="0.22">2</text>
<text x="248.64" y="575.20" font-size="8.51" textLength="8.85" lengthAdjust="spacingAndGlyphs" fill="#5450aa" stroke="#5450aa" stroke-width="0.3">10</text>
<text x="257.59" y="571.30" font-size="5.95" fill="#5450aa" stroke="#5450aa" stroke-width="0.22">1</text>
<text x="262.17" y="586.70" font-size="8.51" textLength="8.85" lengthAdjust="spacingAndGlyphs" fill="#5450aa" stroke="#5450aa" stroke-width="0.3">10</text>
<text x="271.12" y="582.80" font-size="5.95" fill="#5450aa" stroke="#5450aa" stroke-width="0.22">1</text>
<text x="279.97" y="586.70" font-size="8.51" textLength="8.85" lengthAdjust="spacingAndGlyphs" fill="#5450aa" stroke="#5450aa" stroke-width="0.3">10</text>
<text x="288.92" y="582.80" font-size="5.95" fill="#5450aa" stroke="#5450aa" stroke-width="0.22">2</text>
<text x="299.67" y="586.70" font-size="8.51" textLength="8.85" lengthAdjust="spacingAndGlyphs" fill="#5450aa" stroke="#5450aa" stroke-width="0.3">10</text>
<text x="308.62" y="582.80" font-size="5.95" fill="#5450aa" stroke="#5450aa" stroke-width="0.22">3</text>
<text x="319.87" y="586.70" font-size="8.51" textLength="8.85" lengthAdjust="spacingAndGlyphs" fill="#5450aa" stroke="#5450aa" stroke-width="0.3">10</text>
<text x="328.82" y="582.80" font-size="5.95" fill="#5450aa" stroke="#5450aa" stroke-width="0.22">4</text>
<text x="265.00" y="524.30" font-size="8.2" font-weight="bold" textLength="22.1" lengthAdjust="spacingAndGlyphs" fill="#111" stroke="#111" stroke-width="0.3">0.69%</text>
<text x="303.50" y="524.30" font-size="8.2" font-weight="bold" textLength="21.5" lengthAdjust="spacingAndGlyphs" fill="#111" stroke="#111" stroke-width="0.3">2.73%</text>
<text x="265.00" y="572.20" font-size="8.2" font-weight="bold" textLength="27" lengthAdjust="spacingAndGlyphs" fill="#111" stroke="#111" stroke-width="0.3">71.80%</text>
<text x="298.70" y="572.20" font-size="8.2" font-weight="bold" textLength="26.3" lengthAdjust="spacingAndGlyphs" fill="#111" stroke="#111" stroke-width="0.3">24.78%</text>
<path d="M97.5,625.9h0.8v0.8h-0.8zM121.8,638.8h0.8v0.8h-0.8zM133.0,629.1h0.8v0.8h-0.8zM127.0,635.0h0.8v0.8h-0.8zM100.6,625.6h0.8v0.8h-0.8zM86.0,652.5h0.8v0.8h-0.8zM116.9,630.1h0.8v0.8h-0.8zM105.4,627.9h0.8v0.8h-0.8zM105.9,654.6h0.8v0.8h-0.8zM133.4,628.4h0.8v0.8h-0.8zM113.0,628.5h0.8v0.8h-0.8zM106.9,641.7h0.8v0.8h-0.8zM96.1,639.4h0.8v0.8h-0.8zM130.6,611.9h0.8v0.8h-0.8zM104.3,652.4h0.8v0.8h-0.8zM116.4,632.1h0.8v0.8h-0.8zM92.1,631.3h0.8v0.8h-0.8zM119.2,606.8h0.8v0.8h-0.8zM115.1,626.5h0.8v0.8h-0.8zM101.1,620.7h0.8v0.8h-0.8zM125.9,630.7h0.8v0.8h-0.8zM115.9,634.5h0.8v0.8h-0.8zM89.8,646.3h0.8v0.8h-0.8zM117.1,629.5h0.8v0.8h-0.8zM107.6,625.5h0.8v0.8h-0.8zM115.6,642.2h0.8v0.8h-0.8zM113.3,643.6h0.8v0.8h-0.8zM99.0,633.5h0.8v0.8h-0.8zM110.8,625.8h0.8v0.8h-0.8zM85.0,650.2h0.8v0.8h-0.8zM112.1,638.0h0.8v0.8h-0.8zM95.0,638.2h0.8v0.8h-0.8zM115.8,626.7h0.8v0.8h-0.8zM107.5,637.3h0.8v0.8h-0.8zM99.2,641.8h0.8v0.8h-0.8zM89.0,649.4h0.8v0.8h-0.8zM98.0,626.3h0.8v0.8h-0.8zM91.0,641.6h0.8v0.8h-0.8zM99.8,643.7h0.8v0.8h-0.8zM114.9,638.0h0.8v0.8h-0.8zM109.4,641.2h0.8v0.8h-0.8zM127.9,616.7h0.8v0.8h-0.8zM107.9,634.0h0.8v0.8h-0.8zM112.7,642.4h0.8v0.8h-0.8zM101.6,630.8h0.8v0.8h-0.8zM84.1,635.0h0.8v0.8h-0.8zM111.7,640.8h0.8v0.8h-0.8zM107.9,628.2h0.8v0.8h-0.8zM104.2,629.2h0.8v0.8h-0.8zM126.1,626.5h0.8v0.8h-0.8zM116.4,622.5h0.8v0.8h-0.8zM116.5,627.3h0.8v0.8h-0.8zM102.4,639.7h0.8v0.8h-0.8zM87.7,641.6h0.8v0.8h-0.8zM110.3,630.3h0.8v0.8h-0.8zM114.8,635.4h0.8v0.8h-0.8zM104.2,637.0h0.8v0.8h-0.8zM111.3,624.5h0.8v0.8h-0.8zM104.5,631.1h0.8v0.8h-0.8zM98.2,633.1h0.8v0.8h-0.8zM98.6,633.5h0.8v0.8h-0.8zM113.8,625.7h0.8v0.8h-0.8zM114.7,635.8h0.8v0.8h-0.8zM110.8,649.3h0.8v0.8h-0.8zM116.7,641.4h0.8v0.8h-0.8zM112.9,639.3h0.8v0.8h-0.8zM105.2,625.7h0.8v0.8h-0.8zM119.0,627.3h0.8v0.8h-0.8zM110.5,636.6h0.8v0.8h-0.8zM127.9,646.2h0.8v0.8h-0.8zM93.8,639.1h0.8v0.8h-0.8zM101.8,649.6h0.8v0.8h-0.8zM105.2,632.3h0.8v0.8h-0.8zM118.9,630.7h0.8v0.8h-0.8zM114.5,619.8h0.8v0.8h-0.8zM113.9,637.7h0.8v0.8h-0.8zM107.1,646.7h0.8v0.8h-0.8zM107.5,629.5h0.8v0.8h-0.8zM107.2,640.6h0.8v0.8h-0.8zM125.5,622.4h0.8v0.8h-0.8zM118.9,627.1h0.8v0.8h-0.8zM94.5,634.6h0.8v0.8h-0.8zM120.9,625.1h0.8v0.8h-0.8zM119.5,643.4h0.8v0.8h-0.8zM125.0,623.3h0.8v0.8h-0.8zM108.2,637.8h0.8v0.8h-0.8zM82.4,654.9h0.8v0.8h-0.8zM103.2,644.4h0.8v0.8h-0.8zM99.5,637.3h0.8v0.8h-0.8zM125.8,631.7h0.8v0.8h-0.8zM107.5,648.5h0.8v0.8h-0.8zM115.4,622.0h0.8v0.8h-0.8zM105.8,640.3h0.8v0.8h-0.8zM99.0,628.3h0.8v0.8h-0.8zM113.5,636.4h0.8v0.8h-0.8zM134.1,631.0h0.8v0.8h-0.8zM120.2,622.3h0.8v0.8h-0.8zM89.7,636.8h0.8v0.8h-0.8zM122.8,635.2h0.8v0.8h-0.8zM85.1,652.4h0.8v0.8h-0.8zM129.6,636.8h0.8v0.8h-0.8zM125.7,634.2h0.8v0.8h-0.8zM113.5,630.1h0.8v0.8h-0.8zM108.7,634.8h0.8v0.8h-0.8zM93.5,642.2h0.8v0.8h-0.8zM124.8,623.8h0.8v0.8h-0.8zM126.4,618.4h0.8v0.8h-0.8zM114.6,625.4h0.8v0.8h-0.8zM129.2,630.2h0.8v0.8h-0.8zM128.1,631.6h0.8v0.8h-0.8zM122.3,637.2h0.8v0.8h-0.8zM105.3,616.4h0.8v0.8h-0.8zM114.6,636.2h0.8v0.8h-0.8zM113.3,641.3h0.8v0.8h-0.8zM107.1,637.5h0.8v0.8h-0.8zM97.6,638.9h0.8v0.8h-0.8zM88.3,648.0h0.8v0.8h-0.8zM102.6,632.8h0.8v0.8h-0.8zM96.2,633.5h0.8v0.8h-0.8zM109.8,633.4h0.8v0.8h-0.8zM110.7,645.2h0.8v0.8h-0.8zM93.0,639.7h0.8v0.8h-0.8zM89.9,642.7h0.8v0.8h-0.8zM101.4,623.6h0.8v0.8h-0.8zM108.4,617.9h0.8v0.8h-0.8zM101.4,636.4h0.8v0.8h-0.8zM95.6,653.2h0.8v0.8h-0.8zM108.2,624.0h0.8v0.8h-0.8zM117.2,633.5h0.8v0.8h-0.8zM98.9,633.0h0.8v0.8h-0.8zM132.3,641.6h0.8v0.8h-0.8zM121.2,646.0h0.8v0.8h-0.8zM78.9,636.9h0.8v0.8h-0.8zM109.3,629.1h0.8v0.8h-0.8zM120.4,644.1h0.8v0.8h-0.8zM96.3,645.1h0.8v0.8h-0.8zM105.2,625.8h0.8v0.8h-0.8zM102.8,628.4h0.8v0.8h-0.8zM111.6,645.7h0.8v0.8h-0.8zM129.7,632.6h0.8v0.8h-0.8zM110.5,629.5h0.8v0.8h-0.8zM120.5,637.4h0.8v0.8h-0.8zM109.8,638.3h0.8v0.8h-0.8zM111.0,636.6h0.8v0.8h-0.8zM119.2,618.0h0.8v0.8h-0.8zM109.9,629.7h0.8v0.8h-0.8zM108.5,638.0h0.8v0.8h-0.8zM125.1,608.4h0.8v0.8h-0.8zM133.8,616.5h0.8v0.8h-0.8zM94.9,636.0h0.8v0.8h-0.8zM113.3,633.6h0.8v0.8h-0.8zM77.8,637.3h0.8v0.8h-0.8zM124.2,625.5h0.8v0.8h-0.8zM80.2,647.6h0.8v0.8h-0.8zM110.5,646.3h0.8v0.8h-0.8zM95.7,636.6h0.8v0.8h-0.8zM104.8,639.7h0.8v0.8h-0.8zM119.4,634.3h0.8v0.8h-0.8zM134.0,622.0h0.8v0.8h-0.8zM125.0,634.1h0.8v0.8h-0.8zM133.5,613.2h0.8v0.8h-0.8zM107.0,634.1h0.8v0.8h-0.8zM114.4,643.5h0.8v0.8h-0.8zM80.2,639.9h0.8v0.8h-0.8zM130.1,637.8h0.8v0.8h-0.8zM91.2,639.0h0.8v0.8h-0.8zM121.7,632.9h0.8v0.8h-0.8zM85.9,645.6h0.8v0.8h-0.8zM97.1,630.6h0.8v0.8h-0.8zM103.8,630.1h0.8v0.8h-0.8zM97.6,631.7h0.8v0.8h-0.8zM94.0,620.9h0.8v0.8h-0.8zM91.0,656.2h0.8v0.8h-0.8zM95.2,638.0h0.8v0.8h-0.8zM106.9,637.1h0.8v0.8h-0.8zM133.1,607.8h0.8v0.8h-0.8zM90.9,657.5h0.8v0.8h-0.8zM123.4,633.3h0.8v0.8h-0.8zM129.8,623.0h0.8v0.8h-0.8zM125.0,635.4h0.8v0.8h-0.8zM133.1,623.8h0.8v0.8h-0.8zM90.2,638.6h0.8v0.8h-0.8zM105.8,633.0h0.8v0.8h-0.8zM124.0,617.5h0.8v0.8h-0.8zM116.5,627.0h0.8v0.8h-0.8zM118.4,642.1h0.8v0.8h-0.8zM124.2,621.6h0.8v0.8h-0.8zM114.2,640.3h0.8v0.8h-0.8zM114.7,640.6h0.8v0.8h-0.8zM129.3,620.7h0.8v0.8h-0.8zM126.2,642.3h0.8v0.8h-0.8zM118.0,624.1h0.8v0.8h-0.8zM131.0,622.9h0.8v0.8h-0.8zM108.2,638.7h0.8v0.8h-0.8zM120.2,624.2h0.8v0.8h-0.8zM118.2,635.2h0.8v0.8h-0.8zM123.0,626.8h0.8v0.8h-0.8zM99.9,640.5h0.8v0.8h-0.8zM117.4,632.1h0.8v0.8h-0.8zM125.8,628.8h0.8v0.8h-0.8zM92.1,648.7h0.8v0.8h-0.8zM118.6,615.5h0.8v0.8h-0.8zM124.7,634.0h0.8v0.8h-0.8zM119.5,634.1h0.8v0.8h-0.8zM101.5,643.7h0.8v0.8h-0.8zM115.4,624.2h0.8v0.8h-0.8zM124.0,635.6h0.8v0.8h-0.8zM115.2,648.4h0.8v0.8h-0.8zM117.6,632.9h0.8v0.8h-0.8zM122.0,630.3h0.8v0.8h-0.8zM109.9,630.9h0.8v0.8h-0.8zM82.2,638.1h0.8v0.8h-0.8zM118.1,642.7h0.8v0.8h-0.8zM95.6,621.6h0.8v0.8h-0.8zM118.2,620.7h0.8v0.8h-0.8zM99.4,643.1h0.8v0.8h-0.8zM114.1,633.6h0.8v0.8h-0.8zM100.8,633.8h0.8v0.8h-0.8zM122.0,635.1h0.8v0.8h-0.8zM126.0,634.4h0.8v0.8h-0.8zM122.1,625.3h0.8v0.8h-0.8zM118.8,630.3h0.8v0.8h-0.8zM105.0,652.0h0.8v0.8h-0.8zM126.6,621.5h0.8v0.8h-0.8zM105.8,638.4h0.8v0.8h-0.8zM111.0,632.0h0.8v0.8h-0.8zM113.9,644.8h0.8v0.8h-0.8zM104.9,632.0h0.8v0.8h-0.8zM130.2,622.5h0.8v0.8h-0.8zM103.9,631.9h0.8v0.8h-0.8zM110.2,632.1h0.8v0.8h-0.8zM107.3,634.5h0.8v0.8h-0.8zM110.1,623.7h0.8v0.8h-0.8zM96.3,638.1h0.8v0.8h-0.8zM109.9,632.0h0.8v0.8h-0.8zM111.7,634.1h0.8v0.8h-0.8zM105.5,634.3h0.8v0.8h-0.8zM107.6,642.2h0.8v0.8h-0.8zM113.8,625.3h0.8v0.8h-0.8zM124.8,606.0h0.8v0.8h-0.8zM119.6,632.5h0.8v0.8h-0.8zM121.2,628.5h0.8v0.8h-0.8zM111.3,621.2h0.8v0.8h-0.8zM90.0,650.2h0.8v0.8h-0.8zM131.4,642.8h0.8v0.8h-0.8zM102.9,642.1h0.8v0.8h-0.8zM119.9,619.8h0.8v0.8h-0.8zM99.5,644.6h0.8v0.8h-0.8zM105.8,628.5h0.8v0.8h-0.8zM93.0,641.4h0.8v0.8h-0.8zM101.3,643.0h0.8v0.8h-0.8zM114.6,645.6h0.8v0.8h-0.8zM103.5,633.3h0.8v0.8h-0.8zM119.9,635.6h0.8v0.8h-0.8zM93.9,637.3h0.8v0.8h-0.8zM92.7,633.4h0.8v0.8h-0.8zM109.7,637.0h0.8v0.8h-0.8zM97.0,632.6h0.8v0.8h-0.8zM100.8,653.1h0.8v0.8h-0.8zM115.6,634.1h0.8v0.8h-0.8zM98.0,634.7h0.8v0.8h-0.8zM105.3,633.7h0.8v0.8h-0.8zM91.0,645.1h0.8v0.8h-0.8zM103.5,639.2h0.8v0.8h-0.8zM122.1,630.8h0.8v0.8h-0.8zM109.0,650.4h0.8v0.8h-0.8zM133.6,626.8h0.8v0.8h-0.8zM125.3,623.2h0.8v0.8h-0.8zM123.6,636.2h0.8v0.8h-0.8zM121.5,624.3h0.8v0.8h-0.8zM106.4,630.5h0.8v0.8h-0.8zM112.3,640.2h0.8v0.8h-0.8zM79.2,638.5h0.8v0.8h-0.8zM113.0,634.4h0.8v0.8h-0.8zM114.1,643.2h0.8v0.8h-0.8zM99.1,630.8h0.8v0.8h-0.8zM103.4,628.6h0.8v0.8h-0.8zM109.4,635.1h0.8v0.8h-0.8zM117.5,635.4h0.8v0.8h-0.8zM104.8,630.2h0.8v0.8h-0.8zM124.4,637.1h0.8v0.8h-0.8zM94.7,632.4h0.8v0.8h-0.8zM113.7,649.2h0.8v0.8h-0.8zM97.2,633.8h0.8v0.8h-0.8zM117.8,626.9h0.8v0.8h-0.8zM108.5,644.7h0.8v0.8h-0.8zM92.2,638.7h0.8v0.8h-0.8zM132.7,629.4h0.8v0.8h-0.8zM122.8,626.1h0.8v0.8h-0.8zM112.0,629.3h0.8v0.8h-0.8zM127.4,631.5h0.8v0.8h-0.8zM125.0,621.9h0.8v0.8h-0.8zM112.7,637.0h0.8v0.8h-0.8zM126.4,619.0h0.8v0.8h-0.8zM120.9,627.8h0.8v0.8h-0.8zM108.5,630.0h0.8v0.8h-0.8zM122.4,633.1h0.8v0.8h-0.8zM100.6,650.0h0.8v0.8h-0.8zM100.2,642.3h0.8v0.8h-0.8zM126.7,614.6h0.8v0.8h-0.8zM88.7,649.7h0.8v0.8h-0.8zM122.1,630.9h0.8v0.8h-0.8zM119.2,622.6h0.8v0.8h-0.8zM119.1,632.8h0.8v0.8h-0.8zM118.7,624.4h0.8v0.8h-0.8zM82.6,640.7h0.8v0.8h-0.8zM99.2,650.8h0.8v0.8h-0.8zM126.6,628.4h0.8v0.8h-0.8zM121.4,628.6h0.8v0.8h-0.8zM126.5,620.9h0.8v0.8h-0.8zM129.0,609.9h0.8v0.8h-0.8zM103.3,639.1h0.8v0.8h-0.8zM108.1,624.5h0.8v0.8h-0.8zM126.9,627.8h0.8v0.8h-0.8zM88.0,636.6h0.8v0.8h-0.8zM99.2,634.9h0.8v0.8h-0.8zM114.3,633.0h0.8v0.8h-0.8zM123.0,632.5h0.8v0.8h-0.8zM90.6,655.7h0.8v0.8h-0.8zM83.5,647.9h0.8v0.8h-0.8zM95.9,630.4h0.8v0.8h-0.8zM120.0,615.6h0.8v0.8h-0.8zM100.7,630.3h0.8v0.8h-0.8zM114.3,626.8h0.8v0.8h-0.8zM111.3,637.4h0.8v0.8h-0.8zM114.0,635.5h0.8v0.8h-0.8zM117.5,636.4h0.8v0.8h-0.8zM88.9,623.0h0.8v0.8h-0.8zM91.9,634.0h0.8v0.8h-0.8zM101.8,637.3h0.8v0.8h-0.8zM103.0,627.3h0.8v0.8h-0.8zM85.4,651.1h0.8v0.8h-0.8zM117.5,628.5h0.8v0.8h-0.8zM124.0,627.4h0.8v0.8h-0.8zM93.4,638.5h0.8v0.8h-0.8zM109.4,640.2h0.8v0.8h-0.8zM104.7,638.0h0.8v0.8h-0.8zM80.4,650.7h0.8v0.8h-0.8zM123.9,617.2h0.8v0.8h-0.8zM118.8,636.5h0.8v0.8h-0.8zM118.4,633.1h0.8v0.8h-0.8zM115.3,631.9h0.8v0.8h-0.8zM105.6,630.2h0.8v0.8h-0.8zM99.0,631.7h0.8v0.8h-0.8zM113.9,643.6h0.8v0.8h-0.8zM100.9,639.2h0.8v0.8h-0.8zM111.6,642.4h0.8v0.8h-0.8zM114.9,640.5h0.8v0.8h-0.8zM93.0,657.0h0.8v0.8h-0.8zM129.1,635.3h0.8v0.8h-0.8zM112.9,634.5h0.8v0.8h-0.8zM117.3,618.5h0.8v0.8h-0.8zM89.5,654.7h0.8v0.8h-0.8zM109.5,641.7h0.8v0.8h-0.8zM120.6,616.9h0.8v0.8h-0.8zM121.2,625.8h0.8v0.8h-0.8zM99.5,621.9h0.8v0.8h-0.8zM104.0,630.2h0.8v0.8h-0.8zM130.7,616.8h0.8v0.8h-0.8zM126.7,627.7h0.8v0.8h-0.8zM133.8,618.6h0.8v0.8h-0.8zM107.0,632.6h0.8v0.8h-0.8zM114.2,626.7h0.8v0.8h-0.8zM120.0,641.4h0.8v0.8h-0.8zM111.9,630.2h0.8v0.8h-0.8zM119.1,630.5h0.8v0.8h-0.8zM121.4,630.8h0.8v0.8h-0.8zM108.6,635.9h0.8v0.8h-0.8zM99.9,625.1h0.8v0.8h-0.8zM100.7,645.3h0.8v0.8h-0.8zM108.5,629.6h0.8v0.8h-0.8zM97.7,638.2h0.8v0.8h-0.8zM129.7,614.4h0.8v0.8h-0.8zM78.2,655.3h0.8v0.8h-0.8zM109.8,619.7h0.8v0.8h-0.8zM98.3,651.8h0.8v0.8h-0.8zM129.2,636.6h0.8v0.8h-0.8zM92.2,655.4h0.8v0.8h-0.8zM99.5,641.0h0.8v0.8h-0.8zM111.7,640.4h0.8v0.8h-0.8zM118.8,623.1h0.8v0.8h-0.8zM99.5,657.6h0.8v0.8h-0.8zM110.0,631.4h0.8v0.8h-0.8zM76.2,651.4h0.8v0.8h-0.8zM109.2,634.8h0.8v0.8h-0.8zM86.7,641.0h0.8v0.8h-0.8zM106.0,624.7h0.8v0.8h-0.8zM98.9,644.2h0.8v0.8h-0.8zM117.0,630.0h0.8v0.8h-0.8zM112.8,633.9h0.8v0.8h-0.8zM98.2,650.1h0.8v0.8h-0.8zM104.3,641.4h0.8v0.8h-0.8zM92.2,646.4h0.8v0.8h-0.8zM93.2,639.0h0.8v0.8h-0.8zM98.6,644.5h0.8v0.8h-0.8zM100.4,633.7h0.8v0.8h-0.8zM130.2,622.2h0.8v0.8h-0.8zM117.4,620.5h0.8v0.8h-0.8zM112.2,632.8h0.8v0.8h-0.8zM109.3,644.0h0.8v0.8h-0.8zM122.5,623.9h0.8v0.8h-0.8zM120.1,638.9h0.8v0.8h-0.8zM112.1,632.8h0.8v0.8h-0.8zM129.5,628.9h0.8v0.8h-0.8zM132.3,638.0h0.8v0.8h-0.8zM132.9,624.0h0.8v0.8h-0.8zM108.0,645.2h0.8v0.8h-0.8zM98.3,632.2h0.8v0.8h-0.8zM95.8,657.8h0.8v0.8h-0.8zM101.7,640.3h0.8v0.8h-0.8zM130.0,623.9h0.8v0.8h-0.8zM117.5,639.7h0.8v0.8h-0.8zM111.8,636.9h0.8v0.8h-0.8zM90.4,645.8h0.8v0.8h-0.8zM122.0,619.8h0.8v0.8h-0.8zM93.5,627.2h0.8v0.8h-0.8zM83.3,656.1h0.8v0.8h-0.8zM118.6,648.3h0.8v0.8h-0.8zM113.4,629.5h0.8v0.8h-0.8zM129.4,624.0h0.8v0.8h-0.8zM101.1,644.5h0.8v0.8h-0.8zM125.5,628.6h0.8v0.8h-0.8zM88.4,636.7h0.8v0.8h-0.8zM88.3,639.6h0.8v0.8h-0.8zM82.1,656.3h0.8v0.8h-0.8zM115.6,640.2h0.8v0.8h-0.8zM96.9,652.9h0.8v0.8h-0.8zM106.0,638.8h0.8v0.8h-0.8zM102.6,626.3h0.8v0.8h-0.8zM108.9,652.0h0.8v0.8h-0.8zM121.1,628.3h0.8v0.8h-0.8zM126.2,615.1h0.8v0.8h-0.8zM97.8,638.6h0.8v0.8h-0.8zM133.5,625.8h0.8v0.8h-0.8zM116.5,635.7h0.8v0.8h-0.8zM124.2,628.7h0.8v0.8h-0.8zM86.8,649.2h0.8v0.8h-0.8zM114.1,634.8h0.8v0.8h-0.8zM104.9,653.7h0.8v0.8h-0.8zM109.5,641.6h0.8v0.8h-0.8zM134.1,617.1h0.8v0.8h-0.8zM91.0,649.5h0.8v0.8h-0.8zM97.8,647.2h0.8v0.8h-0.8zM104.8,630.6h0.8v0.8h-0.8zM132.8,626.1h0.8v0.8h-0.8zM95.9,625.9h0.8v0.8h-0.8zM126.7,629.8h0.8v0.8h-0.8zM99.4,639.1h0.8v0.8h-0.8zM94.8,646.7h0.8v0.8h-0.8zM115.2,629.5h0.8v0.8h-0.8zM94.7,641.7h0.8v0.8h-0.8zM121.1,610.7h0.8v0.8h-0.8zM95.0,638.3h0.8v0.8h-0.8zM100.5,629.7h0.8v0.8h-0.8zM106.5,632.7h0.8v0.8h-0.8zM111.2,628.0h0.8v0.8h-0.8zM108.9,645.1h0.8v0.8h-0.8zM93.2,636.6h0.8v0.8h-0.8zM116.7,636.7h0.8v0.8h-0.8zM97.3,634.6h0.8v0.8h-0.8zM121.2,631.5h0.8v0.8h-0.8zM91.5,643.6h0.8v0.8h-0.8zM128.2,623.0h0.8v0.8h-0.8zM126.8,614.2h0.8v0.8h-0.8zM113.0,633.9h0.8v0.8h-0.8zM118.8,623.8h0.8v0.8h-0.8zM76.2,633.6h0.8v0.8h-0.8zM125.6,626.4h0.8v0.8h-0.8zM105.9,628.6h0.8v0.8h-0.8zM105.3,630.3h0.8v0.8h-0.8zM118.5,620.5h0.8v0.8h-0.8zM128.5,630.3h0.8v0.8h-0.8zM108.5,639.6h0.8v0.8h-0.8zM116.4,628.7h0.8v0.8h-0.8zM96.2,638.5h0.8v0.8h-0.8zM94.1,639.2h0.8v0.8h-0.8zM95.3,648.9h0.8v0.8h-0.8zM121.4,637.4h0.8v0.8h-0.8zM98.1,636.7h0.8v0.8h-0.8zM132.9,628.5h0.8v0.8h-0.8zM80.3,639.9h0.8v0.8h-0.8zM114.2,628.3h0.8v0.8h-0.8zM122.4,626.3h0.8v0.8h-0.8zM97.8,640.5h0.8v0.8h-0.8zM88.8,638.4h0.8v0.8h-0.8zM110.4,639.7h0.8v0.8h-0.8zM94.3,636.5h0.8v0.8h-0.8zM103.0,636.0h0.8v0.8h-0.8zM120.1,633.3h0.8v0.8h-0.8zM115.5,631.8h0.8v0.8h-0.8zM119.4,629.7h0.8v0.8h-0.8zM78.2,640.6h0.8v0.8h-0.8zM101.9,637.9h0.8v0.8h-0.8zM112.8,629.0h0.8v0.8h-0.8zM97.3,634.8h0.8v0.8h-0.8zM103.5,638.7h0.8v0.8h-0.8zM128.4,632.0h0.8v0.8h-0.8zM99.8,631.6h0.8v0.8h-0.8zM101.4,649.4h0.8v0.8h-0.8zM86.4,652.5h0.8v0.8h-0.8zM106.3,634.2h0.8v0.8h-0.8zM120.5,633.8h0.8v0.8h-0.8zM131.4,623.4h0.8v0.8h-0.8zM124.3,615.8h0.8v0.8h-0.8zM91.1,640.9h0.8v0.8h-0.8zM119.1,625.1h0.8v0.8h-0.8zM114.9,629.9h0.8v0.8h-0.8zM133.6,625.2h0.8v0.8h-0.8zM111.7,628.9h0.8v0.8h-0.8zM99.2,652.2h0.8v0.8h-0.8zM90.4,642.8h0.8v0.8h-0.8zM127.2,640.1h0.8v0.8h-0.8zM125.1,621.6h0.8v0.8h-0.8zM113.8,640.4h0.8v0.8h-0.8zM103.9,623.1h0.8v0.8h-0.8zM105.7,637.2h0.8v0.8h-0.8zM118.8,633.3h0.8v0.8h-0.8zM108.1,641.9h0.8v0.8h-0.8zM98.4,643.7h0.8v0.8h-0.8zM107.0,644.0h0.8v0.8h-0.8zM122.9,627.7h0.8v0.8h-0.8zM107.1,620.6h0.8v0.8h-0.8zM127.5,628.1h0.8v0.8h-0.8zM105.4,633.6h0.8v0.8h-0.8zM95.8,646.7h0.8v0.8h-0.8zM113.8,638.0h0.8v0.8h-0.8zM126.8,626.5h0.8v0.8h-0.8z" fill="#3a3ad0" opacity="0.45"/>
<path d="M110.7,624.9h0.8v0.8h-0.8zM107.5,624.5h0.8v0.8h-0.8zM131.6,619.8h0.8v0.8h-0.8zM124.5,610.1h0.8v0.8h-0.8zM127.9,611.0h0.8v0.8h-0.8zM120.6,626.4h0.8v0.8h-0.8zM126.1,627.2h0.8v0.8h-0.8zM113.1,628.1h0.8v0.8h-0.8zM123.2,621.8h0.8v0.8h-0.8zM116.2,627.2h0.8v0.8h-0.8zM128.6,617.8h0.8v0.8h-0.8zM104.5,625.3h0.8v0.8h-0.8zM121.4,617.0h0.8v0.8h-0.8zM110.1,618.5h0.8v0.8h-0.8zM116.6,626.0h0.8v0.8h-0.8zM121.6,621.2h0.8v0.8h-0.8zM130.1,630.6h0.8v0.8h-0.8zM112.8,621.7h0.8v0.8h-0.8zM104.5,619.1h0.8v0.8h-0.8zM109.2,624.1h0.8v0.8h-0.8zM124.7,611.5h0.8v0.8h-0.8zM106.6,642.5h0.8v0.8h-0.8zM115.6,610.4h0.8v0.8h-0.8zM89.8,637.5h0.8v0.8h-0.8zM114.3,628.6h0.8v0.8h-0.8zM119.6,614.1h0.8v0.8h-0.8zM125.8,614.0h0.8v0.8h-0.8zM105.0,626.2h0.8v0.8h-0.8zM107.2,629.6h0.8v0.8h-0.8zM133.7,612.7h0.8v0.8h-0.8zM112.6,619.3h0.8v0.8h-0.8zM124.0,635.5h0.8v0.8h-0.8zM114.7,625.1h0.8v0.8h-0.8zM99.4,639.7h0.8v0.8h-0.8zM121.2,629.0h0.8v0.8h-0.8zM106.0,624.3h0.8v0.8h-0.8zM105.5,627.7h0.8v0.8h-0.8zM121.7,624.2h0.8v0.8h-0.8zM121.8,619.2h0.8v0.8h-0.8zM121.2,616.0h0.8v0.8h-0.8zM119.6,633.1h0.8v0.8h-0.8zM96.9,627.1h0.8v0.8h-0.8zM115.4,633.7h0.8v0.8h-0.8zM129.9,617.9h0.8v0.8h-0.8zM108.7,633.6h0.8v0.8h-0.8zM122.2,607.6h0.8v0.8h-0.8zM126.9,618.9h0.8v0.8h-0.8zM113.6,618.1h0.8v0.8h-0.8zM126.0,634.6h0.8v0.8h-0.8zM121.6,611.9h0.8v0.8h-0.8zM99.9,631.7h0.8v0.8h-0.8zM106.9,629.0h0.8v0.8h-0.8zM115.9,627.4h0.8v0.8h-0.8zM121.6,611.2h0.8v0.8h-0.8zM108.6,615.1h0.8v0.8h-0.8zM127.4,625.7h0.8v0.8h-0.8zM124.9,618.3h0.8v0.8h-0.8zM98.1,624.1h0.8v0.8h-0.8zM117.3,608.3h0.8v0.8h-0.8zM129.3,620.0h0.8v0.8h-0.8zM108.0,624.1h0.8v0.8h-0.8zM123.7,614.5h0.8v0.8h-0.8zM120.7,608.6h0.8v0.8h-0.8zM106.7,623.5h0.8v0.8h-0.8zM94.6,636.1h0.8v0.8h-0.8zM118.0,624.7h0.8v0.8h-0.8zM116.7,629.4h0.8v0.8h-0.8zM115.6,628.2h0.8v0.8h-0.8zM111.7,622.3h0.8v0.8h-0.8zM112.5,620.0h0.8v0.8h-0.8zM134.2,624.0h0.8v0.8h-0.8zM129.9,606.3h0.8v0.8h-0.8zM111.4,616.8h0.8v0.8h-0.8zM98.5,629.3h0.8v0.8h-0.8zM123.7,625.2h0.8v0.8h-0.8zM126.4,617.0h0.8v0.8h-0.8zM113.2,627.2h0.8v0.8h-0.8zM109.1,630.2h0.8v0.8h-0.8zM110.9,628.4h0.8v0.8h-0.8zM113.6,620.1h0.8v0.8h-0.8zM131.7,611.1h0.8v0.8h-0.8zM111.7,617.9h0.8v0.8h-0.8zM126.0,636.4h0.8v0.8h-0.8zM116.1,629.8h0.8v0.8h-0.8zM118.5,618.9h0.8v0.8h-0.8zM122.6,626.6h0.8v0.8h-0.8zM122.7,623.3h0.8v0.8h-0.8zM129.5,618.3h0.8v0.8h-0.8zM107.4,620.9h0.8v0.8h-0.8zM114.6,631.1h0.8v0.8h-0.8zM105.5,624.9h0.8v0.8h-0.8zM112.6,614.4h0.8v0.8h-0.8zM116.6,614.9h0.8v0.8h-0.8zM105.3,628.4h0.8v0.8h-0.8zM129.2,621.4h0.8v0.8h-0.8zM107.3,636.0h0.8v0.8h-0.8zM123.0,609.9h0.8v0.8h-0.8zM114.0,625.7h0.8v0.8h-0.8zM110.4,635.7h0.8v0.8h-0.8zM128.9,612.4h0.8v0.8h-0.8zM117.9,620.8h0.8v0.8h-0.8zM117.6,634.6h0.8v0.8h-0.8zM120.7,622.8h0.8v0.8h-0.8zM115.5,624.0h0.8v0.8h-0.8zM121.9,620.4h0.8v0.8h-0.8zM103.4,626.6h0.8v0.8h-0.8zM116.0,616.5h0.8v0.8h-0.8zM91.8,622.3h0.8v0.8h-0.8zM130.3,613.2h0.8v0.8h-0.8zM111.4,620.6h0.8v0.8h-0.8zM128.4,630.1h0.8v0.8h-0.8zM100.1,636.6h0.8v0.8h-0.8zM123.2,632.3h0.8v0.8h-0.8zM111.1,622.1h0.8v0.8h-0.8zM113.7,630.6h0.8v0.8h-0.8zM101.9,624.8h0.8v0.8h-0.8zM115.0,626.9h0.8v0.8h-0.8zM102.1,634.4h0.8v0.8h-0.8zM126.0,614.9h0.8v0.8h-0.8zM120.0,633.1h0.8v0.8h-0.8zM120.7,614.9h0.8v0.8h-0.8zM120.2,643.6h0.8v0.8h-0.8zM133.0,620.9h0.8v0.8h-0.8zM101.0,624.7h0.8v0.8h-0.8zM102.0,625.4h0.8v0.8h-0.8zM119.2,621.9h0.8v0.8h-0.8zM110.6,616.3h0.8v0.8h-0.8zM131.4,615.1h0.8v0.8h-0.8zM114.4,614.2h0.8v0.8h-0.8zM111.8,636.2h0.8v0.8h-0.8zM128.2,619.6h0.8v0.8h-0.8zM115.9,621.7h0.8v0.8h-0.8zM114.7,625.4h0.8v0.8h-0.8zM105.6,635.1h0.8v0.8h-0.8zM112.5,624.0h0.8v0.8h-0.8zM107.8,628.0h0.8v0.8h-0.8zM119.8,629.8h0.8v0.8h-0.8zM103.5,628.9h0.8v0.8h-0.8zM113.5,626.1h0.8v0.8h-0.8zM121.2,615.3h0.8v0.8h-0.8zM120.7,619.8h0.8v0.8h-0.8zM127.8,621.5h0.8v0.8h-0.8zM113.3,629.8h0.8v0.8h-0.8zM111.2,630.9h0.8v0.8h-0.8zM114.5,634.6h0.8v0.8h-0.8zM108.1,625.5h0.8v0.8h-0.8zM117.5,616.7h0.8v0.8h-0.8zM114.6,619.2h0.8v0.8h-0.8zM100.0,628.5h0.8v0.8h-0.8zM108.7,649.0h0.8v0.8h-0.8zM121.9,616.4h0.8v0.8h-0.8zM120.7,609.7h0.8v0.8h-0.8zM103.4,638.5h0.8v0.8h-0.8zM121.6,615.4h0.8v0.8h-0.8zM116.8,608.7h0.8v0.8h-0.8zM104.4,614.6h0.8v0.8h-0.8zM117.9,623.9h0.8v0.8h-0.8zM106.9,626.6h0.8v0.8h-0.8zM111.2,631.3h0.8v0.8h-0.8zM130.1,606.9h0.8v0.8h-0.8zM104.1,624.0h0.8v0.8h-0.8zM104.2,637.9h0.8v0.8h-0.8zM116.2,626.9h0.8v0.8h-0.8zM116.0,622.3h0.8v0.8h-0.8zM111.2,626.4h0.8v0.8h-0.8z" fill="#3a3ad0" opacity="0.45"/>
<ellipse cx="111.00" cy="633.00" rx="25.00" ry="9.50" transform="rotate(-28 111.00 633.00)" fill="none" stroke="#2828d0" stroke-width="0.6" opacity="0.9"/>
<ellipse cx="110.95" cy="633.35" rx="23.75" ry="9.03" transform="rotate(-28 110.95 633.35)" fill="none" stroke="#2828d0" stroke-width="0.6" opacity="0.9"/>
<ellipse cx="110.90" cy="633.70" rx="22.50" ry="8.55" transform="rotate(-28 110.90 633.70)" fill="none" stroke="#2828d0" stroke-width="0.6" opacity="0.9"/>
<ellipse cx="110.85" cy="634.05" rx="21.25" ry="8.07" transform="rotate(-28 110.85 634.05)" fill="none" stroke="#2828d0" stroke-width="0.6" opacity="0.9"/>
<ellipse cx="110.80" cy="634.40" rx="20.00" ry="7.60" transform="rotate(-28 110.80 634.40)" fill="none" stroke="#2828d0" stroke-width="0.6" opacity="0.9"/>
<ellipse cx="110.75" cy="634.75" rx="18.75" ry="7.12" transform="rotate(-28 110.75 634.75)" fill="none" stroke="#2828d0" stroke-width="0.6" opacity="0.9"/>
<ellipse cx="110.70" cy="635.10" rx="17.50" ry="6.65" transform="rotate(-28 110.70 635.10)" fill="none" stroke="#2828d0" stroke-width="0.6" opacity="0.9"/>
<ellipse cx="110.65" cy="635.45" rx="16.25" ry="6.17" transform="rotate(-28 110.65 635.45)" fill="none" stroke="#2828d0" stroke-width="0.6" opacity="0.9"/>
<ellipse cx="110.60" cy="635.80" rx="15.00" ry="5.70" transform="rotate(-28 110.60 635.80)" fill="none" stroke="#2828d0" stroke-width="0.6" opacity="0.9"/>
<ellipse cx="106.00" cy="640.00" rx="16.50" ry="6.00" transform="rotate(-15 106.00 640.00)" fill="#1e1ed6" stroke="none" stroke-width="0.5" opacity="1"/>
<ellipse cx="108.00" cy="639.50" rx="13.00" ry="4.90" transform="rotate(-12 108.00 639.50)" fill="#10c8f0" stroke="none" stroke-width="0.5" opacity="1"/>
<ellipse cx="110.50" cy="639.00" rx="9.80" ry="4.30" transform="rotate(-12 110.50 639.00)" fill="#28c428" stroke="none" stroke-width="0.5" opacity="1"/>
<ellipse cx="112.00" cy="638.50" rx="7.00" ry="3.40" transform="rotate(-10 112.00 638.50)" fill="#f0f010" stroke="none" stroke-width="0.5" opacity="1"/>
<ellipse cx="113.00" cy="638.30" rx="5.50" ry="2.80" transform="rotate(-10 113.00 638.30)" fill="#ff8a10" stroke="none" stroke-width="0.5" opacity="1"/>
<ellipse cx="113.30" cy="638.20" rx="4.30" ry="2.20" transform="rotate(-10 113.30 638.20)" fill="#ff1010" stroke="none" stroke-width="0.5" opacity="1"/>
<ellipse cx="114.00" cy="638.00" rx="1.60" ry="0.60" transform="rotate(-10 114.00 638.00)" fill="#fff0f0" stroke="none" stroke-width="0.5" opacity="1"/>
<line x1="74.50" y1="602.30" x2="74.50" y2="659.70" stroke="#34428a" stroke-width="1.3"/>
<line x1="74.00" y1="659.20" x2="135.40" y2="659.20" stroke="#34428a" stroke-width="1.3"/>
<line x1="102.30" y1="602.30" x2="102.30" y2="659.20" stroke="#5a5a5a" stroke-width="0.8"/>
<line x1="74.50" y1="633.10" x2="135.40" y2="633.10" stroke="#5a5a5a" stroke-width="0.8"/>
<text x="58.54" y="608.40" font-size="8.51" textLength="8.85" lengthAdjust="spacingAndGlyphs" fill="#5450aa" stroke="#5450aa" stroke-width="0.3">10</text>
<text x="67.49" y="604.50" font-size="5.95" fill="#5450aa" stroke="#5450aa" stroke-width="0.22">4</text>
<text x="58.54" y="626.70" font-size="8.51" textLength="8.85" lengthAdjust="spacingAndGlyphs" fill="#5450aa" stroke="#5450aa" stroke-width="0.3">10</text>
<text x="67.49" y="622.80" font-size="5.95" fill="#5450aa" stroke="#5450aa" stroke-width="0.22">3</text>
<text x="58.54" y="645.10" font-size="8.51" textLength="8.85" lengthAdjust="spacingAndGlyphs" fill="#5450aa" stroke="#5450aa" stroke-width="0.3">10</text>
<text x="67.49" y="641.20" font-size="5.95" fill="#5450aa" stroke="#5450aa" stroke-width="0.22">2</text>
<text x="58.54" y="661.80" font-size="8.51" textLength="8.85" lengthAdjust="spacingAndGlyphs" fill="#5450aa" stroke="#5450aa" stroke-width="0.3">10</text>
<text x="67.49" y="657.90" font-size="5.95" fill="#5450aa" stroke="#5450aa" stroke-width="0.22">1</text>
<text x="72.07" y="671.80" font-size="8.51" textLength="8.85" lengthAdjust="spacingAndGlyphs" fill="#5450aa" stroke="#5450aa" stroke-width="0.3">10</text>
<text x="81.02" y="667.90" font-size="5.95" fill="#5450aa" stroke="#5450aa" stroke-width="0.22">1</text>
<text x="89.87" y="671.80" font-size="8.51" textLength="8.85" lengthAdjust="spacingAndGlyphs" fill="#5450aa" stroke="#5450aa" stroke-width="0.3">10</text>
<text x="98.82" y="667.90" font-size="5.95" fill="#5450aa" stroke="#5450aa" stroke-width="0.22">2</text>
<text x="109.57" y="671.80" font-size="8.51" textLength="8.85" lengthAdjust="spacingAndGlyphs" fill="#5450aa" stroke="#5450aa" stroke-width="0.3">10</text>
<text x="118.52" y="667.90" font-size="5.95" fill="#5450aa" stroke="#5450aa" stroke-width="0.22">3</text>
<text x="129.77" y="671.80" font-size="8.51" textLength="8.85" lengthAdjust="spacingAndGlyphs" fill="#5450aa" stroke="#5450aa" stroke-width="0.3">10</text>
<text x="138.72" y="667.90" font-size="5.95" fill="#5450aa" stroke="#5450aa" stroke-width="0.22">4</text>
<text x="75.10" y="610.20" font-size="8.2" font-weight="bold" textLength="21.4" lengthAdjust="spacingAndGlyphs" fill="#111" stroke="#111" stroke-width="0.3">0.10%</text>
<text x="109.60" y="610.20" font-size="8.2" font-weight="bold" textLength="25" lengthAdjust="spacingAndGlyphs" fill="#111" stroke="#111" stroke-width="0.3">12.80%</text>
<text x="75.80" y="658.20" font-size="8.2" font-weight="bold" textLength="25.5" lengthAdjust="spacingAndGlyphs" fill="#111" stroke="#111" stroke-width="0.3">12.09%</text>
<text x="109.00" y="658.20" font-size="8.2" font-weight="bold" textLength="25.6" lengthAdjust="spacingAndGlyphs" fill="#111" stroke="#111" stroke-width="0.3">75.01%</text>
<path d="M184.5,653.4h0.8v0.8h-0.8zM207.0,633.0h0.8v0.8h-0.8zM214.0,628.3h0.8v0.8h-0.8zM203.9,643.9h0.8v0.8h-0.8zM188.8,645.4h0.8v0.8h-0.8zM218.3,642.4h0.8v0.8h-0.8zM209.0,629.3h0.8v0.8h-0.8zM206.0,627.7h0.8v0.8h-0.8zM205.8,633.4h0.8v0.8h-0.8zM195.2,645.9h0.8v0.8h-0.8zM198.7,636.5h0.8v0.8h-0.8zM190.8,636.9h0.8v0.8h-0.8zM206.6,641.2h0.8v0.8h-0.8zM198.4,639.6h0.8v0.8h-0.8zM188.2,637.8h0.8v0.8h-0.8zM223.2,644.2h0.8v0.8h-0.8zM210.8,637.5h0.8v0.8h-0.8zM205.7,632.8h0.8v0.8h-0.8zM189.4,645.1h0.8v0.8h-0.8zM190.0,644.0h0.8v0.8h-0.8zM188.4,640.9h0.8v0.8h-0.8zM225.8,637.8h0.8v0.8h-0.8zM202.6,640.3h0.8v0.8h-0.8zM184.9,649.0h0.8v0.8h-0.8zM192.1,634.6h0.8v0.8h-0.8zM194.3,640.5h0.8v0.8h-0.8zM193.4,635.6h0.8v0.8h-0.8zM209.5,638.1h0.8v0.8h-0.8zM220.4,640.3h0.8v0.8h-0.8zM217.1,626.9h0.8v0.8h-0.8zM205.2,641.5h0.8v0.8h-0.8zM214.3,633.5h0.8v0.8h-0.8zM212.9,644.0h0.8v0.8h-0.8zM190.1,634.7h0.8v0.8h-0.8zM193.0,641.9h0.8v0.8h-0.8zM189.0,641.2h0.8v0.8h-0.8zM195.8,632.4h0.8v0.8h-0.8zM221.0,641.9h0.8v0.8h-0.8zM184.3,648.4h0.8v0.8h-0.8zM196.9,630.4h0.8v0.8h-0.8zM195.3,636.3h0.8v0.8h-0.8zM224.2,634.7h0.8v0.8h-0.8zM203.4,641.4h0.8v0.8h-0.8zM207.6,628.2h0.8v0.8h-0.8zM218.4,636.5h0.8v0.8h-0.8zM218.7,646.9h0.8v0.8h-0.8zM202.5,654.9h0.8v0.8h-0.8zM198.7,637.0h0.8v0.8h-0.8zM177.2,653.6h0.8v0.8h-0.8zM200.0,634.7h0.8v0.8h-0.8zM197.0,643.5h0.8v0.8h-0.8zM218.3,640.1h0.8v0.8h-0.8zM199.0,634.1h0.8v0.8h-0.8zM178.1,638.7h0.8v0.8h-0.8zM208.5,634.1h0.8v0.8h-0.8zM200.2,642.4h0.8v0.8h-0.8zM204.9,632.2h0.8v0.8h-0.8zM196.9,628.5h0.8v0.8h-0.8zM200.8,646.1h0.8v0.8h-0.8zM199.9,651.2h0.8v0.8h-0.8zM202.0,643.8h0.8v0.8h-0.8zM208.5,632.3h0.8v0.8h-0.8zM189.6,644.2h0.8v0.8h-0.8zM213.5,635.8h0.8v0.8h-0.8zM197.5,619.0h0.8v0.8h-0.8zM196.5,646.2h0.8v0.8h-0.8zM217.4,637.8h0.8v0.8h-0.8zM194.8,646.3h0.8v0.8h-0.8zM200.9,644.4h0.8v0.8h-0.8zM220.5,627.8h0.8v0.8h-0.8zM200.3,640.7h0.8v0.8h-0.8zM208.6,637.8h0.8v0.8h-0.8zM215.9,642.2h0.8v0.8h-0.8zM196.2,638.9h0.8v0.8h-0.8zM215.2,628.0h0.8v0.8h-0.8zM193.2,625.4h0.8v0.8h-0.8zM195.2,653.9h0.8v0.8h-0.8zM227.6,636.7h0.8v0.8h-0.8zM208.9,636.4h0.8v0.8h-0.8zM216.5,625.3h0.8v0.8h-0.8zM223.0,636.0h0.8v0.8h-0.8zM201.8,626.4h0.8v0.8h-0.8zM208.1,638.3h0.8v0.8h-0.8zM216.2,632.5h0.8v0.8h-0.8zM209.9,643.0h0.8v0.8h-0.8zM195.0,635.7h0.8v0.8h-0.8zM218.3,629.3h0.8v0.8h-0.8zM194.7,644.2h0.8v0.8h-0.8zM195.7,655.3h0.8v0.8h-0.8zM187.3,639.1h0.8v0.8h-0.8zM211.3,643.8h0.8v0.8h-0.8zM215.2,639.9h0.8v0.8h-0.8zM178.9,632.5h0.8v0.8h-0.8zM205.4,642.0h0.8v0.8h-0.8zM203.8,634.1h0.8v0.8h-0.8zM209.5,644.3h0.8v0.8h-0.8zM227.8,638.5h0.8v0.8h-0.8zM196.4,640.3h0.8v0.8h-0.8zM208.2,652.5h0.8v0.8h-0.8zM210.3,643.2h0.8v0.8h-0.8zM217.7,636.9h0.8v0.8h-0.8zM194.3,628.7h0.8v0.8h-0.8zM197.1,645.6h0.8v0.8h-0.8zM212.2,623.0h0.8v0.8h-0.8zM199.1,639.6h0.8v0.8h-0.8zM213.3,633.3h0.8v0.8h-0.8zM199.2,639.1h0.8v0.8h-0.8zM209.3,637.1h0.8v0.8h-0.8zM193.2,638.6h0.8v0.8h-0.8zM204.1,633.9h0.8v0.8h-0.8zM201.3,637.1h0.8v0.8h-0.8zM186.5,654.7h0.8v0.8h-0.8zM203.8,644.0h0.8v0.8h-0.8zM228.9,635.3h0.8v0.8h-0.8zM193.4,640.3h0.8v0.8h-0.8zM193.3,638.0h0.8v0.8h-0.8zM212.2,631.2h0.8v0.8h-0.8zM211.5,638.2h0.8v0.8h-0.8zM224.2,637.5h0.8v0.8h-0.8zM215.7,640.2h0.8v0.8h-0.8zM197.9,637.3h0.8v0.8h-0.8zM190.1,632.9h0.8v0.8h-0.8zM228.8,625.5h0.8v0.8h-0.8zM218.2,633.6h0.8v0.8h-0.8zM189.7,641.5h0.8v0.8h-0.8zM216.0,642.3h0.8v0.8h-0.8zM218.0,634.8h0.8v0.8h-0.8zM208.1,632.4h0.8v0.8h-0.8zM194.6,645.1h0.8v0.8h-0.8zM214.7,634.2h0.8v0.8h-0.8zM202.6,634.0h0.8v0.8h-0.8zM202.1,630.1h0.8v0.8h-0.8zM205.3,637.4h0.8v0.8h-0.8zM204.1,652.7h0.8v0.8h-0.8zM193.9,642.1h0.8v0.8h-0.8zM211.1,630.8h0.8v0.8h-0.8zM213.3,629.6h0.8v0.8h-0.8zM208.7,638.0h0.8v0.8h-0.8zM219.5,622.8h0.8v0.8h-0.8zM227.0,653.0h0.8v0.8h-0.8zM209.8,629.0h0.8v0.8h-0.8zM203.4,629.2h0.8v0.8h-0.8zM213.6,637.0h0.8v0.8h-0.8zM191.1,653.3h0.8v0.8h-0.8zM202.3,649.1h0.8v0.8h-0.8zM198.2,636.4h0.8v0.8h-0.8zM187.9,643.5h0.8v0.8h-0.8zM199.8,632.1h0.8v0.8h-0.8zM225.7,632.1h0.8v0.8h-0.8zM229.4,634.7h0.8v0.8h-0.8zM177.6,632.5h0.8v0.8h-0.8zM208.4,649.1h0.8v0.8h-0.8zM198.8,631.8h0.8v0.8h-0.8zM194.0,647.6h0.8v0.8h-0.8zM221.9,632.5h0.8v0.8h-0.8zM189.2,632.4h0.8v0.8h-0.8zM210.7,628.4h0.8v0.8h-0.8zM201.8,636.3h0.8v0.8h-0.8zM221.9,620.2h0.8v0.8h-0.8zM187.4,636.9h0.8v0.8h-0.8zM217.3,631.3h0.8v0.8h-0.8zM214.4,630.0h0.8v0.8h-0.8zM175.9,637.0h0.8v0.8h-0.8zM217.3,630.5h0.8v0.8h-0.8zM187.0,639.0h0.8v0.8h-0.8zM191.3,641.8h0.8v0.8h-0.8zM205.7,643.3h0.8v0.8h-0.8zM211.8,653.0h0.8v0.8h-0.8zM183.0,650.3h0.8v0.8h-0.8zM192.6,636.6h0.8v0.8h-0.8zM194.6,642.4h0.8v0.8h-0.8zM199.1,644.0h0.8v0.8h-0.8zM202.2,645.1h0.8v0.8h-0.8zM205.9,631.3h0.8v0.8h-0.8zM204.7,635.7h0.8v0.8h-0.8zM189.1,634.6h0.8v0.8h-0.8zM226.3,619.5h0.8v0.8h-0.8zM182.7,633.8h0.8v0.8h-0.8zM200.6,635.5h0.8v0.8h-0.8zM208.3,639.1h0.8v0.8h-0.8zM201.8,630.2h0.8v0.8h-0.8zM195.4,646.3h0.8v0.8h-0.8zM215.9,632.2h0.8v0.8h-0.8zM208.0,631.1h0.8v0.8h-0.8zM188.4,630.8h0.8v0.8h-0.8zM217.3,649.3h0.8v0.8h-0.8zM206.3,641.3h0.8v0.8h-0.8zM211.9,635.1h0.8v0.8h-0.8zM177.2,650.7h0.8v0.8h-0.8zM209.9,646.7h0.8v0.8h-0.8zM201.4,635.5h0.8v0.8h-0.8zM209.8,627.1h0.8v0.8h-0.8zM191.7,634.3h0.8v0.8h-0.8zM205.2,636.7h0.8v0.8h-0.8zM202.0,644.0h0.8v0.8h-0.8zM181.3,629.5h0.8v0.8h-0.8zM203.8,641.3h0.8v0.8h-0.8zM207.0,651.2h0.8v0.8h-0.8zM197.2,636.5h0.8v0.8h-0.8zM198.2,631.9h0.8v0.8h-0.8zM213.9,637.9h0.8v0.8h-0.8zM219.1,620.6h0.8v0.8h-0.8zM187.7,649.3h0.8v0.8h-0.8zM208.2,635.5h0.8v0.8h-0.8zM208.4,642.9h0.8v0.8h-0.8zM196.0,648.4h0.8v0.8h-0.8zM211.3,635.8h0.8v0.8h-0.8zM202.1,646.7h0.8v0.8h-0.8zM201.3,634.3h0.8v0.8h-0.8zM185.9,637.8h0.8v0.8h-0.8zM203.2,631.3h0.8v0.8h-0.8zM197.6,647.6h0.8v0.8h-0.8zM194.3,645.3h0.8v0.8h-0.8zM205.0,618.6h0.8v0.8h-0.8zM210.8,636.1h0.8v0.8h-0.8zM187.2,639.1h0.8v0.8h-0.8zM194.7,638.2h0.8v0.8h-0.8zM198.6,645.4h0.8v0.8h-0.8zM209.7,644.3h0.8v0.8h-0.8zM217.5,629.2h0.8v0.8h-0.8zM209.2,641.2h0.8v0.8h-0.8zM189.2,650.9h0.8v0.8h-0.8zM208.4,637.4h0.8v0.8h-0.8zM208.4,631.1h0.8v0.8h-0.8zM211.1,644.5h0.8v0.8h-0.8zM223.0,636.6h0.8v0.8h-0.8zM206.1,635.7h0.8v0.8h-0.8zM173.5,641.7h0.8v0.8h-0.8zM200.1,644.2h0.8v0.8h-0.8zM203.4,637.7h0.8v0.8h-0.8zM220.1,637.0h0.8v0.8h-0.8zM208.9,628.5h0.8v0.8h-0.8zM196.5,632.6h0.8v0.8h-0.8zM213.4,634.3h0.8v0.8h-0.8zM195.4,637.9h0.8v0.8h-0.8zM199.1,648.2h0.8v0.8h-0.8zM223.3,639.0h0.8v0.8h-0.8zM206.8,649.8h0.8v0.8h-0.8zM216.2,642.8h0.8v0.8h-0.8zM193.5,640.2h0.8v0.8h-0.8zM205.3,626.9h0.8v0.8h-0.8zM190.7,645.7h0.8v0.8h-0.8zM184.8,647.4h0.8v0.8h-0.8zM207.2,637.6h0.8v0.8h-0.8zM198.6,637.8h0.8v0.8h-0.8zM220.3,624.0h0.8v0.8h-0.8zM204.7,642.1h0.8v0.8h-0.8zM205.9,635.5h0.8v0.8h-0.8zM196.7,639.1h0.8v0.8h-0.8zM216.2,634.8h0.8v0.8h-0.8zM197.1,634.0h0.8v0.8h-0.8zM215.8,627.1h0.8v0.8h-0.8zM208.2,637.0h0.8v0.8h-0.8zM200.4,644.5h0.8v0.8h-0.8zM220.9,635.8h0.8v0.8h-0.8zM218.9,636.0h0.8v0.8h-0.8zM201.9,632.4h0.8v0.8h-0.8zM197.6,652.5h0.8v0.8h-0.8zM203.3,625.8h0.8v0.8h-0.8zM211.6,639.3h0.8v0.8h-0.8zM194.3,646.0h0.8v0.8h-0.8zM201.2,623.0h0.8v0.8h-0.8zM198.5,637.7h0.8v0.8h-0.8zM215.9,636.7h0.8v0.8h-0.8zM207.5,636.1h0.8v0.8h-0.8zM205.1,637.4h0.8v0.8h-0.8zM217.5,636.1h0.8v0.8h-0.8zM214.0,638.5h0.8v0.8h-0.8zM205.8,627.0h0.8v0.8h-0.8zM196.2,645.2h0.8v0.8h-0.8zM191.3,639.4h0.8v0.8h-0.8zM196.4,635.9h0.8v0.8h-0.8zM190.0,639.9h0.8v0.8h-0.8zM208.8,640.0h0.8v0.8h-0.8zM191.9,642.4h0.8v0.8h-0.8zM183.4,652.9h0.8v0.8h-0.8zM201.7,645.1h0.8v0.8h-0.8zM183.6,654.4h0.8v0.8h-0.8zM223.8,632.6h0.8v0.8h-0.8zM218.6,634.9h0.8v0.8h-0.8zM211.9,634.6h0.8v0.8h-0.8zM202.4,627.4h0.8v0.8h-0.8zM172.7,640.0h0.8v0.8h-0.8zM202.3,656.3h0.8v0.8h-0.8zM198.4,652.4h0.8v0.8h-0.8zM195.3,631.0h0.8v0.8h-0.8zM196.4,640.9h0.8v0.8h-0.8zM190.8,652.7h0.8v0.8h-0.8zM196.1,638.4h0.8v0.8h-0.8zM189.0,636.4h0.8v0.8h-0.8zM221.2,624.1h0.8v0.8h-0.8zM207.7,634.2h0.8v0.8h-0.8zM188.0,640.6h0.8v0.8h-0.8zM181.0,648.7h0.8v0.8h-0.8zM209.1,635.5h0.8v0.8h-0.8zM205.4,630.4h0.8v0.8h-0.8zM200.8,639.4h0.8v0.8h-0.8zM185.4,641.1h0.8v0.8h-0.8zM200.5,634.8h0.8v0.8h-0.8zM200.9,647.0h0.8v0.8h-0.8zM202.9,652.5h0.8v0.8h-0.8zM200.1,639.2h0.8v0.8h-0.8zM195.3,638.5h0.8v0.8h-0.8zM200.1,631.3h0.8v0.8h-0.8zM209.0,634.6h0.8v0.8h-0.8zM194.9,629.4h0.8v0.8h-0.8zM189.0,651.2h0.8v0.8h-0.8zM215.7,619.7h0.8v0.8h-0.8zM195.4,636.7h0.8v0.8h-0.8zM206.1,633.4h0.8v0.8h-0.8zM199.7,632.8h0.8v0.8h-0.8zM195.3,643.7h0.8v0.8h-0.8zM182.2,632.7h0.8v0.8h-0.8zM203.8,636.8h0.8v0.8h-0.8zM213.0,627.0h0.8v0.8h-0.8zM186.2,651.7h0.8v0.8h-0.8zM202.0,651.9h0.8v0.8h-0.8zM221.3,630.8h0.8v0.8h-0.8zM197.4,644.9h0.8v0.8h-0.8zM200.9,645.7h0.8v0.8h-0.8zM219.9,646.2h0.8v0.8h-0.8zM198.8,643.1h0.8v0.8h-0.8zM209.7,645.8h0.8v0.8h-0.8zM225.1,637.9h0.8v0.8h-0.8zM208.8,631.9h0.8v0.8h-0.8zM221.9,650.6h0.8v0.8h-0.8zM175.2,654.2h0.8v0.8h-0.8zM193.6,630.4h0.8v0.8h-0.8zM198.1,637.9h0.8v0.8h-0.8zM217.8,644.2h0.8v0.8h-0.8zM197.3,644.1h0.8v0.8h-0.8zM211.5,634.1h0.8v0.8h-0.8zM188.8,640.7h0.8v0.8h-0.8zM206.9,633.3h0.8v0.8h-0.8zM198.3,644.6h0.8v0.8h-0.8zM212.7,642.5h0.8v0.8h-0.8zM201.3,626.5h0.8v0.8h-0.8zM196.6,648.8h0.8v0.8h-0.8zM190.9,641.4h0.8v0.8h-0.8zM200.6,628.8h0.8v0.8h-0.8zM212.8,640.6h0.8v0.8h-0.8zM196.0,634.7h0.8v0.8h-0.8zM195.8,636.6h0.8v0.8h-0.8zM202.9,642.9h0.8v0.8h-0.8zM207.4,629.8h0.8v0.8h-0.8zM217.0,641.4h0.8v0.8h-0.8zM204.2,639.4h0.8v0.8h-0.8zM207.9,636.0h0.8v0.8h-0.8zM214.7,633.3h0.8v0.8h-0.8zM223.3,643.4h0.8v0.8h-0.8zM191.2,632.4h0.8v0.8h-0.8zM224.8,647.2h0.8v0.8h-0.8zM209.8,629.0h0.8v0.8h-0.8zM172.2,656.0h0.8v0.8h-0.8zM212.9,633.4h0.8v0.8h-0.8zM189.6,645.0h0.8v0.8h-0.8zM179.0,622.4h0.8v0.8h-0.8zM203.4,632.9h0.8v0.8h-0.8zM206.2,638.7h0.8v0.8h-0.8zM207.9,639.1h0.8v0.8h-0.8zM193.6,646.5h0.8v0.8h-0.8zM186.1,640.6h0.8v0.8h-0.8zM202.9,637.2h0.8v0.8h-0.8zM200.4,634.8h0.8v0.8h-0.8zM199.8,624.4h0.8v0.8h-0.8zM218.8,640.3h0.8v0.8h-0.8zM213.6,643.1h0.8v0.8h-0.8zM212.2,646.8h0.8v0.8h-0.8zM186.6,655.8h0.8v0.8h-0.8zM179.1,639.0h0.8v0.8h-0.8zM198.3,652.3h0.8v0.8h-0.8zM221.6,641.4h0.8v0.8h-0.8zM205.7,635.2h0.8v0.8h-0.8zM195.0,638.5h0.8v0.8h-0.8zM212.3,649.3h0.8v0.8h-0.8zM221.6,642.5h0.8v0.8h-0.8zM196.1,640.0h0.8v0.8h-0.8zM202.3,647.7h0.8v0.8h-0.8zM211.9,646.2h0.8v0.8h-0.8zM206.3,638.6h0.8v0.8h-0.8zM189.0,650.7h0.8v0.8h-0.8zM214.9,631.6h0.8v0.8h-0.8zM197.2,643.8h0.8v0.8h-0.8zM205.8,627.4h0.8v0.8h-0.8zM192.2,646.7h0.8v0.8h-0.8zM180.1,643.8h0.8v0.8h-0.8zM221.5,620.3h0.8v0.8h-0.8zM204.5,628.4h0.8v0.8h-0.8zM205.0,632.8h0.8v0.8h-0.8zM205.0,633.9h0.8v0.8h-0.8zM214.6,626.4h0.8v0.8h-0.8zM217.1,646.3h0.8v0.8h-0.8zM191.4,645.6h0.8v0.8h-0.8zM212.1,642.2h0.8v0.8h-0.8zM188.4,642.5h0.8v0.8h-0.8zM201.6,638.7h0.8v0.8h-0.8zM197.1,622.9h0.8v0.8h-0.8zM189.3,647.4h0.8v0.8h-0.8zM202.5,633.5h0.8v0.8h-0.8zM187.4,635.6h0.8v0.8h-0.8zM212.8,626.6h0.8v0.8h-0.8zM194.1,638.4h0.8v0.8h-0.8zM208.7,637.4h0.8v0.8h-0.8zM218.1,622.1h0.8v0.8h-0.8zM207.0,648.9h0.8v0.8h-0.8zM208.1,644.8h0.8v0.8h-0.8zM212.1,642.4h0.8v0.8h-0.8zM220.7,643.1h0.8v0.8h-0.8zM193.6,640.3h0.8v0.8h-0.8zM209.5,633.4h0.8v0.8h-0.8zM200.9,647.5h0.8v0.8h-0.8zM218.0,651.6h0.8v0.8h-0.8zM198.9,641.5h0.8v0.8h-0.8zM207.1,642.8h0.8v0.8h-0.8zM209.8,635.9h0.8v0.8h-0.8zM201.8,640.3h0.8v0.8h-0.8zM220.7,630.4h0.8v0.8h-0.8zM225.5,634.5h0.8v0.8h-0.8zM200.5,646.3h0.8v0.8h-0.8zM206.9,638.4h0.8v0.8h-0.8zM203.7,627.0h0.8v0.8h-0.8zM188.5,633.5h0.8v0.8h-0.8zM199.6,634.9h0.8v0.8h-0.8zM189.2,642.8h0.8v0.8h-0.8zM186.4,648.2h0.8v0.8h-0.8zM196.9,648.2h0.8v0.8h-0.8zM207.8,637.1h0.8v0.8h-0.8zM180.9,640.9h0.8v0.8h-0.8zM219.4,618.9h0.8v0.8h-0.8zM188.7,650.4h0.8v0.8h-0.8zM215.3,626.3h0.8v0.8h-0.8zM192.5,645.9h0.8v0.8h-0.8zM198.1,634.4h0.8v0.8h-0.8zM203.4,639.7h0.8v0.8h-0.8zM210.3,632.0h0.8v0.8h-0.8zM215.2,640.6h0.8v0.8h-0.8zM200.7,640.6h0.8v0.8h-0.8zM199.4,629.4h0.8v0.8h-0.8zM176.8,632.8h0.8v0.8h-0.8zM199.3,633.6h0.8v0.8h-0.8zM206.1,617.1h0.8v0.8h-0.8zM193.4,633.6h0.8v0.8h-0.8zM198.7,640.5h0.8v0.8h-0.8zM205.1,626.2h0.8v0.8h-0.8zM208.3,641.6h0.8v0.8h-0.8zM185.2,647.3h0.8v0.8h-0.8zM211.8,648.8h0.8v0.8h-0.8zM209.0,634.4h0.8v0.8h-0.8zM204.8,640.6h0.8v0.8h-0.8zM183.6,644.9h0.8v0.8h-0.8zM212.4,640.6h0.8v0.8h-0.8zM196.1,645.0h0.8v0.8h-0.8zM200.2,639.6h0.8v0.8h-0.8zM210.9,624.7h0.8v0.8h-0.8zM208.3,638.1h0.8v0.8h-0.8zM219.4,644.5h0.8v0.8h-0.8zM224.4,636.1h0.8v0.8h-0.8zM192.3,652.8h0.8v0.8h-0.8zM193.4,650.7h0.8v0.8h-0.8zM215.2,637.1h0.8v0.8h-0.8zM209.6,644.6h0.8v0.8h-0.8zM221.7,627.9h0.8v0.8h-0.8zM197.3,642.7h0.8v0.8h-0.8zM219.3,640.1h0.8v0.8h-0.8zM207.0,630.3h0.8v0.8h-0.8zM208.4,634.7h0.8v0.8h-0.8zM206.5,640.1h0.8v0.8h-0.8zM196.9,639.1h0.8v0.8h-0.8zM196.2,627.1h0.8v0.8h-0.8zM200.1,655.3h0.8v0.8h-0.8zM222.9,633.9h0.8v0.8h-0.8zM188.8,638.6h0.8v0.8h-0.8zM190.2,652.9h0.8v0.8h-0.8zM223.9,637.2h0.8v0.8h-0.8zM186.5,641.3h0.8v0.8h-0.8zM220.4,642.0h0.8v0.8h-0.8zM195.5,641.5h0.8v0.8h-0.8zM184.6,645.1h0.8v0.8h-0.8zM174.0,626.8h0.8v0.8h-0.8zM172.3,625.9h0.8v0.8h-0.8zM221.4,636.2h0.8v0.8h-0.8zM210.4,631.6h0.8v0.8h-0.8zM205.2,639.5h0.8v0.8h-0.8zM196.1,650.3h0.8v0.8h-0.8zM209.6,642.1h0.8v0.8h-0.8zM199.4,639.6h0.8v0.8h-0.8zM210.3,641.5h0.8v0.8h-0.8zM204.2,625.5h0.8v0.8h-0.8zM197.6,644.2h0.8v0.8h-0.8zM204.7,645.8h0.8v0.8h-0.8zM188.8,628.8h0.8v0.8h-0.8zM214.1,633.7h0.8v0.8h-0.8zM197.4,643.0h0.8v0.8h-0.8zM198.1,639.3h0.8v0.8h-0.8zM201.2,640.7h0.8v0.8h-0.8zM193.5,652.3h0.8v0.8h-0.8zM211.7,627.8h0.8v0.8h-0.8zM215.2,630.2h0.8v0.8h-0.8zM209.9,633.0h0.8v0.8h-0.8zM201.8,652.7h0.8v0.8h-0.8zM192.6,632.3h0.8v0.8h-0.8zM203.4,646.7h0.8v0.8h-0.8zM202.5,640.4h0.8v0.8h-0.8zM196.2,628.6h0.8v0.8h-0.8zM173.5,646.2h0.8v0.8h-0.8zM221.6,639.1h0.8v0.8h-0.8z" fill="#3a3ad0" opacity="0.45"/>
<path d="M221.0,629.4h0.8v0.8h-0.8zM207.5,624.0h0.8v0.8h-0.8zM218.8,616.7h0.8v0.8h-0.8zM192.1,628.3h0.8v0.8h-0.8zM208.4,624.9h0.8v0.8h-0.8zM200.6,623.5h0.8v0.8h-0.8zM213.0,629.4h0.8v0.8h-0.8zM187.8,626.3h0.8v0.8h-0.8zM198.0,618.4h0.8v0.8h-0.8zM228.8,622.1h0.8v0.8h-0.8zM189.3,630.1h0.8v0.8h-0.8zM197.0,622.9h0.8v0.8h-0.8zM194.3,617.4h0.8v0.8h-0.8zM208.0,637.7h0.8v0.8h-0.8zM199.3,629.3h0.8v0.8h-0.8zM202.1,635.9h0.8v0.8h-0.8zM208.0,631.1h0.8v0.8h-0.8zM208.3,624.7h0.8v0.8h-0.8zM216.0,620.6h0.8v0.8h-0.8zM217.0,615.0h0.8v0.8h-0.8zM210.4,620.6h0.8v0.8h-0.8zM183.4,628.9h0.8v0.8h-0.8zM200.3,629.8h0.8v0.8h-0.8zM215.2,617.7h0.8v0.8h-0.8zM203.9,620.2h0.8v0.8h-0.8zM206.9,617.5h0.8v0.8h-0.8zM213.0,617.5h0.8v0.8h-0.8zM200.9,627.9h0.8v0.8h-0.8zM209.7,619.1h0.8v0.8h-0.8zM197.3,618.9h0.8v0.8h-0.8zM194.4,628.7h0.8v0.8h-0.8zM206.3,627.7h0.8v0.8h-0.8zM205.7,630.2h0.8v0.8h-0.8zM211.5,640.0h0.8v0.8h-0.8zM216.2,620.1h0.8v0.8h-0.8zM207.2,624.7h0.8v0.8h-0.8zM217.9,626.7h0.8v0.8h-0.8zM208.9,634.7h0.8v0.8h-0.8zM199.2,627.7h0.8v0.8h-0.8zM202.9,637.0h0.8v0.8h-0.8zM203.4,625.2h0.8v0.8h-0.8zM209.0,620.1h0.8v0.8h-0.8zM206.0,627.4h0.8v0.8h-0.8zM185.8,634.4h0.8v0.8h-0.8zM212.4,625.7h0.8v0.8h-0.8zM194.2,633.2h0.8v0.8h-0.8zM203.0,633.5h0.8v0.8h-0.8zM205.9,644.3h0.8v0.8h-0.8zM195.0,639.8h0.8v0.8h-0.8zM208.8,642.8h0.8v0.8h-0.8zM181.6,614.4h0.8v0.8h-0.8zM209.6,625.5h0.8v0.8h-0.8zM210.1,624.2h0.8v0.8h-0.8zM205.7,642.6h0.8v0.8h-0.8zM219.1,629.9h0.8v0.8h-0.8zM208.9,631.6h0.8v0.8h-0.8zM217.2,633.5h0.8v0.8h-0.8zM212.1,630.7h0.8v0.8h-0.8zM221.3,630.2h0.8v0.8h-0.8zM213.9,618.0h0.8v0.8h-0.8zM209.4,613.3h0.8v0.8h-0.8zM191.8,614.8h0.8v0.8h-0.8zM216.5,623.1h0.8v0.8h-0.8zM183.7,632.7h0.8v0.8h-0.8zM199.5,626.4h0.8v0.8h-0.8zM206.1,623.8h0.8v0.8h-0.8zM223.0,619.2h0.8v0.8h-0.8zM223.5,618.7h0.8v0.8h-0.8zM193.2,637.4h0.8v0.8h-0.8zM200.4,625.4h0.8v0.8h-0.8zM210.0,631.2h0.8v0.8h-0.8zM197.4,622.1h0.8v0.8h-0.8zM204.6,622.7h0.8v0.8h-0.8zM192.3,636.5h0.8v0.8h-0.8zM219.1,610.0h0.8v0.8h-0.8zM182.1,622.2h0.8v0.8h-0.8zM196.3,617.4h0.8v0.8h-0.8zM210.9,630.9h0.8v0.8h-0.8zM206.0,612.4h0.8v0.8h-0.8zM198.5,624.2h0.8v0.8h-0.8zM199.0,621.0h0.8v0.8h-0.8zM205.7,633.9h0.8v0.8h-0.8zM206.6,619.3h0.8v0.8h-0.8zM220.0,622.2h0.8v0.8h-0.8zM201.0,627.8h0.8v0.8h-0.8zM205.8,622.6h0.8v0.8h-0.8zM204.3,633.1h0.8v0.8h-0.8zM207.4,629.5h0.8v0.8h-0.8zM206.7,640.4h0.8v0.8h-0.8zM204.0,629.2h0.8v0.8h-0.8zM202.7,626.9h0.8v0.8h-0.8zM190.8,624.1h0.8v0.8h-0.8zM204.3,621.3h0.8v0.8h-0.8zM226.2,621.0h0.8v0.8h-0.8zM211.9,616.3h0.8v0.8h-0.8zM222.4,613.3h0.8v0.8h-0.8zM190.4,629.6h0.8v0.8h-0.8zM209.1,632.9h0.8v0.8h-0.8zM210.3,634.4h0.8v0.8h-0.8zM206.0,631.0h0.8v0.8h-0.8zM203.0,619.4h0.8v0.8h-0.8zM221.8,614.7h0.8v0.8h-0.8zM214.4,622.7h0.8v0.8h-0.8zM190.5,634.5h0.8v0.8h-0.8zM221.8,621.1h0.8v0.8h-0.8zM207.2,627.1h0.8v0.8h-0.8zM204.7,632.7h0.8v0.8h-0.8zM206.7,623.8h0.8v0.8h-0.8zM191.6,617.9h0.8v0.8h-0.8zM208.6,631.0h0.8v0.8h-0.8zM211.6,619.9h0.8v0.8h-0.8zM203.6,614.9h0.8v0.8h-0.8zM212.3,630.3h0.8v0.8h-0.8zM195.5,616.1h0.8v0.8h-0.8zM185.0,620.7h0.8v0.8h-0.8zM208.4,629.8h0.8v0.8h-0.8zM221.6,614.2h0.8v0.8h-0.8zM204.5,624.3h0.8v0.8h-0.8zM206.0,617.7h0.8v0.8h-0.8zM207.8,645.5h0.8v0.8h-0.8zM205.4,616.0h0.8v0.8h-0.8zM197.8,621.2h0.8v0.8h-0.8zM219.4,614.1h0.8v0.8h-0.8zM212.5,628.0h0.8v0.8h-0.8zM205.7,639.4h0.8v0.8h-0.8zM194.8,621.0h0.8v0.8h-0.8zM222.0,621.0h0.8v0.8h-0.8zM201.9,628.7h0.8v0.8h-0.8zM215.4,625.3h0.8v0.8h-0.8zM194.1,628.4h0.8v0.8h-0.8zM213.9,623.5h0.8v0.8h-0.8zM178.5,630.2h0.8v0.8h-0.8zM208.2,615.0h0.8v0.8h-0.8zM191.6,625.0h0.8v0.8h-0.8zM185.4,617.6h0.8v0.8h-0.8zM225.1,611.7h0.8v0.8h-0.8zM217.5,619.2h0.8v0.8h-0.8zM182.4,626.4h0.8v0.8h-0.8zM209.7,621.7h0.8v0.8h-0.8zM216.4,621.8h0.8v0.8h-0.8zM198.0,633.8h0.8v0.8h-0.8zM205.5,627.7h0.8v0.8h-0.8zM217.1,624.3h0.8v0.8h-0.8zM192.3,633.6h0.8v0.8h-0.8zM205.3,634.0h0.8v0.8h-0.8zM196.3,621.4h0.8v0.8h-0.8zM179.7,627.5h0.8v0.8h-0.8zM185.0,623.7h0.8v0.8h-0.8zM217.8,616.2h0.8v0.8h-0.8zM218.4,620.5h0.8v0.8h-0.8zM201.2,621.4h0.8v0.8h-0.8zM206.0,620.0h0.8v0.8h-0.8zM207.8,632.1h0.8v0.8h-0.8zM202.6,613.6h0.8v0.8h-0.8zM196.0,638.6h0.8v0.8h-0.8zM204.8,632.9h0.8v0.8h-0.8zM204.6,631.7h0.8v0.8h-0.8zM182.2,634.5h0.8v0.8h-0.8zM206.3,622.9h0.8v0.8h-0.8zM222.8,612.2h0.8v0.8h-0.8zM217.0,622.9h0.8v0.8h-0.8zM214.2,622.2h0.8v0.8h-0.8zM207.4,616.9h0.8v0.8h-0.8zM212.4,625.6h0.8v0.8h-0.8zM184.6,632.8h0.8v0.8h-0.8zM215.9,628.5h0.8v0.8h-0.8zM215.3,632.5h0.8v0.8h-0.8zM207.7,624.0h0.8v0.8h-0.8zM184.9,632.2h0.8v0.8h-0.8zM216.7,633.6h0.8v0.8h-0.8zM189.8,613.5h0.8v0.8h-0.8zM204.4,631.4h0.8v0.8h-0.8zM199.5,630.1h0.8v0.8h-0.8zM206.9,630.5h0.8v0.8h-0.8zM207.3,628.7h0.8v0.8h-0.8zM202.7,623.8h0.8v0.8h-0.8zM209.9,627.1h0.8v0.8h-0.8zM204.5,626.7h0.8v0.8h-0.8zM221.9,619.6h0.8v0.8h-0.8zM201.7,629.3h0.8v0.8h-0.8zM200.7,624.7h0.8v0.8h-0.8zM225.3,628.0h0.8v0.8h-0.8zM212.3,623.2h0.8v0.8h-0.8zM205.5,625.6h0.8v0.8h-0.8zM209.9,629.9h0.8v0.8h-0.8zM209.9,629.0h0.8v0.8h-0.8zM208.0,625.1h0.8v0.8h-0.8zM204.6,626.8h0.8v0.8h-0.8zM194.4,634.7h0.8v0.8h-0.8zM214.2,628.4h0.8v0.8h-0.8zM204.9,624.6h0.8v0.8h-0.8zM195.4,622.9h0.8v0.8h-0.8zM202.8,618.6h0.8v0.8h-0.8zM195.7,627.6h0.8v0.8h-0.8zM212.2,635.7h0.8v0.8h-0.8zM204.6,621.2h0.8v0.8h-0.8z" fill="#3a3ad0" opacity="0.45"/>
<ellipse cx="203.00" cy="639.00" rx="22.00" ry="10.00" transform="rotate(-12 203.00 639.00)" fill="none" stroke="#2828d0" stroke-width="0.6" opacity="0.9"/>
<ellipse cx="202.91" cy="639.05" rx="20.99" ry="9.54" transform="rotate(-12 202.91 639.05)" fill="none" stroke="#2828d0" stroke-width="0.6" opacity="0.9"/>
<ellipse cx="202.82" cy="639.09" rx="19.99" ry="9.09" transform="rotate(-12 202.82 639.09)" fill="none" stroke="#2828d0" stroke-width="0.6" opacity="0.9"/>
<ellipse cx="202.73" cy="639.14" rx="18.98" ry="8.63" transform="rotate(-12 202.73 639.14)" fill="none" stroke="#2828d0" stroke-width="0.6" opacity="0.9"/>
<ellipse cx="202.63" cy="639.18" rx="17.98" ry="8.17" transform="rotate(-12 202.63 639.18)" fill="none" stroke="#2828d0" stroke-width="0.6" opacity="0.9"/>
<ellipse cx="202.54" cy="639.23" rx="16.97" ry="7.71" transform="rotate(-12 202.54 639.23)" fill="none" stroke="#2828d0" stroke-width="0.6" opacity="0.9"/>
<ellipse cx="202.45" cy="639.27" rx="15.97" ry="7.26" transform="rotate(-12 202.45 639.27)" fill="none" stroke="#2828d0" stroke-width="0.6" opacity="0.9"/>
<ellipse cx="202.36" cy="639.32" rx="14.96" ry="6.80" transform="rotate(-12 202.36 639.32)" fill="none" stroke="#2828d0" stroke-width="0.6" opacity="0.9"/>
<ellipse cx="199.80" cy="640.20" rx="16.00" ry="6.80" transform="rotate(-10 199.80 640.20)" fill="#1e1ed6" stroke="none" stroke-width="0.5" opacity="1"/>
<ellipse cx="200.50" cy="640.00" rx="12.50" ry="5.80" transform="rotate(-10 200.50 640.00)" fill="#10c8f0" stroke="none" stroke-width="0.5" opacity="1"/>
<ellipse cx="201.00" cy="639.80" rx="10.00" ry="4.80" transform="rotate(-10 201.00 639.80)" fill="#28c428" stroke="none" stroke-width="0.5" opacity="1"/>
<ellipse cx="201.50" cy="639.50" rx="8.20" ry="3.80" transform="rotate(-10 201.50 639.50)" fill="#f0f010" stroke="none" stroke-width="0.5" opacity="1"/>
<ellipse cx="202.50" cy="639.40" rx="6.30" ry="3.00" transform="rotate(-10 202.50 639.40)" fill="#ff8a10" stroke="none" stroke-width="0.5" opacity="1"/>
<ellipse cx="202.80" cy="639.30" rx="5.00" ry="2.40" transform="rotate(-10 202.80 639.30)" fill="#ff1010" stroke="none" stroke-width="0.5" opacity="1"/>
<ellipse cx="203.50" cy="639.00" rx="1.60" ry="0.60" transform="rotate(-10 203.50 639.00)" fill="#fff0f0" stroke="none" stroke-width="0.5" opacity="1"/>
<line x1="169.80" y1="602.30" x2="169.80" y2="659.70" stroke="#34428a" stroke-width="1.3"/>
<line x1="169.30" y1="659.20" x2="230.40" y2="659.20" stroke="#34428a" stroke-width="1.3"/>
<line x1="197.10" y1="602.30" x2="197.10" y2="659.20" stroke="#5a5a5a" stroke-width="0.8"/>
<line x1="169.80" y1="633.10" x2="230.40" y2="633.10" stroke="#5a5a5a" stroke-width="0.8"/>
<text x="153.84" y="608.40" font-size="8.51" textLength="8.85" lengthAdjust="spacingAndGlyphs" fill="#5450aa" stroke="#5450aa" stroke-width="0.3">10</text>
<text x="162.79" y="604.50" font-size="5.95" fill="#5450aa" stroke="#5450aa" stroke-width="0.22">4</text>
<text x="153.84" y="626.70" font-size="8.51" textLength="8.85" lengthAdjust="spacingAndGlyphs" fill="#5450aa" stroke="#5450aa" stroke-width="0.3">10</text>
<text x="162.79" y="622.80" font-size="5.95" fill="#5450aa" stroke="#5450aa" stroke-width="0.22">3</text>
<text x="153.84" y="645.10" font-size="8.51" textLength="8.85" lengthAdjust="spacingAndGlyphs" fill="#5450aa" stroke="#5450aa" stroke-width="0.3">10</text>
<text x="162.79" y="641.20" font-size="5.95" fill="#5450aa" stroke="#5450aa" stroke-width="0.22">2</text>
<text x="153.84" y="661.80" font-size="8.51" textLength="8.85" lengthAdjust="spacingAndGlyphs" fill="#5450aa" stroke="#5450aa" stroke-width="0.3">10</text>
<text x="162.79" y="657.90" font-size="5.95" fill="#5450aa" stroke="#5450aa" stroke-width="0.22">1</text>
<text x="167.37" y="671.80" font-size="8.51" textLength="8.85" lengthAdjust="spacingAndGlyphs" fill="#5450aa" stroke="#5450aa" stroke-width="0.3">10</text>
<text x="176.32" y="667.90" font-size="5.95" fill="#5450aa" stroke="#5450aa" stroke-width="0.22">1</text>
<text x="185.17" y="671.80" font-size="8.51" textLength="8.85" lengthAdjust="spacingAndGlyphs" fill="#5450aa" stroke="#5450aa" stroke-width="0.3">10</text>
<text x="194.12" y="667.90" font-size="5.95" fill="#5450aa" stroke="#5450aa" stroke-width="0.22">2</text>
<text x="204.87" y="671.80" font-size="8.51" textLength="8.85" lengthAdjust="spacingAndGlyphs" fill="#5450aa" stroke="#5450aa" stroke-width="0.3">10</text>
<text x="213.82" y="667.90" font-size="5.95" fill="#5450aa" stroke="#5450aa" stroke-width="0.22">3</text>
<text x="225.07" y="671.80" font-size="8.51" textLength="8.85" lengthAdjust="spacingAndGlyphs" fill="#5450aa" stroke="#5450aa" stroke-width="0.3">10</text>
<text x="234.02" y="667.90" font-size="5.95" fill="#5450aa" stroke="#5450aa" stroke-width="0.22">4</text>
<text x="170.40" y="610.20" font-size="8.2" font-weight="bold" textLength="21.5" lengthAdjust="spacingAndGlyphs" fill="#111" stroke="#111" stroke-width="0.3">0.24%</text>
<text x="208.30" y="610.20" font-size="8.2" font-weight="bold" textLength="22.1" lengthAdjust="spacingAndGlyphs" fill="#111" stroke="#111" stroke-width="0.3">3.01%</text>
<text x="170.40" y="658.20" font-size="8.2" font-weight="bold" textLength="26.3" lengthAdjust="spacingAndGlyphs" fill="#111" stroke="#111" stroke-width="0.3">23.83%</text>
<text x="203.50" y="658.20" font-size="8.2" font-weight="bold" textLength="26.9" lengthAdjust="spacingAndGlyphs" fill="#111" stroke="#111" stroke-width="0.3">72.92%</text>
<path d="M294.6,632.5h0.8v0.8h-0.8zM303.1,644.5h0.8v0.8h-0.8zM317.5,635.6h0.8v0.8h-0.8zM295.8,634.9h0.8v0.8h-0.8zM288.0,631.3h0.8v0.8h-0.8zM272.1,629.9h0.8v0.8h-0.8zM308.7,633.0h0.8v0.8h-0.8zM305.7,623.8h0.8v0.8h-0.8zM298.9,635.9h0.8v0.8h-0.8zM303.7,633.0h0.8v0.8h-0.8zM309.4,640.5h0.8v0.8h-0.8zM308.8,618.2h0.8v0.8h-0.8zM283.1,650.7h0.8v0.8h-0.8zM293.9,646.3h0.8v0.8h-0.8zM299.1,637.7h0.8v0.8h-0.8zM313.1,632.9h0.8v0.8h-0.8zM273.3,638.1h0.8v0.8h-0.8zM302.3,629.2h0.8v0.8h-0.8zM299.8,632.0h0.8v0.8h-0.8zM302.1,631.6h0.8v0.8h-0.8zM306.8,631.5h0.8v0.8h-0.8zM283.3,644.2h0.8v0.8h-0.8zM300.9,636.7h0.8v0.8h-0.8zM276.1,639.1h0.8v0.8h-0.8zM308.8,635.6h0.8v0.8h-0.8zM283.3,649.6h0.8v0.8h-0.8zM301.4,635.4h0.8v0.8h-0.8zM290.1,637.7h0.8v0.8h-0.8zM298.1,619.5h0.8v0.8h-0.8zM289.2,629.6h0.8v0.8h-0.8zM301.7,636.3h0.8v0.8h-0.8zM297.1,639.7h0.8v0.8h-0.8zM320.6,644.1h0.8v0.8h-0.8zM283.4,653.3h0.8v0.8h-0.8zM294.4,624.9h0.8v0.8h-0.8zM311.1,627.1h0.8v0.8h-0.8zM289.5,645.4h0.8v0.8h-0.8zM293.8,638.8h0.8v0.8h-0.8zM312.3,635.2h0.8v0.8h-0.8zM276.8,632.9h0.8v0.8h-0.8zM279.9,642.7h0.8v0.8h-0.8zM296.9,635.0h0.8v0.8h-0.8zM309.4,634.3h0.8v0.8h-0.8zM294.4,644.8h0.8v0.8h-0.8zM303.5,636.7h0.8v0.8h-0.8zM311.5,638.6h0.8v0.8h-0.8zM298.6,636.6h0.8v0.8h-0.8zM288.7,632.1h0.8v0.8h-0.8zM266.8,645.8h0.8v0.8h-0.8zM284.8,632.7h0.8v0.8h-0.8zM291.9,640.1h0.8v0.8h-0.8zM308.8,631.9h0.8v0.8h-0.8zM294.5,641.2h0.8v0.8h-0.8zM279.3,649.1h0.8v0.8h-0.8zM289.2,630.5h0.8v0.8h-0.8zM282.0,631.1h0.8v0.8h-0.8zM299.2,635.2h0.8v0.8h-0.8zM302.8,639.4h0.8v0.8h-0.8zM305.9,636.8h0.8v0.8h-0.8zM288.4,641.0h0.8v0.8h-0.8zM294.5,637.4h0.8v0.8h-0.8zM311.6,626.9h0.8v0.8h-0.8zM303.7,638.0h0.8v0.8h-0.8zM295.3,633.2h0.8v0.8h-0.8zM295.2,635.2h0.8v0.8h-0.8zM280.4,633.6h0.8v0.8h-0.8zM273.6,639.7h0.8v0.8h-0.8zM310.3,635.9h0.8v0.8h-0.8zM313.5,640.3h0.8v0.8h-0.8zM299.1,640.4h0.8v0.8h-0.8zM298.2,636.9h0.8v0.8h-0.8zM296.6,641.6h0.8v0.8h-0.8zM272.5,641.3h0.8v0.8h-0.8zM292.4,631.7h0.8v0.8h-0.8zM298.3,649.0h0.8v0.8h-0.8zM295.7,647.4h0.8v0.8h-0.8zM311.8,631.0h0.8v0.8h-0.8zM292.2,638.4h0.8v0.8h-0.8zM298.1,654.1h0.8v0.8h-0.8zM300.1,636.7h0.8v0.8h-0.8zM286.5,635.8h0.8v0.8h-0.8zM287.8,636.1h0.8v0.8h-0.8zM299.2,641.6h0.8v0.8h-0.8zM289.0,628.0h0.8v0.8h-0.8zM315.9,633.7h0.8v0.8h-0.8zM295.1,629.1h0.8v0.8h-0.8zM297.9,637.2h0.8v0.8h-0.8zM301.6,635.1h0.8v0.8h-0.8zM300.4,635.8h0.8v0.8h-0.8zM293.7,620.5h0.8v0.8h-0.8zM297.1,634.1h0.8v0.8h-0.8zM284.8,647.2h0.8v0.8h-0.8zM285.1,628.5h0.8v0.8h-0.8zM292.9,634.4h0.8v0.8h-0.8zM274.6,653.4h0.8v0.8h-0.8zM290.0,634.9h0.8v0.8h-0.8zM271.0,652.6h0.8v0.8h-0.8zM296.4,640.2h0.8v0.8h-0.8zM300.4,626.1h0.8v0.8h-0.8zM287.9,645.1h0.8v0.8h-0.8zM296.8,647.8h0.8v0.8h-0.8zM293.2,646.5h0.8v0.8h-0.8zM311.0,628.0h0.8v0.8h-0.8zM292.7,641.0h0.8v0.8h-0.8zM292.0,638.1h0.8v0.8h-0.8zM296.0,629.0h0.8v0.8h-0.8zM286.5,641.5h0.8v0.8h-0.8zM290.0,631.1h0.8v0.8h-0.8zM288.5,640.8h0.8v0.8h-0.8zM300.8,637.1h0.8v0.8h-0.8zM301.2,647.4h0.8v0.8h-0.8zM290.7,634.4h0.8v0.8h-0.8zM306.0,635.5h0.8v0.8h-0.8zM290.9,633.4h0.8v0.8h-0.8zM290.1,639.5h0.8v0.8h-0.8zM297.7,627.3h0.8v0.8h-0.8zM285.9,639.4h0.8v0.8h-0.8zM279.4,625.2h0.8v0.8h-0.8zM273.0,631.6h0.8v0.8h-0.8zM285.5,637.9h0.8v0.8h-0.8zM292.5,635.8h0.8v0.8h-0.8zM310.6,632.3h0.8v0.8h-0.8zM306.8,635.4h0.8v0.8h-0.8zM275.9,632.4h0.8v0.8h-0.8zM305.6,631.1h0.8v0.8h-0.8zM306.4,628.8h0.8v0.8h-0.8zM271.6,637.0h0.8v0.8h-0.8zM290.3,629.4h0.8v0.8h-0.8zM307.5,634.6h0.8v0.8h-0.8zM293.7,630.1h0.8v0.8h-0.8zM321.1,632.7h0.8v0.8h-0.8zM284.9,649.0h0.8v0.8h-0.8zM290.5,644.1h0.8v0.8h-0.8zM282.1,636.0h0.8v0.8h-0.8zM309.7,628.9h0.8v0.8h-0.8zM288.1,646.4h0.8v0.8h-0.8zM293.4,625.9h0.8v0.8h-0.8zM311.4,633.7h0.8v0.8h-0.8zM305.9,629.3h0.8v0.8h-0.8zM300.6,639.2h0.8v0.8h-0.8zM272.9,640.3h0.8v0.8h-0.8zM295.4,629.9h0.8v0.8h-0.8zM306.7,636.2h0.8v0.8h-0.8zM282.6,636.0h0.8v0.8h-0.8zM289.9,641.6h0.8v0.8h-0.8zM289.2,640.1h0.8v0.8h-0.8zM290.5,635.4h0.8v0.8h-0.8zM316.6,645.3h0.8v0.8h-0.8zM307.9,634.8h0.8v0.8h-0.8zM290.1,638.7h0.8v0.8h-0.8zM282.0,652.3h0.8v0.8h-0.8zM295.7,630.6h0.8v0.8h-0.8zM289.2,642.5h0.8v0.8h-0.8zM300.2,630.4h0.8v0.8h-0.8zM292.7,619.3h0.8v0.8h-0.8zM294.5,647.4h0.8v0.8h-0.8zM299.9,627.7h0.8v0.8h-0.8zM304.5,632.2h0.8v0.8h-0.8zM284.7,641.2h0.8v0.8h-0.8zM292.8,655.3h0.8v0.8h-0.8zM307.6,636.4h0.8v0.8h-0.8zM305.7,633.9h0.8v0.8h-0.8zM280.6,628.2h0.8v0.8h-0.8zM298.0,641.5h0.8v0.8h-0.8zM293.4,635.3h0.8v0.8h-0.8zM273.2,633.5h0.8v0.8h-0.8zM316.4,622.7h0.8v0.8h-0.8zM273.5,644.5h0.8v0.8h-0.8zM314.3,629.4h0.8v0.8h-0.8zM298.5,648.6h0.8v0.8h-0.8zM282.6,639.9h0.8v0.8h-0.8zM310.9,644.6h0.8v0.8h-0.8zM293.9,635.8h0.8v0.8h-0.8zM297.6,638.6h0.8v0.8h-0.8zM276.0,639.2h0.8v0.8h-0.8zM292.5,641.8h0.8v0.8h-0.8zM284.2,646.5h0.8v0.8h-0.8zM301.1,636.5h0.8v0.8h-0.8zM278.2,628.3h0.8v0.8h-0.8zM291.2,637.0h0.8v0.8h-0.8zM286.1,639.3h0.8v0.8h-0.8zM286.2,638.2h0.8v0.8h-0.8zM299.2,654.6h0.8v0.8h-0.8zM288.8,645.0h0.8v0.8h-0.8zM309.5,633.1h0.8v0.8h-0.8zM292.2,642.9h0.8v0.8h-0.8zM312.0,644.2h0.8v0.8h-0.8zM310.9,629.5h0.8v0.8h-0.8zM291.0,635.9h0.8v0.8h-0.8zM307.7,636.7h0.8v0.8h-0.8zM315.4,636.1h0.8v0.8h-0.8zM286.6,625.9h0.8v0.8h-0.8zM286.7,645.3h0.8v0.8h-0.8zM308.8,636.3h0.8v0.8h-0.8zM302.8,632.4h0.8v0.8h-0.8zM281.2,636.4h0.8v0.8h-0.8zM298.6,642.3h0.8v0.8h-0.8zM317.2,639.5h0.8v0.8h-0.8zM310.3,623.2h0.8v0.8h-0.8zM297.9,635.6h0.8v0.8h-0.8zM305.3,638.1h0.8v0.8h-0.8zM309.7,642.1h0.8v0.8h-0.8zM285.9,635.8h0.8v0.8h-0.8zM298.2,636.4h0.8v0.8h-0.8zM298.9,640.6h0.8v0.8h-0.8zM306.5,636.1h0.8v0.8h-0.8zM274.6,624.9h0.8v0.8h-0.8zM287.1,637.9h0.8v0.8h-0.8zM279.8,640.3h0.8v0.8h-0.8zM306.1,644.2h0.8v0.8h-0.8zM307.7,626.3h0.8v0.8h-0.8zM309.9,639.3h0.8v0.8h-0.8zM315.1,629.5h0.8v0.8h-0.8zM291.6,642.8h0.8v0.8h-0.8zM297.0,630.9h0.8v0.8h-0.8zM289.4,636.8h0.8v0.8h-0.8zM282.6,634.9h0.8v0.8h-0.8zM300.2,636.0h0.8v0.8h-0.8zM282.9,642.0h0.8v0.8h-0.8zM313.1,641.5h0.8v0.8h-0.8zM288.8,634.5h0.8v0.8h-0.8zM296.5,627.5h0.8v0.8h-0.8zM286.2,647.5h0.8v0.8h-0.8zM299.2,637.8h0.8v0.8h-0.8zM287.6,631.4h0.8v0.8h-0.8zM288.6,644.8h0.8v0.8h-0.8zM291.1,635.3h0.8v0.8h-0.8zM290.8,635.3h0.8v0.8h-0.8zM304.3,632.3h0.8v0.8h-0.8zM281.3,634.3h0.8v0.8h-0.8zM302.4,637.3h0.8v0.8h-0.8zM308.0,622.2h0.8v0.8h-0.8zM305.2,631.5h0.8v0.8h-0.8zM299.4,640.4h0.8v0.8h-0.8zM293.0,641.1h0.8v0.8h-0.8zM282.4,648.2h0.8v0.8h-0.8zM291.2,638.1h0.8v0.8h-0.8zM300.4,631.0h0.8v0.8h-0.8zM299.4,634.3h0.8v0.8h-0.8zM306.3,634.7h0.8v0.8h-0.8zM274.5,629.9h0.8v0.8h-0.8zM273.8,639.6h0.8v0.8h-0.8zM307.0,635.8h0.8v0.8h-0.8zM288.0,640.9h0.8v0.8h-0.8zM299.8,636.7h0.8v0.8h-0.8zM300.4,640.2h0.8v0.8h-0.8zM294.9,638.5h0.8v0.8h-0.8zM274.1,635.5h0.8v0.8h-0.8zM290.2,633.3h0.8v0.8h-0.8zM272.4,644.1h0.8v0.8h-0.8zM292.7,646.9h0.8v0.8h-0.8zM289.0,643.0h0.8v0.8h-0.8zM278.0,649.3h0.8v0.8h-0.8zM296.6,633.7h0.8v0.8h-0.8zM284.7,628.0h0.8v0.8h-0.8zM290.4,636.0h0.8v0.8h-0.8zM304.7,630.5h0.8v0.8h-0.8zM278.7,643.1h0.8v0.8h-0.8zM297.0,639.4h0.8v0.8h-0.8zM312.4,629.9h0.8v0.8h-0.8zM298.5,637.3h0.8v0.8h-0.8zM295.1,634.9h0.8v0.8h-0.8zM309.2,632.3h0.8v0.8h-0.8zM290.6,628.1h0.8v0.8h-0.8zM307.5,631.3h0.8v0.8h-0.8zM305.6,629.1h0.8v0.8h-0.8zM289.8,645.6h0.8v0.8h-0.8zM296.5,642.8h0.8v0.8h-0.8zM284.6,626.4h0.8v0.8h-0.8zM308.1,640.5h0.8v0.8h-0.8zM286.8,630.8h0.8v0.8h-0.8zM291.3,626.7h0.8v0.8h-0.8zM291.7,638.5h0.8v0.8h-0.8zM296.7,631.7h0.8v0.8h-0.8zM317.7,641.5h0.8v0.8h-0.8zM304.3,629.8h0.8v0.8h-0.8zM284.6,640.7h0.8v0.8h-0.8zM296.7,628.4h0.8v0.8h-0.8zM317.5,624.6h0.8v0.8h-0.8zM300.4,647.1h0.8v0.8h-0.8zM280.6,638.7h0.8v0.8h-0.8zM299.0,638.0h0.8v0.8h-0.8zM304.5,641.8h0.8v0.8h-0.8zM269.4,641.0h0.8v0.8h-0.8zM291.9,633.9h0.8v0.8h-0.8zM272.6,654.8h0.8v0.8h-0.8zM302.5,639.1h0.8v0.8h-0.8zM276.6,651.4h0.8v0.8h-0.8zM292.8,651.1h0.8v0.8h-0.8zM293.8,635.8h0.8v0.8h-0.8zM313.4,640.1h0.8v0.8h-0.8zM287.1,637.6h0.8v0.8h-0.8zM280.1,644.4h0.8v0.8h-0.8zM307.8,649.7h0.8v0.8h-0.8zM289.1,638.8h0.8v0.8h-0.8zM297.0,639.5h0.8v0.8h-0.8zM287.3,644.7h0.8v0.8h-0.8zM275.4,644.1h0.8v0.8h-0.8zM293.4,640.4h0.8v0.8h-0.8zM307.9,641.3h0.8v0.8h-0.8zM320.1,648.5h0.8v0.8h-0.8zM295.2,638.1h0.8v0.8h-0.8zM286.8,633.8h0.8v0.8h-0.8zM314.6,621.4h0.8v0.8h-0.8zM299.8,621.3h0.8v0.8h-0.8zM286.0,641.8h0.8v0.8h-0.8zM278.6,650.1h0.8v0.8h-0.8zM308.3,638.0h0.8v0.8h-0.8zM283.8,647.5h0.8v0.8h-0.8zM307.0,632.5h0.8v0.8h-0.8zM286.4,636.0h0.8v0.8h-0.8zM294.2,631.2h0.8v0.8h-0.8zM274.9,643.8h0.8v0.8h-0.8zM301.4,642.0h0.8v0.8h-0.8zM301.7,624.8h0.8v0.8h-0.8zM317.9,627.2h0.8v0.8h-0.8zM279.7,643.8h0.8v0.8h-0.8zM283.9,637.0h0.8v0.8h-0.8zM278.3,628.7h0.8v0.8h-0.8zM280.5,645.1h0.8v0.8h-0.8zM294.7,644.0h0.8v0.8h-0.8zM303.9,635.8h0.8v0.8h-0.8zM302.4,626.6h0.8v0.8h-0.8zM302.5,632.6h0.8v0.8h-0.8zM304.5,626.4h0.8v0.8h-0.8zM292.3,633.1h0.8v0.8h-0.8zM302.2,630.1h0.8v0.8h-0.8zM303.2,633.5h0.8v0.8h-0.8zM301.7,631.0h0.8v0.8h-0.8zM293.5,638.5h0.8v0.8h-0.8zM304.4,631.2h0.8v0.8h-0.8zM306.5,629.7h0.8v0.8h-0.8zM290.1,635.6h0.8v0.8h-0.8zM311.4,633.3h0.8v0.8h-0.8zM282.5,637.4h0.8v0.8h-0.8zM318.3,638.3h0.8v0.8h-0.8zM318.5,641.7h0.8v0.8h-0.8zM288.7,640.6h0.8v0.8h-0.8zM314.9,630.1h0.8v0.8h-0.8zM289.4,626.9h0.8v0.8h-0.8zM279.4,644.9h0.8v0.8h-0.8zM289.6,644.2h0.8v0.8h-0.8zM305.4,645.0h0.8v0.8h-0.8zM302.2,636.9h0.8v0.8h-0.8zM320.9,630.0h0.8v0.8h-0.8zM293.7,632.1h0.8v0.8h-0.8zM309.3,631.6h0.8v0.8h-0.8zM297.5,629.6h0.8v0.8h-0.8zM303.2,634.9h0.8v0.8h-0.8zM295.6,635.2h0.8v0.8h-0.8zM303.1,626.0h0.8v0.8h-0.8zM295.8,633.3h0.8v0.8h-0.8zM305.5,631.9h0.8v0.8h-0.8zM307.2,636.9h0.8v0.8h-0.8zM280.0,634.9h0.8v0.8h-0.8zM316.9,633.9h0.8v0.8h-0.8zM305.2,627.9h0.8v0.8h-0.8zM313.8,633.5h0.8v0.8h-0.8zM283.2,638.5h0.8v0.8h-0.8zM307.6,620.0h0.8v0.8h-0.8zM299.4,640.9h0.8v0.8h-0.8zM275.2,644.7h0.8v0.8h-0.8zM293.7,637.5h0.8v0.8h-0.8zM288.6,620.0h0.8v0.8h-0.8zM315.3,622.9h0.8v0.8h-0.8zM305.5,635.3h0.8v0.8h-0.8zM295.4,648.9h0.8v0.8h-0.8zM305.6,639.5h0.8v0.8h-0.8zM299.2,640.2h0.8v0.8h-0.8zM308.4,621.6h0.8v0.8h-0.8zM300.4,639.1h0.8v0.8h-0.8zM293.2,646.6h0.8v0.8h-0.8zM286.6,646.0h0.8v0.8h-0.8zM306.0,633.1h0.8v0.8h-0.8zM281.6,625.0h0.8v0.8h-0.8zM304.4,639.3h0.8v0.8h-0.8zM294.5,629.2h0.8v0.8h-0.8zM297.8,640.2h0.8v0.8h-0.8zM296.6,631.3h0.8v0.8h-0.8zM285.0,632.9h0.8v0.8h-0.8zM297.2,633.1h0.8v0.8h-0.8zM293.3,632.6h0.8v0.8h-0.8zM301.3,631.5h0.8v0.8h-0.8zM282.0,635.4h0.8v0.8h-0.8zM308.2,640.4h0.8v0.8h-0.8zM288.9,637.0h0.8v0.8h-0.8zM291.6,637.9h0.8v0.8h-0.8zM290.2,627.5h0.8v0.8h-0.8zM295.4,635.7h0.8v0.8h-0.8zM300.7,642.8h0.8v0.8h-0.8zM298.0,635.8h0.8v0.8h-0.8zM286.2,634.6h0.8v0.8h-0.8zM295.9,629.2h0.8v0.8h-0.8zM311.6,631.3h0.8v0.8h-0.8zM307.9,636.9h0.8v0.8h-0.8zM281.7,640.8h0.8v0.8h-0.8zM288.8,639.8h0.8v0.8h-0.8zM289.0,636.3h0.8v0.8h-0.8zM290.2,639.2h0.8v0.8h-0.8zM290.3,640.1h0.8v0.8h-0.8zM310.4,648.4h0.8v0.8h-0.8zM276.3,641.5h0.8v0.8h-0.8zM304.9,630.1h0.8v0.8h-0.8zM274.1,628.9h0.8v0.8h-0.8zM277.2,656.3h0.8v0.8h-0.8zM266.8,644.7h0.8v0.8h-0.8zM303.0,648.4h0.8v0.8h-0.8zM283.5,643.4h0.8v0.8h-0.8zM279.6,639.1h0.8v0.8h-0.8zM310.3,631.2h0.8v0.8h-0.8zM300.2,648.8h0.8v0.8h-0.8zM305.1,626.7h0.8v0.8h-0.8zM297.5,650.7h0.8v0.8h-0.8zM287.0,637.1h0.8v0.8h-0.8zM311.4,630.5h0.8v0.8h-0.8zM303.0,635.3h0.8v0.8h-0.8zM295.5,649.5h0.8v0.8h-0.8zM275.7,646.2h0.8v0.8h-0.8zM288.9,640.1h0.8v0.8h-0.8zM313.7,630.6h0.8v0.8h-0.8zM301.3,628.9h0.8v0.8h-0.8zM302.5,640.8h0.8v0.8h-0.8zM306.6,642.1h0.8v0.8h-0.8zM304.9,639.2h0.8v0.8h-0.8zM304.3,632.2h0.8v0.8h-0.8zM316.8,640.8h0.8v0.8h-0.8zM302.6,637.1h0.8v0.8h-0.8zM276.8,637.5h0.8v0.8h-0.8zM294.9,628.0h0.8v0.8h-0.8zM292.4,634.0h0.8v0.8h-0.8zM301.6,633.9h0.8v0.8h-0.8zM294.7,644.4h0.8v0.8h-0.8zM266.5,641.6h0.8v0.8h-0.8zM284.8,649.7h0.8v0.8h-0.8zM296.8,626.5h0.8v0.8h-0.8zM269.1,644.0h0.8v0.8h-0.8zM302.0,643.8h0.8v0.8h-0.8zM301.4,627.5h0.8v0.8h-0.8zM301.2,639.8h0.8v0.8h-0.8zM275.6,637.8h0.8v0.8h-0.8zM304.0,635.9h0.8v0.8h-0.8zM306.4,637.5h0.8v0.8h-0.8zM296.7,618.2h0.8v0.8h-0.8zM305.1,631.6h0.8v0.8h-0.8zM292.3,637.6h0.8v0.8h-0.8zM297.3,630.2h0.8v0.8h-0.8zM276.9,621.2h0.8v0.8h-0.8zM310.5,617.5h0.8v0.8h-0.8zM289.5,634.6h0.8v0.8h-0.8zM297.8,640.6h0.8v0.8h-0.8zM279.8,655.0h0.8v0.8h-0.8zM273.7,631.4h0.8v0.8h-0.8zM287.4,639.6h0.8v0.8h-0.8zM296.4,639.8h0.8v0.8h-0.8zM293.0,645.4h0.8v0.8h-0.8zM316.1,640.8h0.8v0.8h-0.8zM310.9,634.1h0.8v0.8h-0.8zM310.1,641.8h0.8v0.8h-0.8zM305.0,637.4h0.8v0.8h-0.8zM303.5,631.8h0.8v0.8h-0.8zM298.0,629.5h0.8v0.8h-0.8zM290.8,642.3h0.8v0.8h-0.8zM283.4,650.3h0.8v0.8h-0.8zM299.9,642.6h0.8v0.8h-0.8zM307.2,636.1h0.8v0.8h-0.8zM276.2,633.4h0.8v0.8h-0.8zM307.3,627.8h0.8v0.8h-0.8zM280.1,644.8h0.8v0.8h-0.8zM305.7,637.6h0.8v0.8h-0.8zM300.1,631.2h0.8v0.8h-0.8zM277.6,639.7h0.8v0.8h-0.8zM293.4,634.2h0.8v0.8h-0.8zM306.9,628.0h0.8v0.8h-0.8zM287.6,643.1h0.8v0.8h-0.8zM284.9,634.9h0.8v0.8h-0.8zM309.2,636.3h0.8v0.8h-0.8zM280.3,646.7h0.8v0.8h-0.8zM288.5,642.2h0.8v0.8h-0.8zM266.4,641.2h0.8v0.8h-0.8zM297.8,639.5h0.8v0.8h-0.8zM301.0,655.0h0.8v0.8h-0.8zM273.1,638.3h0.8v0.8h-0.8zM296.5,640.2h0.8v0.8h-0.8zM280.2,634.8h0.8v0.8h-0.8zM296.2,639.2h0.8v0.8h-0.8zM310.1,621.5h0.8v0.8h-0.8zM296.4,632.4h0.8v0.8h-0.8zM303.2,629.3h0.8v0.8h-0.8zM275.8,637.1h0.8v0.8h-0.8zM295.8,644.4h0.8v0.8h-0.8zM317.4,627.6h0.8v0.8h-0.8zM285.7,633.1h0.8v0.8h-0.8zM279.6,631.1h0.8v0.8h-0.8zM296.4,637.2h0.8v0.8h-0.8zM277.0,628.7h0.8v0.8h-0.8zM307.0,619.9h0.8v0.8h-0.8zM293.3,643.1h0.8v0.8h-0.8zM299.8,635.3h0.8v0.8h-0.8zM294.8,644.4h0.8v0.8h-0.8zM308.8,645.1h0.8v0.8h-0.8zM310.4,643.2h0.8v0.8h-0.8zM280.4,635.3h0.8v0.8h-0.8zM290.1,640.5h0.8v0.8h-0.8zM315.1,633.3h0.8v0.8h-0.8zM308.9,644.4h0.8v0.8h-0.8z" fill="#3a3ad0" opacity="0.45"/>
<path d="M285.9,626.4h0.8v0.8h-0.8zM307.1,614.6h0.8v0.8h-0.8zM303.6,624.0h0.8v0.8h-0.8zM303.8,622.1h0.8v0.8h-0.8zM302.9,625.6h0.8v0.8h-0.8zM308.8,618.2h0.8v0.8h-0.8zM283.1,620.8h0.8v0.8h-0.8zM299.4,634.8h0.8v0.8h-0.8zM308.5,631.3h0.8v0.8h-0.8zM323.6,619.4h0.8v0.8h-0.8zM296.5,628.7h0.8v0.8h-0.8zM316.2,616.0h0.8v0.8h-0.8zM301.8,622.8h0.8v0.8h-0.8zM299.0,626.2h0.8v0.8h-0.8zM310.2,615.8h0.8v0.8h-0.8zM296.5,622.8h0.8v0.8h-0.8zM322.1,626.6h0.8v0.8h-0.8zM305.9,629.9h0.8v0.8h-0.8zM299.5,632.5h0.8v0.8h-0.8zM315.6,623.3h0.8v0.8h-0.8zM304.3,614.5h0.8v0.8h-0.8zM282.3,635.0h0.8v0.8h-0.8zM301.8,627.6h0.8v0.8h-0.8zM285.0,639.8h0.8v0.8h-0.8zM285.7,628.4h0.8v0.8h-0.8zM293.2,625.3h0.8v0.8h-0.8zM303.7,626.5h0.8v0.8h-0.8zM306.3,637.7h0.8v0.8h-0.8zM292.2,627.8h0.8v0.8h-0.8zM306.1,623.7h0.8v0.8h-0.8zM318.6,613.8h0.8v0.8h-0.8zM279.5,619.0h0.8v0.8h-0.8zM303.9,630.8h0.8v0.8h-0.8zM311.5,622.3h0.8v0.8h-0.8zM304.1,635.1h0.8v0.8h-0.8zM283.0,621.2h0.8v0.8h-0.8zM323.1,623.1h0.8v0.8h-0.8zM315.0,628.8h0.8v0.8h-0.8zM293.2,622.7h0.8v0.8h-0.8zM289.5,624.0h0.8v0.8h-0.8zM288.2,622.9h0.8v0.8h-0.8zM296.1,630.6h0.8v0.8h-0.8zM298.2,629.3h0.8v0.8h-0.8zM299.5,633.3h0.8v0.8h-0.8zM296.9,623.6h0.8v0.8h-0.8zM304.3,626.0h0.8v0.8h-0.8zM314.1,627.9h0.8v0.8h-0.8zM294.6,621.2h0.8v0.8h-0.8zM294.9,624.7h0.8v0.8h-0.8zM317.8,615.7h0.8v0.8h-0.8zM315.7,628.7h0.8v0.8h-0.8zM288.3,623.4h0.8v0.8h-0.8zM278.3,618.9h0.8v0.8h-0.8zM311.9,623.9h0.8v0.8h-0.8zM310.5,616.7h0.8v0.8h-0.8zM313.4,623.1h0.8v0.8h-0.8zM305.5,629.8h0.8v0.8h-0.8zM309.6,628.6h0.8v0.8h-0.8zM280.2,616.4h0.8v0.8h-0.8zM298.5,627.3h0.8v0.8h-0.8zM312.7,626.2h0.8v0.8h-0.8zM302.6,628.6h0.8v0.8h-0.8zM301.7,619.7h0.8v0.8h-0.8zM300.8,618.4h0.8v0.8h-0.8zM284.0,622.7h0.8v0.8h-0.8zM312.0,620.4h0.8v0.8h-0.8zM317.5,628.9h0.8v0.8h-0.8zM306.9,614.4h0.8v0.8h-0.8zM287.1,624.5h0.8v0.8h-0.8zM296.6,631.6h0.8v0.8h-0.8zM289.9,630.9h0.8v0.8h-0.8zM294.5,616.6h0.8v0.8h-0.8zM305.2,631.7h0.8v0.8h-0.8zM303.0,618.7h0.8v0.8h-0.8zM289.9,618.6h0.8v0.8h-0.8zM302.2,618.9h0.8v0.8h-0.8zM294.2,630.6h0.8v0.8h-0.8zM293.1,616.5h0.8v0.8h-0.8zM304.4,630.6h0.8v0.8h-0.8zM289.1,629.9h0.8v0.8h-0.8zM296.4,621.4h0.8v0.8h-0.8zM316.0,632.5h0.8v0.8h-0.8zM296.4,632.2h0.8v0.8h-0.8zM311.6,626.5h0.8v0.8h-0.8zM293.5,631.6h0.8v0.8h-0.8zM298.7,619.1h0.8v0.8h-0.8zM307.0,611.5h0.8v0.8h-0.8zM297.6,616.4h0.8v0.8h-0.8zM315.7,628.3h0.8v0.8h-0.8zM312.4,618.7h0.8v0.8h-0.8zM305.3,626.9h0.8v0.8h-0.8zM294.0,618.1h0.8v0.8h-0.8zM296.5,628.3h0.8v0.8h-0.8zM275.2,620.2h0.8v0.8h-0.8zM309.3,634.4h0.8v0.8h-0.8zM297.6,612.7h0.8v0.8h-0.8zM295.9,629.6h0.8v0.8h-0.8zM297.5,627.8h0.8v0.8h-0.8zM285.1,625.2h0.8v0.8h-0.8zM287.5,624.9h0.8v0.8h-0.8zM304.6,628.3h0.8v0.8h-0.8zM296.6,610.2h0.8v0.8h-0.8zM300.0,623.0h0.8v0.8h-0.8zM287.8,614.8h0.8v0.8h-0.8zM297.6,625.5h0.8v0.8h-0.8zM303.5,628.7h0.8v0.8h-0.8zM303.5,632.7h0.8v0.8h-0.8zM307.1,620.5h0.8v0.8h-0.8zM311.3,627.2h0.8v0.8h-0.8zM296.0,620.0h0.8v0.8h-0.8zM296.3,619.3h0.8v0.8h-0.8zM293.5,622.7h0.8v0.8h-0.8zM312.0,616.0h0.8v0.8h-0.8zM290.3,620.2h0.8v0.8h-0.8zM300.6,621.4h0.8v0.8h-0.8zM309.5,620.3h0.8v0.8h-0.8zM286.2,633.5h0.8v0.8h-0.8zM302.5,619.8h0.8v0.8h-0.8zM283.0,630.3h0.8v0.8h-0.8zM301.8,632.0h0.8v0.8h-0.8zM296.6,640.2h0.8v0.8h-0.8zM292.0,631.6h0.8v0.8h-0.8zM296.3,628.0h0.8v0.8h-0.8zM285.6,633.3h0.8v0.8h-0.8zM298.1,628.1h0.8v0.8h-0.8zM296.4,620.3h0.8v0.8h-0.8zM303.1,626.4h0.8v0.8h-0.8zM313.0,615.4h0.8v0.8h-0.8zM294.1,630.4h0.8v0.8h-0.8zM311.7,619.3h0.8v0.8h-0.8zM294.0,608.2h0.8v0.8h-0.8zM286.6,619.8h0.8v0.8h-0.8zM288.5,625.4h0.8v0.8h-0.8zM305.2,615.8h0.8v0.8h-0.8zM287.2,624.0h0.8v0.8h-0.8zM288.5,626.3h0.8v0.8h-0.8zM304.0,624.2h0.8v0.8h-0.8zM278.8,636.4h0.8v0.8h-0.8zM301.8,619.4h0.8v0.8h-0.8zM297.4,609.0h0.8v0.8h-0.8zM290.9,627.6h0.8v0.8h-0.8zM297.2,634.6h0.8v0.8h-0.8zM302.4,629.1h0.8v0.8h-0.8zM293.1,626.9h0.8v0.8h-0.8zM308.0,610.5h0.8v0.8h-0.8zM290.5,621.7h0.8v0.8h-0.8zM300.7,621.2h0.8v0.8h-0.8zM298.1,621.0h0.8v0.8h-0.8zM288.5,633.9h0.8v0.8h-0.8zM296.9,620.6h0.8v0.8h-0.8zM290.1,626.4h0.8v0.8h-0.8zM315.9,613.4h0.8v0.8h-0.8zM290.5,631.3h0.8v0.8h-0.8zM286.7,617.2h0.8v0.8h-0.8zM315.0,607.7h0.8v0.8h-0.8zM299.1,627.1h0.8v0.8h-0.8zM277.0,638.6h0.8v0.8h-0.8zM305.4,619.6h0.8v0.8h-0.8zM295.3,627.0h0.8v0.8h-0.8zM290.5,640.8h0.8v0.8h-0.8zM297.7,622.4h0.8v0.8h-0.8zM290.7,633.6h0.8v0.8h-0.8zM293.9,618.5h0.8v0.8h-0.8zM294.0,644.7h0.8v0.8h-0.8zM288.7,633.0h0.8v0.8h-0.8zM281.8,640.7h0.8v0.8h-0.8zM305.0,621.7h0.8v0.8h-0.8zM302.9,622.4h0.8v0.8h-0.8zM306.4,627.5h0.8v0.8h-0.8zM300.3,630.5h0.8v0.8h-0.8zM303.1,611.1h0.8v0.8h-0.8zM309.1,634.9h0.8v0.8h-0.8zM305.8,635.6h0.8v0.8h-0.8zM279.0,621.9h0.8v0.8h-0.8zM313.7,635.0h0.8v0.8h-0.8zM303.9,618.7h0.8v0.8h-0.8zM307.8,619.1h0.8v0.8h-0.8zM286.8,624.3h0.8v0.8h-0.8zM302.4,631.9h0.8v0.8h-0.8zM283.0,627.3h0.8v0.8h-0.8zM293.7,605.3h0.8v0.8h-0.8zM298.0,624.5h0.8v0.8h-0.8zM309.9,628.9h0.8v0.8h-0.8zM281.1,625.1h0.8v0.8h-0.8zM316.2,631.2h0.8v0.8h-0.8zM279.7,638.4h0.8v0.8h-0.8zM310.1,631.1h0.8v0.8h-0.8zM298.1,629.7h0.8v0.8h-0.8zM287.8,625.1h0.8v0.8h-0.8zM307.2,635.7h0.8v0.8h-0.8zM298.1,615.0h0.8v0.8h-0.8zM300.5,631.4h0.8v0.8h-0.8zM295.2,615.1h0.8v0.8h-0.8zM311.0,629.8h0.8v0.8h-0.8zM303.2,609.7h0.8v0.8h-0.8zM306.0,624.5h0.8v0.8h-0.8zM314.3,629.1h0.8v0.8h-0.8zM289.7,629.3h0.8v0.8h-0.8zM307.0,620.3h0.8v0.8h-0.8z" fill="#3a3ad0" opacity="0.45"/>
<ellipse cx="296.00" cy="637.50" rx="21.00" ry="10.00" transform="rotate(-15 296.00 637.50)" fill="none" stroke="#2828d0" stroke-width="0.6" opacity="0.9"/>
<ellipse cx="295.91" cy="637.61" rx="20.04" ry="9.54" transform="rotate(-15 295.91 637.61)" fill="none" stroke="#2828d0" stroke-width="0.6" opacity="0.9"/>
<ellipse cx="295.82" cy="637.73" rx="19.08" ry="9.09" transform="rotate(-15 295.82 637.73)" fill="none" stroke="#2828d0" stroke-width="0.6" opacity="0.9"/>
<ellipse cx="295.73" cy="637.84" rx="18.12" ry="8.63" transform="rotate(-15 295.73 637.84)" fill="none" stroke="#2828d0" stroke-width="0.6" opacity="0.9"/>
<ellipse cx="295.63" cy="637.96" rx="17.16" ry="8.17" transform="rotate(-15 295.63 637.96)" fill="none" stroke="#2828d0" stroke-width="0.6" opacity="0.9"/>
<ellipse cx="295.54" cy="638.07" rx="16.20" ry="7.71" transform="rotate(-15 295.54 638.07)" fill="none" stroke="#2828d0" stroke-width="0.6" opacity="0.9"/>
<ellipse cx="295.45" cy="638.19" rx="15.24" ry="7.26" transform="rotate(-15 295.45 638.19)" fill="none" stroke="#2828d0" stroke-width="0.6" opacity="0.9"/>
<ellipse cx="295.36" cy="638.30" rx="14.28" ry="6.80" transform="rotate(-15 295.36 638.30)" fill="none" stroke="#2828d0" stroke-width="0.6" opacity="0.9"/>
<ellipse cx="292.30" cy="640.00" rx="15.20" ry="6.50" transform="rotate(-12 292.30 640.00)" fill="#1e1ed6" stroke="none" stroke-width="0.5" opacity="1"/>
<ellipse cx="293.50" cy="639.80" rx="12.00" ry="5.40" transform="rotate(-12 293.50 639.80)" fill="#10c8f0" stroke="none" stroke-width="0.5" opacity="1"/>
<ellipse cx="294.50" cy="639.50" rx="9.80" ry="4.60" transform="rotate(-12 294.50 639.50)" fill="#28c428" stroke="none" stroke-width="0.5" opacity="1"/>
<ellipse cx="295.00" cy="639.30" rx="8.00" ry="3.80" transform="rotate(-12 295.00 639.30)" fill="#f0f010" stroke="none" stroke-width="0.5" opacity="1"/>
<ellipse cx="295.80" cy="639.20" rx="6.00" ry="2.90" transform="rotate(-12 295.80 639.20)" fill="#ff8a10" stroke="none" stroke-width="0.5" opacity="1"/>
<ellipse cx="296.20" cy="639.10" rx="4.50" ry="2.20" transform="rotate(-12 296.20 639.10)" fill="#ff1010" stroke="none" stroke-width="0.5" opacity="1"/>
<ellipse cx="297.00" cy="638.90" rx="1.60" ry="0.60" transform="rotate(-12 297.00 638.90)" fill="#fff0f0" stroke="none" stroke-width="0.5" opacity="1"/>
<line x1="264.60" y1="602.30" x2="264.60" y2="659.70" stroke="#34428a" stroke-width="1.3"/>
<line x1="264.10" y1="659.20" x2="325.00" y2="659.20" stroke="#34428a" stroke-width="1.3"/>
<line x1="291.50" y1="602.30" x2="291.50" y2="659.20" stroke="#5a5a5a" stroke-width="0.8"/>
<line x1="264.60" y1="633.10" x2="325.00" y2="633.10" stroke="#5a5a5a" stroke-width="0.8"/>
<text x="248.64" y="608.40" font-size="8.51" textLength="8.85" lengthAdjust="spacingAndGlyphs" fill="#5450aa" stroke="#5450aa" stroke-width="0.3">10</text>
<text x="257.59" y="604.50" font-size="5.95" fill="#5450aa" stroke="#5450aa" stroke-width="0.22">4</text>
<text x="248.64" y="626.70" font-size="8.51" textLength="8.85" lengthAdjust="spacingAndGlyphs" fill="#5450aa" stroke="#5450aa" stroke-width="0.3">10</text>
<text x="257.59" y="622.80" font-size="5.95" fill="#5450aa" stroke="#5450aa" stroke-width="0.22">3</text>
<text x="248.64" y="645.10" font-size="8.51" textLength="8.85" lengthAdjust="spacingAndGlyphs" fill="#5450aa" stroke="#5450aa" stroke-width="0.3">10</text>
<text x="257.59" y="641.20" font-size="5.95" fill="#5450aa" stroke="#5450aa" stroke-width="0.22">2</text>
<text x="248.64" y="661.80" font-size="8.51" textLength="8.85" lengthAdjust="spacingAndGlyphs" fill="#5450aa" stroke="#5450aa" stroke-width="0.3">10</text>
<text x="257.59" y="657.90" font-size="5.95" fill="#5450aa" stroke="#5450aa" stroke-width="0.22">1</text>
<text x="262.17" y="671.80" font-size="8.51" textLength="8.85" lengthAdjust="spacingAndGlyphs" fill="#5450aa" stroke="#5450aa" stroke-width="0.3">10</text>
<text x="271.12" y="667.90" font-size="5.95" fill="#5450aa" stroke="#5450aa" stroke-width="0.22">1</text>
<text x="279.97" y="671.80" font-size="8.51" textLength="8.85" lengthAdjust="spacingAndGlyphs" fill="#5450aa" stroke="#5450aa" stroke-width="0.3">10</text>
<text x="288.92" y="667.90" font-size="5.95" fill="#5450aa" stroke="#5450aa" stroke-width="0.22">2</text>
<text x="299.67" y="671.80" font-size="8.51" textLength="8.85" lengthAdjust="spacingAndGlyphs" fill="#5450aa" stroke="#5450aa" stroke-width="0.3">10</text>
<text x="308.62" y="667.90" font-size="5.95" fill="#5450aa" stroke="#5450aa" stroke-width="0.22">3</text>
<text x="319.87" y="671.80" font-size="8.51" textLength="8.85" lengthAdjust="spacingAndGlyphs" fill="#5450aa" stroke="#5450aa" stroke-width="0.3">10</text>
<text x="328.82" y="667.90" font-size="5.95" fill="#5450aa" stroke="#5450aa" stroke-width="0.22">4</text>
<text x="265.00" y="610.20" font-size="8.2" font-weight="bold" textLength="21.5" lengthAdjust="spacingAndGlyphs" fill="#111" stroke="#111" stroke-width="0.3">0.19%</text>
<text x="303.00" y="610.20" font-size="8.2" font-weight="bold" textLength="21.6" lengthAdjust="spacingAndGlyphs" fill="#111" stroke="#111" stroke-width="0.3">7.35%</text>
<text x="265.00" y="658.20" font-size="8.2" font-weight="bold" textLength="25.4" lengthAdjust="spacingAndGlyphs" fill="#111" stroke="#111" stroke-width="0.3">26.11%</text>
<text x="298.70" y="658.20" font-size="8.2" font-weight="bold" textLength="25.9" lengthAdjust="spacingAndGlyphs" fill="#111" stroke="#111" stroke-width="0.3">66.36%</text>
<line x1="374.70" y1="515.60" x2="374.70" y2="621.80" stroke="#000" stroke-width="1.2"/>
<line x1="374.70" y1="621.20" x2="474.70" y2="621.20" stroke="#000" stroke-width="1.3"/>
<line x1="371.70" y1="621.00" x2="374.70" y2="621.00" stroke="#000" stroke-width="0.9"/>
<text x="368.30" y="623.90" font-size="8.4" text-anchor="end" fill="#000">0</text>
<line x1="371.70" y1="587.13" x2="374.70" y2="587.13" stroke="#000" stroke-width="0.9"/>
<text x="368.30" y="590.03" font-size="8.4" text-anchor="end" fill="#000">5</text>
<line x1="371.70" y1="553.27" x2="374.70" y2="553.27" stroke="#000" stroke-width="0.9"/>
<text x="368.30" y="556.17" font-size="8.4" text-anchor="end" fill="#000">10</text>
<line x1="371.70" y1="519.40" x2="374.70" y2="519.40" stroke="#000" stroke-width="0.9"/>
<text x="368.30" y="522.30" font-size="8.4" text-anchor="end" fill="#000">15</text>
<line x1="399.20" y1="621.00" x2="399.20" y2="623.80" stroke="#000" stroke-width="0.9"/>
<line x1="450.00" y1="621.00" x2="450.00" y2="623.80" stroke="#000" stroke-width="0.9"/>
<text x="399.50" y="635.20" font-size="8.4" text-anchor="middle" fill="#000">Treg</text>
<text x="450.00" y="635.20" font-size="8.4" text-anchor="middle" fill="#000">iTreg</text>
<text transform="translate(352.90 600.90) rotate(-90) scale(0.6964 1)" font-size="9.3" fill="#000" stroke="#000" stroke-width="0.3"><tspan>% CD4</tspan><tspan font-size="6.98" dy="-3.53">+</tspan><tspan font-size="9.30" dy="3.53">CD25</tspan><tspan font-size="6.98" dy="-3.53">+</tspan><tspan font-size="9.30" dy="3.53">FoxP3</tspan><tspan font-size="6.98" dy="-3.53">+</tspan></text>
<text x="446.60" y="516.80" font-size="8.2" textLength="10.6" lengthAdjust="spacingAndGlyphs" fill="#000">NS</text>
<path d="M437.3,524 V521.3 H466.9 V524" fill="none" stroke="#000" stroke-width="0.9"/>
<path d="M437.3,535.7 V533.1 H452.5 V535.7" fill="none" stroke="#000" stroke-width="0.9"/>
<circle cx="444.50" cy="529.40" r="0.85" fill="#000"/>
<circle cx="437.30" cy="543.10" r="1.90" fill="#52a226"/>
<circle cx="437.30" cy="550.50" r="1.90" fill="#52a226"/>
<circle cx="437.30" cy="556.40" r="1.90" fill="#52a226"/>
<circle cx="433.50" cy="574.80" r="1.90" fill="#52a226"/>
<circle cx="441.50" cy="572.70" r="1.90" fill="#52a226"/>
<circle cx="437.30" cy="582.20" r="1.90" fill="#52a226"/>
<line x1="431.80" y1="563.20" x2="443.00" y2="563.20" stroke="#000" stroke-width="1"/>
<path d="M435.3,556.8 H439.3 M437.3,556.8 V569.5 M435.3,569.5 H439.3" stroke="#52a226" stroke-width="0.8" fill="none"/>
<rect x="448.30" y="567.20" width="3.40" height="3.40" fill="#a8041f"/>
<rect x="444.90" y="605.30" width="3.40" height="3.40" fill="#a8041f"/>
<rect x="451.90" y="607.40" width="3.40" height="3.40" fill="#a8041f"/>
<rect x="444.90" y="612.30" width="3.40" height="3.40" fill="#a8041f"/>
<rect x="448.70" y="617.50" width="3.40" height="3.40" fill="#a8041f"/>
<rect x="448.30" y="600.60" width="3.40" height="3.40" fill="#a8041f"/>
<path d="M448,596.4 H452 M450,596.4 V609.7 M448,609.7 H452" stroke="#c02040" stroke-width="0.8" fill="none"/>
<line x1="444.00" y1="603.40" x2="455.70" y2="603.40" stroke="#000" stroke-width="1"/>
<path d="M461.30,563.32 H464.90 L463.10,560.08 Z" fill="#1a408a"/>
<path d="M458.70,579.62 H462.30 L460.50,576.38 Z" fill="#1a408a"/>
<path d="M457.70,585.32 H461.30 L459.50,582.08 Z" fill="#1a408a"/>
<path d="M461.90,582.82 H465.50 L463.70,579.58 Z" fill="#1a408a"/>
<path d="M465.50,582.82 H469.10 L467.30,579.58 Z" fill="#1a408a"/>
<path d="M461.70,580.12 H465.30 L463.50,576.88 Z" fill="#1a408a"/>
<path d="M461.5,573.1 H465.5 M463.5,573.1 V581 M461.5,581 H465.5" stroke="#3a5ea0" stroke-width="0.8" fill="none"/>
<line x1="458.40" y1="577.30" x2="469.00" y2="577.30" stroke="#000" stroke-width="1"/>
<circle cx="382.70" cy="603.40" r="1.90" fill="#52a226"/>
<circle cx="390.50" cy="600.20" r="1.90" fill="#52a226"/>
<circle cx="386.30" cy="608.70" r="1.90" fill="#52a226"/>
<circle cx="390.50" cy="608.70" r="1.90" fill="#52a226"/>
<circle cx="386.30" cy="614.60" r="1.90" fill="#52a226"/>
<circle cx="386.30" cy="620.30" r="1.90" fill="#52a226"/>
<line x1="380.50" y1="609.30" x2="392.00" y2="609.30" stroke="#000" stroke-width="1"/>
<rect x="393.70" y="611.30" width="3.40" height="3.40" fill="#a8041f"/>
<rect x="395.30" y="606.00" width="3.40" height="3.40" fill="#a8041f"/>
<rect x="398.80" y="604.30" width="3.40" height="3.40" fill="#a8041f"/>
<rect x="401.30" y="607.80" width="3.40" height="3.40" fill="#a8041f"/>
<rect x="396.80" y="608.80" width="3.40" height="3.40" fill="#a8041f"/>
<rect x="399.30" y="607.60" width="3.40" height="3.40" fill="#a8041f"/>
<path d="M406.70,610.62 H410.30 L408.50,607.38 Z" fill="#1a408a"/>
<path d="M409.70,607.62 H413.30 L411.50,604.38 Z" fill="#1a408a"/>
<path d="M412.20,609.12 H415.80 L414.00,605.88 Z" fill="#1a408a"/>
<path d="M414.70,610.62 H418.30 L416.50,607.38 Z" fill="#1a408a"/>
<path d="M410.20,611.12 H413.80 L412.00,607.88 Z" fill="#1a408a"/>
<line x1="407.50" y1="607.40" x2="417.50" y2="607.40" stroke="#000" stroke-width="1"/>
<rect x="380.20" y="647.00" width="7.50" height="6.20" fill="#52a226"/>
<text x="391.20" y="653.20" font-size="8.3" textLength="18" lengthAdjust="spacingAndGlyphs" fill="#000">No tx.</text>
<rect x="418.30" y="647.00" width="7.80" height="6.20" fill="#a8041f"/>
<text x="428.30" y="653.20" font-size="8.3" textLength="12.1" lengthAdjust="spacingAndGlyphs" fill="#000">+D</text>
<rect x="448.80" y="647.00" width="7.70" height="6.20" fill="#1a408a"/>
<text x="458.70" y="653.20" font-size="8.3" textLength="11.1" lengthAdjust="spacingAndGlyphs" fill="#000">+K</text>
<rect x="0.6" y="0.6" width="518.6" height="695.6" fill="none" stroke="#000" stroke-width="1.3"/>
</svg>
</body></html>
